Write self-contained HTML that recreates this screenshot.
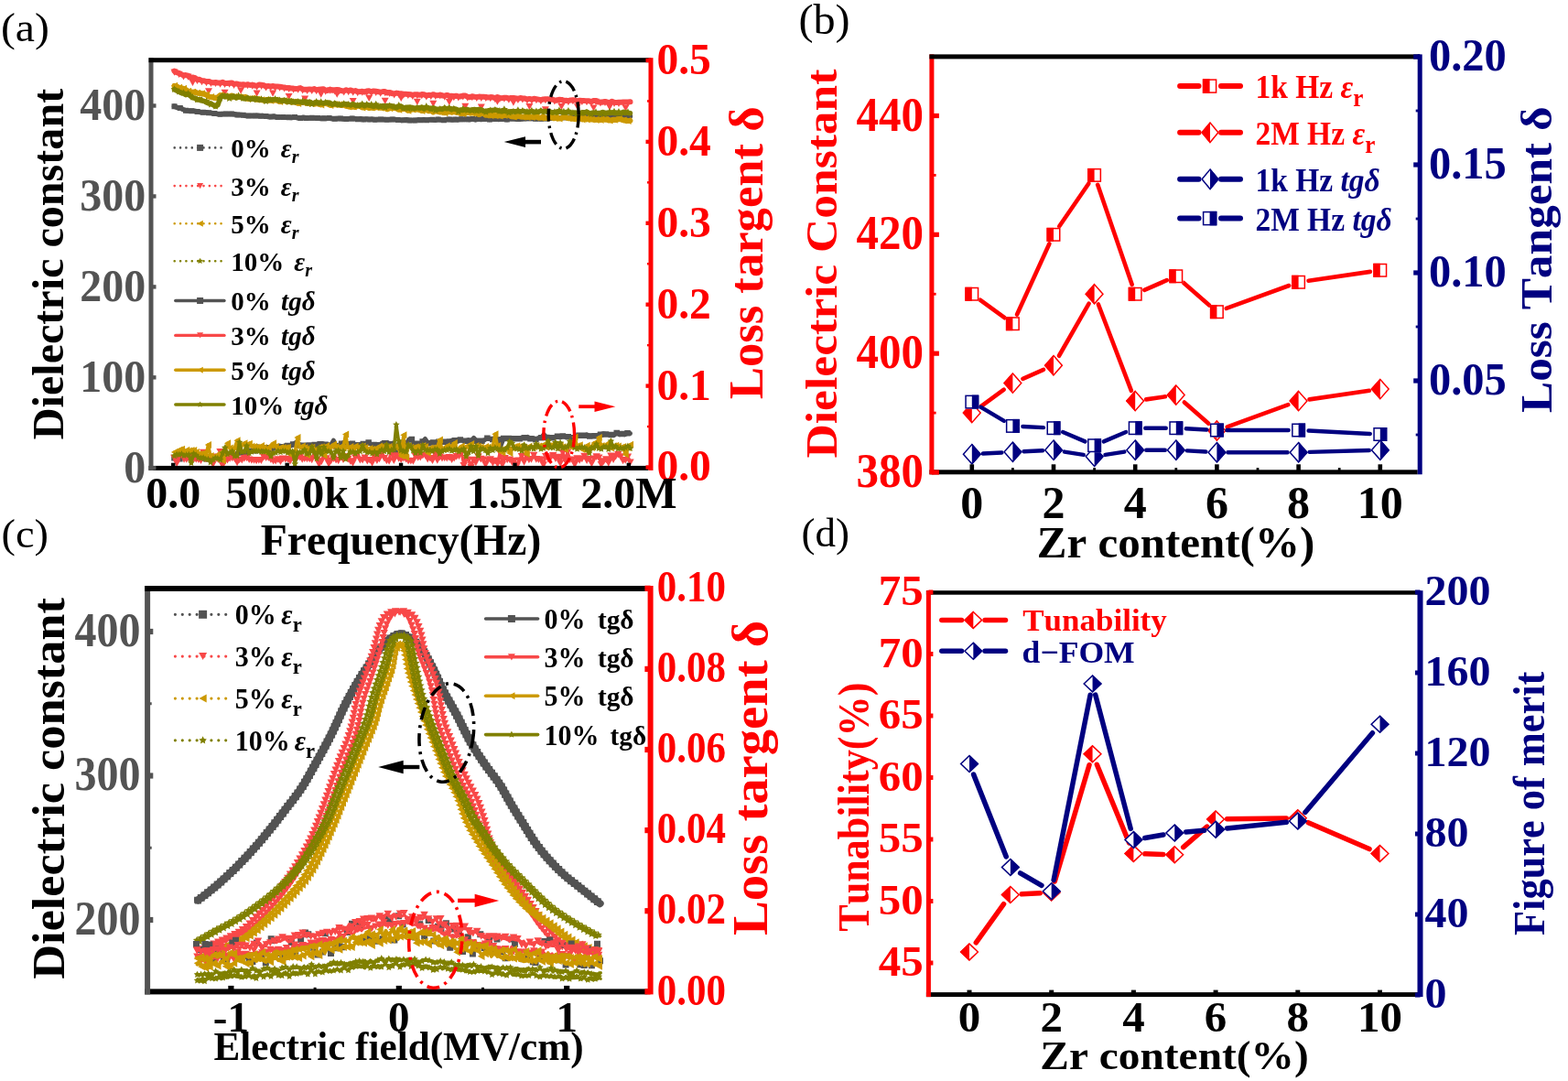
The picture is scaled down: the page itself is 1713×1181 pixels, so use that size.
<!DOCTYPE html>
<html><head><meta charset="utf-8"><title>Figure</title>
<style>html,body{margin:0;padding:0;background:#fff;}svg{display:block;}text{font-kerning:none;}</style></head>
<body><svg width="1713" height="1181" viewBox="0 0 1713 1181" font-family='"Liberation Serif", "Times New Roman", serif' font-weight="bold">
<rect width="1713" height="1181" fill="#fff"/>
<g id="pa">
<polyline points="190.5,116.2 193.6,117.6 196.8,118.1 199.9,119.5 203.0,120.7 206.2,121.0 209.3,121.3 212.4,121.3 215.6,122.0 218.7,122.4 221.8,122.7 225.0,122.7 228.1,123.3 231.2,123.5 234.3,124.0 237.5,124.5 240.6,124.7 243.7,124.5 246.9,124.6 250.0,124.6 253.1,124.6 256.3,124.8 259.4,125.5 262.5,125.5 265.7,125.8 268.8,126.5 271.9,126.4 275.1,126.6 278.2,126.4 281.3,126.3 284.5,126.7 287.6,126.6 290.7,127.1 293.9,127.7 297.0,127.5 300.1,127.1 303.3,128.0 306.4,128.0 309.5,128.0 312.7,128.3 315.8,128.3 318.9,128.4 322.0,128.1 325.2,128.8 328.3,128.9 331.4,128.3 334.6,129.0 337.7,129.0 340.8,128.8 344.0,129.0 347.1,129.0 350.2,129.5 353.4,129.2 356.5,129.6 359.6,129.1 362.8,129.7 365.9,129.8 369.0,129.5 372.2,129.6 375.3,130.0 378.4,129.9 381.6,129.7 384.7,129.6 387.8,129.7 391.0,130.2 394.1,129.7 397.2,130.5 400.3,129.9 403.5,130.6 406.6,130.1 409.7,130.8 412.9,130.6 416.0,130.5 419.1,130.6 422.3,130.8 425.4,130.8 428.5,130.6 431.7,130.6 434.8,130.9 437.9,131.4 441.1,131.2 444.2,130.7 447.3,131.5 450.5,131.4 453.6,131.6 456.7,130.8 459.9,131.3 463.0,130.6 466.1,131.2 469.3,130.8 472.4,130.7 475.5,131.3 478.7,130.5 481.8,130.9 484.9,131.2 488.0,130.5 491.2,130.5 494.3,131.1 497.4,130.6 500.6,130.9 503.7,130.2 506.8,130.5 510.0,130.2 513.1,130.7 516.2,130.1 519.4,130.9 522.5,130.0 525.6,130.6 528.8,129.9 531.9,130.1 535.0,130.6 538.2,129.9 541.3,129.9 544.4,130.4 547.6,130.1 550.7,129.7 553.8,130.6 557.0,129.7 560.1,129.6 563.2,129.9 566.3,130.1 569.5,130.1 572.6,129.4 575.7,129.6 578.9,129.2 582.0,129.5 585.1,129.7 588.3,129.6 591.4,129.7 594.5,129.4 597.7,129.5 600.8,129.2 603.9,128.9 607.1,128.6 610.2,128.9 613.3,128.5 616.5,128.2 619.6,128.4 622.7,128.8 625.9,127.9 629.0,128.3 632.1,128.0 635.3,128.0 638.4,127.6 641.5,128.3 644.7,127.5 647.8,127.8 650.9,127.5 654.0,127.0 657.2,127.5 660.3,126.9 663.4,126.8 666.6,126.7 669.7,126.7 672.8,126.5 676.0,127.0 679.1,126.8 682.2,127.2 685.4,127.0 688.5,127.0" fill="none" stroke="#535353" stroke-width="5.5" stroke-linejoin="round" stroke-linecap="round"/>
<path d="M187.5 113.2h6.0v6.0h-6.0zM193.8 115.1h6.0v6.0h-6.0zM200.0 117.7h6.0v6.0h-6.0zM206.3 118.3h6.0v6.0h-6.0zM212.6 119.0h6.0v6.0h-6.0zM218.8 119.7h6.0v6.0h-6.0zM225.1 120.3h6.0v6.0h-6.0zM231.3 121.0h6.0v6.0h-6.0zM237.6 121.7h6.0v6.0h-6.0zM243.9 121.6h6.0v6.0h-6.0zM250.1 121.6h6.0v6.0h-6.0zM256.4 122.5h6.0v6.0h-6.0zM262.7 122.8h6.0v6.0h-6.0zM268.9 123.4h6.0v6.0h-6.0zM275.2 123.4h6.0v6.0h-6.0zM281.5 123.7h6.0v6.0h-6.0zM287.7 124.1h6.0v6.0h-6.0zM294.0 124.5h6.0v6.0h-6.0zM300.3 125.0h6.0v6.0h-6.0zM306.5 125.0h6.0v6.0h-6.0zM312.8 125.3h6.0v6.0h-6.0zM319.0 125.1h6.0v6.0h-6.0zM325.3 125.9h6.0v6.0h-6.0zM331.6 126.0h6.0v6.0h-6.0zM337.8 125.8h6.0v6.0h-6.0zM344.1 126.0h6.0v6.0h-6.0zM350.4 126.2h6.0v6.0h-6.0zM356.6 126.1h6.0v6.0h-6.0zM362.9 126.8h6.0v6.0h-6.0zM369.2 126.6h6.0v6.0h-6.0zM375.4 126.9h6.0v6.0h-6.0zM381.7 126.6h6.0v6.0h-6.0zM388.0 127.2h6.0v6.0h-6.0zM394.2 127.5h6.0v6.0h-6.0zM400.5 127.6h6.0v6.0h-6.0zM406.7 127.8h6.0v6.0h-6.0zM413.0 127.5h6.0v6.0h-6.0zM419.3 127.8h6.0v6.0h-6.0zM425.5 127.6h6.0v6.0h-6.0zM431.8 127.9h6.0v6.0h-6.0zM438.1 128.2h6.0v6.0h-6.0zM444.3 128.5h6.0v6.0h-6.0zM450.6 128.6h6.0v6.0h-6.0zM456.9 128.3h6.0v6.0h-6.0zM463.1 128.2h6.0v6.0h-6.0zM469.4 127.7h6.0v6.0h-6.0zM475.7 127.5h6.0v6.0h-6.0zM481.9 128.2h6.0v6.0h-6.0zM488.2 127.5h6.0v6.0h-6.0zM494.4 127.6h6.0v6.0h-6.0zM500.7 127.2h6.0v6.0h-6.0zM507.0 127.2h6.0v6.0h-6.0zM513.2 127.1h6.0v6.0h-6.0zM519.5 127.0h6.0v6.0h-6.0zM525.8 126.9h6.0v6.0h-6.0zM532.0 127.6h6.0v6.0h-6.0zM538.3 126.9h6.0v6.0h-6.0zM544.6 127.1h6.0v6.0h-6.0zM550.8 127.6h6.0v6.0h-6.0zM557.1 126.6h6.0v6.0h-6.0zM563.3 127.1h6.0v6.0h-6.0zM569.6 126.4h6.0v6.0h-6.0zM575.9 126.2h6.0v6.0h-6.0zM582.1 126.7h6.0v6.0h-6.0zM588.4 126.7h6.0v6.0h-6.0zM594.7 126.5h6.0v6.0h-6.0zM600.9 125.9h6.0v6.0h-6.0zM607.2 125.9h6.0v6.0h-6.0zM613.5 125.2h6.0v6.0h-6.0zM619.7 125.8h6.0v6.0h-6.0zM626.0 125.3h6.0v6.0h-6.0zM632.3 125.0h6.0v6.0h-6.0zM638.5 125.3h6.0v6.0h-6.0zM644.8 124.8h6.0v6.0h-6.0zM651.0 124.0h6.0v6.0h-6.0zM657.3 123.9h6.0v6.0h-6.0zM663.6 123.7h6.0v6.0h-6.0zM669.8 123.5h6.0v6.0h-6.0zM676.1 123.8h6.0v6.0h-6.0zM682.4 124.0h6.0v6.0h-6.0z" fill="#535353"/>
<polyline points="190.5,77.6 193.0,79.1 195.5,79.9 198.0,81.3 200.5,82.3 203.0,82.1 205.5,82.7 208.0,84.7 210.5,84.5 213.0,85.1 215.5,87.0 218.0,86.8 220.5,88.1 223.0,88.2 225.5,89.1 228.0,88.9 230.5,89.8 233.0,90.4 235.5,90.0 238.0,90.5 240.6,90.6 243.1,89.8 245.6,91.0 248.1,91.0 250.6,90.7 253.1,90.4 255.6,91.9 258.1,91.4 260.6,92.0 263.1,92.4 265.6,92.3 268.1,92.8 270.6,92.2 273.1,93.0 275.6,92.6 278.1,93.6 280.6,93.7 283.1,92.6 285.6,92.8 288.1,93.2 290.6,94.5 293.1,93.9 295.6,94.4 298.1,94.0 300.6,94.6 303.1,94.5 305.6,94.7 308.1,95.2 310.6,95.4 313.1,96.1 315.6,96.0 318.1,96.5 320.6,96.6 323.1,97.0 325.6,96.7 328.1,96.1 330.6,97.4 333.1,97.7 335.6,97.8 338.1,97.4 340.7,97.8 343.2,97.1 345.7,98.2 348.2,97.8 350.7,97.5 353.2,97.2 355.7,98.6 358.2,98.9 360.7,97.6 363.2,98.8 365.7,98.3 368.2,98.0 370.7,98.3 373.2,99.2 375.7,99.4 378.2,98.2 380.7,99.2 383.2,98.4 385.7,99.6 388.2,99.1 390.7,100.1 393.2,100.3 395.7,99.7 398.2,100.6 400.7,99.6 403.2,99.3 405.7,100.2 408.2,99.4 410.7,99.8 413.2,100.2 415.7,100.6 418.2,100.1 420.7,100.1 423.2,101.6 425.7,100.9 428.2,102.2 430.7,102.3 433.2,101.6 435.7,102.0 438.2,102.3 440.8,102.7 443.3,102.8 445.8,102.9 448.3,103.2 450.8,103.8 453.3,103.2 455.8,103.2 458.3,103.8 460.8,103.1 463.3,103.3 465.8,104.5 468.3,103.8 470.8,104.0 473.3,103.2 475.8,103.9 478.3,104.3 480.8,103.5 483.3,104.6 485.8,104.7 488.3,103.9 490.8,104.9 493.3,104.7 495.8,105.2 498.3,104.7 500.8,105.4 503.3,105.5 505.8,104.5 508.3,104.6 510.8,105.7 513.3,106.3 515.8,105.2 518.3,105.7 520.8,106.0 523.3,105.6 525.8,105.8 528.3,105.8 530.8,106.0 533.3,106.5 535.8,106.1 538.3,106.3 540.9,107.1 543.4,106.0 545.9,106.9 548.4,107.3 550.9,106.7 553.4,106.7 555.9,107.7 558.4,106.9 560.9,106.9 563.4,107.4 565.9,107.9 568.4,107.0 570.9,107.5 573.4,107.6 575.9,108.5 578.4,107.9 580.9,108.7 583.4,107.7 585.9,108.1 588.4,108.6 590.9,109.1 593.4,108.5 595.9,108.2 598.4,108.2 600.9,108.9 603.4,108.4 605.9,109.5 608.4,109.7 610.9,108.7 613.4,108.9 615.9,109.9 618.4,109.7 620.9,110.1 623.4,109.4 625.9,109.2 628.4,109.5 630.9,110.4 633.4,109.7 635.9,109.9 638.4,110.1 641.0,110.2 643.5,110.2 646.0,111.1 648.5,110.0 651.0,109.9 653.5,111.5 656.0,111.4 658.5,111.7 661.0,110.9 663.5,111.8 666.0,111.9 668.5,110.8 671.0,111.8 673.5,112.0 676.0,111.8 678.5,111.7 681.0,111.4 683.5,111.6 686.0,111.5 688.5,111.3" fill="none" stroke="#F84848" stroke-width="6" stroke-linejoin="round" stroke-linecap="round"/>
<path d="M186.5 75.5h8.0l-4.0 7.2zM191.5 77.8h8.0l-4.0 7.2zM196.5 80.2h8.0l-4.0 7.2zM201.5 80.6h8.0l-4.0 7.2zM206.5 82.4h8.0l-4.0 7.2zM211.5 84.9h8.0l-4.0 7.2zM216.5 86.0h8.0l-4.0 7.2zM221.5 87.0h8.0l-4.0 7.2zM226.5 87.7h8.0l-4.0 7.2zM231.5 87.9h8.0l-4.0 7.2zM236.6 88.5h8.0l-4.0 7.2zM241.6 88.9h8.0l-4.0 7.2zM246.6 88.6h8.0l-4.0 7.2zM251.6 89.8h8.0l-4.0 7.2zM256.6 89.9h8.0l-4.0 7.2zM261.6 90.2h8.0l-4.0 7.2zM266.6 90.1h8.0l-4.0 7.2zM271.6 90.5h8.0l-4.0 7.2zM276.6 91.6h8.0l-4.0 7.2zM281.6 90.7h8.0l-4.0 7.2zM286.6 92.4h8.0l-4.0 7.2zM291.6 92.3h8.0l-4.0 7.2zM296.6 92.5h8.0l-4.0 7.2zM301.6 92.6h8.0l-4.0 7.2zM306.6 93.3h8.0l-4.0 7.2zM311.6 93.9h8.0l-4.0 7.2zM316.6 94.5h8.0l-4.0 7.2zM321.6 94.6h8.0l-4.0 7.2zM326.6 95.3h8.0l-4.0 7.2zM331.6 95.7h8.0l-4.0 7.2zM336.7 95.7h8.0l-4.0 7.2zM341.7 96.1h8.0l-4.0 7.2zM346.7 95.4h8.0l-4.0 7.2zM351.7 96.5h8.0l-4.0 7.2zM356.7 95.5h8.0l-4.0 7.2zM361.7 96.2h8.0l-4.0 7.2zM366.7 96.2h8.0l-4.0 7.2zM371.7 97.3h8.0l-4.0 7.2zM376.7 97.1h8.0l-4.0 7.2zM381.7 97.5h8.0l-4.0 7.2zM386.7 98.0h8.0l-4.0 7.2zM391.7 97.6h8.0l-4.0 7.2zM396.7 97.5h8.0l-4.0 7.2zM401.7 98.1h8.0l-4.0 7.2zM406.7 97.7h8.0l-4.0 7.2zM411.7 98.5h8.0l-4.0 7.2zM416.7 98.0h8.0l-4.0 7.2zM421.7 98.8h8.0l-4.0 7.2zM426.7 100.2h8.0l-4.0 7.2zM431.7 99.9h8.0l-4.0 7.2zM436.8 100.6h8.0l-4.0 7.2zM441.8 100.8h8.0l-4.0 7.2zM446.8 101.7h8.0l-4.0 7.2zM451.8 101.1h8.0l-4.0 7.2zM456.8 101.0h8.0l-4.0 7.2zM461.8 102.4h8.0l-4.0 7.2zM466.8 101.9h8.0l-4.0 7.2zM471.8 101.8h8.0l-4.0 7.2zM476.8 101.4h8.0l-4.0 7.2zM481.8 102.6h8.0l-4.0 7.2zM486.8 102.8h8.0l-4.0 7.2zM491.8 103.1h8.0l-4.0 7.2zM496.8 103.3h8.0l-4.0 7.2zM501.8 102.4h8.0l-4.0 7.2zM506.8 103.6h8.0l-4.0 7.2zM511.8 103.1h8.0l-4.0 7.2zM516.8 103.9h8.0l-4.0 7.2zM521.8 103.7h8.0l-4.0 7.2zM526.8 103.9h8.0l-4.0 7.2zM531.8 104.0h8.0l-4.0 7.2zM536.9 105.0h8.0l-4.0 7.2zM541.9 104.8h8.0l-4.0 7.2zM546.9 104.6h8.0l-4.0 7.2zM551.9 105.6h8.0l-4.0 7.2zM556.9 104.8h8.0l-4.0 7.2zM561.9 105.8h8.0l-4.0 7.2zM566.9 105.4h8.0l-4.0 7.2zM571.9 106.4h8.0l-4.0 7.2zM576.9 106.6h8.0l-4.0 7.2zM581.9 106.0h8.0l-4.0 7.2zM586.9 107.0h8.0l-4.0 7.2zM591.9 106.1h8.0l-4.0 7.2zM596.9 106.8h8.0l-4.0 7.2zM601.9 107.4h8.0l-4.0 7.2zM606.9 106.6h8.0l-4.0 7.2zM611.9 107.8h8.0l-4.0 7.2zM616.9 108.0h8.0l-4.0 7.2zM621.9 107.1h8.0l-4.0 7.2zM626.9 108.3h8.0l-4.0 7.2zM631.9 107.8h8.0l-4.0 7.2zM637.0 108.1h8.0l-4.0 7.2zM642.0 109.0h8.0l-4.0 7.2zM647.0 107.8h8.0l-4.0 7.2zM652.0 109.3h8.0l-4.0 7.2zM657.0 108.8h8.0l-4.0 7.2zM662.0 109.8h8.0l-4.0 7.2zM667.0 109.7h8.0l-4.0 7.2zM672.0 109.7h8.0l-4.0 7.2zM677.0 109.3h8.0l-4.0 7.2zM682.0 109.4h8.0l-4.0 7.2z" fill="#F84848"/>
<path d="M206.5 86.8h8.0l-4.0 7.2zM224.0 96.2h8.0l-4.0 7.2zM241.6 97.8h8.0l-4.0 7.2zM259.1 95.6h8.0l-4.0 7.2zM276.6 98.5h8.0l-4.0 7.2zM294.1 98.6h8.0l-4.0 7.2zM311.6 101.9h8.0l-4.0 7.2zM329.1 104.6h8.0l-4.0 7.2zM346.7 99.5h8.0l-4.0 7.2zM364.2 99.6h8.0l-4.0 7.2zM381.7 106.9h8.0l-4.0 7.2zM399.2 103.7h8.0l-4.0 7.2zM416.7 106.8h8.0l-4.0 7.2zM434.2 103.7h8.0l-4.0 7.2zM451.8 107.7h8.0l-4.0 7.2zM469.3 109.7h8.0l-4.0 7.2zM486.8 107.9h8.0l-4.0 7.2zM504.3 112.7h8.0l-4.0 7.2zM521.8 113.5h8.0l-4.0 7.2zM539.4 107.6h8.0l-4.0 7.2zM556.9 108.5h8.0l-4.0 7.2zM574.4 113.1h8.0l-4.0 7.2zM591.9 116.2h8.0l-4.0 7.2zM609.4 113.0h8.0l-4.0 7.2zM626.9 113.3h8.0l-4.0 7.2zM644.5 114.4h8.0l-4.0 7.2zM662.0 113.5h8.0l-4.0 7.2zM679.5 114.5h8.0l-4.0 7.2z" fill="#F84848"/>
<polyline points="190.5,93.8 193.0,94.4 195.5,95.8 198.0,96.1 200.5,96.8 203.0,98.1 205.5,99.8 208.0,100.2 210.5,100.8 213.0,100.4 215.5,101.7 218.0,101.8 220.5,102.2 223.0,102.7 225.5,103.6 228.0,105.6 230.5,106.0 233.0,106.5 235.5,107.0 238.0,106.3 240.6,104.1 243.1,104.5 245.6,104.9 248.1,105.4 250.6,105.7 253.1,104.4 255.6,105.7 258.1,106.1 260.6,106.0 263.1,105.6 265.6,106.4 268.1,105.9 270.6,107.9 273.1,108.0 275.6,107.6 278.1,107.4 280.6,108.8 283.1,108.4 285.6,109.3 288.1,109.5 290.6,109.1 293.1,109.1 295.6,109.8 298.1,109.7 300.6,109.4 303.1,109.8 305.6,111.1 308.1,109.7 310.6,109.9 313.1,111.2 315.6,110.7 318.1,111.4 320.6,111.5 323.1,111.4 325.6,112.9 328.1,111.5 330.6,112.1 333.1,111.9 335.6,113.0 338.1,112.4 340.7,112.7 343.2,113.7 345.7,113.0 348.2,113.6 350.7,114.5 353.2,113.1 355.7,113.1 358.2,113.6 360.7,114.9 363.2,114.7 365.7,114.1 368.2,114.5 370.7,114.3 373.2,115.1 375.7,114.4 378.2,115.9 380.7,116.4 383.2,116.7 385.7,116.4 388.2,117.0 390.7,115.3 393.2,116.0 395.7,117.5 398.2,117.3 400.7,116.8 403.2,118.0 405.7,117.5 408.2,118.1 410.7,117.2 413.2,117.1 415.7,117.8 418.2,117.3 420.7,118.0 423.2,119.3 425.7,118.2 428.2,117.7 430.7,118.0 433.2,118.4 435.7,119.8 438.2,119.1 440.8,119.1 443.3,118.9 445.8,120.8 448.3,119.9 450.8,119.6 453.3,119.4 455.8,119.6 458.3,119.9 460.8,121.1 463.3,120.2 465.8,120.1 468.3,121.2 470.8,120.8 473.3,122.5 475.8,120.9 478.3,121.9 480.8,122.5 483.3,121.9 485.8,123.2 488.3,122.3 490.8,122.0 493.3,122.5 495.8,121.9 498.3,122.8 500.8,122.6 503.3,124.1 505.8,124.1 508.3,123.6 510.8,122.8 513.3,123.4 515.8,123.5 518.3,123.6 520.8,123.8 523.3,125.2 525.8,123.9 528.3,123.9 530.8,125.8 533.3,125.2 535.8,126.2 538.3,125.2 540.9,126.3 543.4,126.0 545.9,126.4 548.4,126.4 550.9,126.1 553.4,125.4 555.9,125.8 558.4,127.3 560.9,127.5 563.4,127.7 565.9,126.7 568.4,127.4 570.9,127.8 573.4,127.6 575.9,128.0 578.4,127.5 580.9,127.9 583.4,128.0 585.9,127.3 588.4,128.7 590.9,128.8 593.4,127.2 595.9,129.0 598.4,129.1 600.9,128.6 603.4,127.5 605.9,129.3 608.4,127.8 610.9,129.6 613.4,129.1 615.9,128.0 618.4,128.3 620.9,129.3 623.4,129.2 625.9,129.7 628.4,130.1 630.9,128.8 633.4,128.5 635.9,130.4 638.4,128.7 641.0,130.5 643.5,129.1 646.0,130.6 648.5,130.6 651.0,130.9 653.5,130.3 656.0,131.1 658.5,129.8 661.0,130.8 663.5,130.2 666.0,131.5 668.5,131.3 671.0,130.8 673.5,131.0 676.0,130.1 678.5,130.2 681.0,131.4 683.5,131.3 686.0,132.1 688.5,131.7" fill="none" stroke="#CC9900" stroke-width="6" stroke-linejoin="round" stroke-linecap="round"/>
<path d="M186.9 93.8l7.2 -4.0v8.0zM191.9 95.8l7.2 -4.0v8.0zM196.9 96.8l7.2 -4.0v8.0zM201.9 99.8l7.2 -4.0v8.0zM206.9 100.8l7.2 -4.0v8.0zM211.9 101.7l7.2 -4.0v8.0zM216.9 102.2l7.2 -4.0v8.0zM221.9 103.6l7.2 -4.0v8.0zM226.9 106.0l7.2 -4.0v8.0zM231.9 107.0l7.2 -4.0v8.0zM237.0 104.1l7.2 -4.0v8.0zM242.0 104.9l7.2 -4.0v8.0zM247.0 105.7l7.2 -4.0v8.0zM252.0 105.7l7.2 -4.0v8.0zM257.0 106.0l7.2 -4.0v8.0zM262.0 106.4l7.2 -4.0v8.0zM267.0 107.9l7.2 -4.0v8.0zM272.0 107.6l7.2 -4.0v8.0zM277.0 108.8l7.2 -4.0v8.0zM282.0 109.3l7.2 -4.0v8.0zM287.0 109.1l7.2 -4.0v8.0zM292.0 109.8l7.2 -4.0v8.0zM297.0 109.4l7.2 -4.0v8.0zM302.0 111.1l7.2 -4.0v8.0zM307.0 109.9l7.2 -4.0v8.0zM312.0 110.7l7.2 -4.0v8.0zM317.0 111.5l7.2 -4.0v8.0zM322.0 112.9l7.2 -4.0v8.0zM327.0 112.1l7.2 -4.0v8.0zM332.0 113.0l7.2 -4.0v8.0zM337.1 112.7l7.2 -4.0v8.0zM342.1 113.0l7.2 -4.0v8.0zM347.1 114.5l7.2 -4.0v8.0zM352.1 113.1l7.2 -4.0v8.0zM357.1 114.9l7.2 -4.0v8.0zM362.1 114.1l7.2 -4.0v8.0zM367.1 114.3l7.2 -4.0v8.0zM372.1 114.4l7.2 -4.0v8.0zM377.1 116.4l7.2 -4.0v8.0zM382.1 116.4l7.2 -4.0v8.0zM387.1 115.3l7.2 -4.0v8.0zM392.1 117.5l7.2 -4.0v8.0zM397.1 116.8l7.2 -4.0v8.0zM402.1 117.5l7.2 -4.0v8.0zM407.1 117.2l7.2 -4.0v8.0zM412.1 117.8l7.2 -4.0v8.0zM417.1 118.0l7.2 -4.0v8.0zM422.1 118.2l7.2 -4.0v8.0zM427.1 118.0l7.2 -4.0v8.0zM432.1 119.8l7.2 -4.0v8.0zM437.2 119.1l7.2 -4.0v8.0zM442.2 120.8l7.2 -4.0v8.0zM447.2 119.6l7.2 -4.0v8.0zM452.2 119.6l7.2 -4.0v8.0zM457.2 121.1l7.2 -4.0v8.0zM462.2 120.1l7.2 -4.0v8.0zM467.2 120.8l7.2 -4.0v8.0zM472.2 120.9l7.2 -4.0v8.0zM477.2 122.5l7.2 -4.0v8.0zM482.2 123.2l7.2 -4.0v8.0zM487.2 122.0l7.2 -4.0v8.0zM492.2 121.9l7.2 -4.0v8.0zM497.2 122.6l7.2 -4.0v8.0zM502.2 124.1l7.2 -4.0v8.0zM507.2 122.8l7.2 -4.0v8.0zM512.2 123.5l7.2 -4.0v8.0zM517.2 123.8l7.2 -4.0v8.0zM522.2 123.9l7.2 -4.0v8.0zM527.2 125.8l7.2 -4.0v8.0zM532.2 126.2l7.2 -4.0v8.0zM537.3 126.3l7.2 -4.0v8.0zM542.3 126.4l7.2 -4.0v8.0zM547.3 126.1l7.2 -4.0v8.0zM552.3 125.8l7.2 -4.0v8.0zM557.3 127.5l7.2 -4.0v8.0zM562.3 126.7l7.2 -4.0v8.0zM567.3 127.8l7.2 -4.0v8.0zM572.3 128.0l7.2 -4.0v8.0zM577.3 127.9l7.2 -4.0v8.0zM582.3 127.3l7.2 -4.0v8.0zM587.3 128.8l7.2 -4.0v8.0zM592.3 129.0l7.2 -4.0v8.0zM597.3 128.6l7.2 -4.0v8.0zM602.3 129.3l7.2 -4.0v8.0zM607.3 129.6l7.2 -4.0v8.0zM612.3 128.0l7.2 -4.0v8.0zM617.3 129.3l7.2 -4.0v8.0zM622.3 129.7l7.2 -4.0v8.0zM627.3 128.8l7.2 -4.0v8.0zM632.3 130.4l7.2 -4.0v8.0zM637.4 130.5l7.2 -4.0v8.0zM642.4 130.6l7.2 -4.0v8.0zM647.4 130.9l7.2 -4.0v8.0zM652.4 131.1l7.2 -4.0v8.0zM657.4 130.8l7.2 -4.0v8.0zM662.4 131.5l7.2 -4.0v8.0zM667.4 130.8l7.2 -4.0v8.0zM672.4 130.1l7.2 -4.0v8.0zM677.4 131.4l7.2 -4.0v8.0zM682.4 132.1l7.2 -4.0v8.0z" fill="#CC9900"/>
<polyline points="190.5,97.7 193.0,99.0 195.5,100.2 198.0,101.5 200.5,102.2 203.0,103.7 205.5,102.9 208.0,104.9 210.5,106.9 213.0,107.4 215.5,109.0 218.0,108.4 220.5,110.0 223.0,110.5 225.5,112.0 228.0,113.1 230.5,113.1 233.0,114.7 235.5,115.9 238.0,114.7 240.6,106.9 243.1,104.5 245.6,105.9 248.1,104.8 250.6,106.0 253.1,105.2 255.6,105.1 258.1,107.0 260.6,105.9 263.1,106.1 265.6,107.8 268.1,107.8 270.6,106.8 273.1,108.4 275.6,107.7 278.1,108.2 280.6,107.4 283.1,109.1 285.6,108.8 288.1,109.5 290.6,109.6 293.1,108.6 295.6,108.9 298.1,108.7 300.6,108.8 303.1,108.8 305.6,109.5 308.1,110.3 310.6,109.2 313.1,110.7 315.6,110.2 318.1,110.3 320.6,111.5 323.1,111.0 325.6,110.9 328.1,111.4 330.6,112.0 333.1,110.9 335.6,112.9 338.1,111.1 340.7,112.7 343.2,113.0 345.7,111.5 348.2,113.1 350.7,112.4 353.2,113.0 355.7,111.9 358.2,112.1 360.7,112.5 363.2,114.2 365.7,112.8 368.2,114.1 370.7,114.5 373.2,114.7 375.7,113.6 378.2,113.8 380.7,114.2 383.2,114.8 385.7,113.6 388.2,115.0 390.7,115.3 393.2,115.5 395.7,114.0 398.2,115.9 400.7,114.3 403.2,115.0 405.7,115.6 408.2,116.4 410.7,115.3 413.2,116.6 415.7,116.0 418.2,115.6 420.7,115.8 423.2,115.6 425.7,115.6 428.2,115.8 430.7,117.0 433.2,117.8 435.7,116.2 438.2,116.1 440.8,118.1 443.3,117.3 445.8,117.2 448.3,117.0 450.8,117.8 453.3,118.3 455.8,117.7 458.3,117.7 460.8,117.1 463.3,118.9 465.8,117.2 468.3,118.2 470.8,119.0 473.3,117.7 475.8,119.0 478.3,119.5 480.8,118.9 483.3,119.3 485.8,118.1 488.3,118.8 490.8,118.3 493.3,119.8 495.8,118.8 498.3,119.2 500.8,120.4 503.3,120.2 505.8,120.5 508.3,119.6 510.8,119.7 513.3,120.3 515.8,119.9 518.3,119.6 520.8,119.9 523.3,119.5 525.8,120.0 528.3,121.3 530.8,121.4 533.3,120.8 535.8,120.6 538.3,120.4 540.9,120.0 543.4,120.4 545.9,121.5 548.4,121.8 550.9,120.9 553.4,121.8 555.9,121.9 558.4,121.8 560.9,121.8 563.4,122.1 565.9,121.4 568.4,122.1 570.9,121.3 573.4,121.8 575.9,122.4 578.4,122.3 580.9,121.5 583.4,122.8 585.9,122.3 588.4,122.2 590.9,121.1 593.4,122.2 595.9,121.6 598.4,122.5 600.9,122.1 603.4,122.9 605.9,122.6 608.4,122.9 610.9,122.1 613.4,122.7 615.9,122.9 618.4,123.1 620.9,122.2 623.4,123.2 625.9,123.3 628.4,123.0 630.9,123.6 633.4,123.6 635.9,122.8 638.4,122.8 641.0,122.1 643.5,123.5 646.0,123.7 648.5,122.9 651.0,123.3 653.5,123.4 656.0,123.5 658.5,122.4 661.0,123.7 663.5,123.3 666.0,123.5 668.5,123.0 671.0,123.5 673.5,123.8 676.0,123.6 678.5,123.8 681.0,122.4 683.5,122.7 686.0,123.3 688.5,123.8" fill="none" stroke="#808000" stroke-width="5.5" stroke-linejoin="round" stroke-linecap="round"/>
<path d="M190.5 93.2L191.7 95.8L194.5 96.2L192.5 98.1L193.0 100.9L190.5 99.6L188.0 100.9L188.5 98.1L186.5 96.2L189.3 95.8zM195.5 95.9L196.8 98.4L199.5 98.8L197.5 100.8L198.0 103.6L195.5 102.3L193.0 103.6L193.5 100.8L191.5 98.8L194.3 98.4zM200.5 97.2L201.8 99.7L204.6 100.1L202.5 102.1L203.0 104.8L200.5 103.5L198.0 104.8L198.5 102.1L196.5 100.1L199.3 99.7zM205.5 97.9L206.8 100.4L209.6 100.8L207.5 102.8L208.0 105.6L205.5 104.3L203.0 105.6L203.5 102.8L201.5 100.8L204.3 100.4zM210.5 101.9L211.8 104.4L214.6 104.8L212.5 106.8L213.0 109.5L210.5 108.2L208.0 109.5L208.5 106.8L206.5 104.8L209.3 104.4zM215.5 104.6L216.8 107.2L219.6 107.6L217.5 109.5L218.0 112.3L215.5 111.0L213.0 112.3L213.5 109.5L211.5 107.6L214.3 107.2zM220.5 105.1L221.8 107.7L224.6 108.1L222.6 110.0L223.0 112.8L220.5 111.5L218.0 112.8L218.5 110.0L216.5 108.1L219.3 107.7zM225.5 106.4L226.8 108.9L229.6 109.3L227.6 111.3L228.0 114.0L225.5 112.7L223.0 114.0L223.5 111.3L221.5 109.3L224.3 108.9zM230.5 109.9L231.8 112.4L234.6 112.8L232.6 114.8L233.0 117.6L230.5 116.3L228.0 117.6L228.5 114.8L226.5 112.8L229.3 112.4zM235.5 111.8L236.8 114.4L239.6 114.8L237.6 116.7L238.0 119.5L235.5 118.2L233.0 119.5L233.5 116.7L231.5 114.8L234.3 114.4zM240.6 103.1L241.8 105.6L244.6 106.0L242.6 108.0L243.0 110.7L240.6 109.4L238.1 110.7L238.5 108.0L236.5 106.0L239.3 105.6zM245.6 100.7L246.8 103.3L249.6 103.7L247.6 105.7L248.1 108.4L245.6 107.1L243.1 108.4L243.5 105.7L241.5 103.7L244.3 103.3zM250.6 103.2L251.8 105.7L254.6 106.1L252.6 108.1L253.1 110.9L250.6 109.6L248.1 110.9L248.5 108.1L246.5 106.1L249.3 105.7zM255.6 101.9L256.8 104.5L259.6 104.9L257.6 106.9L258.1 109.6L255.6 108.3L253.1 109.6L253.5 106.9L251.5 104.9L254.3 104.5zM260.6 100.5L261.8 103.1L264.6 103.5L262.6 105.4L263.1 108.2L260.6 106.9L258.1 108.2L258.5 105.4L256.5 103.5L259.3 103.1zM265.6 103.1L266.8 105.6L269.6 106.0L267.6 108.0L268.1 110.8L265.6 109.5L263.1 110.8L263.6 108.0L261.5 106.0L264.3 105.6zM270.6 103.2L271.8 105.8L274.6 106.2L272.6 108.2L273.1 110.9L270.6 109.6L268.1 110.9L268.6 108.2L266.5 106.2L269.3 105.8zM275.6 104.1L276.8 106.6L279.6 107.0L277.6 109.0L278.1 111.8L275.6 110.5L273.1 111.8L273.6 109.0L271.5 107.0L274.3 106.6zM280.6 104.5L281.8 107.0L284.6 107.4L282.6 109.4L283.1 112.2L280.6 110.9L278.1 112.2L278.6 109.4L276.5 107.4L279.3 107.0zM285.6 104.3L286.8 106.8L289.6 107.2L287.6 109.2L288.1 112.0L285.6 110.7L283.1 112.0L283.6 109.2L281.6 107.2L284.3 106.8zM290.6 106.3L291.8 108.8L294.6 109.2L292.6 111.2L293.1 114.0L290.6 112.7L288.1 114.0L288.6 111.2L286.6 109.2L289.4 108.8zM295.6 105.1L296.9 107.7L299.6 108.1L297.6 110.1L298.1 112.8L295.6 111.5L293.1 112.8L293.6 110.1L291.6 108.1L294.4 107.7zM300.6 104.0L301.9 106.5L304.7 106.9L302.6 108.9L303.1 111.7L300.6 110.4L298.1 111.7L298.6 108.9L296.6 106.9L299.4 106.5zM305.6 105.5L306.9 108.0L309.7 108.4L307.6 110.4L308.1 113.2L305.6 111.9L303.1 113.2L303.6 110.4L301.6 108.4L304.4 108.0zM310.6 106.1L311.9 108.7L314.7 109.1L312.6 111.0L313.1 113.8L310.6 112.5L308.1 113.8L308.6 111.0L306.6 109.1L309.4 108.7zM315.6 107.0L316.9 109.6L319.7 110.0L317.6 111.9L318.1 114.7L315.6 113.4L313.1 114.7L313.6 111.9L311.6 110.0L314.4 109.6zM320.6 107.3L321.9 109.8L324.7 110.2L322.7 112.2L323.1 115.0L320.6 113.7L318.1 115.0L318.6 112.2L316.6 110.2L319.4 109.8zM325.6 106.9L326.9 109.4L329.7 109.8L327.7 111.8L328.1 114.6L325.6 113.3L323.1 114.6L323.6 111.8L321.6 109.8L324.4 109.4zM330.6 106.3L331.9 108.9L334.7 109.3L332.7 111.2L333.1 114.0L330.6 112.7L328.1 114.0L328.6 111.2L326.6 109.3L329.4 108.9zM335.6 107.8L336.9 110.4L339.7 110.8L337.7 112.7L338.1 115.5L335.6 114.2L333.1 115.5L333.6 112.7L331.6 110.8L334.4 110.4zM340.7 109.3L341.9 111.9L344.7 112.3L342.7 114.2L343.1 117.0L340.7 115.7L338.2 117.0L338.6 114.2L336.6 112.3L339.4 111.9zM345.7 107.0L346.9 109.5L349.7 109.9L347.7 111.9L348.2 114.6L345.7 113.3L343.2 114.6L343.6 111.9L341.6 109.9L344.4 109.5zM350.7 107.2L351.9 109.7L354.7 110.1L352.7 112.1L353.2 114.9L350.7 113.6L348.2 114.9L348.6 112.1L346.6 110.1L349.4 109.7zM355.7 107.8L356.9 110.4L359.7 110.8L357.7 112.7L358.2 115.5L355.7 114.2L353.2 115.5L353.6 112.7L351.6 110.8L354.4 110.4zM360.7 108.9L361.9 111.4L364.7 111.8L362.7 113.8L363.2 116.6L360.7 115.3L358.2 116.6L358.6 113.8L356.6 111.8L359.4 111.4zM365.7 109.1L366.9 111.6L369.7 112.0L367.7 114.0L368.2 116.8L365.7 115.5L363.2 116.8L363.7 114.0L361.6 112.0L364.4 111.6zM370.7 109.9L371.9 112.4L374.7 112.8L372.7 114.8L373.2 117.6L370.7 116.3L368.2 117.6L368.7 114.8L366.6 112.8L369.4 112.4zM375.7 109.2L376.9 111.7L379.7 112.1L377.7 114.1L378.2 116.9L375.7 115.5L373.2 116.9L373.7 114.1L371.6 112.1L374.4 111.7zM380.7 110.0L381.9 112.5L384.7 112.9L382.7 114.9L383.2 117.7L380.7 116.4L378.2 117.7L378.7 114.9L376.6 112.9L379.4 112.5zM385.7 110.2L386.9 112.7L389.7 113.2L387.7 115.1L388.2 117.9L385.7 116.6L383.2 117.9L383.7 115.1L381.7 113.2L384.4 112.7zM390.7 111.1L392.0 113.6L394.7 114.0L392.7 116.0L393.2 118.8L390.7 117.4L388.2 118.8L388.7 116.0L386.7 114.0L389.5 113.6zM395.7 109.4L397.0 111.9L399.7 112.3L397.7 114.3L398.2 117.1L395.7 115.8L393.2 117.1L393.7 114.3L391.7 112.3L394.5 111.9zM400.7 110.1L402.0 112.6L404.8 113.0L402.7 115.0L403.2 117.7L400.7 116.4L398.2 117.7L398.7 115.0L396.7 113.0L399.5 112.6zM405.7 110.0L407.0 112.5L409.8 112.9L407.7 114.9L408.2 117.7L405.7 116.3L403.2 117.7L403.7 114.9L401.7 112.9L404.5 112.5zM410.7 109.7L412.0 112.2L414.8 112.6L412.7 114.6L413.2 117.4L410.7 116.1L408.2 117.4L408.7 114.6L406.7 112.6L409.5 112.2zM415.7 112.4L417.0 114.9L419.8 115.3L417.7 117.3L418.2 120.0L415.7 118.7L413.2 120.0L413.7 117.3L411.7 115.3L414.5 114.9zM420.7 113.0L422.0 115.5L424.8 115.9L422.8 117.9L423.2 120.7L420.7 119.4L418.2 120.7L418.7 117.9L416.7 115.9L419.5 115.5zM425.7 111.6L427.0 114.1L429.8 114.5L427.8 116.5L428.2 119.3L425.7 118.0L423.2 119.3L423.7 116.5L421.7 114.5L424.5 114.1zM430.7 112.5L432.0 115.0L434.8 115.4L432.8 117.4L433.2 120.1L430.7 118.8L428.2 120.1L428.7 117.4L426.7 115.4L429.5 115.0zM435.7 111.0L437.0 113.5L439.8 113.9L437.8 115.9L438.2 118.7L435.7 117.4L433.2 118.7L433.7 115.9L431.7 113.9L434.5 113.5zM440.8 113.9L442.0 116.4L444.8 116.8L442.8 118.8L443.2 121.6L440.8 120.2L438.3 121.6L438.7 118.8L436.7 116.8L439.5 116.4zM445.8 114.4L447.0 116.9L449.8 117.3L447.8 119.3L448.3 122.1L445.8 120.8L443.3 122.1L443.7 119.3L441.7 117.3L444.5 116.9zM450.8 114.3L452.0 116.9L454.8 117.3L452.8 119.3L453.3 122.0L450.8 120.7L448.3 122.0L448.7 119.3L446.7 117.3L449.5 116.9zM455.8 113.6L457.0 116.1L459.8 116.5L457.8 118.5L458.3 121.2L455.8 119.9L453.3 121.2L453.7 118.5L451.7 116.5L454.5 116.1zM460.8 113.9L462.0 116.4L464.8 116.8L462.8 118.8L463.3 121.6L460.8 120.3L458.3 121.6L458.8 118.8L456.7 116.8L459.5 116.4zM465.8 112.1L467.0 114.7L469.8 115.1L467.8 117.1L468.3 119.8L465.8 118.5L463.3 119.8L463.8 117.1L461.7 115.1L464.5 114.7zM470.8 114.8L472.0 117.3L474.8 117.7L472.8 119.7L473.3 122.5L470.8 121.2L468.3 122.5L468.8 119.7L466.7 117.7L469.5 117.3zM475.8 116.1L477.0 118.6L479.8 119.0L477.8 121.0L478.3 123.7L475.8 122.4L473.3 123.7L473.8 121.0L471.7 119.0L474.5 118.6zM480.8 114.9L482.0 117.4L484.8 117.8L482.8 119.8L483.3 122.6L480.8 121.3L478.3 122.6L478.8 119.8L476.7 117.8L479.5 117.4zM485.8 113.7L487.0 116.2L489.8 116.6L487.8 118.6L488.3 121.4L485.8 120.1L483.3 121.4L483.8 118.6L481.8 116.6L484.5 116.2zM490.8 113.4L492.1 115.9L494.8 116.3L492.8 118.3L493.3 121.1L490.8 119.8L488.3 121.1L488.8 118.3L486.8 116.3L489.6 115.9zM495.8 114.7L497.1 117.2L499.8 117.6L497.8 119.6L498.3 122.4L495.8 121.1L493.3 122.4L493.8 119.6L491.8 117.6L494.6 117.2zM500.8 117.5L502.1 120.0L504.9 120.4L502.8 122.4L503.3 125.2L500.8 123.9L498.3 125.2L498.8 122.4L496.8 120.4L499.6 120.0zM505.8 114.8L507.1 117.3L509.9 117.7L507.8 119.7L508.3 122.5L505.8 121.2L503.3 122.5L503.8 119.7L501.8 117.7L504.6 117.3zM510.8 116.3L512.1 118.8L514.9 119.2L512.8 121.2L513.3 124.0L510.8 122.7L508.3 124.0L508.8 121.2L506.8 119.2L509.6 118.8zM515.8 116.6L517.1 119.1L519.9 119.5L517.8 121.5L518.3 124.3L515.8 123.0L513.3 124.3L513.8 121.5L511.8 119.5L514.6 119.1zM520.8 116.8L522.1 119.3L524.9 119.7L522.9 121.7L523.3 124.5L520.8 123.2L518.3 124.5L518.8 121.7L516.8 119.7L519.6 119.3zM525.8 116.5L527.1 119.0L529.9 119.4L527.9 121.4L528.3 124.2L525.8 122.9L523.3 124.2L523.8 121.4L521.8 119.4L524.6 119.0zM530.8 118.0L532.1 120.6L534.9 121.0L532.9 123.0L533.3 125.7L530.8 124.4L528.3 125.7L528.8 123.0L526.8 121.0L529.6 120.6zM535.8 116.4L537.1 119.0L539.9 119.4L537.9 121.3L538.3 124.1L535.8 122.8L533.3 124.1L533.8 121.3L531.8 119.4L534.6 119.0zM540.9 115.9L542.1 118.4L544.9 118.9L542.9 120.8L543.3 123.6L540.9 122.3L538.4 123.6L538.8 120.8L536.8 118.9L539.6 118.4zM545.9 117.1L547.1 119.6L549.9 120.0L547.9 122.0L548.4 124.8L545.9 123.5L543.4 124.8L543.8 122.0L541.8 120.0L544.6 119.6zM550.9 115.3L552.1 117.8L554.9 118.2L552.9 120.2L553.4 123.0L550.9 121.7L548.4 123.0L548.8 120.2L546.8 118.2L549.6 117.8zM555.9 118.7L557.1 121.3L559.9 121.7L557.9 123.7L558.4 126.4L555.9 125.1L553.4 126.4L553.8 123.7L551.8 121.7L554.6 121.3zM560.9 117.8L562.1 120.3L564.9 120.7L562.9 122.7L563.4 125.5L560.9 124.2L558.4 125.5L558.9 122.7L556.8 120.7L559.6 120.3zM565.9 116.3L567.1 118.8L569.9 119.2L567.9 121.2L568.4 124.0L565.9 122.6L563.4 124.0L563.9 121.2L561.8 119.2L564.6 118.8zM570.9 117.1L572.1 119.6L574.9 120.0L572.9 122.0L573.4 124.8L570.9 123.5L568.4 124.8L568.9 122.0L566.8 120.0L569.6 119.6zM575.9 118.1L577.1 120.6L579.9 121.0L577.9 123.0L578.4 125.8L575.9 124.5L573.4 125.8L573.9 123.0L571.8 121.0L574.6 120.6zM580.9 116.8L582.1 119.4L584.9 119.8L582.9 121.7L583.4 124.5L580.9 123.2L578.4 124.5L578.9 121.7L576.8 119.8L579.6 119.4zM585.9 117.6L587.1 120.1L589.9 120.5L587.9 122.5L588.4 125.3L585.9 124.0L583.4 125.3L583.9 122.5L581.9 120.5L584.6 120.1zM590.9 117.0L592.2 119.5L594.9 119.9L592.9 121.9L593.4 124.6L590.9 123.3L588.4 124.6L588.9 121.9L586.9 119.9L589.7 119.5zM595.9 117.8L597.2 120.3L599.9 120.7L597.9 122.7L598.4 125.4L595.9 124.1L593.4 125.4L593.9 122.7L591.9 120.7L594.7 120.3zM600.9 118.2L602.2 120.8L605.0 121.2L602.9 123.1L603.4 125.9L600.9 124.6L598.4 125.9L598.9 123.1L596.9 121.2L599.7 120.8zM605.9 118.2L607.2 120.7L610.0 121.1L607.9 123.1L608.4 125.9L605.9 124.6L603.4 125.9L603.9 123.1L601.9 121.1L604.7 120.7zM610.9 116.4L612.2 118.9L615.0 119.3L612.9 121.3L613.4 124.1L610.9 122.8L608.4 124.1L608.9 121.3L606.9 119.3L609.7 118.9zM615.9 117.8L617.2 120.4L620.0 120.8L617.9 122.8L618.4 125.5L615.9 124.2L613.4 125.5L613.9 122.8L611.9 120.8L614.7 120.4zM620.9 117.0L622.2 119.5L625.0 119.9L623.0 121.9L623.4 124.7L620.9 123.4L618.4 124.7L618.9 121.9L616.9 119.9L619.7 119.5zM625.9 119.3L627.2 121.9L630.0 122.3L628.0 124.2L628.4 127.0L625.9 125.7L623.4 127.0L623.9 124.2L621.9 122.3L624.7 121.9zM630.9 120.4L632.2 123.0L635.0 123.4L633.0 125.3L633.4 128.1L630.9 126.8L628.4 128.1L628.9 125.3L626.9 123.4L629.7 123.0zM635.9 119.4L637.2 121.9L640.0 122.3L638.0 124.3L638.4 127.1L635.9 125.8L633.4 127.1L633.9 124.3L631.9 122.3L634.7 121.9zM641.0 118.8L642.2 121.3L645.0 121.7L643.0 123.7L643.5 126.5L641.0 125.1L638.5 126.5L638.9 123.7L636.9 121.7L639.7 121.3zM646.0 120.4L647.2 123.0L650.0 123.4L648.0 125.4L648.5 128.1L646.0 126.8L643.5 128.1L643.9 125.4L641.9 123.4L644.7 123.0zM651.0 118.3L652.2 120.9L655.0 121.3L653.0 123.3L653.5 126.0L651.0 124.7L648.5 126.0L648.9 123.3L646.9 121.3L649.7 120.9zM656.0 120.3L657.2 122.8L660.0 123.2L658.0 125.2L658.5 127.9L656.0 126.6L653.5 127.9L653.9 125.2L651.9 123.2L654.7 122.8zM661.0 119.9L662.2 122.5L665.0 122.9L663.0 124.8L663.5 127.6L661.0 126.3L658.5 127.6L659.0 124.8L656.9 122.9L659.7 122.5zM666.0 118.0L667.2 120.5L670.0 120.9L668.0 122.9L668.5 125.7L666.0 124.4L663.5 125.7L664.0 122.9L661.9 120.9L664.7 120.5zM671.0 117.8L672.2 120.3L675.0 120.7L673.0 122.7L673.5 125.5L671.0 124.2L668.5 125.5L669.0 122.7L666.9 120.7L669.7 120.3zM676.0 117.9L677.2 120.4L680.0 120.8L678.0 122.8L678.5 125.6L676.0 124.3L673.5 125.6L674.0 122.8L671.9 120.8L674.7 120.4zM681.0 119.0L682.2 121.5L685.0 121.9L683.0 123.9L683.5 126.7L681.0 125.3L678.5 126.7L679.0 123.9L677.0 121.9L679.7 121.5zM686.0 118.3L687.2 120.9L690.0 121.3L688.0 123.3L688.5 126.0L686.0 124.7L683.5 126.0L684.0 123.3L682.0 121.3L684.7 120.9z" fill="#808000"/>
<polyline points="190.5,500.4 193.4,498.6 196.4,501.2 199.3,500.0 202.3,499.0 205.2,501.0 208.2,499.9 211.1,499.2 214.1,500.4 217.0,501.0 220.0,500.4 222.9,498.9 225.9,501.2 228.8,500.8 231.8,500.1 234.7,499.5 237.6,499.7 240.6,497.9 243.5,496.6 246.5,498.7 249.4,496.0 252.4,495.3 255.3,496.5 258.3,495.4 261.2,494.5 264.2,494.2 267.1,494.9 270.1,494.4 273.0,492.7 276.0,492.8 278.9,492.3 281.8,487.9 284.8,491.0 287.7,490.6 290.7,489.2 293.6,492.6 296.6,490.4 299.5,489.3 302.5,488.1 305.4,487.0 308.4,488.4 311.3,486.7 314.3,487.0 317.2,487.2 320.2,485.5 323.1,483.4 326.1,486.4 329.0,487.2 331.9,486.7 334.9,487.5 337.8,486.5 340.8,487.4 343.7,486.0 346.7,486.9 349.6,485.2 352.6,484.5 355.5,485.7 358.5,485.8 361.4,486.7 364.4,481.2 367.3,487.4 370.3,486.3 373.2,484.7 376.1,483.3 379.1,485.1 382.0,485.1 385.0,484.7 387.9,485.6 390.9,486.2 393.8,486.3 396.8,485.1 399.7,485.0 402.7,483.5 405.6,485.5 408.6,486.1 411.5,486.0 414.5,486.3 417.4,483.9 420.3,484.2 423.3,483.3 426.2,485.3 429.2,484.0 432.1,492.1 435.1,485.6 438.0,484.6 441.0,484.1 443.9,484.9 446.9,480.0 449.8,479.9 452.8,489.9 455.7,484.9 458.7,486.7 461.6,482.6 464.5,479.5 467.5,484.1 470.4,483.2 473.4,483.5 476.3,483.6 479.3,482.9 482.2,483.6 485.2,482.8 488.1,482.9 491.1,482.4 494.0,481.0 497.0,481.3 499.9,482.4 502.9,480.6 505.8,481.2 508.7,481.7 511.7,480.6 514.6,481.8 517.6,478.3 520.5,481.9 523.5,481.6 526.4,481.7 529.4,480.8 532.3,478.8 535.3,479.6 538.2,479.9 541.2,478.5 544.1,480.2 547.1,486.8 550.0,479.1 552.9,478.4 555.9,478.9 558.8,479.5 561.8,479.3 564.7,478.5 567.7,479.3 570.6,477.6 573.6,478.2 576.5,477.3 579.5,479.3 582.4,478.6 585.4,480.1 588.3,478.5 591.3,478.2 594.2,474.7 597.2,478.0 600.1,477.5 603.0,478.2 606.0,478.2 608.9,476.6 611.9,478.0 614.8,476.6 617.8,477.2 620.7,477.3 623.7,477.7 626.6,478.2 629.6,476.2 632.5,475.8 635.5,476.0 638.4,475.8 641.4,474.9 644.3,476.5 647.2,475.8 650.2,476.4 653.1,475.2 656.1,474.6 659.0,473.7 662.0,474.5 664.9,474.4 667.9,475.0 670.8,475.4 673.8,473.1 676.7,474.7 679.7,474.1 682.6,474.8 685.6,473.3 688.5,473.6" fill="none" stroke="#535353" stroke-width="5" stroke-linejoin="round" stroke-linecap="round"/>
<path d="M187.2 497.1h6.5v6.5h-6.5zM193.1 497.9h6.5v6.5h-6.5zM199.0 495.8h6.5v6.5h-6.5zM204.9 496.6h6.5v6.5h-6.5zM210.8 497.1h6.5v6.5h-6.5zM216.7 497.2h6.5v6.5h-6.5zM222.6 497.9h6.5v6.5h-6.5zM228.5 496.9h6.5v6.5h-6.5zM234.4 496.5h6.5v6.5h-6.5zM240.3 493.3h6.5v6.5h-6.5zM246.2 492.7h6.5v6.5h-6.5zM252.1 493.3h6.5v6.5h-6.5zM258.0 491.3h6.5v6.5h-6.5zM263.9 491.6h6.5v6.5h-6.5zM269.8 489.5h6.5v6.5h-6.5zM275.7 489.0h6.5v6.5h-6.5zM281.5 487.7h6.5v6.5h-6.5zM287.4 486.0h6.5v6.5h-6.5zM293.3 487.1h6.5v6.5h-6.5zM299.2 484.9h6.5v6.5h-6.5zM305.1 485.1h6.5v6.5h-6.5zM311.0 483.7h6.5v6.5h-6.5zM316.9 482.3h6.5v6.5h-6.5zM322.8 483.2h6.5v6.5h-6.5zM328.7 483.4h6.5v6.5h-6.5zM334.6 483.2h6.5v6.5h-6.5zM340.5 482.7h6.5v6.5h-6.5zM346.4 482.0h6.5v6.5h-6.5zM352.3 482.5h6.5v6.5h-6.5zM358.2 483.4h6.5v6.5h-6.5zM364.1 484.2h6.5v6.5h-6.5zM369.9 481.4h6.5v6.5h-6.5zM375.8 481.9h6.5v6.5h-6.5zM381.7 481.5h6.5v6.5h-6.5zM387.6 482.9h6.5v6.5h-6.5zM393.5 481.8h6.5v6.5h-6.5zM399.4 480.2h6.5v6.5h-6.5zM405.3 482.8h6.5v6.5h-6.5zM411.2 483.1h6.5v6.5h-6.5zM417.1 481.0h6.5v6.5h-6.5zM423.0 482.0h6.5v6.5h-6.5zM428.9 488.8h6.5v6.5h-6.5zM434.8 481.3h6.5v6.5h-6.5zM440.7 481.7h6.5v6.5h-6.5zM446.6 476.7h6.5v6.5h-6.5zM452.5 481.6h6.5v6.5h-6.5zM458.4 479.3h6.5v6.5h-6.5zM464.2 480.9h6.5v6.5h-6.5zM470.1 480.3h6.5v6.5h-6.5zM476.0 479.6h6.5v6.5h-6.5zM481.9 479.5h6.5v6.5h-6.5zM487.8 479.2h6.5v6.5h-6.5zM493.7 478.0h6.5v6.5h-6.5zM499.6 477.3h6.5v6.5h-6.5zM505.5 478.4h6.5v6.5h-6.5zM511.4 478.5h6.5v6.5h-6.5zM517.3 478.6h6.5v6.5h-6.5zM523.2 478.4h6.5v6.5h-6.5zM529.1 475.5h6.5v6.5h-6.5zM535.0 476.7h6.5v6.5h-6.5zM540.9 477.0h6.5v6.5h-6.5zM546.8 475.8h6.5v6.5h-6.5zM552.6 475.7h6.5v6.5h-6.5zM558.5 476.1h6.5v6.5h-6.5zM564.4 476.0h6.5v6.5h-6.5zM570.3 474.9h6.5v6.5h-6.5zM576.2 476.0h6.5v6.5h-6.5zM582.1 476.8h6.5v6.5h-6.5zM588.0 475.0h6.5v6.5h-6.5zM593.9 474.8h6.5v6.5h-6.5zM599.8 475.0h6.5v6.5h-6.5zM605.7 473.4h6.5v6.5h-6.5zM611.6 473.3h6.5v6.5h-6.5zM617.5 474.1h6.5v6.5h-6.5zM623.4 474.9h6.5v6.5h-6.5zM629.3 472.6h6.5v6.5h-6.5zM635.2 472.6h6.5v6.5h-6.5zM641.0 473.3h6.5v6.5h-6.5zM646.9 473.1h6.5v6.5h-6.5zM652.8 471.4h6.5v6.5h-6.5zM658.7 471.3h6.5v6.5h-6.5zM664.6 471.7h6.5v6.5h-6.5zM670.5 469.8h6.5v6.5h-6.5zM676.4 470.8h6.5v6.5h-6.5zM682.3 470.0h6.5v6.5h-6.5z" fill="#535353"/>
<polyline points="190.5,499.6 193.1,505.3 195.8,498.4 198.4,493.6 201.0,500.9 203.7,500.9 206.3,498.9 208.9,503.7 211.6,500.8 214.2,500.9 216.8,501.2 219.5,502.2 222.1,493.5 224.8,500.3 227.4,499.8 230.0,502.4 232.7,506.3 235.3,498.4 237.9,500.5 240.6,492.7 243.2,507.8 245.8,502.2 248.5,501.8 251.1,500.0 253.7,499.5 256.4,500.2 259.0,504.4 261.6,501.4 264.3,501.5 266.9,499.9 269.5,499.4 272.2,501.2 274.8,501.8 277.5,501.8 280.1,502.4 282.7,501.8 285.4,502.3 288.0,498.3 290.6,499.0 293.3,499.3 295.9,501.2 298.5,502.7 301.2,502.6 303.8,501.0 306.4,503.2 309.1,500.3 311.7,500.7 314.3,500.5 317.0,502.8 319.6,499.0 322.2,498.6 324.9,498.9 327.5,498.6 330.2,500.9 332.8,500.2 335.4,500.3 338.1,500.4 340.7,501.4 343.3,494.5 346.0,501.2 348.6,506.4 351.2,503.2 353.9,496.7 356.5,500.1 359.1,505.8 361.8,502.2 364.4,500.3 367.0,501.7 369.7,502.4 372.3,498.6 374.9,501.0 377.6,498.1 380.2,500.6 382.8,503.0 385.5,504.8 388.1,499.0 390.8,494.8 393.4,501.7 396.0,501.6 398.7,499.2 401.3,502.6 403.9,501.8 406.6,505.0 409.2,498.9 411.8,502.1 414.5,500.3 417.1,492.9 419.7,499.7 422.4,502.3 425.0,502.8 427.6,491.6 430.3,502.1 432.9,497.1 435.5,500.0 438.2,501.0 440.8,499.6 443.5,500.6 446.1,502.5 448.7,502.7 451.4,502.9 454.0,497.7 456.6,498.9 459.3,498.7 461.9,496.6 464.5,496.6 467.2,500.6 469.8,499.8 472.4,502.2 475.1,495.3 477.7,501.8 480.3,498.3 483.0,499.7 485.6,499.3 488.2,499.5 490.9,498.9 493.5,501.2 496.2,499.7 498.8,497.8 501.4,497.4 504.1,494.2 506.7,507.9 509.3,501.2 512.0,502.1 514.6,509.6 517.2,501.5 519.9,504.4 522.5,498.1 525.1,500.6 527.8,501.3 530.4,506.8 533.0,502.2 535.7,501.0 538.3,504.9 540.9,502.6 543.6,505.9 546.2,494.1 548.8,506.7 551.5,499.9 554.1,501.4 556.8,501.2 559.4,504.2 562.0,502.5 564.7,508.4 567.3,502.5 569.9,497.7 572.6,503.8 575.2,497.1 577.8,501.5 580.5,501.0 583.1,496.5 585.7,500.8 588.4,501.1 591.0,501.4 593.6,507.1 596.3,497.9 598.9,500.8 601.5,499.1 604.2,496.7 606.8,500.1 609.5,498.6 612.1,505.4 614.7,493.7 617.4,502.1 620.0,493.6 622.6,501.4 625.3,501.9 627.9,506.6 630.5,500.2 633.2,501.9 635.8,500.4 638.4,497.5 641.1,502.1 643.7,500.7 646.3,505.5 649.0,500.3 651.6,498.1 654.2,499.3 656.9,506.7 659.5,503.0 662.2,501.0 664.8,504.9 667.4,497.4 670.1,501.1 672.7,497.5 675.3,495.5 678.0,498.0 680.6,502.3 683.2,501.8 685.9,498.4 688.5,504.4" fill="none" stroke="#F84848" stroke-width="3.2" stroke-linejoin="round" stroke-linecap="round"/>
<path d="M186.2 496.8h8.5l-4.2 7.7zM188.9 502.4h8.5l-4.2 7.7zM191.5 495.6h8.5l-4.2 7.7zM194.2 490.8h8.5l-4.2 7.7zM196.8 498.1h8.5l-4.2 7.7zM199.4 498.1h8.5l-4.2 7.7zM202.1 496.1h8.5l-4.2 7.7zM204.7 500.9h8.5l-4.2 7.7zM207.3 497.9h8.5l-4.2 7.7zM210.0 498.1h8.5l-4.2 7.7zM212.6 498.4h8.5l-4.2 7.7zM215.2 499.4h8.5l-4.2 7.7zM217.9 490.7h8.5l-4.2 7.7zM220.5 497.5h8.5l-4.2 7.7zM223.1 496.9h8.5l-4.2 7.7zM225.8 499.6h8.5l-4.2 7.7zM228.4 503.5h8.5l-4.2 7.7zM231.0 495.6h8.5l-4.2 7.7zM233.7 497.7h8.5l-4.2 7.7zM236.3 489.9h8.5l-4.2 7.7zM238.9 505.0h8.5l-4.2 7.7zM241.6 499.4h8.5l-4.2 7.7zM244.2 498.9h8.5l-4.2 7.7zM246.9 497.1h8.5l-4.2 7.7zM249.5 496.6h8.5l-4.2 7.7zM252.1 497.3h8.5l-4.2 7.7zM254.8 501.6h8.5l-4.2 7.7zM257.4 498.5h8.5l-4.2 7.7zM260.0 498.7h8.5l-4.2 7.7zM262.7 497.1h8.5l-4.2 7.7zM265.3 496.5h8.5l-4.2 7.7zM267.9 498.4h8.5l-4.2 7.7zM270.6 499.0h8.5l-4.2 7.7zM273.2 499.0h8.5l-4.2 7.7zM275.8 499.6h8.5l-4.2 7.7zM278.5 499.0h8.5l-4.2 7.7zM281.1 499.4h8.5l-4.2 7.7zM283.7 495.5h8.5l-4.2 7.7zM286.4 496.2h8.5l-4.2 7.7zM289.0 496.4h8.5l-4.2 7.7zM291.6 498.4h8.5l-4.2 7.7zM294.3 499.9h8.5l-4.2 7.7zM296.9 499.7h8.5l-4.2 7.7zM299.6 498.2h8.5l-4.2 7.7zM302.2 500.4h8.5l-4.2 7.7zM304.8 497.5h8.5l-4.2 7.7zM307.5 497.9h8.5l-4.2 7.7zM310.1 497.7h8.5l-4.2 7.7zM312.7 500.0h8.5l-4.2 7.7zM315.4 496.2h8.5l-4.2 7.7zM318.0 495.7h8.5l-4.2 7.7zM320.6 496.1h8.5l-4.2 7.7zM323.3 495.8h8.5l-4.2 7.7zM325.9 498.1h8.5l-4.2 7.7zM328.5 497.4h8.5l-4.2 7.7zM331.2 497.5h8.5l-4.2 7.7zM333.8 497.5h8.5l-4.2 7.7zM336.4 498.6h8.5l-4.2 7.7zM339.1 491.6h8.5l-4.2 7.7zM341.7 498.4h8.5l-4.2 7.7zM344.3 503.5h8.5l-4.2 7.7zM347.0 500.3h8.5l-4.2 7.7zM349.6 493.9h8.5l-4.2 7.7zM352.2 497.3h8.5l-4.2 7.7zM354.9 503.0h8.5l-4.2 7.7zM357.5 499.4h8.5l-4.2 7.7zM360.2 497.4h8.5l-4.2 7.7zM362.8 498.9h8.5l-4.2 7.7zM365.4 499.6h8.5l-4.2 7.7zM368.1 495.8h8.5l-4.2 7.7zM370.7 498.2h8.5l-4.2 7.7zM373.3 495.3h8.5l-4.2 7.7zM376.0 497.8h8.5l-4.2 7.7zM378.6 500.2h8.5l-4.2 7.7zM381.2 502.0h8.5l-4.2 7.7zM383.9 496.2h8.5l-4.2 7.7zM386.5 491.9h8.5l-4.2 7.7zM389.1 498.9h8.5l-4.2 7.7zM391.8 498.8h8.5l-4.2 7.7zM394.4 496.4h8.5l-4.2 7.7zM397.0 499.7h8.5l-4.2 7.7zM399.7 498.9h8.5l-4.2 7.7zM402.3 502.1h8.5l-4.2 7.7zM404.9 496.1h8.5l-4.2 7.7zM407.6 499.3h8.5l-4.2 7.7zM410.2 497.5h8.5l-4.2 7.7zM412.9 490.1h8.5l-4.2 7.7zM415.5 496.9h8.5l-4.2 7.7zM418.1 499.5h8.5l-4.2 7.7zM420.8 500.0h8.5l-4.2 7.7zM423.4 488.8h8.5l-4.2 7.7zM426.0 499.3h8.5l-4.2 7.7zM428.7 494.3h8.5l-4.2 7.7zM431.3 497.1h8.5l-4.2 7.7zM433.9 498.2h8.5l-4.2 7.7zM436.6 496.8h8.5l-4.2 7.7zM439.2 497.8h8.5l-4.2 7.7zM441.8 499.7h8.5l-4.2 7.7zM444.5 499.9h8.5l-4.2 7.7zM447.1 500.1h8.5l-4.2 7.7zM449.7 494.9h8.5l-4.2 7.7zM452.4 496.1h8.5l-4.2 7.7zM455.0 495.9h8.5l-4.2 7.7zM457.6 493.8h8.5l-4.2 7.7zM460.3 493.8h8.5l-4.2 7.7zM462.9 497.8h8.5l-4.2 7.7zM465.6 496.9h8.5l-4.2 7.7zM468.2 499.4h8.5l-4.2 7.7zM470.8 492.4h8.5l-4.2 7.7zM473.5 499.0h8.5l-4.2 7.7zM476.1 495.5h8.5l-4.2 7.7zM478.7 496.9h8.5l-4.2 7.7zM481.4 496.5h8.5l-4.2 7.7zM484.0 496.7h8.5l-4.2 7.7zM486.6 496.1h8.5l-4.2 7.7zM489.3 498.4h8.5l-4.2 7.7zM491.9 496.9h8.5l-4.2 7.7zM494.5 495.0h8.5l-4.2 7.7zM497.2 494.6h8.5l-4.2 7.7zM499.8 491.4h8.5l-4.2 7.7zM502.4 505.1h8.5l-4.2 7.7zM505.1 498.4h8.5l-4.2 7.7zM507.7 499.3h8.5l-4.2 7.7zM510.3 506.8h8.5l-4.2 7.7zM513.0 498.7h8.5l-4.2 7.7zM515.6 501.6h8.5l-4.2 7.7zM518.2 495.2h8.5l-4.2 7.7zM520.9 497.8h8.5l-4.2 7.7zM523.5 498.5h8.5l-4.2 7.7zM526.2 504.0h8.5l-4.2 7.7zM528.8 499.4h8.5l-4.2 7.7zM531.4 498.2h8.5l-4.2 7.7zM534.1 502.1h8.5l-4.2 7.7zM536.7 499.8h8.5l-4.2 7.7zM539.3 503.1h8.5l-4.2 7.7zM542.0 491.3h8.5l-4.2 7.7zM544.6 503.9h8.5l-4.2 7.7zM547.2 497.1h8.5l-4.2 7.7zM549.9 498.6h8.5l-4.2 7.7zM552.5 498.4h8.5l-4.2 7.7zM555.1 501.3h8.5l-4.2 7.7zM557.8 499.7h8.5l-4.2 7.7zM560.4 505.5h8.5l-4.2 7.7zM563.0 499.6h8.5l-4.2 7.7zM565.7 494.9h8.5l-4.2 7.7zM568.3 501.0h8.5l-4.2 7.7zM570.9 494.2h8.5l-4.2 7.7zM573.6 498.6h8.5l-4.2 7.7zM576.2 498.1h8.5l-4.2 7.7zM578.9 493.7h8.5l-4.2 7.7zM581.5 498.0h8.5l-4.2 7.7zM584.1 498.3h8.5l-4.2 7.7zM586.8 498.6h8.5l-4.2 7.7zM589.4 504.3h8.5l-4.2 7.7zM592.0 495.1h8.5l-4.2 7.7zM594.7 498.0h8.5l-4.2 7.7zM597.3 496.3h8.5l-4.2 7.7zM599.9 493.9h8.5l-4.2 7.7zM602.6 497.3h8.5l-4.2 7.7zM605.2 495.8h8.5l-4.2 7.7zM607.8 502.6h8.5l-4.2 7.7zM610.5 490.8h8.5l-4.2 7.7zM613.1 499.3h8.5l-4.2 7.7zM615.7 490.8h8.5l-4.2 7.7zM618.4 498.6h8.5l-4.2 7.7zM621.0 499.1h8.5l-4.2 7.7zM623.6 503.8h8.5l-4.2 7.7zM626.3 497.3h8.5l-4.2 7.7zM628.9 499.1h8.5l-4.2 7.7zM631.6 497.6h8.5l-4.2 7.7zM634.2 494.7h8.5l-4.2 7.7zM636.8 499.3h8.5l-4.2 7.7zM639.5 497.9h8.5l-4.2 7.7zM642.1 502.7h8.5l-4.2 7.7zM644.7 497.5h8.5l-4.2 7.7zM647.4 495.3h8.5l-4.2 7.7zM650.0 496.4h8.5l-4.2 7.7zM652.6 503.9h8.5l-4.2 7.7zM655.3 500.2h8.5l-4.2 7.7zM657.9 498.2h8.5l-4.2 7.7zM660.5 502.1h8.5l-4.2 7.7zM663.2 494.6h8.5l-4.2 7.7zM665.8 498.3h8.5l-4.2 7.7zM668.4 494.7h8.5l-4.2 7.7zM671.1 492.7h8.5l-4.2 7.7zM673.7 495.2h8.5l-4.2 7.7zM676.3 499.5h8.5l-4.2 7.7zM679.0 499.0h8.5l-4.2 7.7zM681.6 495.6h8.5l-4.2 7.7zM684.2 501.6h8.5l-4.2 7.7z" fill="#F84848"/>
<polyline points="190.5,494.0 193.1,493.6 195.8,491.5 198.4,490.8 201.0,493.2 203.7,491.8 206.3,492.6 208.9,492.0 211.6,492.1 214.2,493.9 216.8,496.1 219.5,496.0 222.1,495.2 224.8,498.9 227.4,486.1 230.0,498.0 232.7,499.2 235.3,500.2 237.9,497.1 240.6,494.8 243.2,503.3 245.8,495.2 248.5,484.2 251.1,489.4 253.7,491.8 256.4,489.1 259.0,481.3 261.6,488.1 264.3,485.5 266.9,484.3 269.5,485.7 272.2,484.7 274.8,487.7 277.5,488.1 280.1,488.7 282.7,489.4 285.4,487.0 288.0,488.9 290.6,494.2 293.3,489.0 295.9,486.8 298.5,484.3 301.2,487.7 303.8,490.1 306.4,489.1 309.1,489.0 311.7,489.2 314.3,488.8 317.0,496.4 319.6,494.9 322.2,494.0 324.9,478.1 327.5,488.7 330.2,487.6 332.8,489.1 335.4,497.1 338.1,488.8 340.7,488.8 343.3,491.8 346.0,490.9 348.6,488.8 351.2,488.2 353.9,497.4 356.5,487.1 359.1,492.3 361.8,487.4 364.4,485.6 367.0,488.0 369.7,489.9 372.3,487.7 374.9,489.2 377.6,474.4 380.2,489.6 382.8,488.1 385.5,490.1 388.1,487.4 390.8,489.8 393.4,487.4 396.0,487.4 398.7,489.1 401.3,490.9 403.9,489.9 406.6,490.8 409.2,490.6 411.8,489.5 414.5,487.5 417.1,488.0 419.7,489.6 422.4,489.0 425.0,488.0 427.6,489.6 430.3,487.9 432.9,487.6 435.5,490.2 438.2,498.1 440.8,475.3 443.5,499.6 446.1,487.3 448.7,488.8 451.4,489.3 454.0,488.2 456.6,487.9 459.3,488.6 461.9,487.1 464.5,488.1 467.2,494.8 469.8,489.4 472.4,489.6 475.1,488.9 477.7,488.2 480.3,480.6 483.0,490.6 485.6,489.4 488.2,487.2 490.9,488.5 493.5,487.1 496.2,484.1 498.8,491.9 501.4,489.9 504.1,487.4 506.7,490.1 509.3,487.8 512.0,487.1 514.6,485.0 517.2,489.3 519.9,487.1 522.5,487.7 525.1,488.4 527.8,489.9 530.4,488.0 533.0,488.6 535.7,489.8 538.3,487.8 540.9,474.3 543.6,487.0 546.2,493.3 548.8,494.4 551.5,489.7 554.1,488.7 556.8,494.9 559.4,489.3 562.0,487.9 564.7,487.2 567.3,488.1 569.9,487.3 572.6,489.0 575.2,496.1 577.8,487.7 580.5,488.9 583.1,488.1 585.7,486.9 588.4,487.5 591.0,488.3 593.6,485.8 596.3,488.5 598.9,487.0 601.5,486.8 604.2,486.7 606.8,486.0 609.5,486.8 612.1,486.4 614.7,488.2 617.4,491.1 620.0,487.0 622.6,487.8 625.3,486.8 627.9,477.5 630.5,487.2 633.2,486.3 635.8,491.0 638.4,491.0 641.1,486.8 643.7,488.8 646.3,489.1 649.0,483.9 651.6,488.1 654.2,478.0 656.9,486.9 659.5,487.0 662.2,486.6 664.8,483.9 667.4,489.6 670.1,487.3 672.7,486.7 675.3,487.4 678.0,489.1 680.6,488.0 683.2,496.4 685.9,489.0 688.5,485.8" fill="none" stroke="#CC9900" stroke-width="3.5" stroke-linejoin="round" stroke-linecap="round"/>
<path d="M186.9 494.0l7.2 -4.0v8.0zM189.5 493.6l7.2 -4.0v8.0zM192.2 491.5l7.2 -4.0v8.0zM194.8 490.8l7.2 -4.0v8.0zM197.4 493.2l7.2 -4.0v8.0zM200.1 491.8l7.2 -4.0v8.0zM202.7 492.6l7.2 -4.0v8.0zM205.3 492.0l7.2 -4.0v8.0zM208.0 492.1l7.2 -4.0v8.0zM210.6 493.9l7.2 -4.0v8.0zM213.2 496.1l7.2 -4.0v8.0zM215.9 496.0l7.2 -4.0v8.0zM218.5 495.2l7.2 -4.0v8.0zM221.2 498.9l7.2 -4.0v8.0zM223.8 486.1l7.2 -4.0v8.0zM226.4 498.0l7.2 -4.0v8.0zM229.1 499.2l7.2 -4.0v8.0zM231.7 500.2l7.2 -4.0v8.0zM234.3 497.1l7.2 -4.0v8.0zM237.0 494.8l7.2 -4.0v8.0zM239.6 503.3l7.2 -4.0v8.0zM242.2 495.2l7.2 -4.0v8.0zM244.9 484.2l7.2 -4.0v8.0zM247.5 489.4l7.2 -4.0v8.0zM250.1 491.8l7.2 -4.0v8.0zM252.8 489.1l7.2 -4.0v8.0zM255.4 481.3l7.2 -4.0v8.0zM258.0 488.1l7.2 -4.0v8.0zM260.7 485.5l7.2 -4.0v8.0zM263.3 484.3l7.2 -4.0v8.0zM265.9 485.7l7.2 -4.0v8.0zM268.6 484.7l7.2 -4.0v8.0zM271.2 487.7l7.2 -4.0v8.0zM273.9 488.1l7.2 -4.0v8.0zM276.5 488.7l7.2 -4.0v8.0zM279.1 489.4l7.2 -4.0v8.0zM281.8 487.0l7.2 -4.0v8.0zM284.4 488.9l7.2 -4.0v8.0zM287.0 494.2l7.2 -4.0v8.0zM289.7 489.0l7.2 -4.0v8.0zM292.3 486.8l7.2 -4.0v8.0zM294.9 484.3l7.2 -4.0v8.0zM297.6 487.7l7.2 -4.0v8.0zM300.2 490.1l7.2 -4.0v8.0zM302.8 489.1l7.2 -4.0v8.0zM305.5 489.0l7.2 -4.0v8.0zM308.1 489.2l7.2 -4.0v8.0zM310.7 488.8l7.2 -4.0v8.0zM313.4 496.4l7.2 -4.0v8.0zM316.0 494.9l7.2 -4.0v8.0zM318.6 494.0l7.2 -4.0v8.0zM321.3 478.1l7.2 -4.0v8.0zM323.9 488.7l7.2 -4.0v8.0zM326.6 487.6l7.2 -4.0v8.0zM329.2 489.1l7.2 -4.0v8.0zM331.8 497.1l7.2 -4.0v8.0zM334.5 488.8l7.2 -4.0v8.0zM337.1 488.8l7.2 -4.0v8.0zM339.7 491.8l7.2 -4.0v8.0zM342.4 490.9l7.2 -4.0v8.0zM345.0 488.8l7.2 -4.0v8.0zM347.6 488.2l7.2 -4.0v8.0zM350.3 497.4l7.2 -4.0v8.0zM352.9 487.1l7.2 -4.0v8.0zM355.5 492.3l7.2 -4.0v8.0zM358.2 487.4l7.2 -4.0v8.0zM360.8 485.6l7.2 -4.0v8.0zM363.4 488.0l7.2 -4.0v8.0zM366.1 489.9l7.2 -4.0v8.0zM368.7 487.7l7.2 -4.0v8.0zM371.3 489.2l7.2 -4.0v8.0zM374.0 474.4l7.2 -4.0v8.0zM376.6 489.6l7.2 -4.0v8.0zM379.2 488.1l7.2 -4.0v8.0zM381.9 490.1l7.2 -4.0v8.0zM384.5 487.4l7.2 -4.0v8.0zM387.2 489.8l7.2 -4.0v8.0zM389.8 487.4l7.2 -4.0v8.0zM392.4 487.4l7.2 -4.0v8.0zM395.1 489.1l7.2 -4.0v8.0zM397.7 490.9l7.2 -4.0v8.0zM400.3 489.9l7.2 -4.0v8.0zM403.0 490.8l7.2 -4.0v8.0zM405.6 490.6l7.2 -4.0v8.0zM408.2 489.5l7.2 -4.0v8.0zM410.9 487.5l7.2 -4.0v8.0zM413.5 488.0l7.2 -4.0v8.0zM416.1 489.6l7.2 -4.0v8.0zM418.8 489.0l7.2 -4.0v8.0zM421.4 488.0l7.2 -4.0v8.0zM424.0 489.6l7.2 -4.0v8.0zM426.7 487.9l7.2 -4.0v8.0zM429.3 487.6l7.2 -4.0v8.0zM431.9 490.2l7.2 -4.0v8.0zM434.6 498.1l7.2 -4.0v8.0zM437.2 475.3l7.2 -4.0v8.0zM439.9 499.6l7.2 -4.0v8.0zM442.5 487.3l7.2 -4.0v8.0zM445.1 488.8l7.2 -4.0v8.0zM447.8 489.3l7.2 -4.0v8.0zM450.4 488.2l7.2 -4.0v8.0zM453.0 487.9l7.2 -4.0v8.0zM455.7 488.6l7.2 -4.0v8.0zM458.3 487.1l7.2 -4.0v8.0zM460.9 488.1l7.2 -4.0v8.0zM463.6 494.8l7.2 -4.0v8.0zM466.2 489.4l7.2 -4.0v8.0zM468.8 489.6l7.2 -4.0v8.0zM471.5 488.9l7.2 -4.0v8.0zM474.1 488.2l7.2 -4.0v8.0zM476.7 480.6l7.2 -4.0v8.0zM479.4 490.6l7.2 -4.0v8.0zM482.0 489.4l7.2 -4.0v8.0zM484.6 487.2l7.2 -4.0v8.0zM487.3 488.5l7.2 -4.0v8.0zM489.9 487.1l7.2 -4.0v8.0zM492.6 484.1l7.2 -4.0v8.0zM495.2 491.9l7.2 -4.0v8.0zM497.8 489.9l7.2 -4.0v8.0zM500.5 487.4l7.2 -4.0v8.0zM503.1 490.1l7.2 -4.0v8.0zM505.7 487.8l7.2 -4.0v8.0zM508.4 487.1l7.2 -4.0v8.0zM511.0 485.0l7.2 -4.0v8.0zM513.6 489.3l7.2 -4.0v8.0zM516.3 487.1l7.2 -4.0v8.0zM518.9 487.7l7.2 -4.0v8.0zM521.5 488.4l7.2 -4.0v8.0zM524.2 489.9l7.2 -4.0v8.0zM526.8 488.0l7.2 -4.0v8.0zM529.4 488.6l7.2 -4.0v8.0zM532.1 489.8l7.2 -4.0v8.0zM534.7 487.8l7.2 -4.0v8.0zM537.3 474.3l7.2 -4.0v8.0zM540.0 487.0l7.2 -4.0v8.0zM542.6 493.3l7.2 -4.0v8.0zM545.2 494.4l7.2 -4.0v8.0zM547.9 489.7l7.2 -4.0v8.0zM550.5 488.7l7.2 -4.0v8.0zM553.2 494.9l7.2 -4.0v8.0zM555.8 489.3l7.2 -4.0v8.0zM558.4 487.9l7.2 -4.0v8.0zM561.1 487.2l7.2 -4.0v8.0zM563.7 488.1l7.2 -4.0v8.0zM566.3 487.3l7.2 -4.0v8.0zM569.0 489.0l7.2 -4.0v8.0zM571.6 496.1l7.2 -4.0v8.0zM574.2 487.7l7.2 -4.0v8.0zM576.9 488.9l7.2 -4.0v8.0zM579.5 488.1l7.2 -4.0v8.0zM582.1 486.9l7.2 -4.0v8.0zM584.8 487.5l7.2 -4.0v8.0zM587.4 488.3l7.2 -4.0v8.0zM590.0 485.8l7.2 -4.0v8.0zM592.7 488.5l7.2 -4.0v8.0zM595.3 487.0l7.2 -4.0v8.0zM597.9 486.8l7.2 -4.0v8.0zM600.6 486.7l7.2 -4.0v8.0zM603.2 486.0l7.2 -4.0v8.0zM605.9 486.8l7.2 -4.0v8.0zM608.5 486.4l7.2 -4.0v8.0zM611.1 488.2l7.2 -4.0v8.0zM613.8 491.1l7.2 -4.0v8.0zM616.4 487.0l7.2 -4.0v8.0zM619.0 487.8l7.2 -4.0v8.0zM621.7 486.8l7.2 -4.0v8.0zM624.3 477.5l7.2 -4.0v8.0zM626.9 487.2l7.2 -4.0v8.0zM629.6 486.3l7.2 -4.0v8.0zM632.2 491.0l7.2 -4.0v8.0zM634.8 491.0l7.2 -4.0v8.0zM637.5 486.8l7.2 -4.0v8.0zM640.1 488.8l7.2 -4.0v8.0zM642.7 489.1l7.2 -4.0v8.0zM645.4 483.9l7.2 -4.0v8.0zM648.0 488.1l7.2 -4.0v8.0zM650.6 478.0l7.2 -4.0v8.0zM653.3 486.9l7.2 -4.0v8.0zM655.9 487.0l7.2 -4.0v8.0zM658.6 486.6l7.2 -4.0v8.0zM661.2 483.9l7.2 -4.0v8.0zM663.8 489.6l7.2 -4.0v8.0zM666.5 487.3l7.2 -4.0v8.0zM669.1 486.7l7.2 -4.0v8.0zM671.7 487.4l7.2 -4.0v8.0zM674.4 489.1l7.2 -4.0v8.0zM677.0 488.0l7.2 -4.0v8.0zM679.6 496.4l7.2 -4.0v8.0zM682.3 489.0l7.2 -4.0v8.0zM684.9 485.8l7.2 -4.0v8.0z" fill="#CC9900"/>
<polyline points="190.5,497.9 193.1,496.4 195.8,496.7 198.4,496.1 201.0,497.7 203.7,497.0 206.3,496.7 208.9,505.7 211.6,495.7 214.2,497.2 216.8,499.9 219.5,500.4 222.1,500.2 224.8,501.7 227.4,501.8 230.0,505.1 232.7,502.1 235.3,500.4 237.9,500.8 240.6,502.4 243.2,495.0 245.8,489.2 248.5,495.9 251.1,494.8 253.7,493.0 256.4,498.2 259.0,497.9 261.6,483.2 264.3,493.8 266.9,493.2 269.5,487.0 272.2,495.0 274.8,493.5 277.5,493.0 280.1,492.4 282.7,492.9 285.4,493.4 288.0,493.6 290.6,493.0 293.3,494.2 295.9,498.5 298.5,494.9 301.2,494.5 303.8,492.7 306.4,493.9 309.1,492.7 311.7,493.0 314.3,494.6 317.0,493.5 319.6,493.2 322.2,506.9 324.9,494.9 327.5,494.2 330.2,493.8 332.8,491.4 335.4,495.7 338.1,495.1 340.7,488.0 343.3,493.8 346.0,500.9 348.6,489.1 351.2,496.3 353.9,488.5 356.5,492.8 359.1,493.0 361.8,494.1 364.4,500.0 367.0,492.9 369.7,492.1 372.3,500.1 374.9,492.9 377.6,501.5 380.2,497.4 382.8,493.5 385.5,493.7 388.1,495.6 390.8,493.6 393.4,493.1 396.0,486.8 398.7,492.2 401.3,494.3 403.9,493.7 406.6,495.3 409.2,493.6 411.8,496.2 414.5,493.4 417.1,491.3 419.7,493.0 422.4,485.8 425.0,493.9 427.6,491.7 430.3,491.0 432.9,464.0 435.5,481.7 438.2,492.0 440.8,493.0 443.5,493.6 446.1,485.8 448.7,487.8 451.4,492.4 454.0,494.9 456.6,492.5 459.3,494.6 461.9,486.5 464.5,491.5 467.2,491.7 469.8,491.8 472.4,492.9 475.1,491.1 477.7,491.2 480.3,495.6 483.0,492.7 485.6,491.7 488.2,491.4 490.9,490.4 493.5,492.4 496.2,491.7 498.8,490.9 501.4,493.2 504.1,491.8 506.7,490.5 509.3,498.5 512.0,494.2 514.6,487.7 517.2,493.0 519.9,487.7 522.5,497.7 525.1,490.1 527.8,490.5 530.4,492.0 533.0,495.0 535.7,489.6 538.3,491.9 540.9,489.3 543.6,490.5 546.2,491.2 548.8,490.6 551.5,491.4 554.1,489.1 556.8,482.4 559.4,484.2 562.0,489.6 564.7,490.2 567.3,490.8 569.9,492.5 572.6,486.3 575.2,489.5 577.8,489.9 580.5,488.2 583.1,490.2 585.7,485.0 588.4,488.2 591.0,490.5 593.6,489.5 596.3,487.9 598.9,481.9 601.5,488.9 604.2,489.1 606.8,483.3 609.5,490.2 612.1,483.9 614.7,489.3 617.4,488.6 620.0,488.1 622.6,482.2 625.3,486.6 627.9,488.9 630.5,490.6 633.2,488.8 635.8,488.7 638.4,489.1 641.1,490.7 643.7,495.0 646.3,489.1 649.0,489.0 651.6,485.0 654.2,489.7 656.9,490.4 659.5,488.2 662.2,488.0 664.8,490.7 667.4,481.9 670.1,488.4 672.7,487.6 675.3,490.3 678.0,489.5 680.6,490.1 683.2,489.1 685.9,487.4 688.5,489.8" fill="none" stroke="#808000" stroke-width="3.5" stroke-linejoin="round" stroke-linecap="round"/>
<path d="M190.5 493.9L191.7 496.3L194.3 496.7L192.4 498.6L192.9 501.2L190.5 499.9L188.1 501.2L188.6 498.6L186.7 496.7L189.3 496.3zM193.1 492.4L194.3 494.8L196.9 495.2L195.0 497.0L195.5 499.7L193.1 498.4L190.8 499.7L191.2 497.0L189.3 495.2L192.0 494.8zM195.8 492.7L196.9 495.1L199.6 495.4L197.7 497.3L198.1 499.9L195.8 498.7L193.4 499.9L193.9 497.3L192.0 495.4L194.6 495.1zM198.4 492.1L199.6 494.5L202.2 494.9L200.3 496.7L200.8 499.4L198.4 498.1L196.1 499.4L196.5 496.7L194.6 494.9L197.2 494.5zM201.0 493.7L202.2 496.1L204.8 496.4L202.9 498.3L203.4 500.9L201.0 499.7L198.7 500.9L199.1 498.3L197.2 496.4L199.9 496.1zM203.7 493.0L204.9 495.4L207.5 495.7L205.6 497.6L206.0 500.2L203.7 499.0L201.3 500.2L201.8 497.6L199.9 495.7L202.5 495.4zM206.3 492.7L207.5 495.1L210.1 495.5L208.2 497.3L208.7 499.9L206.3 498.7L204.0 499.9L204.4 497.3L202.5 495.5L205.1 495.1zM208.9 501.7L210.1 504.1L212.7 504.5L210.8 506.3L211.3 509.0L208.9 507.7L206.6 509.0L207.0 506.3L205.1 504.5L207.8 504.1zM211.6 491.7L212.8 494.1L215.4 494.5L213.5 496.3L213.9 499.0L211.6 497.7L209.2 499.0L209.7 496.3L207.8 494.5L210.4 494.1zM214.2 493.2L215.4 495.5L218.0 495.9L216.1 497.8L216.6 500.4L214.2 499.2L211.9 500.4L212.3 497.8L210.4 495.9L213.0 495.5zM216.8 495.9L218.0 498.2L220.7 498.6L218.8 500.5L219.2 503.1L216.8 501.9L214.5 503.1L214.9 500.5L213.0 498.6L215.7 498.2zM219.5 496.4L220.7 498.8L223.3 499.2L221.4 501.1L221.8 503.7L219.5 502.4L217.1 503.7L217.6 501.1L215.7 499.2L218.3 498.8zM222.1 496.2L223.3 498.6L225.9 498.9L224.0 500.8L224.5 503.4L222.1 502.2L219.8 503.4L220.2 500.8L218.3 498.9L220.9 498.6zM224.8 497.7L225.9 500.1L228.6 500.4L226.7 502.3L227.1 504.9L224.8 503.7L222.4 504.9L222.9 502.3L220.9 500.4L223.6 500.1zM227.4 497.8L228.6 500.2L231.2 500.6L229.3 502.4L229.7 505.0L227.4 503.8L225.0 505.0L225.5 502.4L223.6 500.6L226.2 500.2zM230.0 501.1L231.2 503.5L233.8 503.9L231.9 505.8L232.4 508.4L230.0 507.1L227.7 508.4L228.1 505.8L226.2 503.9L228.8 503.5zM232.7 498.1L233.8 500.5L236.5 500.9L234.6 502.7L235.0 505.4L232.7 504.1L230.3 505.4L230.8 502.7L228.9 500.9L231.5 500.5zM235.3 496.4L236.5 498.8L239.1 499.2L237.2 501.0L237.6 503.6L235.3 502.4L232.9 503.6L233.4 501.0L231.5 499.2L234.1 498.8zM237.9 496.8L239.1 499.2L241.7 499.5L239.8 501.4L240.3 504.0L237.9 502.8L235.6 504.0L236.0 501.4L234.1 499.5L236.8 499.2zM240.6 498.4L241.7 500.8L244.4 501.2L242.5 503.0L242.9 505.6L240.6 504.4L238.2 505.6L238.7 503.0L236.8 501.2L239.4 500.8zM243.2 491.0L244.4 493.4L247.0 493.7L245.1 495.6L245.5 498.2L243.2 497.0L240.8 498.2L241.3 495.6L239.4 493.7L242.0 493.4zM245.8 485.2L247.0 487.5L249.6 487.9L247.7 489.8L248.2 492.4L245.8 491.2L243.5 492.4L243.9 489.8L242.0 487.9L244.7 487.5zM248.5 491.9L249.6 494.3L252.3 494.6L250.4 496.5L250.8 499.1L248.5 497.9L246.1 499.1L246.6 496.5L244.7 494.6L247.3 494.3zM251.1 490.8L252.3 493.2L254.9 493.5L253.0 495.4L253.5 498.0L251.1 496.8L248.8 498.0L249.2 495.4L247.3 493.5L249.9 493.2zM253.7 489.0L254.9 491.4L257.5 491.8L255.6 493.6L256.1 496.2L253.7 495.0L251.4 496.2L251.8 493.6L249.9 491.8L252.6 491.4zM256.4 494.2L257.5 496.6L260.2 497.0L258.3 498.8L258.7 501.4L256.4 500.2L254.0 501.4L254.5 498.8L252.6 497.0L255.2 496.6zM259.0 493.9L260.2 496.3L262.8 496.7L260.9 498.5L261.4 501.2L259.0 499.9L256.7 501.2L257.1 498.5L255.2 496.7L257.8 496.3zM261.6 479.2L262.8 481.6L265.4 482.0L263.5 483.8L264.0 486.4L261.6 485.2L259.3 486.4L259.7 483.8L257.8 482.0L260.5 481.6zM264.3 489.8L265.5 492.1L268.1 492.5L266.2 494.4L266.6 497.0L264.3 495.8L261.9 497.0L262.4 494.4L260.5 492.5L263.1 492.1zM266.9 489.2L268.1 491.6L270.7 492.0L268.8 493.8L269.3 496.4L266.9 495.2L264.6 496.4L265.0 493.8L263.1 492.0L265.7 491.6zM269.5 483.0L270.7 485.4L273.4 485.8L271.4 487.7L271.9 490.3L269.5 489.0L267.2 490.3L267.6 487.7L265.7 485.8L268.4 485.4zM272.2 491.0L273.4 493.4L276.0 493.7L274.1 495.6L274.5 498.2L272.2 497.0L269.8 498.2L270.3 495.6L268.4 493.7L271.0 493.4zM274.8 489.5L276.0 491.9L278.6 492.2L276.7 494.1L277.2 496.7L274.8 495.5L272.5 496.7L272.9 494.1L271.0 492.2L273.6 491.9zM277.5 489.0L278.6 491.3L281.3 491.7L279.4 493.6L279.8 496.2L277.5 495.0L275.1 496.2L275.6 493.6L273.6 491.7L276.3 491.3zM280.1 488.4L281.3 490.8L283.9 491.2L282.0 493.0L282.4 495.6L280.1 494.4L277.7 495.6L278.2 493.0L276.3 491.2L278.9 490.8zM282.7 488.9L283.9 491.3L286.5 491.7L284.6 493.5L285.1 496.2L282.7 494.9L280.4 496.2L280.8 493.5L278.9 491.7L281.5 491.3zM285.4 489.4L286.5 491.8L289.2 492.2L287.3 494.1L287.7 496.7L285.4 495.4L283.0 496.7L283.5 494.1L281.6 492.2L284.2 491.8zM288.0 489.6L289.2 492.0L291.8 492.4L289.9 494.2L290.3 496.8L288.0 495.6L285.6 496.8L286.1 494.2L284.2 492.4L286.8 492.0zM290.6 489.0L291.8 491.4L294.4 491.8L292.5 493.6L293.0 496.3L290.6 495.0L288.3 496.3L288.7 493.6L286.8 491.8L289.5 491.4zM293.3 490.2L294.4 492.6L297.1 492.9L295.2 494.8L295.6 497.4L293.3 496.2L290.9 497.4L291.4 494.8L289.5 492.9L292.1 492.6zM295.9 494.5L297.1 496.9L299.7 497.3L297.8 499.1L298.2 501.8L295.9 500.5L293.5 501.8L294.0 499.1L292.1 497.3L294.7 496.9zM298.5 490.9L299.7 493.2L302.3 493.6L300.4 495.5L300.9 498.1L298.5 496.9L296.2 498.1L296.6 495.5L294.7 493.6L297.4 493.2zM301.2 490.5L302.3 492.9L305.0 493.3L303.1 495.1L303.5 497.7L301.2 496.5L298.8 497.7L299.3 495.1L297.4 493.3L300.0 492.9zM303.8 488.7L305.0 491.0L307.6 491.4L305.7 493.3L306.2 495.9L303.8 494.7L301.5 495.9L301.9 493.3L300.0 491.4L302.6 491.0zM306.4 489.9L307.6 492.2L310.2 492.6L308.3 494.5L308.8 497.1L306.4 495.9L304.1 497.1L304.5 494.5L302.6 492.6L305.3 492.2zM309.1 488.7L310.2 491.1L312.9 491.4L311.0 493.3L311.4 495.9L309.1 494.7L306.7 495.9L307.2 493.3L305.3 491.4L307.9 491.1zM311.7 489.0L312.9 491.4L315.5 491.7L313.6 493.6L314.1 496.2L311.7 495.0L309.4 496.2L309.8 493.6L307.9 491.7L310.5 491.4zM314.3 490.6L315.5 493.0L318.1 493.3L316.2 495.2L316.7 497.8L314.3 496.6L312.0 497.8L312.4 495.2L310.5 493.3L313.2 493.0zM317.0 489.5L318.2 491.9L320.8 492.3L318.9 494.1L319.3 496.8L317.0 495.5L314.6 496.8L315.1 494.1L313.2 492.3L315.8 491.9zM319.6 489.2L320.8 491.6L323.4 492.0L321.5 493.8L322.0 496.5L319.6 495.2L317.3 496.5L317.7 493.8L315.8 492.0L318.4 491.6zM322.2 502.9L323.4 505.2L326.1 505.6L324.1 507.5L324.6 510.1L322.2 508.9L319.9 510.1L320.3 507.5L318.4 505.6L321.1 505.2zM324.9 490.9L326.1 493.2L328.7 493.6L326.8 495.5L327.2 498.1L324.9 496.9L322.5 498.1L323.0 495.5L321.1 493.6L323.7 493.2zM327.5 490.2L328.7 492.6L331.3 493.0L329.4 494.9L329.9 497.5L327.5 496.2L325.2 497.5L325.6 494.9L323.7 493.0L326.3 492.6zM330.2 489.8L331.3 492.2L334.0 492.6L332.1 494.4L332.5 497.1L330.2 495.8L327.8 497.1L328.2 494.4L326.3 492.6L329.0 492.2zM332.8 487.4L334.0 489.8L336.6 490.2L334.7 492.0L335.1 494.6L332.8 493.4L330.4 494.6L330.9 492.0L329.0 490.2L331.6 489.8zM335.4 491.7L336.6 494.1L339.2 494.5L337.3 496.3L337.8 498.9L335.4 497.7L333.1 498.9L333.5 496.3L331.6 494.5L334.2 494.1zM338.1 491.1L339.2 493.4L341.9 493.8L340.0 495.7L340.4 498.3L338.1 497.1L335.7 498.3L336.2 495.7L334.3 493.8L336.9 493.4zM340.7 484.0L341.9 486.4L344.5 486.8L342.6 488.6L343.0 491.2L340.7 490.0L338.3 491.2L338.8 488.6L336.9 486.8L339.5 486.4zM343.3 489.8L344.5 492.2L347.1 492.6L345.2 494.4L345.7 497.0L343.3 495.8L341.0 497.0L341.4 494.4L339.5 492.6L342.1 492.2zM346.0 496.9L347.1 499.3L349.8 499.7L347.9 501.5L348.3 504.2L346.0 502.9L343.6 504.2L344.1 501.5L342.2 499.7L344.8 499.3zM348.6 485.1L349.8 487.4L352.4 487.8L350.5 489.7L350.9 492.3L348.6 491.1L346.2 492.3L346.7 489.7L344.8 487.8L347.4 487.4zM351.2 492.3L352.4 494.7L355.0 495.0L353.1 496.9L353.6 499.5L351.2 498.3L348.9 499.5L349.3 496.9L347.4 495.0L350.1 494.7zM353.9 484.5L355.0 486.9L357.7 487.3L355.8 489.1L356.2 491.7L353.9 490.5L351.5 491.7L352.0 489.1L350.1 487.3L352.7 486.9zM356.5 488.8L357.7 491.2L360.3 491.5L358.4 493.4L358.9 496.0L356.5 494.8L354.1 496.0L354.6 493.4L352.7 491.5L355.3 491.2zM359.1 489.0L360.3 491.4L362.9 491.8L361.0 493.7L361.5 496.3L359.1 495.0L356.8 496.3L357.2 493.7L355.3 491.8L358.0 491.4zM361.8 490.1L362.9 492.4L365.6 492.8L363.7 494.7L364.1 497.3L361.8 496.1L359.4 497.3L359.9 494.7L358.0 492.8L360.6 492.4zM364.4 496.0L365.6 498.4L368.2 498.8L366.3 500.6L366.8 503.2L364.4 502.0L362.1 503.2L362.5 500.6L360.6 498.8L363.2 498.4zM367.0 488.9L368.2 491.3L370.8 491.7L368.9 493.5L369.4 496.2L367.0 494.9L364.7 496.2L365.1 493.5L363.2 491.7L365.9 491.3zM369.7 488.1L370.9 490.4L373.5 490.8L371.6 492.7L372.0 495.3L369.7 494.1L367.3 495.3L367.8 492.7L365.9 490.8L368.5 490.4zM372.3 496.1L373.5 498.5L376.1 498.9L374.2 500.7L374.7 503.3L372.3 502.1L370.0 503.3L370.4 500.7L368.5 498.9L371.1 498.5zM374.9 488.9L376.1 491.3L378.7 491.7L376.8 493.5L377.3 496.1L374.9 494.9L372.6 496.1L373.0 493.5L371.1 491.7L373.8 491.3zM377.6 497.5L378.8 499.9L381.4 500.2L379.5 502.1L379.9 504.7L377.6 503.5L375.2 504.7L375.7 502.1L373.8 500.2L376.4 499.9zM380.2 493.4L381.4 495.7L384.0 496.1L382.1 498.0L382.6 500.6L380.2 499.4L377.9 500.6L378.3 498.0L376.4 496.1L379.0 495.7zM382.8 489.5L384.0 491.9L386.7 492.3L384.8 494.2L385.2 496.8L382.8 495.5L380.5 496.8L380.9 494.2L379.0 492.3L381.7 491.9zM385.5 489.7L386.7 492.1L389.3 492.5L387.4 494.3L387.8 496.9L385.5 495.7L383.1 496.9L383.6 494.3L381.7 492.5L384.3 492.1zM388.1 491.6L389.3 494.0L391.9 494.4L390.0 496.2L390.5 498.9L388.1 497.6L385.8 498.9L386.2 496.2L384.3 494.4L386.9 494.0zM390.8 489.6L391.9 492.0L394.6 492.4L392.7 494.2L393.1 496.9L390.8 495.6L388.4 496.9L388.9 494.2L386.9 492.4L389.6 492.0zM393.4 489.1L394.6 491.5L397.2 491.9L395.3 493.8L395.7 496.4L393.4 495.1L391.0 496.4L391.5 493.8L389.6 491.9L392.2 491.5zM396.0 482.8L397.2 485.2L399.8 485.5L397.9 487.4L398.4 490.0L396.0 488.8L393.7 490.0L394.1 487.4L392.2 485.5L394.8 485.2zM398.7 488.2L399.8 490.6L402.5 491.0L400.6 492.8L401.0 495.5L398.7 494.2L396.3 495.5L396.8 492.8L394.9 491.0L397.5 490.6zM401.3 490.3L402.5 492.7L405.1 493.1L403.2 495.0L403.6 497.6L401.3 496.3L398.9 497.6L399.4 495.0L397.5 493.1L400.1 492.7zM403.9 489.7L405.1 492.1L407.7 492.5L405.8 494.4L406.3 497.0L403.9 495.7L401.6 497.0L402.0 494.4L400.1 492.5L402.8 492.1zM406.6 491.3L407.7 493.7L410.4 494.1L408.5 495.9L408.9 498.6L406.6 497.3L404.2 498.6L404.7 495.9L402.8 494.1L405.4 493.7zM409.2 489.6L410.4 492.0L413.0 492.4L411.1 494.2L411.5 496.8L409.2 495.6L406.8 496.8L407.3 494.2L405.4 492.4L408.0 492.0zM411.8 492.2L413.0 494.6L415.6 495.0L413.7 496.8L414.2 499.5L411.8 498.2L409.5 499.5L409.9 496.8L408.0 495.0L410.7 494.6zM414.5 489.4L415.6 491.8L418.3 492.2L416.4 494.0L416.8 496.6L414.5 495.4L412.1 496.6L412.6 494.0L410.7 492.2L413.3 491.8zM417.1 487.3L418.3 489.7L420.9 490.1L419.0 491.9L419.5 494.5L417.1 493.3L414.8 494.5L415.2 491.9L413.3 490.1L415.9 489.7zM419.7 489.0L420.9 491.4L423.5 491.8L421.6 493.6L422.1 496.2L419.7 495.0L417.4 496.2L417.8 493.6L415.9 491.8L418.6 491.4zM422.4 481.8L423.5 484.2L426.2 484.5L424.3 486.4L424.7 489.0L422.4 487.8L420.0 489.0L420.5 486.4L418.6 484.5L421.2 484.2zM425.0 489.9L426.2 492.3L428.8 492.7L426.9 494.6L427.4 497.2L425.0 495.9L422.7 497.2L423.1 494.6L421.2 492.7L423.8 492.3zM427.6 487.7L428.8 490.1L431.4 490.5L429.5 492.4L430.0 495.0L427.6 493.7L425.3 495.0L425.7 492.4L423.8 490.5L426.5 490.1zM430.3 487.0L431.5 489.4L434.1 489.8L432.2 491.6L432.6 494.3L430.3 493.0L427.9 494.3L428.4 491.6L426.5 489.8L429.1 489.4zM432.9 460.0L434.1 462.4L436.7 462.8L434.8 464.6L435.3 467.2L432.9 466.0L430.6 467.2L431.0 464.6L429.1 462.8L431.7 462.4zM435.5 477.7L436.7 480.1L439.4 480.5L437.4 482.3L437.9 484.9L435.5 483.7L433.2 484.9L433.6 482.3L431.7 480.5L434.4 480.1zM438.2 488.0L439.4 490.3L442.0 490.7L440.1 492.6L440.5 495.2L438.2 494.0L435.8 495.2L436.3 492.6L434.4 490.7L437.0 490.3zM440.8 489.0L442.0 491.3L444.6 491.7L442.7 493.6L443.2 496.2L440.8 495.0L438.5 496.2L438.9 493.6L437.0 491.7L439.6 491.3zM443.5 489.6L444.6 492.0L447.3 492.3L445.4 494.2L445.8 496.8L443.5 495.6L441.1 496.8L441.6 494.2L439.6 492.3L442.3 492.0zM446.1 481.8L447.3 484.2L449.9 484.6L448.0 486.5L448.4 489.1L446.1 487.8L443.7 489.1L444.2 486.5L442.3 484.6L444.9 484.2zM448.7 483.8L449.9 486.2L452.5 486.6L450.6 488.4L451.1 491.0L448.7 489.8L446.4 491.0L446.8 488.4L444.9 486.6L447.5 486.2zM451.4 488.4L452.5 490.8L455.2 491.2L453.3 493.0L453.7 495.6L451.4 494.4L449.0 495.6L449.5 493.0L447.6 491.2L450.2 490.8zM454.0 490.9L455.2 493.3L457.8 493.7L455.9 495.5L456.3 498.2L454.0 496.9L451.6 498.2L452.1 495.5L450.2 493.7L452.8 493.3zM456.6 488.5L457.8 490.8L460.4 491.2L458.5 493.1L459.0 495.7L456.6 494.5L454.3 495.7L454.7 493.1L452.8 491.2L455.5 490.8zM459.3 490.6L460.4 493.0L463.1 493.4L461.2 495.3L461.6 497.9L459.3 496.6L456.9 497.9L457.4 495.3L455.5 493.4L458.1 493.0zM461.9 482.5L463.1 484.9L465.7 485.3L463.8 487.1L464.2 489.8L461.9 488.5L459.5 489.8L460.0 487.1L458.1 485.3L460.7 484.9zM464.5 487.5L465.7 489.9L468.3 490.2L466.4 492.1L466.9 494.7L464.5 493.5L462.2 494.7L462.6 492.1L460.7 490.2L463.4 489.9zM467.2 487.7L468.3 490.0L471.0 490.4L469.1 492.3L469.5 494.9L467.2 493.7L464.8 494.9L465.3 492.3L463.4 490.4L466.0 490.0zM469.8 487.8L471.0 490.2L473.6 490.5L471.7 492.4L472.2 495.0L469.8 493.8L467.5 495.0L467.9 492.4L466.0 490.5L468.6 490.2zM472.4 488.9L473.6 491.2L476.2 491.6L474.3 493.5L474.8 496.1L472.4 494.9L470.1 496.1L470.5 493.5L468.6 491.6L471.3 491.2zM475.1 487.1L476.2 489.5L478.9 489.9L477.0 491.7L477.4 494.4L475.1 493.1L472.7 494.4L473.2 491.7L471.3 489.9L473.9 489.5zM477.7 487.2L478.9 489.6L481.5 490.0L479.6 491.9L480.1 494.5L477.7 493.2L475.4 494.5L475.8 491.9L473.9 490.0L476.5 489.6zM480.3 491.6L481.5 494.0L484.1 494.4L482.2 496.2L482.7 498.9L480.3 497.6L478.0 498.9L478.4 496.2L476.5 494.4L479.2 494.0zM483.0 488.7L484.2 491.1L486.8 491.5L484.9 493.3L485.3 496.0L483.0 494.7L480.6 496.0L481.1 493.3L479.2 491.5L481.8 491.1zM485.6 487.7L486.8 490.1L489.4 490.5L487.5 492.3L488.0 494.9L485.6 493.7L483.3 494.9L483.7 492.3L481.8 490.5L484.4 490.1zM488.2 487.4L489.4 489.8L492.1 490.2L490.1 492.0L490.6 494.7L488.2 493.4L485.9 494.7L486.3 492.0L484.4 490.2L487.1 489.8zM490.9 486.4L492.1 488.7L494.7 489.1L492.8 491.0L493.2 493.6L490.9 492.4L488.5 493.6L489.0 491.0L487.1 489.1L489.7 488.7zM493.5 488.4L494.7 490.8L497.3 491.1L495.4 493.0L495.9 495.6L493.5 494.4L491.2 495.6L491.6 493.0L489.7 491.1L492.3 490.8zM496.2 487.7L497.3 490.1L500.0 490.5L498.1 492.3L498.5 494.9L496.2 493.7L493.8 494.9L494.2 492.3L492.3 490.5L495.0 490.1zM498.8 486.9L500.0 489.3L502.6 489.7L500.7 491.5L501.1 494.1L498.8 492.9L496.4 494.1L496.9 491.5L495.0 489.7L497.6 489.3zM501.4 489.2L502.6 491.5L505.2 491.9L503.3 493.8L503.8 496.4L501.4 495.2L499.1 496.4L499.5 493.8L497.6 491.9L500.2 491.5zM504.1 487.8L505.2 490.1L507.9 490.5L506.0 492.4L506.4 495.0L504.1 493.8L501.7 495.0L502.2 492.4L500.3 490.5L502.9 490.1zM506.7 486.5L507.9 488.9L510.5 489.3L508.6 491.1L509.0 493.7L506.7 492.5L504.3 493.7L504.8 491.1L502.9 489.3L505.5 488.9zM509.3 494.5L510.5 496.8L513.1 497.2L511.2 499.1L511.7 501.7L509.3 500.5L507.0 501.7L507.4 499.1L505.5 497.2L508.1 496.8zM512.0 490.2L513.1 492.6L515.8 493.0L513.9 494.8L514.3 497.5L512.0 496.2L509.6 497.5L510.1 494.8L508.2 493.0L510.8 492.6zM514.6 483.7L515.8 486.1L518.4 486.5L516.5 488.3L516.9 491.0L514.6 489.7L512.2 491.0L512.7 488.3L510.8 486.5L513.4 486.1zM517.2 489.0L518.4 491.4L521.0 491.8L519.1 493.6L519.6 496.2L517.2 495.0L514.9 496.2L515.3 493.6L513.4 491.8L516.1 491.4zM519.9 483.7L521.0 486.0L523.7 486.4L521.8 488.3L522.2 490.9L519.9 489.7L517.5 490.9L518.0 488.3L516.1 486.4L518.7 486.0zM522.5 493.7L523.7 496.1L526.3 496.5L524.4 498.3L524.9 500.9L522.5 499.7L520.1 500.9L520.6 498.3L518.7 496.5L521.3 496.1zM525.1 486.1L526.3 488.5L528.9 488.9L527.0 490.7L527.5 493.4L525.1 492.1L522.8 493.4L523.2 490.7L521.3 488.9L524.0 488.5zM527.8 486.5L528.9 488.8L531.6 489.2L529.7 491.1L530.1 493.7L527.8 492.5L525.4 493.7L525.9 491.1L524.0 489.2L526.6 488.8zM530.4 488.0L531.6 490.4L534.2 490.7L532.3 492.6L532.8 495.2L530.4 494.0L528.1 495.2L528.5 492.6L526.6 490.7L529.2 490.4zM533.0 491.0L534.2 493.4L536.8 493.8L534.9 495.7L535.4 498.3L533.0 497.0L530.7 498.3L531.1 495.7L529.2 493.8L531.9 493.4zM535.7 485.6L536.9 488.0L539.5 488.4L537.6 490.2L538.0 492.9L535.7 491.6L533.3 492.9L533.8 490.2L531.9 488.4L534.5 488.0zM538.3 487.9L539.5 490.3L542.1 490.7L540.2 492.5L540.7 495.1L538.3 493.9L536.0 495.1L536.4 492.5L534.5 490.7L537.1 490.3zM540.9 485.3L542.1 487.7L544.7 488.1L542.8 489.9L543.3 492.5L540.9 491.3L538.6 492.5L539.0 489.9L537.1 488.1L539.8 487.7zM543.6 486.5L544.8 488.9L547.4 489.2L545.5 491.1L545.9 493.7L543.6 492.5L541.2 493.7L541.7 491.1L539.8 489.2L542.4 488.9zM546.2 487.2L547.4 489.5L550.0 489.9L548.1 491.8L548.6 494.4L546.2 493.2L543.9 494.4L544.3 491.8L542.4 489.9L545.0 489.5zM548.8 486.6L550.0 488.9L552.7 489.3L550.8 491.2L551.2 493.8L548.8 492.6L546.5 493.8L546.9 491.2L545.0 489.3L547.7 488.9zM551.5 487.4L552.7 489.8L555.3 490.2L553.4 492.1L553.8 494.7L551.5 493.4L549.1 494.7L549.6 492.1L547.7 490.2L550.3 489.8zM554.1 485.1L555.3 487.5L557.9 487.9L556.0 489.7L556.5 492.3L554.1 491.1L551.8 492.3L552.2 489.7L550.3 487.9L552.9 487.5zM556.8 478.4L557.9 480.8L560.6 481.2L558.7 483.1L559.1 485.7L556.8 484.4L554.4 485.7L554.9 483.1L552.9 481.2L555.6 480.8zM559.4 480.2L560.6 482.6L563.2 483.0L561.3 484.8L561.7 487.4L559.4 486.2L557.0 487.4L557.5 484.8L555.6 483.0L558.2 482.6zM562.0 485.6L563.2 488.0L565.8 488.4L563.9 490.2L564.4 492.9L562.0 491.6L559.7 492.9L560.1 490.2L558.2 488.4L560.8 488.0zM564.7 486.2L565.8 488.6L568.5 489.0L566.6 490.8L567.0 493.4L564.7 492.2L562.3 493.4L562.8 490.8L560.9 489.0L563.5 488.6zM567.3 486.8L568.5 489.2L571.1 489.5L569.2 491.4L569.6 494.0L567.3 492.8L564.9 494.0L565.4 491.4L563.5 489.5L566.1 489.2zM569.9 488.5L571.1 490.9L573.7 491.3L571.8 493.1L572.3 495.7L569.9 494.5L567.6 495.7L568.0 493.1L566.1 491.3L568.8 490.9zM572.6 482.3L573.7 484.6L576.4 485.0L574.5 486.9L574.9 489.5L572.6 488.3L570.2 489.5L570.7 486.9L568.8 485.0L571.4 484.6zM575.2 485.5L576.4 487.8L579.0 488.2L577.1 490.1L577.5 492.7L575.2 491.5L572.8 492.7L573.3 490.1L571.4 488.2L574.0 487.8zM577.8 485.9L579.0 488.2L581.6 488.6L579.7 490.5L580.2 493.1L577.8 491.9L575.5 493.1L575.9 490.5L574.0 488.6L576.7 488.2zM580.5 484.2L581.6 486.6L584.3 486.9L582.4 488.8L582.8 491.4L580.5 490.2L578.1 491.4L578.6 488.8L576.7 486.9L579.3 486.6zM583.1 486.2L584.3 488.6L586.9 488.9L585.0 490.8L585.5 493.4L583.1 492.2L580.8 493.4L581.2 490.8L579.3 488.9L581.9 488.6zM585.7 481.0L586.9 483.4L589.5 483.8L587.6 485.6L588.1 488.2L585.7 487.0L583.4 488.2L583.8 485.6L581.9 483.8L584.6 483.4zM588.4 484.2L589.5 486.6L592.2 487.0L590.3 488.8L590.7 491.4L588.4 490.2L586.0 491.4L586.5 488.8L584.6 487.0L587.2 486.6zM591.0 486.5L592.2 488.8L594.8 489.2L592.9 491.1L593.4 493.7L591.0 492.5L588.7 493.7L589.1 491.1L587.2 489.2L589.8 488.8zM593.6 485.5L594.8 487.9L597.4 488.3L595.5 490.1L596.0 492.8L593.6 491.5L591.3 492.8L591.7 490.1L589.8 488.3L592.5 487.9zM596.3 483.9L597.5 486.3L600.1 486.7L598.2 488.5L598.6 491.1L596.3 489.9L593.9 491.1L594.4 488.5L592.5 486.7L595.1 486.3zM598.9 477.9L600.1 480.3L602.7 480.7L600.8 482.5L601.3 485.1L598.9 483.9L596.6 485.1L597.0 482.5L595.1 480.7L597.7 480.3zM601.5 484.9L602.7 487.2L605.4 487.6L603.4 489.5L603.9 492.1L601.5 490.9L599.2 492.1L599.6 489.5L597.7 487.6L600.4 487.2zM604.2 485.1L605.4 487.5L608.0 487.9L606.1 489.8L606.5 492.4L604.2 491.1L601.8 492.4L602.3 489.8L600.4 487.9L603.0 487.5zM606.8 479.3L608.0 481.7L610.6 482.1L608.7 483.9L609.2 486.5L606.8 485.3L604.5 486.5L604.9 483.9L603.0 482.1L605.6 481.7zM609.5 486.2L610.6 488.6L613.3 489.0L611.4 490.8L611.8 493.4L609.5 492.2L607.1 493.4L607.6 490.8L605.6 489.0L608.3 488.6zM612.1 479.9L613.3 482.3L615.9 482.7L614.0 484.5L614.4 487.1L612.1 485.9L609.7 487.1L610.2 484.5L608.3 482.7L610.9 482.3zM614.7 485.3L615.9 487.7L618.5 488.1L616.6 489.9L617.1 492.6L614.7 491.3L612.4 492.6L612.8 489.9L610.9 488.1L613.5 487.7zM617.4 484.6L618.5 487.0L621.2 487.4L619.3 489.3L619.7 491.9L617.4 490.6L615.0 491.9L615.5 489.3L613.6 487.4L616.2 487.0zM620.0 484.1L621.2 486.5L623.8 486.8L621.9 488.7L622.3 491.3L620.0 490.1L617.6 491.3L618.1 488.7L616.2 486.8L618.8 486.5zM622.6 478.2L623.8 480.6L626.4 480.9L624.5 482.8L625.0 485.4L622.6 484.2L620.3 485.4L620.7 482.8L618.8 480.9L621.5 480.6zM625.3 482.6L626.4 485.0L629.1 485.4L627.2 487.3L627.6 489.9L625.3 488.6L622.9 489.9L623.4 487.3L621.5 485.4L624.1 485.0zM627.9 484.9L629.1 487.3L631.7 487.7L629.8 489.6L630.2 492.2L627.9 490.9L625.5 492.2L626.0 489.6L624.1 487.7L626.7 487.3zM630.5 486.6L631.7 488.9L634.3 489.3L632.4 491.2L632.9 493.8L630.5 492.6L628.2 493.8L628.6 491.2L626.7 489.3L629.4 488.9zM633.2 484.8L634.3 487.2L637.0 487.6L635.1 489.4L635.5 492.1L633.2 490.8L630.8 492.1L631.3 489.4L629.4 487.6L632.0 487.2zM635.8 484.7L637.0 487.1L639.6 487.5L637.7 489.4L638.2 492.0L635.8 490.7L633.5 492.0L633.9 489.4L632.0 487.5L634.6 487.1zM638.4 485.1L639.6 487.5L642.2 487.8L640.3 489.7L640.8 492.3L638.4 491.1L636.1 492.3L636.5 489.7L634.6 487.8L637.3 487.5zM641.1 486.7L642.2 489.1L644.9 489.5L643.0 491.4L643.4 494.0L641.1 492.7L638.7 494.0L639.2 491.4L637.3 489.5L639.9 489.1zM643.7 491.0L644.9 493.4L647.5 493.8L645.6 495.6L646.1 498.3L643.7 497.0L641.4 498.3L641.8 495.6L639.9 493.8L642.5 493.4zM646.3 485.1L647.5 487.5L650.1 487.9L648.2 489.7L648.7 492.3L646.3 491.1L644.0 492.3L644.4 489.7L642.5 487.9L645.2 487.5zM649.0 485.0L650.2 487.4L652.8 487.8L650.9 489.7L651.3 492.3L649.0 491.0L646.6 492.3L647.1 489.7L645.2 487.8L647.8 487.4zM651.6 481.0L652.8 483.4L655.4 483.8L653.5 485.6L654.0 488.3L651.6 487.0L649.3 488.3L649.7 485.6L647.8 483.8L650.4 483.4zM654.2 485.7L655.4 488.0L658.1 488.4L656.1 490.3L656.6 492.9L654.2 491.7L651.9 492.9L652.3 490.3L650.4 488.4L653.1 488.0zM656.9 486.4L658.1 488.8L660.7 489.2L658.8 491.0L659.2 493.7L656.9 492.4L654.5 493.7L655.0 491.0L653.1 489.2L655.7 488.8zM659.5 484.2L660.7 486.6L663.3 486.9L661.4 488.8L661.9 491.4L659.5 490.2L657.2 491.4L657.6 488.8L655.7 486.9L658.3 486.6zM662.2 484.0L663.3 486.4L666.0 486.8L664.1 488.6L664.5 491.3L662.2 490.0L659.8 491.3L660.2 488.6L658.3 486.8L661.0 486.4zM664.8 486.7L666.0 489.1L668.6 489.5L666.7 491.4L667.1 494.0L664.8 492.7L662.4 494.0L662.9 491.4L661.0 489.5L663.6 489.1zM667.4 477.9L668.6 480.3L671.2 480.7L669.3 482.5L669.8 485.2L667.4 483.9L665.1 485.2L665.5 482.5L663.6 480.7L666.2 480.3zM670.1 484.4L671.2 486.8L673.9 487.2L672.0 489.1L672.4 491.7L670.1 490.4L667.7 491.7L668.2 489.1L666.3 487.2L668.9 486.8zM672.7 483.6L673.9 486.0L676.5 486.4L674.6 488.2L675.0 490.8L672.7 489.6L670.3 490.8L670.8 488.2L668.9 486.4L671.5 486.0zM675.3 486.3L676.5 488.7L679.1 489.1L677.2 491.0L677.7 493.6L675.3 492.3L673.0 493.6L673.4 491.0L671.5 489.1L674.1 488.7zM678.0 485.5L679.1 487.9L681.8 488.3L679.9 490.1L680.3 492.7L678.0 491.5L675.6 492.7L676.1 490.1L674.2 488.3L676.8 487.9zM680.6 486.1L681.8 488.4L684.4 488.8L682.5 490.7L682.9 493.3L680.6 492.1L678.2 493.3L678.7 490.7L676.8 488.8L679.4 488.4zM683.2 485.1L684.4 487.5L687.0 487.9L685.1 489.8L685.6 492.4L683.2 491.1L680.9 492.4L681.3 489.8L679.4 487.9L682.1 487.5zM685.9 483.4L687.0 485.8L689.7 486.1L687.8 488.0L688.2 490.6L685.9 489.4L683.5 490.6L684.0 488.0L682.1 486.1L684.7 485.8zM688.5 485.8L689.7 488.2L692.3 488.6L690.4 490.5L690.9 493.1L688.5 491.8L686.1 493.1L686.6 490.5L684.7 488.6L687.3 488.2z" fill="#808000"/>
<rect x="162.50" y="508.90" width="546.00" height="5.00" fill="#000000"/>
<rect x="162.50" y="63.20" width="5.00" height="450.70" fill="#535353"/>
<rect x="162.50" y="63.20" width="548.50" height="5.00" fill="#000000"/>
<rect x="708.50" y="63.20" width="5.00" height="450.70" fill="#FF0000"/>
<rect x="165.00" y="509.10" width="5.50" height="4.40" fill="#535353"/>
<rect x="165.00" y="410.15" width="5.50" height="4.40" fill="#535353"/>
<rect x="165.00" y="311.20" width="5.50" height="4.40" fill="#535353"/>
<rect x="165.00" y="212.25" width="5.50" height="4.40" fill="#535353"/>
<rect x="165.00" y="113.30" width="5.50" height="4.40" fill="#535353"/>
<rect x="705.50" y="508.30" width="5.50" height="4.40" fill="#FF0000"/>
<rect x="705.50" y="419.40" width="5.50" height="4.40" fill="#FF0000"/>
<rect x="705.50" y="330.50" width="5.50" height="4.40" fill="#FF0000"/>
<rect x="705.50" y="241.60" width="5.50" height="4.40" fill="#FF0000"/>
<rect x="705.50" y="152.70" width="5.50" height="4.40" fill="#FF0000"/>
<rect x="705.50" y="63.80" width="5.50" height="4.40" fill="#FF0000"/>
<rect x="707.00" y="464.85" width="4.00" height="2.40" fill="#FF0000"/>
<rect x="707.00" y="375.95" width="4.00" height="2.40" fill="#FF0000"/>
<rect x="707.00" y="287.05" width="4.00" height="2.40" fill="#FF0000"/>
<rect x="707.00" y="198.15" width="4.00" height="2.40" fill="#FF0000"/>
<rect x="707.00" y="109.25" width="4.00" height="2.40" fill="#FF0000"/>
<rect x="187.05" y="505.70" width="4.40" height="5.70" fill="#000000"/>
<rect x="311.45" y="505.70" width="4.40" height="5.70" fill="#000000"/>
<rect x="435.85" y="505.70" width="4.40" height="5.70" fill="#000000"/>
<rect x="560.25" y="505.70" width="4.40" height="5.70" fill="#000000"/>
<rect x="684.65" y="505.70" width="4.40" height="5.70" fill="#000000"/>
<text transform="translate(159.20,526.60) scale(1.000,1.040)" font-size="48" fill="#535353" text-anchor="end">0</text>
<text transform="translate(159.20,427.65) scale(1.000,1.040)" font-size="48" fill="#535353" text-anchor="end">100</text>
<text transform="translate(159.20,328.70) scale(1.000,1.040)" font-size="48" fill="#535353" text-anchor="end">200</text>
<text transform="translate(159.20,229.75) scale(1.000,1.040)" font-size="48" fill="#535353" text-anchor="end">300</text>
<text transform="translate(159.20,130.80) scale(1.000,1.040)" font-size="48" fill="#535353" text-anchor="end">400</text>
<text transform="translate(717.50,525.40) scale(1.000,1.040)" font-size="47.5" fill="#FF0000">0.0</text>
<text transform="translate(717.50,436.50) scale(1.000,1.040)" font-size="47.5" fill="#FF0000">0.1</text>
<text transform="translate(717.50,347.60) scale(1.000,1.040)" font-size="47.5" fill="#FF0000">0.2</text>
<text transform="translate(717.50,258.70) scale(1.000,1.040)" font-size="47.5" fill="#FF0000">0.3</text>
<text transform="translate(717.50,169.80) scale(1.000,1.040)" font-size="47.5" fill="#FF0000">0.4</text>
<text transform="translate(717.50,80.90) scale(1.000,1.040)" font-size="47.5" fill="#FF0000">0.5</text>
<text transform="translate(189.25,554.60) scale(1.000,1.000)" font-size="48" fill="#000000" text-anchor="middle">0.0</text>
<text transform="translate(313.65,554.60) scale(1.000,1.000)" font-size="48" fill="#000000" text-anchor="middle">500.0k</text>
<text transform="translate(438.05,554.60) scale(1.000,1.000)" font-size="48" fill="#000000" text-anchor="middle">1.0M</text>
<text transform="translate(562.45,554.60) scale(1.000,1.000)" font-size="48" fill="#000000" text-anchor="middle">1.5M</text>
<text transform="translate(686.85,554.60) scale(1.000,1.000)" font-size="48" fill="#000000" text-anchor="middle">2.0M</text>
<text transform="translate(438.00,606.00) scale(1.000,1.020)" font-size="47.6" fill="#000000" text-anchor="middle">Frequency(Hz)</text>
<text transform="translate(68.90,288.50) scale(1.000,0.992) rotate(-90)" font-size="48.5" fill="#000000" text-anchor="middle">Dielectric constant</text>
<text transform="translate(833.00,276.30) scale(1.000,0.994) rotate(-90)" font-size="53" fill="#FF0000" text-anchor="middle">Loss targent δ</text>
<text transform="translate(0.90,45.20) scale(1.060,1.000)" font-size="45" fill="#000000" font-weight="normal">(a)</text>
<ellipse cx="615.7" cy="125.5" rx="16.5" ry="36.8" fill="none" stroke="#000" stroke-width="3.4" stroke-dasharray="14,5,2.5,5"/>
<rect x="572.00" y="152.80" width="19.00" height="4.60" fill="#000000"/>
<path d="M550.7,155.1 L574,149.3 L574,161.1Z" fill="#000"/>
<ellipse cx="610.7" cy="474.5" rx="16.8" ry="36.3" fill="none" stroke="#FF0000" stroke-width="3.4" stroke-dasharray="14,5,2.5,5"/>
<rect x="632.30" y="442.30" width="18.00" height="3.80" fill="#FF0000"/>
<path d="M672.3,444.2 L649.5,438.5 L649.5,450Z" fill="#FF0000"/>
<line x1="190.7" y1="161.4" x2="241.6" y2="161.4" stroke="#535353" stroke-width="2.6" stroke-linecap="round" stroke-dasharray="0,6.36"/>
<rect x="215.1" y="157.9" width="7.0" height="7.0" fill="#535353"/>
<text transform="translate(252.30,172.10) scale(1.000,1.000)" font-size="29" fill="#000000">0%</text>
<text transform="translate(306.80,172.10) scale(1.000,1.000)" font-size="29" fill="#000000" font-style="italic">ε<tspan font-size="20" dy="6">r</tspan></text>
<line x1="190.7" y1="203.1" x2="241.6" y2="203.1" stroke="#F84848" stroke-width="2.6" stroke-linecap="round" stroke-dasharray="0,6.36"/>
<path d="M215.1,199.9L222.1,199.9L218.6,206.2Z" fill="#F84848"/>
<text transform="translate(252.30,213.80) scale(1.000,1.000)" font-size="29" fill="#000000">3%</text>
<text transform="translate(306.80,213.80) scale(1.000,1.000)" font-size="29" fill="#000000" font-style="italic">ε<tspan font-size="20" dy="6">r</tspan></text>
<line x1="190.7" y1="244.3" x2="241.6" y2="244.3" stroke="#CC9900" stroke-width="2.6" stroke-linecap="round" stroke-dasharray="0,6.36"/>
<path d="M215.4,244.3L221.8,240.8L221.8,247.8Z" fill="#CC9900"/>
<text transform="translate(252.30,255.00) scale(1.000,1.000)" font-size="29" fill="#000000">5%</text>
<text transform="translate(306.80,255.00) scale(1.000,1.000)" font-size="29" fill="#000000" font-style="italic">ε<tspan font-size="20" dy="6">r</tspan></text>
<line x1="190.7" y1="285.2" x2="241.6" y2="285.2" stroke="#808000" stroke-width="2.6" stroke-linecap="round" stroke-dasharray="0,6.36"/>
<polygon points="218.6,281.7 219.6,283.8 221.9,284.1 220.3,285.7 220.7,288.0 218.6,286.9 216.5,288.0 216.9,285.7 215.3,284.1 217.6,283.8" fill="#808000"/>
<text transform="translate(252.30,295.90) scale(1.000,1.000)" font-size="29" fill="#000000">10%</text>
<text transform="translate(321.30,295.90) scale(1.000,1.000)" font-size="29" fill="#000000" font-style="italic">ε<tspan font-size="20" dy="6">r</tspan></text>
<line x1="191.80" y1="328.50" x2="245.00" y2="328.50" stroke="#535353" stroke-width="3.4" stroke-linecap="round"/>
<rect x="215.1" y="325.0" width="7.0" height="7.0" fill="#535353"/>
<text transform="translate(252.30,339.00) scale(1.000,1.000)" font-size="29" fill="#000000">0%</text>
<text transform="translate(307.10,339.00) scale(1.000,1.000)" font-size="29" fill="#000000" font-style="italic">tgδ</text>
<line x1="191.80" y1="366.40" x2="245.00" y2="366.40" stroke="#F84848" stroke-width="3.4" stroke-linecap="round"/>
<path d="M215.1,363.2L222.1,363.2L218.6,369.5Z" fill="#F84848"/>
<text transform="translate(252.30,376.90) scale(1.000,1.000)" font-size="29" fill="#000000">3%</text>
<text transform="translate(307.10,376.90) scale(1.000,1.000)" font-size="29" fill="#000000" font-style="italic">tgδ</text>
<line x1="191.80" y1="404.30" x2="245.00" y2="404.30" stroke="#CC9900" stroke-width="3.4" stroke-linecap="round"/>
<path d="M215.4,404.3L221.8,400.8L221.8,407.8Z" fill="#CC9900"/>
<text transform="translate(252.30,414.80) scale(1.000,1.000)" font-size="29" fill="#000000">5%</text>
<text transform="translate(307.10,414.80) scale(1.000,1.000)" font-size="29" fill="#000000" font-style="italic">tgδ</text>
<line x1="191.80" y1="442.00" x2="245.00" y2="442.00" stroke="#808000" stroke-width="3.4" stroke-linecap="round"/>
<polygon points="218.6,438.5 219.6,440.6 221.9,440.9 220.3,442.5 220.7,444.8 218.6,443.8 216.5,444.8 216.9,442.5 215.3,440.9 217.6,440.6" fill="#808000"/>
<text transform="translate(252.30,452.50) scale(1.000,1.000)" font-size="29" fill="#000000">10%</text>
<text transform="translate(321.00,452.50) scale(1.000,1.000)" font-size="29" fill="#000000" font-style="italic">tgδ</text>
</g>
<g id="pb">
<line x1="1070.69" y1="327.72" x2="1097.51" y2="347.23" stroke="#FF0000" stroke-width="4.6" stroke-linecap="round"/><line x1="1110.98" y1="343.71" x2="1146.42" y2="266.33" stroke="#FF0000" stroke-width="4.6" stroke-linecap="round"/><line x1="1157.23" y1="247.27" x2="1189.37" y2="200.48" stroke="#FF0000" stroke-width="4.6" stroke-linecap="round"/><line x1="1199.17" y1="201.82" x2="1236.63" y2="310.85" stroke="#FF0000" stroke-width="4.6" stroke-linecap="round"/><line x1="1250.28" y1="316.85" x2="1274.72" y2="306.18" stroke="#FF0000" stroke-width="4.6" stroke-linecap="round"/><line x1="1293.09" y1="309.01" x2="1321.11" y2="333.49" stroke="#FF0000" stroke-width="4.6" stroke-linecap="round"/><line x1="1339.74" y1="336.96" x2="1408.26" y2="312.03" stroke="#FF0000" stroke-width="4.6" stroke-linecap="round"/><line x1="1429.49" y1="306.68" x2="1496.91" y2="296.87" stroke="#FF0000" stroke-width="4.6" stroke-linecap="round"/>
<rect x="1054.30" y="313.75" width="15.00" height="15.00" fill="#fff"/><rect x="1054.30" y="313.75" width="7.50" height="15.00" fill="#FF0000"/><rect x="1055.05" y="314.50" width="13.50" height="13.50" fill="none" stroke="#FF0000" stroke-width="1.5"/><rect x="1098.90" y="346.21" width="15.00" height="15.00" fill="#fff"/><rect x="1098.90" y="346.21" width="7.50" height="15.00" fill="#FF0000"/><rect x="1099.65" y="346.96" width="13.50" height="13.50" fill="none" stroke="#FF0000" stroke-width="1.5"/><rect x="1143.50" y="248.83" width="15.00" height="15.00" fill="#fff"/><rect x="1143.50" y="248.83" width="7.50" height="15.00" fill="#FF0000"/><rect x="1144.25" y="249.58" width="13.50" height="13.50" fill="none" stroke="#FF0000" stroke-width="1.5"/><rect x="1188.10" y="183.92" width="15.00" height="15.00" fill="#fff"/><rect x="1188.10" y="183.92" width="7.50" height="15.00" fill="#FF0000"/><rect x="1188.85" y="184.67" width="13.50" height="13.50" fill="none" stroke="#FF0000" stroke-width="1.5"/><rect x="1232.70" y="313.75" width="15.00" height="15.00" fill="#fff"/><rect x="1232.70" y="313.75" width="7.50" height="15.00" fill="#FF0000"/><rect x="1233.45" y="314.50" width="13.50" height="13.50" fill="none" stroke="#FF0000" stroke-width="1.5"/><rect x="1277.30" y="294.27" width="15.00" height="15.00" fill="#fff"/><rect x="1277.30" y="294.27" width="7.50" height="15.00" fill="#FF0000"/><rect x="1278.05" y="295.02" width="13.50" height="13.50" fill="none" stroke="#FF0000" stroke-width="1.5"/><rect x="1321.90" y="333.22" width="15.00" height="15.00" fill="#fff"/><rect x="1321.90" y="333.22" width="7.50" height="15.00" fill="#FF0000"/><rect x="1322.65" y="333.97" width="13.50" height="13.50" fill="none" stroke="#FF0000" stroke-width="1.5"/><rect x="1411.10" y="300.77" width="15.00" height="15.00" fill="#fff"/><rect x="1411.10" y="300.77" width="7.50" height="15.00" fill="#FF0000"/><rect x="1411.85" y="301.52" width="13.50" height="13.50" fill="none" stroke="#FF0000" stroke-width="1.5"/><rect x="1500.30" y="287.78" width="15.00" height="15.00" fill="#fff"/><rect x="1500.30" y="287.78" width="7.50" height="15.00" fill="#FF0000"/><rect x="1501.05" y="288.53" width="13.50" height="13.50" fill="none" stroke="#FF0000" stroke-width="1.5"/>
<line x1="1071.50" y1="444.02" x2="1096.70" y2="425.69" stroke="#FF0000" stroke-width="4.6" stroke-linecap="round"/><line x1="1117.40" y1="413.82" x2="1140.00" y2="403.95" stroke="#FF0000" stroke-width="4.6" stroke-linecap="round"/><line x1="1156.96" y1="388.74" x2="1189.64" y2="331.66" stroke="#FF0000" stroke-width="4.6" stroke-linecap="round"/><line x1="1199.88" y1="332.46" x2="1235.92" y2="426.89" stroke="#FF0000" stroke-width="4.6" stroke-linecap="round"/><line x1="1252.07" y1="436.37" x2="1272.93" y2="433.34" stroke="#FF0000" stroke-width="4.6" stroke-linecap="round"/><line x1="1293.84" y1="439.50" x2="1320.36" y2="462.66" stroke="#FF0000" stroke-width="4.6" stroke-linecap="round"/><line x1="1340.68" y1="466.45" x2="1407.32" y2="442.20" stroke="#FF0000" stroke-width="4.6" stroke-linecap="round"/><line x1="1430.47" y1="436.37" x2="1495.93" y2="426.84" stroke="#FF0000" stroke-width="4.6" stroke-linecap="round"/>
<path d="M1061.80,439.58L1072.05,451.08L1061.80,462.58L1051.55,451.08Z" fill="#fff"/><path d="M1061.80,439.58L1051.55,451.08L1061.80,462.58Z" fill="#FF0000"/><path d="M1061.80,440.48L1071.15,451.08L1061.80,461.68L1052.45,451.08Z" fill="none" stroke="#FF0000" stroke-width="1.5" stroke-linejoin="miter"/><path d="M1106.40,407.12L1116.65,418.62L1106.40,430.12L1096.15,418.62Z" fill="#fff"/><path d="M1106.40,407.12L1096.15,418.62L1106.40,430.12Z" fill="#FF0000"/><path d="M1106.40,408.02L1115.75,418.62L1106.40,429.22L1097.05,418.62Z" fill="none" stroke="#FF0000" stroke-width="1.5" stroke-linejoin="miter"/><path d="M1151.00,387.65L1161.25,399.15L1151.00,410.65L1140.75,399.15Z" fill="#fff"/><path d="M1151.00,387.65L1140.75,399.15L1151.00,410.65Z" fill="#FF0000"/><path d="M1151.00,388.55L1160.35,399.15L1151.00,409.75L1141.65,399.15Z" fill="none" stroke="#FF0000" stroke-width="1.5" stroke-linejoin="miter"/><path d="M1195.60,309.75L1205.85,321.25L1195.60,332.75L1185.35,321.25Z" fill="#fff"/><path d="M1195.60,309.75L1185.35,321.25L1195.60,332.75Z" fill="#FF0000"/><path d="M1195.60,310.65L1204.95,321.25L1195.60,331.85L1186.25,321.25Z" fill="none" stroke="#FF0000" stroke-width="1.5" stroke-linejoin="miter"/><path d="M1240.20,426.60L1250.45,438.10L1240.20,449.60L1229.95,438.10Z" fill="#fff"/><path d="M1240.20,426.60L1229.95,438.10L1240.20,449.60Z" fill="#FF0000"/><path d="M1240.20,427.50L1249.55,438.10L1240.20,448.70L1230.85,438.10Z" fill="none" stroke="#FF0000" stroke-width="1.5" stroke-linejoin="miter"/><path d="M1284.80,420.11L1295.05,431.61L1284.80,443.11L1274.55,431.61Z" fill="#fff"/><path d="M1284.80,420.11L1274.55,431.61L1284.80,443.11Z" fill="#FF0000"/><path d="M1284.80,421.01L1294.15,431.61L1284.80,442.21L1275.45,431.61Z" fill="none" stroke="#FF0000" stroke-width="1.5" stroke-linejoin="miter"/><path d="M1329.40,459.06L1339.65,470.56L1329.40,482.06L1319.15,470.56Z" fill="#fff"/><path d="M1329.40,459.06L1319.15,470.56L1329.40,482.06Z" fill="#FF0000"/><path d="M1329.40,459.96L1338.75,470.56L1329.40,481.16L1320.05,470.56Z" fill="none" stroke="#FF0000" stroke-width="1.5" stroke-linejoin="miter"/><path d="M1418.60,426.60L1428.85,438.10L1418.60,449.60L1408.35,438.10Z" fill="#fff"/><path d="M1418.60,426.60L1408.35,438.10L1418.60,449.60Z" fill="#FF0000"/><path d="M1418.60,427.50L1427.95,438.10L1418.60,448.70L1409.25,438.10Z" fill="none" stroke="#FF0000" stroke-width="1.5" stroke-linejoin="miter"/><path d="M1507.80,413.62L1518.05,425.12L1507.80,436.62L1497.55,425.12Z" fill="#fff"/><path d="M1507.80,413.62L1497.55,425.12L1507.80,436.62Z" fill="#FF0000"/><path d="M1507.80,414.52L1517.15,425.12L1507.80,435.72L1498.45,425.12Z" fill="none" stroke="#FF0000" stroke-width="1.5" stroke-linejoin="miter"/>
<line x1="1073.78" y1="495.56" x2="1094.42" y2="494.44" stroke="#000080" stroke-width="4.4" stroke-linecap="round"/><line x1="1118.39" y1="493.24" x2="1139.01" y2="492.26" stroke="#000080" stroke-width="4.4" stroke-linecap="round"/><line x1="1162.85" y1="493.59" x2="1183.75" y2="496.91" stroke="#000080" stroke-width="4.4" stroke-linecap="round"/><line x1="1207.45" y1="496.91" x2="1228.35" y2="493.59" stroke="#000080" stroke-width="4.4" stroke-linecap="round"/><line x1="1252.20" y1="491.70" x2="1272.80" y2="491.70" stroke="#000080" stroke-width="4.4" stroke-linecap="round"/><line x1="1296.78" y1="492.37" x2="1317.42" y2="493.53" stroke="#000080" stroke-width="4.4" stroke-linecap="round"/><line x1="1341.40" y1="494.20" x2="1406.60" y2="494.20" stroke="#000080" stroke-width="4.4" stroke-linecap="round"/><line x1="1430.60" y1="493.86" x2="1495.80" y2="492.04" stroke="#000080" stroke-width="4.4" stroke-linecap="round"/>
<path d="M1061.80,484.70L1072.05,496.20L1061.80,507.70L1051.55,496.20Z" fill="#fff"/><path d="M1061.80,484.70L1072.05,496.20L1061.80,507.70Z" fill="#000080"/><path d="M1061.80,485.60L1071.15,496.20L1061.80,506.80L1052.45,496.20Z" fill="none" stroke="#000080" stroke-width="1.5" stroke-linejoin="miter"/><path d="M1106.40,482.30L1116.65,493.80L1106.40,505.30L1096.15,493.80Z" fill="#fff"/><path d="M1106.40,482.30L1116.65,493.80L1106.40,505.30Z" fill="#000080"/><path d="M1106.40,483.20L1115.75,493.80L1106.40,504.40L1097.05,493.80Z" fill="none" stroke="#000080" stroke-width="1.5" stroke-linejoin="miter"/><path d="M1151.00,480.20L1161.25,491.70L1151.00,503.20L1140.75,491.70Z" fill="#fff"/><path d="M1151.00,480.20L1161.25,491.70L1151.00,503.20Z" fill="#000080"/><path d="M1151.00,481.10L1160.35,491.70L1151.00,502.30L1141.65,491.70Z" fill="none" stroke="#000080" stroke-width="1.5" stroke-linejoin="miter"/><path d="M1195.60,487.30L1205.85,498.80L1195.60,510.30L1185.35,498.80Z" fill="#fff"/><path d="M1195.60,487.30L1205.85,498.80L1195.60,510.30Z" fill="#000080"/><path d="M1195.60,488.20L1204.95,498.80L1195.60,509.40L1186.25,498.80Z" fill="none" stroke="#000080" stroke-width="1.5" stroke-linejoin="miter"/><path d="M1240.20,480.20L1250.45,491.70L1240.20,503.20L1229.95,491.70Z" fill="#fff"/><path d="M1240.20,480.20L1250.45,491.70L1240.20,503.20Z" fill="#000080"/><path d="M1240.20,481.10L1249.55,491.70L1240.20,502.30L1230.85,491.70Z" fill="none" stroke="#000080" stroke-width="1.5" stroke-linejoin="miter"/><path d="M1284.80,480.20L1295.05,491.70L1284.80,503.20L1274.55,491.70Z" fill="#fff"/><path d="M1284.80,480.20L1295.05,491.70L1284.80,503.20Z" fill="#000080"/><path d="M1284.80,481.10L1294.15,491.70L1284.80,502.30L1275.45,491.70Z" fill="none" stroke="#000080" stroke-width="1.5" stroke-linejoin="miter"/><path d="M1329.40,482.70L1339.65,494.20L1329.40,505.70L1319.15,494.20Z" fill="#fff"/><path d="M1329.40,482.70L1339.65,494.20L1329.40,505.70Z" fill="#000080"/><path d="M1329.40,483.60L1338.75,494.20L1329.40,504.80L1320.05,494.20Z" fill="none" stroke="#000080" stroke-width="1.5" stroke-linejoin="miter"/><path d="M1418.60,482.70L1428.85,494.20L1418.60,505.70L1408.35,494.20Z" fill="#fff"/><path d="M1418.60,482.70L1428.85,494.20L1418.60,505.70Z" fill="#000080"/><path d="M1418.60,483.60L1427.95,494.20L1418.60,504.80L1409.25,494.20Z" fill="none" stroke="#000080" stroke-width="1.5" stroke-linejoin="miter"/><path d="M1507.80,480.20L1518.05,491.70L1507.80,503.20L1497.55,491.70Z" fill="#fff"/><path d="M1507.80,480.20L1518.05,491.70L1507.80,503.20Z" fill="#000080"/><path d="M1507.80,481.10L1517.15,491.70L1507.80,502.30L1498.45,491.70Z" fill="none" stroke="#000080" stroke-width="1.5" stroke-linejoin="miter"/>
<line x1="1071.28" y1="444.69" x2="1096.92" y2="459.81" stroke="#000080" stroke-width="4.4" stroke-linecap="round"/><line x1="1117.39" y1="465.97" x2="1140.01" y2="467.13" stroke="#000080" stroke-width="4.4" stroke-linecap="round"/><line x1="1161.12" y1="472.01" x2="1185.48" y2="482.39" stroke="#000080" stroke-width="4.4" stroke-linecap="round"/><line x1="1205.72" y1="482.39" x2="1230.08" y2="472.01" stroke="#000080" stroke-width="4.4" stroke-linecap="round"/><line x1="1251.20" y1="467.70" x2="1273.80" y2="467.70" stroke="#000080" stroke-width="4.4" stroke-linecap="round"/><line x1="1295.79" y1="468.27" x2="1318.41" y2="469.43" stroke="#000080" stroke-width="4.4" stroke-linecap="round"/><line x1="1340.40" y1="470.00" x2="1407.60" y2="470.00" stroke="#000080" stroke-width="4.4" stroke-linecap="round"/><line x1="1429.59" y1="470.55" x2="1496.81" y2="473.95" stroke="#000080" stroke-width="4.4" stroke-linecap="round"/>
<rect x="1054.30" y="431.60" width="15.00" height="15.00" fill="#fff"/><rect x="1061.80" y="431.60" width="7.50" height="15.00" fill="#000080"/><rect x="1055.05" y="432.35" width="13.50" height="13.50" fill="none" stroke="#000080" stroke-width="1.5"/><rect x="1098.90" y="457.90" width="15.00" height="15.00" fill="#fff"/><rect x="1106.40" y="457.90" width="7.50" height="15.00" fill="#000080"/><rect x="1099.65" y="458.65" width="13.50" height="13.50" fill="none" stroke="#000080" stroke-width="1.5"/><rect x="1143.50" y="460.20" width="15.00" height="15.00" fill="#fff"/><rect x="1151.00" y="460.20" width="7.50" height="15.00" fill="#000080"/><rect x="1144.25" y="460.95" width="13.50" height="13.50" fill="none" stroke="#000080" stroke-width="1.5"/><rect x="1188.10" y="479.20" width="15.00" height="15.00" fill="#fff"/><rect x="1195.60" y="479.20" width="7.50" height="15.00" fill="#000080"/><rect x="1188.85" y="479.95" width="13.50" height="13.50" fill="none" stroke="#000080" stroke-width="1.5"/><rect x="1232.70" y="460.20" width="15.00" height="15.00" fill="#fff"/><rect x="1240.20" y="460.20" width="7.50" height="15.00" fill="#000080"/><rect x="1233.45" y="460.95" width="13.50" height="13.50" fill="none" stroke="#000080" stroke-width="1.5"/><rect x="1277.30" y="460.20" width="15.00" height="15.00" fill="#fff"/><rect x="1284.80" y="460.20" width="7.50" height="15.00" fill="#000080"/><rect x="1278.05" y="460.95" width="13.50" height="13.50" fill="none" stroke="#000080" stroke-width="1.5"/><rect x="1321.90" y="462.50" width="15.00" height="15.00" fill="#fff"/><rect x="1329.40" y="462.50" width="7.50" height="15.00" fill="#000080"/><rect x="1322.65" y="463.25" width="13.50" height="13.50" fill="none" stroke="#000080" stroke-width="1.5"/><rect x="1411.10" y="462.50" width="15.00" height="15.00" fill="#fff"/><rect x="1418.60" y="462.50" width="7.50" height="15.00" fill="#000080"/><rect x="1411.85" y="463.25" width="13.50" height="13.50" fill="none" stroke="#000080" stroke-width="1.5"/><rect x="1500.30" y="467.00" width="15.00" height="15.00" fill="#fff"/><rect x="1507.80" y="467.00" width="7.50" height="15.00" fill="#000080"/><rect x="1501.05" y="467.75" width="13.50" height="13.50" fill="none" stroke="#000080" stroke-width="1.5"/>
<rect x="1015.40" y="513.30" width="533.30" height="5.00" fill="#000000"/>
<rect x="1015.40" y="59.40" width="5.00" height="458.90" fill="#FF0000"/>
<rect x="1015.40" y="59.40" width="535.80" height="5.00" fill="#000000"/>
<rect x="1548.70" y="59.40" width="5.00" height="458.90" fill="#000080"/>
<rect x="1017.90" y="513.40" width="8.00" height="5.20" fill="#FF0000"/>
<rect x="1017.90" y="383.57" width="8.00" height="5.20" fill="#FF0000"/>
<rect x="1017.90" y="253.73" width="8.00" height="5.20" fill="#FF0000"/>
<rect x="1017.90" y="123.90" width="8.00" height="5.20" fill="#FF0000"/>
<rect x="1017.90" y="449.68" width="4.70" height="2.80" fill="#FF0000"/>
<rect x="1017.90" y="319.85" width="4.70" height="2.80" fill="#FF0000"/>
<rect x="1017.90" y="190.02" width="4.70" height="2.80" fill="#FF0000"/>
<rect x="1544.20" y="413.40" width="7.00" height="5.20" fill="#000080"/>
<rect x="1544.20" y="295.40" width="7.00" height="5.20" fill="#000080"/>
<rect x="1544.20" y="177.40" width="7.00" height="5.20" fill="#000080"/>
<rect x="1544.20" y="59.40" width="7.00" height="5.20" fill="#000080"/>
<rect x="1546.70" y="473.60" width="4.50" height="2.80" fill="#000080"/>
<rect x="1546.70" y="355.60" width="4.50" height="2.80" fill="#000080"/>
<rect x="1546.70" y="237.60" width="4.50" height="2.80" fill="#000080"/>
<rect x="1546.70" y="119.60" width="4.50" height="2.80" fill="#000080"/>
<rect x="1059.50" y="507.30" width="4.60" height="8.50" fill="#000000"/>
<rect x="1148.70" y="507.30" width="4.60" height="8.50" fill="#000000"/>
<rect x="1237.90" y="507.30" width="4.60" height="8.50" fill="#000000"/>
<rect x="1327.10" y="507.30" width="4.60" height="8.50" fill="#000000"/>
<rect x="1416.30" y="507.30" width="4.60" height="8.50" fill="#000000"/>
<rect x="1505.50" y="507.30" width="4.60" height="8.50" fill="#000000"/>
<rect x="1105.00" y="511.10" width="2.80" height="4.70" fill="#000000"/>
<rect x="1194.20" y="511.10" width="2.80" height="4.70" fill="#000000"/>
<rect x="1283.40" y="511.10" width="2.80" height="4.70" fill="#000000"/>
<rect x="1372.60" y="511.10" width="2.80" height="4.70" fill="#000000"/>
<rect x="1461.80" y="511.10" width="2.80" height="4.70" fill="#000000"/>
<text transform="translate(1009.10,532.00) scale(1.000,1.060)" font-size="49" fill="#FF0000" text-anchor="end">380</text>
<text transform="translate(1009.10,402.17) scale(1.000,1.060)" font-size="49" fill="#FF0000" text-anchor="end">400</text>
<text transform="translate(1009.10,272.33) scale(1.000,1.060)" font-size="49" fill="#FF0000" text-anchor="end">420</text>
<text transform="translate(1009.10,142.50) scale(1.000,1.060)" font-size="49" fill="#FF0000" text-anchor="end">440</text>
<text transform="translate(1560.90,430.50) scale(1.000,1.030)" font-size="48.5" fill="#000080">0.05</text>
<text transform="translate(1560.90,312.50) scale(1.000,1.030)" font-size="48.5" fill="#000080">0.10</text>
<text transform="translate(1560.90,194.50) scale(1.000,1.030)" font-size="48.5" fill="#000080">0.15</text>
<text transform="translate(1560.90,76.50) scale(1.000,1.030)" font-size="48.5" fill="#000080">0.20</text>
<text transform="translate(1061.80,565.80) scale(1.000,1.000)" font-size="50" fill="#000000" text-anchor="middle">0</text>
<text transform="translate(1151.00,565.80) scale(1.000,1.000)" font-size="50" fill="#000000" text-anchor="middle">2</text>
<text transform="translate(1240.20,565.80) scale(1.000,1.000)" font-size="50" fill="#000000" text-anchor="middle">4</text>
<text transform="translate(1329.40,565.80) scale(1.000,1.000)" font-size="50" fill="#000000" text-anchor="middle">6</text>
<text transform="translate(1418.60,565.80) scale(1.000,1.000)" font-size="50" fill="#000000" text-anchor="middle">8</text>
<text transform="translate(1507.80,565.80) scale(1.000,1.000)" font-size="50" fill="#000000" text-anchor="middle">10</text>
<text transform="translate(1284.50,609.20) scale(1.000,1.000)" font-size="49" fill="#000000" text-anchor="middle">Zr content(%)</text>
<text transform="translate(914.30,288.00) scale(1.000,1.047) rotate(-90)" font-size="49.2" fill="#FF0000" text-anchor="middle">Dielectric Constant</text>
<text transform="translate(1694.60,283.70) scale(1.000,1.035) rotate(-90)" font-size="49.6" fill="#000080" text-anchor="middle">Loss Tangent δ</text>
<text transform="translate(872.40,36.60) scale(1.060,1.000)" font-size="45.5" fill="#000000" font-weight="normal">(b)</text>
<line x1="1289.10" y1="94.10" x2="1309.50" y2="94.10" stroke="#FF0000" stroke-width="6.0" stroke-linecap="round"/>
<line x1="1334.00" y1="94.10" x2="1355.00" y2="94.10" stroke="#FF0000" stroke-width="6.0" stroke-linecap="round"/>
<line x1="1289.10" y1="144.80" x2="1309.50" y2="144.80" stroke="#FF0000" stroke-width="6.0" stroke-linecap="round"/>
<line x1="1334.00" y1="144.80" x2="1355.00" y2="144.80" stroke="#FF0000" stroke-width="6.0" stroke-linecap="round"/>
<line x1="1289.10" y1="195.80" x2="1309.50" y2="195.80" stroke="#000080" stroke-width="6.0" stroke-linecap="round"/>
<line x1="1334.00" y1="195.80" x2="1355.00" y2="195.80" stroke="#000080" stroke-width="6.0" stroke-linecap="round"/>
<line x1="1289.10" y1="238.60" x2="1309.50" y2="238.60" stroke="#000080" stroke-width="6.0" stroke-linecap="round"/>
<line x1="1334.00" y1="238.60" x2="1355.00" y2="238.60" stroke="#000080" stroke-width="6.0" stroke-linecap="round"/>
<rect x="1313.85" y="86.35" width="15.50" height="15.50" fill="#fff"/><rect x="1313.85" y="86.35" width="7.75" height="15.50" fill="#FF0000"/><rect x="1314.60" y="87.10" width="14.00" height="14.00" fill="none" stroke="#FF0000" stroke-width="1.5"/>
<path d="M1322.00,133.20L1331.80,144.80L1322.00,156.40L1312.20,144.80Z" fill="#fff"/><path d="M1322.00,133.20L1312.20,144.80L1322.00,156.40Z" fill="#FF0000"/><path d="M1322.00,134.10L1330.90,144.80L1322.00,155.50L1313.10,144.80Z" fill="none" stroke="#FF0000" stroke-width="1.5" stroke-linejoin="miter"/>
<path d="M1322.00,184.20L1331.80,195.80L1322.00,207.40L1312.20,195.80Z" fill="#fff"/><path d="M1322.00,184.20L1331.80,195.80L1322.00,207.40Z" fill="#000080"/><path d="M1322.00,185.10L1330.90,195.80L1322.00,206.50L1313.10,195.80Z" fill="none" stroke="#000080" stroke-width="1.5" stroke-linejoin="miter"/>
<rect x="1313.85" y="230.85" width="15.50" height="15.50" fill="#fff"/><rect x="1321.60" y="230.85" width="7.75" height="15.50" fill="#000080"/><rect x="1314.60" y="231.60" width="14.00" height="14.00" fill="none" stroke="#000080" stroke-width="1.5"/>
<text transform="translate(1371.40,107.00) scale(1.000,1.050)" font-size="33.5" fill="#FF0000">1k Hz <tspan font-style="italic">ε</tspan><tspan font-size="25" dy="8.8">r</tspan></text>
<text transform="translate(1371.40,157.70) scale(1.000,1.050)" font-size="33.5" fill="#FF0000">2M Hz <tspan font-style="italic">ε</tspan><tspan font-size="25" dy="8.8">r</tspan></text>
<text transform="translate(1371.40,208.70) scale(1.000,1.050)" font-size="33.5" fill="#000080">1k Hz <tspan font-style="italic">tgδ</tspan></text>
<text transform="translate(1371.40,251.50) scale(1.000,1.050)" font-size="33.5" fill="#000080">2M Hz <tspan font-style="italic">tgδ</tspan></text>
</g>
<g id="pc">
<polyline points="215.6,983.2 216.7,982.4 217.8,981.6 218.9,980.8 220.0,979.9 221.1,979.1 222.2,978.3 223.3,977.4 224.4,976.6 225.5,975.7 226.7,974.8 227.8,973.9 228.9,973.0 230.0,972.1 231.1,971.2 232.2,970.3 233.3,969.4 234.4,968.5 235.5,967.6 236.6,966.6 237.7,965.7 238.8,964.7 239.9,963.7 241.0,962.7 242.1,961.7 243.2,960.7 244.3,959.7 245.4,958.7 246.5,957.7 247.6,956.6 248.7,955.6 249.9,954.6 251.0,953.5 252.1,952.4 253.2,951.4 254.3,950.3 255.4,949.2 256.5,948.1 257.6,947.0 258.7,945.9 259.8,944.8 260.9,943.6 262.0,942.5 263.1,941.4 264.2,940.2 265.3,939.1 266.4,937.9 267.5,936.7 268.6,935.5 269.7,934.4 270.8,933.2 271.9,932.0 273.1,930.7 274.2,929.5 275.3,928.3 276.4,927.1 277.5,925.8 278.6,924.6 279.7,923.3 280.8,922.0 281.9,920.7 283.0,919.5 284.1,918.2 285.2,916.8 286.3,915.5 287.4,914.2 288.5,912.9 289.6,911.5 290.7,910.2 291.8,908.8 292.9,907.5 294.0,906.1 295.1,904.7 296.3,903.3 297.4,901.9 298.5,900.5 299.6,899.1 300.7,897.7 301.8,896.3 302.9,894.9 304.0,893.4 305.1,892.0 306.2,890.5 307.3,889.1 308.4,887.6 309.5,886.2 310.6,884.7 311.7,883.3 312.8,881.8 313.9,880.4 315.0,879.0 316.1,877.6 317.2,876.2 318.3,874.7 319.5,873.3 320.6,871.8 321.7,870.4 322.8,868.9 323.9,867.4 325.0,865.8 326.1,864.3 327.2,862.7 328.3,861.0 329.4,859.3 330.5,857.6 331.6,855.8 332.7,853.9 333.8,852.1 334.9,850.1 336.0,848.2 337.1,846.3 338.2,844.3 339.3,842.3 340.4,840.3 341.5,838.3 342.7,836.3 343.8,834.3 344.9,832.3 346.0,830.3 347.1,828.3 348.2,826.3 349.3,824.3 350.4,822.3 351.5,820.3 352.6,818.3 353.7,816.2 354.8,814.2 355.9,812.1 357.0,810.0 358.1,807.9 359.2,805.7 360.3,803.5 361.4,801.3 362.5,799.1 363.6,796.7 364.7,794.4 365.9,792.0 367.0,789.5 368.1,787.1 369.2,784.6 370.3,782.2 371.4,779.8 372.5,777.4 373.6,775.1 374.7,772.8 375.8,770.6 376.9,768.4 378.0,766.3 379.1,764.1 380.2,762.0 381.3,759.9 382.4,757.9 383.5,755.9 384.6,753.9 385.7,751.9 386.8,750.0 387.9,748.1 389.1,746.2 390.2,744.3 391.3,742.5 392.4,740.7 393.5,738.9 394.6,737.2 395.7,735.5 396.8,733.8 397.9,732.2 399.0,730.6 400.1,728.9 401.2,727.3 402.3,725.6 403.4,723.9 404.5,722.2 405.6,720.4 406.7,718.7 407.8,717.0 408.9,715.3 410.0,713.7 411.1,712.2 412.3,710.8 413.4,709.5 414.5,708.2 415.6,706.9 416.7,705.6 417.8,704.4 418.9,703.2 420.0,702.0 421.1,700.9 422.2,699.9 423.3,699.0 424.4,698.1 425.5,697.3 426.6,696.6 427.7,695.9 428.8,695.2 429.9,694.5 431.0,693.8 432.1,693.2 433.2,692.7 434.3,692.3 435.5,692.1 436.6,692.0 437.7,692.1 438.8,692.3 439.9,692.7 441.0,693.3 442.1,693.9 443.2,694.5 444.3,695.3 445.4,696.0 446.5,696.7 447.6,697.4 448.7,698.1 449.8,698.9 450.9,699.7 452.0,700.6 453.1,701.5 454.2,702.5 455.3,703.6 456.4,704.7 457.5,706.0 458.7,707.3 459.8,708.9 460.9,710.5 462.0,712.2 463.1,714.1 464.2,716.0 465.3,717.9 466.4,719.9 467.5,722.0 468.6,724.0 469.7,726.1 470.8,728.2 471.9,730.3 473.0,732.6 474.1,734.9 475.2,737.3 476.3,739.8 477.4,742.3 478.5,744.7 479.6,747.1 480.7,749.5 481.9,751.8 483.0,754.0 484.1,756.1 485.2,758.2 486.3,760.2 487.4,762.2 488.5,764.2 489.6,766.1 490.7,768.0 491.8,770.0 492.9,771.9 494.0,773.8 495.1,775.8 496.2,777.8 497.3,779.8 498.4,781.9 499.5,784.0 500.6,786.2 501.7,788.4 502.8,790.6 503.9,792.9 505.1,795.1 506.2,797.4 507.3,799.6 508.4,801.8 509.5,804.0 510.6,806.1 511.7,808.2 512.8,810.1 513.9,812.1 515.0,813.9 516.1,815.8 517.2,817.6 518.3,819.4 519.4,821.1 520.5,822.8 521.6,824.5 522.7,826.2 523.8,827.8 524.9,829.5 526.0,831.1 527.1,832.7 528.3,834.3 529.4,835.9 530.5,837.4 531.6,839.0 532.7,840.5 533.8,841.9 534.9,843.3 536.0,844.8 537.1,846.2 538.2,847.6 539.3,849.1 540.4,850.5 541.5,852.0 542.6,853.6 543.7,855.2 544.8,856.8 545.9,858.6 547.0,860.4 548.1,862.2 549.2,864.2 550.3,866.2 551.5,868.2 552.6,870.2 553.7,872.2 554.8,874.1 555.9,876.1 557.0,878.0 558.1,879.8 559.2,881.6 560.3,883.4 561.4,885.2 562.5,887.0 563.6,888.8 564.7,890.6 565.8,892.3 566.9,894.1 568.0,895.9 569.1,897.6 570.2,899.4 571.3,901.1 572.4,902.9 573.5,904.7 574.7,906.5 575.8,908.3 576.9,910.1 578.0,911.9 579.1,913.6 580.2,915.3 581.3,917.0 582.4,918.7 583.5,920.3 584.6,921.9 585.7,923.4 586.8,924.8 587.9,926.3 589.0,927.7 590.1,929.1 591.2,930.5 592.3,931.8 593.4,933.1 594.5,934.4 595.6,935.7 596.7,936.9 597.9,938.2 599.0,939.4 600.1,940.6 601.2,941.8 602.3,943.0 603.4,944.2 604.5,945.3 605.6,946.5 606.7,947.6 607.8,948.7 608.9,949.8 610.0,950.9 611.1,952.0 612.2,953.0 613.3,954.0 614.4,955.1 615.5,956.0 616.6,957.0 617.7,958.0 618.8,958.9 619.9,959.8 621.1,960.7 622.2,961.6 623.3,962.4 624.4,963.3 625.5,964.2 626.6,965.0 627.7,965.9 628.8,966.7 629.9,967.6 631.0,968.5 632.1,969.4 633.2,970.2 634.3,971.1 635.4,972.0 636.5,972.9 637.6,973.8 638.7,974.7 639.8,975.5 640.9,976.4 642.0,977.3 643.1,978.2 644.3,979.1 645.4,980.0 646.5,980.8 647.6,981.7 648.7,982.6 649.8,983.5 650.9,984.4 652.0,985.3 653.1,986.1 654.2,987.0 655.3,987.9" fill="none" stroke="#535353" stroke-width="7.0" stroke-linejoin="round" stroke-linecap="round"/>
<path d="M212.1 979.7h7.0v7.0h-7.0zM215.8 977.0h7.0v7.0h-7.0zM219.5 974.2h7.0v7.0h-7.0zM223.1 971.3h7.0v7.0h-7.0zM226.7 968.5h7.0v7.0h-7.0zM230.2 965.5h7.0v7.0h-7.0zM233.7 962.6h7.0v7.0h-7.0zM237.2 959.5h7.0v7.0h-7.0zM240.6 956.4h7.0v7.0h-7.0zM244.0 953.3h7.0v7.0h-7.0zM247.3 950.1h7.0v7.0h-7.0zM250.6 946.9h7.0v7.0h-7.0zM253.9 943.7h7.0v7.0h-7.0zM257.1 940.4h7.0v7.0h-7.0zM260.3 937.1h7.0v7.0h-7.0zM263.5 933.8h7.0v7.0h-7.0zM266.6 930.4h7.0v7.0h-7.0zM269.7 927.0h7.0v7.0h-7.0zM272.8 923.6h7.0v7.0h-7.0zM275.9 920.2h7.0v7.0h-7.0zM278.9 916.7h7.0v7.0h-7.0zM281.8 913.2h7.0v7.0h-7.0zM284.8 909.6h7.0v7.0h-7.0zM287.7 906.1h7.0v7.0h-7.0zM290.6 902.5h7.0v7.0h-7.0zM293.5 898.9h7.0v7.0h-7.0zM296.3 895.3h7.0v7.0h-7.0zM299.1 891.7h7.0v7.0h-7.0zM301.9 888.0h7.0v7.0h-7.0zM304.7 884.4h7.0v7.0h-7.0zM307.5 880.7h7.0v7.0h-7.0zM310.3 877.1h7.0v7.0h-7.0zM313.1 873.4h7.0v7.0h-7.0zM316.0 869.8h7.0v7.0h-7.0zM318.7 866.1h7.0v7.0h-7.0zM321.4 862.4h7.0v7.0h-7.0zM324.1 858.6h7.0v7.0h-7.0zM326.6 854.8h7.0v7.0h-7.0zM329.0 850.8h7.0v7.0h-7.0zM331.3 846.9h7.0v7.0h-7.0zM333.6 842.9h7.0v7.0h-7.0zM335.8 838.8h7.0v7.0h-7.0zM338.0 834.8h7.0v7.0h-7.0zM340.2 830.8h7.0v7.0h-7.0zM342.5 826.8h7.0v7.0h-7.0zM344.7 822.8h7.0v7.0h-7.0zM346.9 818.7h7.0v7.0h-7.0zM349.1 814.7h7.0v7.0h-7.0zM351.3 810.6h7.0v7.0h-7.0zM353.5 806.6h7.0v7.0h-7.0zM355.6 802.5h7.0v7.0h-7.0zM357.7 798.4h7.0v7.0h-7.0zM359.7 794.2h7.0v7.0h-7.0zM361.6 790.1h7.0v7.0h-7.0zM363.5 785.9h7.0v7.0h-7.0zM365.4 781.7h7.0v7.0h-7.0zM367.3 777.5h7.0v7.0h-7.0zM369.2 773.3h7.0v7.0h-7.0zM371.3 769.2h7.0v7.0h-7.0zM373.3 765.1h7.0v7.0h-7.0zM375.4 761.0h7.0v7.0h-7.0zM377.6 756.9h7.0v7.0h-7.0zM379.8 752.9h7.0v7.0h-7.0zM382.0 748.9h7.0v7.0h-7.0zM384.3 744.9h7.0v7.0h-7.0zM386.6 740.9h7.0v7.0h-7.0zM389.0 737.0h7.0v7.0h-7.0zM391.5 733.1h7.0v7.0h-7.0zM394.0 729.3h7.0v7.0h-7.0zM396.6 725.4h7.0v7.0h-7.0zM399.1 721.6h7.0v7.0h-7.0zM401.6 717.7h7.0v7.0h-7.0zM404.1 713.9h7.0v7.0h-7.0zM406.7 710.1h7.0v7.0h-7.0zM409.5 706.4h7.0v7.0h-7.0zM412.5 702.9h7.0v7.0h-7.0zM415.5 699.5h7.0v7.0h-7.0zM418.8 696.3h7.0v7.0h-7.0zM422.5 693.5h7.0v7.0h-7.0zM426.4 691.0h7.0v7.0h-7.0zM430.5 689.0h7.0v7.0h-7.0zM435.0 688.8h7.0v7.0h-7.0zM439.1 690.7h7.0v7.0h-7.0zM443.0 693.2h7.0v7.0h-7.0zM446.8 695.8h7.0v7.0h-7.0zM450.4 698.7h7.0v7.0h-7.0zM453.6 702.0h7.0v7.0h-7.0zM456.4 705.6h7.0v7.0h-7.0zM458.9 709.5h7.0v7.0h-7.0zM461.2 713.4h7.0v7.0h-7.0zM463.4 717.5h7.0v7.0h-7.0zM465.6 721.5h7.0v7.0h-7.0zM467.8 725.6h7.0v7.0h-7.0zM469.8 729.7h7.0v7.0h-7.0zM471.7 733.9h7.0v7.0h-7.0zM473.6 738.1h7.0v7.0h-7.0zM475.5 742.3h7.0v7.0h-7.0zM477.5 746.5h7.0v7.0h-7.0zM479.5 750.6h7.0v7.0h-7.0zM481.6 754.6h7.0v7.0h-7.0zM483.9 758.7h7.0v7.0h-7.0zM486.1 762.7h7.0v7.0h-7.0zM488.4 766.7h7.0v7.0h-7.0zM490.7 770.7h7.0v7.0h-7.0zM492.9 774.7h7.0v7.0h-7.0zM495.1 778.7h7.0v7.0h-7.0zM497.2 782.8h7.0v7.0h-7.0zM499.3 786.9h7.0v7.0h-7.0zM501.3 791.1h7.0v7.0h-7.0zM503.3 795.2h7.0v7.0h-7.0zM505.4 799.3h7.0v7.0h-7.0zM507.5 803.4h7.0v7.0h-7.0zM509.7 807.4h7.0v7.0h-7.0zM512.1 811.4h7.0v7.0h-7.0zM514.5 815.3h7.0v7.0h-7.0zM516.9 819.2h7.0v7.0h-7.0zM519.5 823.0h7.0v7.0h-7.0zM522.0 826.8h7.0v7.0h-7.0zM524.6 830.6h7.0v7.0h-7.0zM527.3 834.4h7.0v7.0h-7.0zM530.0 838.1h7.0v7.0h-7.0zM532.8 841.7h7.0v7.0h-7.0zM535.6 845.4h7.0v7.0h-7.0zM538.4 849.1h7.0v7.0h-7.0zM541.0 852.9h7.0v7.0h-7.0zM543.5 856.7h7.0v7.0h-7.0zM545.8 860.7h7.0v7.0h-7.0zM548.0 864.7h7.0v7.0h-7.0zM550.2 868.8h7.0v7.0h-7.0zM552.5 872.8h7.0v7.0h-7.0zM554.8 876.7h7.0v7.0h-7.0zM557.2 880.7h7.0v7.0h-7.0zM559.6 884.6h7.0v7.0h-7.0zM562.1 888.5h7.0v7.0h-7.0zM564.5 892.4h7.0v7.0h-7.0zM567.0 896.3h7.0v7.0h-7.0zM569.4 900.2h7.0v7.0h-7.0zM571.8 904.1h7.0v7.0h-7.0zM574.2 908.0h7.0v7.0h-7.0zM576.7 911.9h7.0v7.0h-7.0zM579.2 915.7h7.0v7.0h-7.0zM581.9 919.5h7.0v7.0h-7.0zM584.7 923.1h7.0v7.0h-7.0zM587.5 926.7h7.0v7.0h-7.0zM590.5 930.3h7.0v7.0h-7.0zM593.5 933.7h7.0v7.0h-7.0zM596.6 937.2h7.0v7.0h-7.0zM599.7 940.5h7.0v7.0h-7.0zM602.9 943.8h7.0v7.0h-7.0zM606.2 947.1h7.0v7.0h-7.0zM609.5 950.3h7.0v7.0h-7.0zM612.9 953.3h7.0v7.0h-7.0zM616.4 956.3h7.0v7.0h-7.0zM620.0 959.2h7.0v7.0h-7.0zM623.7 962.0h7.0v7.0h-7.0zM627.3 964.8h7.0v7.0h-7.0zM630.9 967.7h7.0v7.0h-7.0zM634.5 970.6h7.0v7.0h-7.0zM638.1 973.4h7.0v7.0h-7.0zM641.7 976.3h7.0v7.0h-7.0zM645.3 979.2h7.0v7.0h-7.0zM648.9 982.0h7.0v7.0h-7.0z" fill="#535353"/>
<polyline points="216.5,984.0 217.6,983.2 218.7,982.4 219.8,981.6 220.9,980.8 222.0,979.9 223.1,979.1 224.2,978.3 225.3,977.4 226.4,976.6 227.5,975.7 228.7,974.8 229.8,973.9 230.9,973.0 232.0,972.1 233.1,971.2 234.2,970.3 235.3,969.4 236.4,968.5 237.5,967.6 238.6,966.6 239.7,965.7 240.8,964.7 241.9,963.7 243.0,962.7 244.1,961.7 245.2,960.7 246.3,959.7 247.4,958.7 248.5,957.7 249.6,956.6 250.7,955.6 251.9,954.6 253.0,953.5 254.1,952.4 255.2,951.4 256.3,950.3 257.4,949.2 258.5,948.1 259.6,947.0 260.7,945.9 261.8,944.8 262.9,943.6 264.0,942.5 265.1,941.4 266.2,940.2 267.3,939.1 268.4,937.9 269.5,936.7 270.6,935.5 271.7,934.4 272.8,933.2 273.9,932.0 275.1,930.7 276.2,929.5 277.3,928.3 278.4,927.1 279.5,925.8 280.6,924.6 281.7,923.3 282.8,922.0 283.9,920.7 285.0,919.5 286.1,918.2 287.2,916.8 288.3,915.5 289.4,914.2 290.5,912.9 291.6,911.5 292.7,910.2 293.8,908.8 294.9,907.5 296.0,906.1 297.1,904.7 298.3,903.3 299.4,901.9 300.5,900.5 301.6,899.1 302.7,897.7 303.8,896.3 304.9,894.9 306.0,893.4 307.1,892.0 308.2,890.5 309.3,889.1 310.4,887.6 311.5,886.2 312.6,884.7 313.7,883.3 314.8,881.8 315.9,880.4 317.0,879.0 318.1,877.6 319.2,876.2 320.3,874.7 321.5,873.3 322.6,871.8 323.7,870.4 324.8,868.9 325.9,867.4 327.0,865.8 328.1,864.3 329.2,862.7 330.3,861.0 331.4,859.3 332.5,857.6 333.6,855.8 334.7,853.9 335.8,852.1 336.9,850.1 338.0,848.2 339.1,846.3 340.2,844.3 341.3,842.3 342.4,840.3 343.5,838.3 344.7,836.3 345.8,834.3 346.9,832.3 348.0,830.3 349.1,828.3 350.2,826.3 351.3,824.3 352.4,822.3 353.5,820.3 354.6,818.3 355.7,816.2 356.8,814.2 357.9,812.1 359.0,810.0 360.1,807.9 361.2,805.7 362.3,803.5 363.4,801.3 364.5,799.1 365.6,796.7 366.7,794.4 367.9,792.0 369.0,789.5 370.1,787.1 371.2,784.6 372.3,782.2 373.4,779.8 374.5,777.4 375.6,775.1 376.7,772.8 377.8,770.6 378.9,768.4 380.0,766.3 381.1,764.1 382.2,762.0 383.3,759.9 384.4,757.9 385.5,755.9 386.6,753.9 387.7,751.9 388.8,750.0 389.9,748.1 391.1,746.2 392.2,744.3 393.3,742.5 394.4,740.7 395.5,738.9 396.6,737.2 397.7,735.5 398.8,733.8 399.9,732.2 401.0,730.6 402.1,728.9 403.2,727.3 404.3,725.6 405.4,723.9 406.5,722.2 407.6,720.4 408.7,718.7 409.8,717.0 410.9,715.3 412.0,713.7 413.1,712.2 414.3,710.8 415.4,709.5 416.5,708.2 417.6,706.9 418.7,705.6 419.8,704.4 420.9,703.2 422.0,702.0 423.1,700.9 424.2,699.9 425.3,699.0 426.4,698.1 427.5,697.3 428.6,696.6 429.7,695.9 430.8,695.2 431.9,694.5 433.0,693.8 434.1,693.2 435.2,692.7 436.3,692.3 437.5,692.1 438.6,692.0 439.7,692.1 440.8,692.3 441.9,692.7 443.0,693.3 444.1,693.9 445.2,694.5 446.3,695.3 447.4,696.0 448.5,696.7 449.6,697.4 450.7,698.1 451.8,698.9 452.9,699.7 454.0,700.6 455.1,701.5 456.2,702.5 457.3,703.6 458.4,704.7 459.5,706.0 460.7,707.3 461.8,708.9 462.9,710.5 464.0,712.2 465.1,714.1 466.2,716.0 467.3,717.9 468.4,719.9 469.5,722.0 470.6,724.0 471.7,726.1 472.8,728.2 473.9,730.3 475.0,732.6 476.1,734.9 477.2,737.3 478.3,739.8 479.4,742.3 480.5,744.7 481.6,747.1 482.7,749.5 483.9,751.8 485.0,754.0 486.1,756.1 487.2,758.2 488.3,760.2 489.4,762.2 490.5,764.2 491.6,766.1 492.7,768.0 493.8,770.0 494.9,771.9 496.0,773.8 497.1,775.8 498.2,777.8 499.3,779.8 500.4,781.9 501.5,784.0 502.6,786.2 503.7,788.4 504.8,790.6 505.9,792.9 507.1,795.1 508.2,797.4 509.3,799.6 510.4,801.8 511.5,804.0 512.6,806.1 513.7,808.2 514.8,810.1 515.9,812.1 517.0,813.9 518.1,815.8 519.2,817.6 520.3,819.4 521.4,821.1 522.5,822.8 523.6,824.5 524.7,826.2 525.8,827.8 526.9,829.5 528.0,831.1 529.1,832.7 530.3,834.3 531.4,835.9 532.5,837.4 533.6,839.0 534.7,840.5 535.8,841.9 536.9,843.3 538.0,844.8 539.1,846.2 540.2,847.6 541.3,849.1 542.4,850.5 543.5,852.0 544.6,853.6 545.7,855.2 546.8,856.8 547.9,858.6 549.0,860.4 550.1,862.2 551.2,864.2 552.3,866.2 553.5,868.2 554.6,870.2 555.7,872.2 556.8,874.1 557.9,876.1 559.0,878.0 560.1,879.8 561.2,881.6 562.3,883.4 563.4,885.2 564.5,887.0 565.6,888.8 566.7,890.6 567.8,892.3 568.9,894.1 570.0,895.9 571.1,897.6 572.2,899.4 573.3,901.1 574.4,902.9 575.5,904.7 576.7,906.5 577.8,908.3 578.9,910.1 580.0,911.9 581.1,913.6 582.2,915.3 583.3,917.0 584.4,918.7 585.5,920.3 586.6,921.9 587.7,923.4 588.8,924.8 589.9,926.3 591.0,927.7 592.1,929.1 593.2,930.5 594.3,931.8 595.4,933.1 596.5,934.4 597.6,935.7 598.7,936.9 599.9,938.2 601.0,939.4 602.1,940.6 603.2,941.8 604.3,943.0 605.4,944.2 606.5,945.3 607.6,946.5 608.7,947.6 609.8,948.7 610.9,949.8 612.0,950.9 613.1,952.0 614.2,953.0 615.3,954.0 616.4,955.1 617.5,956.0 618.6,957.0 619.7,958.0 620.8,958.9 621.9,959.8 623.1,960.7 624.2,961.6 625.3,962.4 626.4,963.3 627.5,964.2 628.6,965.0 629.7,965.9 630.8,966.7 631.9,967.6 633.0,968.5 634.1,969.4 635.2,970.2 636.3,971.1 637.4,972.0 638.5,972.9 639.6,973.8 640.7,974.7 641.8,975.5 642.9,976.4 644.0,977.3 645.1,978.2 646.3,979.1 647.4,980.0 648.5,980.8 649.6,981.7 650.7,982.6 651.8,983.5 652.9,984.4 654.0,985.3 655.1,986.1 656.2,987.0" fill="none" stroke="#535353" stroke-width="7.0" stroke-linejoin="round" stroke-linecap="round"/>
<path d="M213.0 980.5h7.0v7.0h-7.0zM216.7 977.8h7.0v7.0h-7.0zM220.4 975.0h7.0v7.0h-7.0zM224.0 972.2h7.0v7.0h-7.0zM227.6 969.3h7.0v7.0h-7.0zM231.2 966.4h7.0v7.0h-7.0zM234.7 963.4h7.0v7.0h-7.0zM238.2 960.4h7.0v7.0h-7.0zM241.6 957.3h7.0v7.0h-7.0zM245.0 954.2h7.0v7.0h-7.0zM248.3 951.1h7.0v7.0h-7.0zM251.7 947.9h7.0v7.0h-7.0zM254.9 944.7h7.0v7.0h-7.0zM258.2 941.4h7.0v7.0h-7.0zM261.4 938.1h7.0v7.0h-7.0zM264.6 934.8h7.0v7.0h-7.0zM267.7 931.4h7.0v7.0h-7.0zM270.8 928.0h7.0v7.0h-7.0zM273.9 924.6h7.0v7.0h-7.0zM277.0 921.2h7.0v7.0h-7.0zM280.0 917.7h7.0v7.0h-7.0zM283.0 914.2h7.0v7.0h-7.0zM285.9 910.7h7.0v7.0h-7.0zM288.9 907.1h7.0v7.0h-7.0zM291.8 903.6h7.0v7.0h-7.0zM294.6 900.0h7.0v7.0h-7.0zM297.5 896.4h7.0v7.0h-7.0zM300.3 892.7h7.0v7.0h-7.0zM303.1 889.1h7.0v7.0h-7.0zM305.9 885.4h7.0v7.0h-7.0zM308.7 881.8h7.0v7.0h-7.0zM311.5 878.1h7.0v7.0h-7.0zM314.3 874.5h7.0v7.0h-7.0zM317.1 870.9h7.0v7.0h-7.0zM319.9 867.2h7.0v7.0h-7.0zM322.7 863.5h7.0v7.0h-7.0zM325.3 859.7h7.0v7.0h-7.0zM327.8 855.9h7.0v7.0h-7.0zM330.3 852.0h7.0v7.0h-7.0zM332.6 848.0h7.0v7.0h-7.0zM334.9 844.0h7.0v7.0h-7.0zM337.1 840.0h7.0v7.0h-7.0zM339.4 836.0h7.0v7.0h-7.0zM341.6 832.0h7.0v7.0h-7.0zM343.8 828.0h7.0v7.0h-7.0zM346.1 823.9h7.0v7.0h-7.0zM348.3 819.9h7.0v7.0h-7.0zM350.5 815.9h7.0v7.0h-7.0zM352.7 811.8h7.0v7.0h-7.0zM354.8 807.8h7.0v7.0h-7.0zM357.0 803.7h7.0v7.0h-7.0zM359.1 799.6h7.0v7.0h-7.0zM361.1 795.5h7.0v7.0h-7.0zM363.0 791.3h7.0v7.0h-7.0zM365.0 787.1h7.0v7.0h-7.0zM366.9 782.9h7.0v7.0h-7.0zM368.7 778.7h7.0v7.0h-7.0zM370.7 774.6h7.0v7.0h-7.0zM372.7 770.4h7.0v7.0h-7.0zM374.7 766.3h7.0v7.0h-7.0zM376.8 762.2h7.0v7.0h-7.0zM378.9 758.1h7.0v7.0h-7.0zM381.1 754.1h7.0v7.0h-7.0zM383.3 750.0h7.0v7.0h-7.0zM385.6 746.0h7.0v7.0h-7.0zM387.9 742.1h7.0v7.0h-7.0zM390.3 738.1h7.0v7.0h-7.0zM392.7 734.2h7.0v7.0h-7.0zM395.3 730.4h7.0v7.0h-7.0zM397.8 726.6h7.0v7.0h-7.0zM400.4 722.7h7.0v7.0h-7.0zM402.9 718.9h7.0v7.0h-7.0zM405.4 715.0h7.0v7.0h-7.0zM407.9 711.2h7.0v7.0h-7.0zM410.6 707.5h7.0v7.0h-7.0zM413.6 703.9h7.0v7.0h-7.0zM416.6 700.5h7.0v7.0h-7.0zM419.8 697.2h7.0v7.0h-7.0zM423.4 694.3h7.0v7.0h-7.0zM427.2 691.7h7.0v7.0h-7.0zM431.2 689.5h7.0v7.0h-7.0zM435.7 688.5h7.0v7.0h-7.0zM440.0 690.0h7.0v7.0h-7.0zM443.9 692.5h7.0v7.0h-7.0zM447.7 695.0h7.0v7.0h-7.0zM451.4 697.8h7.0v7.0h-7.0zM454.7 701.0h7.0v7.0h-7.0zM457.6 704.5h7.0v7.0h-7.0zM460.2 708.3h7.0v7.0h-7.0zM462.6 712.3h7.0v7.0h-7.0zM464.8 716.3h7.0v7.0h-7.0zM467.0 720.3h7.0v7.0h-7.0zM469.2 724.4h7.0v7.0h-7.0zM471.2 728.5h7.0v7.0h-7.0zM473.2 732.7h7.0v7.0h-7.0zM475.1 736.8h7.0v7.0h-7.0zM477.0 741.0h7.0v7.0h-7.0zM478.9 745.2h7.0v7.0h-7.0zM480.9 749.4h7.0v7.0h-7.0zM483.0 753.4h7.0v7.0h-7.0zM485.2 757.5h7.0v7.0h-7.0zM487.5 761.5h7.0v7.0h-7.0zM489.7 765.5h7.0v7.0h-7.0zM492.0 769.5h7.0v7.0h-7.0zM494.3 773.5h7.0v7.0h-7.0zM496.5 777.5h7.0v7.0h-7.0zM498.6 781.6h7.0v7.0h-7.0zM500.7 785.7h7.0v7.0h-7.0zM502.7 789.9h7.0v7.0h-7.0zM504.7 794.0h7.0v7.0h-7.0zM506.8 798.1h7.0v7.0h-7.0zM508.9 802.2h7.0v7.0h-7.0zM511.1 806.2h7.0v7.0h-7.0zM513.4 810.2h7.0v7.0h-7.0zM515.7 814.2h7.0v7.0h-7.0zM518.2 818.0h7.0v7.0h-7.0zM520.7 821.9h7.0v7.0h-7.0zM523.3 825.7h7.0v7.0h-7.0zM525.9 829.5h7.0v7.0h-7.0zM528.5 833.3h7.0v7.0h-7.0zM531.2 837.0h7.0v7.0h-7.0zM534.0 840.7h7.0v7.0h-7.0zM536.8 844.3h7.0v7.0h-7.0zM539.6 848.0h7.0v7.0h-7.0zM542.2 851.7h7.0v7.0h-7.0zM544.8 855.6h7.0v7.0h-7.0zM547.1 859.5h7.0v7.0h-7.0zM549.3 863.6h7.0v7.0h-7.0zM551.6 867.6h7.0v7.0h-7.0zM553.8 871.6h7.0v7.0h-7.0zM556.1 875.6h7.0v7.0h-7.0zM558.5 879.5h7.0v7.0h-7.0zM560.9 883.4h7.0v7.0h-7.0zM563.4 887.3h7.0v7.0h-7.0zM565.8 891.2h7.0v7.0h-7.0zM568.3 895.1h7.0v7.0h-7.0zM570.7 899.0h7.0v7.0h-7.0zM573.1 902.9h7.0v7.0h-7.0zM575.5 906.8h7.0v7.0h-7.0zM578.0 910.7h7.0v7.0h-7.0zM580.5 914.6h7.0v7.0h-7.0zM583.1 918.4h7.0v7.0h-7.0zM585.9 922.1h7.0v7.0h-7.0zM588.7 925.7h7.0v7.0h-7.0zM591.6 929.2h7.0v7.0h-7.0zM594.6 932.7h7.0v7.0h-7.0zM597.7 936.2h7.0v7.0h-7.0zM600.8 939.5h7.0v7.0h-7.0zM604.0 942.9h7.0v7.0h-7.0zM607.2 946.1h7.0v7.0h-7.0zM610.5 949.3h7.0v7.0h-7.0zM613.9 952.4h7.0v7.0h-7.0zM617.4 955.4h7.0v7.0h-7.0zM621.0 958.3h7.0v7.0h-7.0zM624.6 961.1h7.0v7.0h-7.0zM628.2 964.0h7.0v7.0h-7.0zM631.8 966.8h7.0v7.0h-7.0zM635.4 969.7h7.0v7.0h-7.0zM639.0 972.6h7.0v7.0h-7.0zM642.6 975.5h7.0v7.0h-7.0zM646.2 978.3h7.0v7.0h-7.0zM649.8 981.2h7.0v7.0h-7.0z" fill="#535353"/>
<polyline points="215.2,1038.9 216.3,1038.5 217.4,1038.0 218.5,1037.6 219.6,1037.2 220.7,1036.7 221.8,1036.3 222.9,1035.8 224.1,1035.4 225.2,1034.9 226.3,1034.4 227.4,1034.0 228.5,1033.5 229.6,1033.0 230.7,1032.5 231.8,1032.0 232.9,1031.6 234.0,1031.1 235.1,1030.6 236.2,1030.1 237.3,1029.6 238.4,1029.1 239.5,1028.6 240.6,1028.1 241.7,1027.7 242.8,1027.2 243.9,1026.7 245.0,1026.3 246.1,1025.8 247.3,1025.3 248.4,1024.8 249.5,1024.3 250.6,1023.8 251.7,1023.3 252.8,1022.8 253.9,1022.3 255.0,1021.7 256.1,1021.2 257.2,1020.6 258.3,1020.0 259.4,1019.4 260.5,1018.8 261.6,1018.1 262.7,1017.4 263.8,1016.7 264.9,1016.0 266.0,1015.3 267.1,1014.4 268.2,1013.6 269.3,1012.6 270.5,1011.6 271.6,1010.6 272.7,1009.5 273.8,1008.4 274.9,1007.2 276.0,1006.0 277.1,1004.8 278.2,1003.6 279.3,1002.4 280.4,1001.2 281.5,999.9 282.6,998.7 283.7,997.4 284.8,996.2 285.9,995.0 287.0,993.8 288.1,992.6 289.2,991.4 290.3,990.1 291.4,988.9 292.5,987.6 293.7,986.3 294.8,985.1 295.9,983.8 297.0,982.5 298.1,981.1 299.2,979.8 300.3,978.4 301.4,977.1 302.5,975.7 303.6,974.3 304.7,972.9 305.8,971.4 306.9,970.0 308.0,968.5 309.1,967.0 310.2,965.5 311.3,963.9 312.4,962.3 313.5,960.7 314.6,959.1 315.7,957.4 316.9,955.7 318.0,954.0 319.1,952.3 320.2,950.6 321.3,948.8 322.4,947.0 323.5,945.2 324.6,943.4 325.7,941.6 326.8,939.8 327.9,937.9 329.0,936.0 330.1,934.1 331.2,932.2 332.3,930.3 333.4,928.2 334.5,926.2 335.6,924.1 336.7,921.9 337.8,919.7 338.9,917.4 340.1,914.9 341.2,912.4 342.3,909.8 343.4,907.1 344.5,904.3 345.6,901.5 346.7,898.6 347.8,895.7 348.9,892.7 350.0,889.8 351.1,886.8 352.2,883.8 353.3,880.7 354.4,877.5 355.5,874.3 356.6,871.1 357.7,867.8 358.8,864.5 359.9,861.1 361.0,857.8 362.1,854.5 363.3,851.2 364.4,847.9 365.5,844.6 366.6,841.4 367.7,838.3 368.8,835.2 369.9,832.2 371.0,829.3 372.1,826.6 373.2,823.9 374.3,821.3 375.4,818.7 376.5,816.0 377.6,813.2 378.7,810.3 379.8,807.1 380.9,803.7 382.0,800.0 383.1,796.1 384.2,791.7 385.3,786.9 386.5,781.0 387.6,774.9 388.7,769.8 389.8,765.6 390.9,761.9 392.0,758.4 393.1,755.2 394.2,752.1 395.3,749.2 396.4,746.2 397.5,743.1 398.6,739.8 399.7,736.4 400.8,733.0 401.9,729.7 403.0,726.3 404.1,722.9 405.2,719.5 406.3,715.9 407.4,712.2 408.5,708.4 409.7,704.4 410.8,699.7 411.9,694.6 413.0,689.6 414.1,685.6 415.2,682.8 416.3,680.3 417.4,678.0 418.5,676.0 419.6,674.3 420.7,673.1 421.8,672.2 422.9,671.5 424.0,670.8 425.1,670.2 426.2,669.6 427.3,669.1 428.4,668.7 429.5,668.4 430.6,668.1 431.7,668.0 432.9,668.0 434.0,668.1 435.1,668.3 436.2,668.6 437.3,669.0 438.4,669.5 439.5,670.1 440.6,670.7 441.7,671.4 442.8,672.1 443.9,672.9 445.0,674.1 446.1,675.7 447.2,677.7 448.3,680.1 449.4,682.7 450.5,685.7 451.6,688.9 452.7,692.3 453.8,697.6 454.9,703.9 456.1,709.5 457.2,713.4 458.3,716.7 459.4,719.7 460.5,722.4 461.6,725.0 462.7,727.6 463.8,730.4 464.9,733.3 466.0,736.2 467.1,739.1 468.2,742.1 469.3,745.3 470.4,749.0 471.5,753.4 472.6,759.0 473.7,765.3 474.8,771.9 475.9,778.3 477.0,784.1 478.1,788.8 479.3,792.6 480.4,795.9 481.5,799.0 482.6,801.9 483.7,804.7 484.8,807.4 485.9,810.3 487.0,813.3 488.1,816.3 489.2,819.3 490.3,822.2 491.4,825.2 492.5,828.1 493.6,830.9 494.7,833.6 495.8,836.3 496.9,838.9 498.0,841.4 499.1,843.9 500.2,846.3 501.3,848.7 502.5,851.1 503.6,853.4 504.7,855.6 505.8,857.8 506.9,859.9 508.0,861.8 509.1,863.7 510.2,865.5 511.3,867.5 512.4,869.6 513.5,871.9 514.6,874.4 515.7,877.2 516.8,880.2 517.9,883.4 519.0,886.8 520.1,890.2 521.2,893.7 522.3,897.3 523.4,901.4 524.5,905.8 525.7,910.3 526.8,914.6 527.9,918.5 529.0,921.9 530.1,924.5 531.2,927.0 532.3,929.2 533.4,931.3 534.5,933.3 535.6,935.2 536.7,937.0 537.8,938.7 538.9,940.4 540.0,942.0 541.1,943.6 542.2,945.2 543.3,946.8 544.4,948.5 545.5,950.2 546.6,951.8 547.7,953.4 548.9,955.0 550.0,956.6 551.1,958.1 552.2,959.6 553.3,961.1 554.4,962.6 555.5,964.1 556.6,965.6 557.7,967.1 558.8,968.6 559.9,970.2 561.0,971.7 562.1,973.3 563.2,974.8 564.3,976.4 565.4,977.9 566.5,979.5 567.6,981.0 568.7,982.5 569.8,984.1 570.9,985.6 572.1,987.2 573.2,988.7 574.3,990.3 575.4,991.8 576.5,993.4 577.6,995.0 578.7,996.6 579.8,998.2 580.9,999.8 582.0,1001.4 583.1,1003.0 584.2,1004.6 585.3,1006.1 586.4,1007.7 587.5,1009.2 588.6,1010.6 589.7,1012.0 590.8,1013.4 591.9,1014.8 593.0,1016.1 594.1,1017.5 595.3,1018.9 596.4,1020.3 597.5,1021.6 598.6,1022.9 599.7,1024.1 600.8,1025.3 601.9,1026.4 603.0,1027.4 604.1,1028.3 605.2,1029.2 606.3,1029.9 607.4,1030.7 608.5,1031.4 609.6,1032.0 610.7,1032.7 611.8,1033.3 612.9,1033.9 614.0,1034.4 615.1,1034.9 616.2,1035.4 617.3,1035.8 618.5,1036.3 619.6,1036.6 620.7,1037.0 621.8,1037.3 622.9,1037.6 624.0,1037.9 625.1,1038.2 626.2,1038.4 627.3,1038.7 628.4,1038.9 629.5,1039.1 630.6,1039.4 631.7,1039.6 632.8,1039.8 633.9,1040.0 635.0,1040.2 636.1,1040.3 637.2,1040.5 638.3,1040.7 639.4,1040.9 640.5,1041.1 641.7,1041.3 642.8,1041.5 643.9,1041.6 645.0,1041.8 646.1,1042.0 647.2,1042.2 648.3,1042.4 649.4,1042.5 650.5,1042.7 651.6,1042.9 652.7,1043.0" fill="none" stroke="#F84848" stroke-width="1.5" stroke-linejoin="round" stroke-linecap="round"/>
<path d="M211.0 1035.1h8.5l-4.2 7.7zM215.6 1033.2h8.5l-4.2 7.7zM220.2 1031.3h8.5l-4.2 7.7zM224.8 1029.4h8.5l-4.2 7.7zM229.4 1027.4h8.5l-4.2 7.7zM234.0 1025.4h8.5l-4.2 7.7zM238.6 1023.4h8.5l-4.2 7.7zM243.2 1021.4h8.5l-4.2 7.7zM247.7 1019.3h8.5l-4.2 7.7zM252.2 1017.1h8.5l-4.2 7.7zM256.6 1014.7h8.5l-4.2 7.7zM260.8 1012.1h8.5l-4.2 7.7zM264.8 1009.0h8.5l-4.2 7.7zM268.5 1005.6h8.5l-4.2 7.7zM271.9 1002.0h8.5l-4.2 7.7zM275.3 998.3h8.5l-4.2 7.7zM278.6 994.6h8.5l-4.2 7.7zM282.0 990.9h8.5l-4.2 7.7zM285.3 987.2h8.5l-4.2 7.7zM288.6 983.4h8.5l-4.2 7.7zM291.9 979.6h8.5l-4.2 7.7zM295.1 975.8h8.5l-4.2 7.7zM298.2 971.9h8.5l-4.2 7.7zM301.3 968.0h8.5l-4.2 7.7zM304.3 964.0h8.5l-4.2 7.7zM307.2 959.9h8.5l-4.2 7.7zM310.1 955.8h8.5l-4.2 7.7zM312.8 951.6h8.5l-4.2 7.7zM315.5 947.4h8.5l-4.2 7.7zM318.1 943.2h8.5l-4.2 7.7zM320.8 938.9h8.5l-4.2 7.7zM323.3 934.6h8.5l-4.2 7.7zM325.9 930.3h8.5l-4.2 7.7zM328.3 925.9h8.5l-4.2 7.7zM330.7 921.5h8.5l-4.2 7.7zM333.0 917.1h8.5l-4.2 7.7zM335.1 912.6h8.5l-4.2 7.7zM337.2 908.0h8.5l-4.2 7.7zM339.1 903.4h8.5l-4.2 7.7zM340.9 898.7h8.5l-4.2 7.7zM342.7 894.1h8.5l-4.2 7.7zM344.5 889.4h8.5l-4.2 7.7zM346.2 884.7h8.5l-4.2 7.7zM347.9 880.0h8.5l-4.2 7.7zM349.6 875.3h8.5l-4.2 7.7zM351.2 870.6h8.5l-4.2 7.7zM352.8 865.8h8.5l-4.2 7.7zM354.4 861.1h8.5l-4.2 7.7zM356.0 856.3h8.5l-4.2 7.7zM357.6 851.6h8.5l-4.2 7.7zM359.2 846.9h8.5l-4.2 7.7zM360.8 842.1h8.5l-4.2 7.7zM362.4 837.4h8.5l-4.2 7.7zM364.1 832.7h8.5l-4.2 7.7zM365.8 828.0h8.5l-4.2 7.7zM367.6 823.3h8.5l-4.2 7.7zM369.5 818.7h8.5l-4.2 7.7zM371.5 814.1h8.5l-4.2 7.7zM373.3 809.5h8.5l-4.2 7.7zM375.1 804.8h8.5l-4.2 7.7zM376.6 800.0h8.5l-4.2 7.7zM378.1 795.2h8.5l-4.2 7.7zM379.4 790.4h8.5l-4.2 7.7zM380.5 785.6h8.5l-4.2 7.7zM381.6 780.7h8.5l-4.2 7.7zM382.5 775.7h8.5l-4.2 7.7zM383.4 770.8h8.5l-4.2 7.7zM384.4 765.9h8.5l-4.2 7.7zM385.7 761.1h8.5l-4.2 7.7zM387.2 756.3h8.5l-4.2 7.7zM388.8 751.6h8.5l-4.2 7.7zM390.5 746.9h8.5l-4.2 7.7zM392.2 742.2h8.5l-4.2 7.7zM393.8 737.5h8.5l-4.2 7.7zM395.4 732.7h8.5l-4.2 7.7zM397.0 728.0h8.5l-4.2 7.7zM398.5 723.2h8.5l-4.2 7.7zM400.1 718.5h8.5l-4.2 7.7zM401.6 713.7h8.5l-4.2 7.7zM403.0 708.9h8.5l-4.2 7.7zM404.4 704.1h8.5l-4.2 7.7zM405.7 699.3h8.5l-4.2 7.7zM406.8 694.4h8.5l-4.2 7.7zM407.9 689.5h8.5l-4.2 7.7zM409.0 684.7h8.5l-4.2 7.7zM410.6 679.9h8.5l-4.2 7.7zM412.6 675.3h8.5l-4.2 7.7zM415.0 671.0h8.5l-4.2 7.7zM418.7 667.6h8.5l-4.2 7.7zM423.1 665.3h8.5l-4.2 7.7zM427.9 664.2h8.5l-4.2 7.7zM432.8 665.1h8.5l-4.2 7.7zM437.2 667.4h8.5l-4.2 7.7zM441.0 670.6h8.5l-4.2 7.7zM443.5 675.0h8.5l-4.2 7.7zM445.4 679.6h8.5l-4.2 7.7zM447.1 684.3h8.5l-4.2 7.7zM448.6 689.1h8.5l-4.2 7.7zM449.6 694.0h8.5l-4.2 7.7zM450.5 698.9h8.5l-4.2 7.7zM451.4 703.8h8.5l-4.2 7.7zM452.6 708.6h8.5l-4.2 7.7zM454.2 713.4h8.5l-4.2 7.7zM456.0 718.0h8.5l-4.2 7.7zM458.0 722.6h8.5l-4.2 7.7zM459.8 727.3h8.5l-4.2 7.7zM461.6 732.0h8.5l-4.2 7.7zM463.4 736.6h8.5l-4.2 7.7zM465.0 741.4h8.5l-4.2 7.7zM466.4 746.2h8.5l-4.2 7.7zM467.6 751.0h8.5l-4.2 7.7zM468.5 755.9h8.5l-4.2 7.7zM469.4 760.9h8.5l-4.2 7.7zM470.2 765.8h8.5l-4.2 7.7zM471.0 770.7h8.5l-4.2 7.7zM471.9 775.6h8.5l-4.2 7.7zM472.9 780.5h8.5l-4.2 7.7zM474.0 785.4h8.5l-4.2 7.7zM475.5 790.2h8.5l-4.2 7.7zM477.1 794.9h8.5l-4.2 7.7zM478.9 799.6h8.5l-4.2 7.7zM480.8 804.2h8.5l-4.2 7.7zM482.5 808.9h8.5l-4.2 7.7zM484.3 813.6h8.5l-4.2 7.7zM486.0 818.3h8.5l-4.2 7.7zM487.8 823.0h8.5l-4.2 7.7zM489.6 827.6h8.5l-4.2 7.7zM491.5 832.2h8.5l-4.2 7.7zM493.5 836.8h8.5l-4.2 7.7zM495.5 841.4h8.5l-4.2 7.7zM497.6 845.9h8.5l-4.2 7.7zM499.8 850.5h8.5l-4.2 7.7zM502.0 854.9h8.5l-4.2 7.7zM504.5 859.3h8.5l-4.2 7.7zM507.0 863.6h8.5l-4.2 7.7zM509.3 868.0h8.5l-4.2 7.7zM511.2 872.7h8.5l-4.2 7.7zM512.9 877.4h8.5l-4.2 7.7zM514.5 882.1h8.5l-4.2 7.7zM516.0 886.8h8.5l-4.2 7.7zM517.5 891.6h8.5l-4.2 7.7zM518.9 896.4h8.5l-4.2 7.7zM520.1 901.3h8.5l-4.2 7.7zM521.3 906.1h8.5l-4.2 7.7zM522.6 911.0h8.5l-4.2 7.7zM524.0 915.8h8.5l-4.2 7.7zM525.7 920.4h8.5l-4.2 7.7zM527.8 925.0h8.5l-4.2 7.7zM530.2 929.4h8.5l-4.2 7.7zM532.8 933.7h8.5l-4.2 7.7zM535.5 937.8h8.5l-4.2 7.7zM538.4 942.0h8.5l-4.2 7.7zM541.1 946.1h8.5l-4.2 7.7zM544.0 950.2h8.5l-4.2 7.7zM546.9 954.3h8.5l-4.2 7.7zM549.8 958.4h8.5l-4.2 7.7zM552.8 962.4h8.5l-4.2 7.7zM555.7 966.4h8.5l-4.2 7.7zM558.6 970.5h8.5l-4.2 7.7zM561.5 974.6h8.5l-4.2 7.7zM564.4 978.6h8.5l-4.2 7.7zM567.3 982.7h8.5l-4.2 7.7zM570.2 986.8h8.5l-4.2 7.7zM573.1 990.9h8.5l-4.2 7.7zM576.0 995.0h8.5l-4.2 7.7zM578.8 999.1h8.5l-4.2 7.7zM581.7 1003.2h8.5l-4.2 7.7zM584.7 1007.2h8.5l-4.2 7.7zM587.8 1011.1h8.5l-4.2 7.7zM590.9 1015.0h8.5l-4.2 7.7zM594.1 1018.8h8.5l-4.2 7.7zM597.5 1022.5h8.5l-4.2 7.7zM601.4 1025.7h8.5l-4.2 7.7zM605.6 1028.3h8.5l-4.2 7.7zM610.0 1030.7h8.5l-4.2 7.7zM614.6 1032.6h8.5l-4.2 7.7zM619.4 1034.0h8.5l-4.2 7.7zM624.3 1035.1h8.5l-4.2 7.7zM629.2 1036.1h8.5l-4.2 7.7zM634.2 1036.9h8.5l-4.2 7.7zM639.1 1037.7h8.5l-4.2 7.7zM644.0 1038.5h8.5l-4.2 7.7z" fill="#F84848"/>
<polyline points="219.1,1040.2 220.2,1039.8 221.3,1039.3 222.4,1038.9 223.5,1038.5 224.6,1038.0 225.7,1037.6 226.8,1037.2 227.9,1036.7 229.0,1036.3 230.1,1035.8 231.3,1035.4 232.4,1034.9 233.5,1034.4 234.6,1034.0 235.7,1033.5 236.8,1033.0 237.9,1032.5 239.0,1032.0 240.1,1031.6 241.2,1031.1 242.3,1030.6 243.4,1030.1 244.5,1029.6 245.6,1029.1 246.7,1028.6 247.8,1028.1 248.9,1027.7 250.0,1027.2 251.1,1026.7 252.2,1026.3 253.3,1025.8 254.5,1025.3 255.6,1024.8 256.7,1024.3 257.8,1023.8 258.9,1023.3 260.0,1022.8 261.1,1022.3 262.2,1021.7 263.3,1021.2 264.4,1020.6 265.5,1020.0 266.6,1019.4 267.7,1018.8 268.8,1018.1 269.9,1017.4 271.0,1016.7 272.1,1016.0 273.2,1015.3 274.3,1014.4 275.4,1013.6 276.5,1012.6 277.7,1011.6 278.8,1010.6 279.9,1009.5 281.0,1008.4 282.1,1007.2 283.2,1006.0 284.3,1004.8 285.4,1003.6 286.5,1002.4 287.6,1001.2 288.7,999.9 289.8,998.7 290.9,997.4 292.0,996.2 293.1,995.0 294.2,993.8 295.3,992.6 296.4,991.4 297.5,990.1 298.6,988.9 299.7,987.6 300.9,986.3 302.0,985.1 303.1,983.8 304.2,982.5 305.3,981.1 306.4,979.8 307.5,978.4 308.6,977.1 309.7,975.7 310.8,974.3 311.9,972.9 313.0,971.4 314.1,970.0 315.2,968.5 316.3,967.0 317.4,965.5 318.5,963.9 319.6,962.3 320.7,960.7 321.8,959.1 322.9,957.4 324.1,955.7 325.2,954.0 326.3,952.3 327.4,950.6 328.5,948.8 329.6,947.0 330.7,945.2 331.8,943.4 332.9,941.6 334.0,939.8 335.1,937.9 336.2,936.0 337.3,934.1 338.4,932.2 339.5,930.3 340.6,928.2 341.7,926.2 342.8,924.1 343.9,921.9 345.0,919.7 346.1,917.4 347.3,914.9 348.4,912.4 349.5,909.8 350.6,907.1 351.7,904.3 352.8,901.5 353.9,898.6 355.0,895.7 356.1,892.7 357.2,889.8 358.3,886.8 359.4,883.8 360.5,880.7 361.6,877.5 362.7,874.3 363.8,871.1 364.9,867.8 366.0,864.5 367.1,861.1 368.2,857.8 369.3,854.5 370.5,851.2 371.6,847.9 372.7,844.6 373.8,841.4 374.9,838.3 376.0,835.2 377.1,832.2 378.2,829.3 379.3,826.6 380.4,823.9 381.5,821.3 382.6,818.7 383.7,816.0 384.8,813.2 385.9,810.3 387.0,807.1 388.1,803.7 389.2,800.0 390.3,796.1 391.4,791.7 392.5,786.9 393.7,781.0 394.8,774.9 395.9,769.8 397.0,765.6 398.1,761.9 399.2,758.4 400.3,755.2 401.4,752.1 402.5,749.2 403.6,746.2 404.7,743.1 405.8,739.8 406.9,736.4 408.0,733.0 409.1,729.7 410.2,726.3 411.3,722.9 412.4,719.5 413.5,715.9 414.6,712.2 415.7,708.4 416.9,704.4 418.0,699.7 419.1,694.6 420.2,689.6 421.3,685.6 422.4,682.8 423.5,680.3 424.6,678.0 425.7,676.0 426.8,674.3 427.9,673.1 429.0,672.2 430.1,671.5 431.2,670.8 432.3,670.2 433.4,669.6 434.5,669.1 435.6,668.7 436.7,668.4 437.8,668.1 438.9,668.0 440.1,668.0 441.2,668.1 442.3,668.3 443.4,668.6 444.5,669.0 445.6,669.5 446.7,670.1 447.8,670.7 448.9,671.4 450.0,672.1 451.1,672.9 452.2,674.1 453.3,675.7 454.4,677.7 455.5,680.1 456.6,682.7 457.7,685.7 458.8,688.9 459.9,692.3 461.0,697.6 462.1,703.9 463.3,709.5 464.4,713.4 465.5,716.7 466.6,719.7 467.7,722.4 468.8,725.0 469.9,727.6 471.0,730.4 472.1,733.3 473.2,736.2 474.3,739.1 475.4,742.1 476.5,745.3 477.6,749.0 478.7,753.4 479.8,759.0 480.9,765.3 482.0,771.9 483.1,778.3 484.2,784.1 485.3,788.8 486.5,792.6 487.6,795.9 488.7,799.0 489.8,801.9 490.9,804.7 492.0,807.4 493.1,810.3 494.2,813.3 495.3,816.3 496.4,819.3 497.5,822.2 498.6,825.2 499.7,828.1 500.8,830.9 501.9,833.6 503.0,836.3 504.1,838.9 505.2,841.4 506.3,843.9 507.4,846.3 508.5,848.7 509.7,851.1 510.8,853.4 511.9,855.6 513.0,857.8 514.1,859.9 515.2,861.8 516.3,863.7 517.4,865.5 518.5,867.5 519.6,869.6 520.7,871.9 521.8,874.4 522.9,877.2 524.0,880.2 525.1,883.4 526.2,886.8 527.3,890.2 528.4,893.7 529.5,897.3 530.6,901.4 531.7,905.8 532.9,910.3 534.0,914.6 535.1,918.5 536.2,921.9 537.3,924.5 538.4,927.0 539.5,929.2 540.6,931.3 541.7,933.3 542.8,935.2 543.9,937.0 545.0,938.7 546.1,940.4 547.2,942.0 548.3,943.6 549.4,945.2 550.5,946.8 551.6,948.5 552.7,950.2 553.8,951.8 554.9,953.4 556.1,955.0 557.2,956.6 558.3,958.1 559.4,959.6 560.5,961.1 561.6,962.6 562.7,964.1 563.8,965.6 564.9,967.1 566.0,968.6 567.1,970.2 568.2,971.7 569.3,973.3 570.4,974.8 571.5,976.4 572.6,977.9 573.7,979.5 574.8,981.0 575.9,982.5 577.0,984.1 578.1,985.6 579.3,987.2 580.4,988.7 581.5,990.3 582.6,991.8 583.7,993.4 584.8,995.0 585.9,996.6 587.0,998.2 588.1,999.8 589.2,1001.4 590.3,1003.0 591.4,1004.6 592.5,1006.1 593.6,1007.7 594.7,1009.2 595.8,1010.6 596.9,1012.0 598.0,1013.4 599.1,1014.8 600.2,1016.1 601.3,1017.5 602.5,1018.9 603.6,1020.3 604.7,1021.6 605.8,1022.9 606.9,1024.1 608.0,1025.3 609.1,1026.4 610.2,1027.4 611.3,1028.3 612.4,1029.2 613.5,1029.9 614.6,1030.7 615.7,1031.4 616.8,1032.0 617.9,1032.7 619.0,1033.3 620.1,1033.9 621.2,1034.4 622.3,1034.9 623.4,1035.4 624.5,1035.8 625.7,1036.3 626.8,1036.6 627.9,1037.0 629.0,1037.3 630.1,1037.6 631.2,1037.9 632.3,1038.2 633.4,1038.4 634.5,1038.7 635.6,1038.9 636.7,1039.1 637.8,1039.4 638.9,1039.6 640.0,1039.8 641.1,1040.0 642.2,1040.2 643.3,1040.3 644.4,1040.5 645.5,1040.7 646.6,1040.9 647.7,1041.1 648.9,1041.3 650.0,1041.5 651.1,1041.6 652.2,1041.8 653.3,1042.0 654.4,1042.2 655.5,1042.4 656.6,1042.5" fill="none" stroke="#F84848" stroke-width="1.5" stroke-linejoin="round" stroke-linecap="round"/>
<path d="M214.8 1036.4h8.5l-4.2 7.7zM219.5 1034.6h8.5l-4.2 7.7zM224.2 1032.7h8.5l-4.2 7.7zM228.8 1030.8h8.5l-4.2 7.7zM233.4 1028.8h8.5l-4.2 7.7zM237.9 1026.8h8.5l-4.2 7.7zM242.5 1024.8h8.5l-4.2 7.7zM247.1 1022.8h8.5l-4.2 7.7zM251.7 1020.8h8.5l-4.2 7.7zM256.2 1018.7h8.5l-4.2 7.7zM260.7 1016.5h8.5l-4.2 7.7zM265.0 1014.0h8.5l-4.2 7.7zM269.2 1011.3h8.5l-4.2 7.7zM273.1 1008.1h8.5l-4.2 7.7zM276.7 1004.6h8.5l-4.2 7.7zM280.1 1001.0h8.5l-4.2 7.7zM283.4 997.2h8.5l-4.2 7.7zM286.8 993.5h8.5l-4.2 7.7zM290.1 989.8h8.5l-4.2 7.7zM293.5 986.1h8.5l-4.2 7.7zM296.8 982.3h8.5l-4.2 7.7zM300.0 978.5h8.5l-4.2 7.7zM303.2 974.7h8.5l-4.2 7.7zM306.3 970.8h8.5l-4.2 7.7zM309.4 966.8h8.5l-4.2 7.7zM312.4 962.8h8.5l-4.2 7.7zM315.2 958.7h8.5l-4.2 7.7zM318.1 954.6h8.5l-4.2 7.7zM320.8 950.4h8.5l-4.2 7.7zM323.5 946.2h8.5l-4.2 7.7zM326.1 941.9h8.5l-4.2 7.7zM328.7 937.6h8.5l-4.2 7.7zM331.3 933.4h8.5l-4.2 7.7zM333.8 929.0h8.5l-4.2 7.7zM336.2 924.7h8.5l-4.2 7.7zM338.6 920.3h8.5l-4.2 7.7zM340.8 915.8h8.5l-4.2 7.7zM342.9 911.3h8.5l-4.2 7.7zM344.9 906.7h8.5l-4.2 7.7zM346.8 902.0h8.5l-4.2 7.7zM348.6 897.4h8.5l-4.2 7.7zM350.4 892.7h8.5l-4.2 7.7zM352.2 888.0h8.5l-4.2 7.7zM353.9 883.3h8.5l-4.2 7.7zM355.6 878.6h8.5l-4.2 7.7zM357.3 873.9h8.5l-4.2 7.7zM358.9 869.2h8.5l-4.2 7.7zM360.5 864.5h8.5l-4.2 7.7zM362.1 859.7h8.5l-4.2 7.7zM363.7 855.0h8.5l-4.2 7.7zM365.2 850.2h8.5l-4.2 7.7zM366.8 845.5h8.5l-4.2 7.7zM368.4 840.8h8.5l-4.2 7.7zM370.1 836.0h8.5l-4.2 7.7zM371.7 831.3h8.5l-4.2 7.7zM373.5 826.6h8.5l-4.2 7.7zM375.4 822.0h8.5l-4.2 7.7zM377.3 817.4h8.5l-4.2 7.7zM379.2 812.8h8.5l-4.2 7.7zM381.0 808.1h8.5l-4.2 7.7zM382.7 803.4h8.5l-4.2 7.7zM384.3 798.6h8.5l-4.2 7.7zM385.6 793.8h8.5l-4.2 7.7zM386.9 789.0h8.5l-4.2 7.7zM388.1 784.1h8.5l-4.2 7.7zM389.0 779.2h8.5l-4.2 7.7zM389.9 774.3h8.5l-4.2 7.7zM390.9 769.4h8.5l-4.2 7.7zM392.0 764.5h8.5l-4.2 7.7zM393.3 759.7h8.5l-4.2 7.7zM394.8 754.9h8.5l-4.2 7.7zM396.5 750.2h8.5l-4.2 7.7zM398.2 745.5h8.5l-4.2 7.7zM399.9 740.8h8.5l-4.2 7.7zM401.5 736.1h8.5l-4.2 7.7zM403.1 731.4h8.5l-4.2 7.7zM404.6 726.6h8.5l-4.2 7.7zM406.2 721.8h8.5l-4.2 7.7zM407.7 717.1h8.5l-4.2 7.7zM409.2 712.3h8.5l-4.2 7.7zM410.6 707.5h8.5l-4.2 7.7zM412.0 702.7h8.5l-4.2 7.7zM413.2 697.9h8.5l-4.2 7.7zM414.3 693.0h8.5l-4.2 7.7zM415.4 688.1h8.5l-4.2 7.7zM416.6 683.3h8.5l-4.2 7.7zM418.3 678.6h8.5l-4.2 7.7zM420.4 674.0h8.5l-4.2 7.7zM423.1 669.9h8.5l-4.2 7.7zM427.1 666.9h8.5l-4.2 7.7zM431.6 664.8h8.5l-4.2 7.7zM436.6 664.3h8.5l-4.2 7.7zM441.3 665.7h8.5l-4.2 7.7zM445.7 668.2h8.5l-4.2 7.7zM449.0 671.8h8.5l-4.2 7.7zM451.3 676.3h8.5l-4.2 7.7zM453.1 680.9h8.5l-4.2 7.7zM454.8 685.7h8.5l-4.2 7.7zM456.1 690.5h8.5l-4.2 7.7zM457.1 695.4h8.5l-4.2 7.7zM457.9 700.3h8.5l-4.2 7.7zM458.9 705.2h8.5l-4.2 7.7zM460.3 710.0h8.5l-4.2 7.7zM461.9 714.7h8.5l-4.2 7.7zM463.8 719.4h8.5l-4.2 7.7zM465.7 724.0h8.5l-4.2 7.7zM467.5 728.6h8.5l-4.2 7.7zM469.3 733.3h8.5l-4.2 7.7zM471.1 738.0h8.5l-4.2 7.7zM472.6 742.7h8.5l-4.2 7.7zM474.0 747.6h8.5l-4.2 7.7zM475.0 752.4h8.5l-4.2 7.7zM476.0 757.4h8.5l-4.2 7.7zM476.8 762.3h8.5l-4.2 7.7zM477.6 767.2h8.5l-4.2 7.7zM478.5 772.1h8.5l-4.2 7.7zM479.4 777.1h8.5l-4.2 7.7zM480.4 782.0h8.5l-4.2 7.7zM481.6 786.8h8.5l-4.2 7.7zM483.1 791.6h8.5l-4.2 7.7zM484.8 796.3h8.5l-4.2 7.7zM486.7 800.9h8.5l-4.2 7.7zM488.5 805.6h8.5l-4.2 7.7zM490.2 810.3h8.5l-4.2 7.7zM492.0 815.0h8.5l-4.2 7.7zM493.7 819.6h8.5l-4.2 7.7zM495.5 824.3h8.5l-4.2 7.7zM497.3 829.0h8.5l-4.2 7.7zM499.3 833.6h8.5l-4.2 7.7zM501.2 838.2h8.5l-4.2 7.7zM503.3 842.7h8.5l-4.2 7.7zM505.4 847.3h8.5l-4.2 7.7zM507.6 851.8h8.5l-4.2 7.7zM509.9 856.2h8.5l-4.2 7.7zM512.4 860.5h8.5l-4.2 7.7zM514.9 864.9h8.5l-4.2 7.7zM517.0 869.4h8.5l-4.2 7.7zM518.9 874.0h8.5l-4.2 7.7zM520.6 878.7h8.5l-4.2 7.7zM522.1 883.5h8.5l-4.2 7.7zM523.7 888.2h8.5l-4.2 7.7zM525.1 893.0h8.5l-4.2 7.7zM526.4 897.8h8.5l-4.2 7.7zM527.7 902.7h8.5l-4.2 7.7zM528.9 907.5h8.5l-4.2 7.7zM530.2 912.4h8.5l-4.2 7.7zM531.6 917.1h8.5l-4.2 7.7zM533.5 921.8h8.5l-4.2 7.7zM535.7 926.3h8.5l-4.2 7.7zM538.1 930.6h8.5l-4.2 7.7zM540.8 934.9h8.5l-4.2 7.7zM543.6 939.0h8.5l-4.2 7.7zM546.4 943.2h8.5l-4.2 7.7zM549.1 947.3h8.5l-4.2 7.7zM552.0 951.4h8.5l-4.2 7.7zM554.9 955.5h8.5l-4.2 7.7zM557.9 959.5h8.5l-4.2 7.7zM560.8 963.6h8.5l-4.2 7.7zM563.7 967.6h8.5l-4.2 7.7zM566.7 971.7h8.5l-4.2 7.7zM569.6 975.7h8.5l-4.2 7.7zM572.5 979.8h8.5l-4.2 7.7zM575.4 983.9h8.5l-4.2 7.7zM578.3 987.9h8.5l-4.2 7.7zM581.1 992.0h8.5l-4.2 7.7zM584.0 996.2h8.5l-4.2 7.7zM586.8 1000.3h8.5l-4.2 7.7zM589.7 1004.3h8.5l-4.2 7.7zM592.8 1008.3h8.5l-4.2 7.7zM595.9 1012.2h8.5l-4.2 7.7zM599.0 1016.1h8.5l-4.2 7.7zM602.3 1019.9h8.5l-4.2 7.7zM605.8 1023.5h8.5l-4.2 7.7zM609.8 1026.5h8.5l-4.2 7.7zM614.1 1029.1h8.5l-4.2 7.7zM618.5 1031.3h8.5l-4.2 7.7zM623.2 1033.0h8.5l-4.2 7.7zM628.0 1034.3h8.5l-4.2 7.7zM632.9 1035.4h8.5l-4.2 7.7zM637.8 1036.3h8.5l-4.2 7.7zM642.8 1037.1h8.5l-4.2 7.7zM647.7 1038.0h8.5l-4.2 7.7z" fill="#F84848"/>
<polyline points="215.8,1046.1 216.9,1045.6 218.0,1045.1 219.1,1044.7 220.2,1044.2 221.3,1043.8 222.4,1043.3 223.5,1042.8 224.7,1042.4 225.8,1041.9 226.9,1041.4 228.0,1041.0 229.1,1040.5 230.2,1040.0 231.3,1039.5 232.4,1039.0 233.5,1038.6 234.6,1038.1 235.7,1037.6 236.8,1037.1 237.9,1036.6 239.0,1036.1 240.1,1035.6 241.2,1035.2 242.3,1034.7 243.4,1034.2 244.5,1033.8 245.6,1033.3 246.7,1032.8 247.9,1032.3 249.0,1031.8 250.1,1031.4 251.2,1030.9 252.3,1030.4 253.4,1029.9 254.5,1029.3 255.6,1028.8 256.7,1028.2 257.8,1027.7 258.9,1027.1 260.0,1026.5 261.1,1025.9 262.2,1025.3 263.3,1024.6 264.4,1023.9 265.5,1023.2 266.6,1022.5 267.7,1021.7 268.8,1020.9 269.9,1020.0 271.1,1019.2 272.2,1018.3 273.3,1017.4 274.4,1016.5 275.5,1015.6 276.6,1014.7 277.7,1013.7 278.8,1012.7 279.9,1011.8 281.0,1010.8 282.1,1009.8 283.2,1008.8 284.3,1007.8 285.4,1006.8 286.5,1005.9 287.6,1004.9 288.7,1003.8 289.8,1002.8 290.9,1001.8 292.0,1000.7 293.1,999.7 294.3,998.6 295.4,997.5 296.5,996.4 297.6,995.3 298.7,994.2 299.8,993.1 300.9,991.9 302.0,990.8 303.1,989.6 304.2,988.4 305.3,987.3 306.4,986.1 307.5,984.9 308.6,983.7 309.7,982.5 310.8,981.3 311.9,980.1 313.0,978.9 314.1,977.7 315.2,976.5 316.3,975.3 317.5,974.1 318.6,972.9 319.7,971.6 320.8,970.4 321.9,969.1 323.0,967.7 324.1,966.4 325.2,965.0 326.3,963.6 327.4,962.1 328.5,960.6 329.6,959.1 330.7,957.5 331.8,955.9 332.9,954.2 334.0,952.4 335.1,950.5 336.2,948.6 337.3,946.5 338.4,944.5 339.5,942.4 340.7,940.2 341.8,937.9 342.9,935.7 344.0,933.4 345.1,931.0 346.2,928.6 347.3,926.2 348.4,923.8 349.5,921.4 350.6,918.9 351.7,916.5 352.8,914.0 353.9,911.6 355.0,909.1 356.1,906.6 357.2,904.1 358.3,901.4 359.4,898.8 360.5,896.1 361.6,893.4 362.7,890.6 363.9,887.9 365.0,885.1 366.1,882.3 367.2,879.6 368.3,876.8 369.4,874.0 370.5,871.3 371.6,868.6 372.7,865.8 373.8,863.1 374.9,860.3 376.0,857.5 377.1,854.8 378.2,852.0 379.3,849.2 380.4,846.4 381.5,843.7 382.6,840.9 383.7,838.2 384.8,835.4 385.9,832.7 387.1,829.9 388.2,827.2 389.3,824.5 390.4,821.7 391.5,819.0 392.6,816.2 393.7,813.5 394.8,810.8 395.9,808.0 397.0,805.3 398.1,802.6 399.2,800.1 400.3,797.5 401.4,794.7 402.5,791.8 403.6,788.6 404.7,784.8 405.8,780.5 406.9,776.1 408.0,771.8 409.1,767.9 410.3,764.4 411.4,761.0 412.5,757.8 413.6,754.6 414.7,751.4 415.8,748.2 416.9,745.0 418.0,742.0 419.1,738.9 420.2,735.7 421.3,732.2 422.4,728.1 423.5,722.0 424.6,714.8 425.7,709.6 426.8,707.9 427.9,706.5 429.0,705.4 430.1,704.5 431.2,703.9 432.3,703.6 433.5,703.5 434.6,703.8 435.7,704.3 436.8,705.2 437.9,706.3 439.0,707.6 440.1,709.1 441.2,712.4 442.3,717.7 443.4,724.1 444.5,730.3 445.6,735.3 446.7,739.3 447.8,743.0 448.9,746.5 450.0,749.9 451.1,753.1 452.2,756.4 453.3,759.7 454.4,763.0 455.5,766.2 456.7,769.4 457.8,772.6 458.9,775.7 460.0,778.8 461.1,781.9 462.2,785.0 463.3,788.0 464.4,791.0 465.5,794.0 466.6,796.9 467.7,799.9 468.8,802.8 469.9,805.6 471.0,808.5 472.1,811.4 473.2,814.2 474.3,817.0 475.4,819.9 476.5,822.7 477.6,825.6 478.7,828.5 479.9,831.3 481.0,834.2 482.1,837.0 483.2,839.8 484.3,842.5 485.4,845.1 486.5,847.7 487.6,850.1 488.7,852.4 489.8,854.5 490.9,856.6 492.0,858.5 493.1,860.5 494.2,862.5 495.3,864.5 496.4,866.6 497.5,868.8 498.6,871.2 499.7,873.9 500.8,877.0 501.9,880.3 503.1,883.8 504.2,887.3 505.3,890.6 506.4,893.7 507.5,896.3 508.6,898.7 509.7,901.0 510.8,903.2 511.9,905.3 513.0,907.3 514.1,909.3 515.2,911.2 516.3,913.1 517.4,914.9 518.5,916.7 519.6,918.5 520.7,920.3 521.8,922.1 522.9,923.9 524.0,925.7 525.1,927.4 526.3,929.0 527.4,930.7 528.5,932.3 529.6,933.9 530.7,935.6 531.8,937.1 532.9,938.7 534.0,940.3 535.1,941.9 536.2,943.6 537.3,945.2 538.4,946.9 539.5,948.6 540.6,950.3 541.7,952.0 542.8,953.7 543.9,955.4 545.0,957.2 546.1,958.9 547.2,960.6 548.3,962.2 549.5,963.8 550.6,965.4 551.7,967.0 552.8,968.5 553.9,970.0 555.0,971.4 556.1,972.8 557.2,974.2 558.3,975.6 559.4,977.0 560.5,978.3 561.6,979.6 562.7,980.9 563.8,982.2 564.9,983.4 566.0,984.6 567.1,985.8 568.2,986.9 569.3,988.1 570.4,989.2 571.5,990.2 572.7,991.3 573.8,992.3 574.9,993.3 576.0,994.3 577.1,995.3 578.2,996.3 579.3,997.2 580.4,998.1 581.5,999.0 582.6,999.9 583.7,1000.8 584.8,1001.6 585.9,1002.4 587.0,1003.2 588.1,1004.0 589.2,1004.8 590.3,1005.5 591.4,1006.3 592.5,1007.0 593.6,1007.7 594.7,1008.5 595.9,1009.3 597.0,1010.0 598.1,1010.8 599.2,1011.7 600.3,1012.5 601.4,1013.4 602.5,1014.3 603.6,1015.3 604.7,1016.2 605.8,1017.1 606.9,1018.0 608.0,1018.9 609.1,1019.8 610.2,1020.7 611.3,1021.6 612.4,1022.4 613.5,1023.2 614.6,1023.9 615.7,1024.7 616.8,1025.5 617.9,1026.2 619.1,1027.0 620.2,1027.7 621.3,1028.4 622.4,1029.1 623.5,1029.8 624.6,1030.4 625.7,1031.0 626.8,1031.5 627.9,1032.0 629.0,1032.4 630.1,1032.9 631.2,1033.3 632.3,1033.7 633.4,1034.1 634.5,1034.5 635.6,1034.8 636.7,1035.2 637.8,1035.6 638.9,1035.9 640.0,1036.3 641.1,1036.6 642.3,1036.9 643.4,1037.1 644.5,1037.4 645.6,1037.6 646.7,1037.9 647.8,1038.0 648.9,1038.2 650.0,1038.3 651.1,1038.4 652.2,1038.5 653.3,1038.6" fill="none" stroke="#CC9900" stroke-width="1.5" stroke-linejoin="round" stroke-linecap="round"/>
<path d="M212.0 1046.1l7.7 -4.2v8.5zM216.6 1044.1l7.7 -4.2v8.5zM221.2 1042.2l7.7 -4.2v8.5zM225.8 1040.2l7.7 -4.2v8.5zM230.4 1038.2l7.7 -4.2v8.5zM235.0 1036.2l7.7 -4.2v8.5zM239.6 1034.2l7.7 -4.2v8.5zM244.2 1032.3l7.7 -4.2v8.5zM248.7 1030.2l7.7 -4.2v8.5zM253.2 1028.1l7.7 -4.2v8.5zM257.6 1025.7l7.7 -4.2v8.5zM261.9 1023.1l7.7 -4.2v8.5zM266.0 1020.2l7.7 -4.2v8.5zM269.9 1017.1l7.7 -4.2v8.5zM273.7 1013.8l7.7 -4.2v8.5zM277.5 1010.5l7.7 -4.2v8.5zM281.2 1007.2l7.7 -4.2v8.5zM284.9 1003.9l7.7 -4.2v8.5zM288.5 1000.4l7.7 -4.2v8.5zM292.1 996.9l7.7 -4.2v8.5zM295.6 993.4l7.7 -4.2v8.5zM299.1 989.8l7.7 -4.2v8.5zM302.5 986.1l7.7 -4.2v8.5zM305.9 982.5l7.7 -4.2v8.5zM309.3 978.8l7.7 -4.2v8.5zM312.7 975.1l7.7 -4.2v8.5zM316.0 971.4l7.7 -4.2v8.5zM319.3 967.6l7.7 -4.2v8.5zM322.4 963.7l7.7 -4.2v8.5zM325.4 959.7l7.7 -4.2v8.5zM328.2 955.5l7.7 -4.2v8.5zM330.8 951.3l7.7 -4.2v8.5zM333.3 946.9l7.7 -4.2v8.5zM335.6 942.5l7.7 -4.2v8.5zM337.9 938.1l7.7 -4.2v8.5zM340.1 933.6l7.7 -4.2v8.5zM342.2 929.0l7.7 -4.2v8.5zM344.3 924.5l7.7 -4.2v8.5zM346.3 919.9l7.7 -4.2v8.5zM348.4 915.4l7.7 -4.2v8.5zM350.4 910.8l7.7 -4.2v8.5zM352.5 906.2l7.7 -4.2v8.5zM354.4 901.6l7.7 -4.2v8.5zM356.3 897.0l7.7 -4.2v8.5zM358.2 892.4l7.7 -4.2v8.5zM360.1 887.7l7.7 -4.2v8.5zM361.9 883.1l7.7 -4.2v8.5zM363.8 878.5l7.7 -4.2v8.5zM365.6 873.8l7.7 -4.2v8.5zM367.5 869.2l7.7 -4.2v8.5zM369.4 864.5l7.7 -4.2v8.5zM371.2 859.9l7.7 -4.2v8.5zM373.1 855.3l7.7 -4.2v8.5zM374.9 850.6l7.7 -4.2v8.5zM376.8 846.0l7.7 -4.2v8.5zM378.6 841.3l7.7 -4.2v8.5zM380.5 836.7l7.7 -4.2v8.5zM382.4 832.0l7.7 -4.2v8.5zM384.2 827.4l7.7 -4.2v8.5zM386.1 822.8l7.7 -4.2v8.5zM388.0 818.1l7.7 -4.2v8.5zM389.9 813.5l7.7 -4.2v8.5zM391.7 808.9l7.7 -4.2v8.5zM393.6 804.2l7.7 -4.2v8.5zM395.6 799.6l7.7 -4.2v8.5zM397.5 795.0l7.7 -4.2v8.5zM399.2 790.3l7.7 -4.2v8.5zM400.7 785.5l7.7 -4.2v8.5zM402.0 780.7l7.7 -4.2v8.5zM403.2 775.9l7.7 -4.2v8.5zM404.4 771.0l7.7 -4.2v8.5zM405.8 766.2l7.7 -4.2v8.5zM407.4 761.5l7.7 -4.2v8.5zM409.0 756.7l7.7 -4.2v8.5zM410.6 752.0l7.7 -4.2v8.5zM412.3 747.3l7.7 -4.2v8.5zM413.9 742.6l7.7 -4.2v8.5zM415.6 737.9l7.7 -4.2v8.5zM417.2 733.1l7.7 -4.2v8.5zM418.5 728.3l7.7 -4.2v8.5zM419.4 723.4l7.7 -4.2v8.5zM420.2 718.4l7.7 -4.2v8.5zM421.1 713.5l7.7 -4.2v8.5zM422.4 708.8l7.7 -4.2v8.5zM425.7 705.0l7.7 -4.2v8.5zM430.3 703.7l7.7 -4.2v8.5zM434.3 706.6l7.7 -4.2v8.5zM436.8 710.8l7.7 -4.2v8.5zM438.0 715.6l7.7 -4.2v8.5zM439.0 720.6l7.7 -4.2v8.5zM439.8 725.5l7.7 -4.2v8.5zM440.7 730.4l7.7 -4.2v8.5zM441.8 735.3l7.7 -4.2v8.5zM443.1 740.1l7.7 -4.2v8.5zM444.6 744.9l7.7 -4.2v8.5zM446.1 749.6l7.7 -4.2v8.5zM447.7 754.4l7.7 -4.2v8.5zM449.3 759.1l7.7 -4.2v8.5zM450.9 763.9l7.7 -4.2v8.5zM452.5 768.6l7.7 -4.2v8.5zM454.2 773.3l7.7 -4.2v8.5zM455.8 778.0l7.7 -4.2v8.5zM457.5 782.7l7.7 -4.2v8.5zM459.2 787.4l7.7 -4.2v8.5zM461.0 792.1l7.7 -4.2v8.5zM462.7 796.8l7.7 -4.2v8.5zM464.5 801.5l7.7 -4.2v8.5zM466.3 806.1l7.7 -4.2v8.5zM468.1 810.8l7.7 -4.2v8.5zM469.9 815.5l7.7 -4.2v8.5zM471.7 820.1l7.7 -4.2v8.5zM473.5 824.8l7.7 -4.2v8.5zM475.3 829.5l7.7 -4.2v8.5zM477.1 834.1l7.7 -4.2v8.5zM478.9 838.8l7.7 -4.2v8.5zM480.8 843.4l7.7 -4.2v8.5zM482.8 848.0l7.7 -4.2v8.5zM484.9 852.5l7.7 -4.2v8.5zM487.3 856.9l7.7 -4.2v8.5zM489.7 861.3l7.7 -4.2v8.5zM492.1 865.7l7.7 -4.2v8.5zM494.3 870.2l7.7 -4.2v8.5zM496.2 874.8l7.7 -4.2v8.5zM497.9 879.5l7.7 -4.2v8.5zM499.4 884.3l7.7 -4.2v8.5zM500.9 889.0l7.7 -4.2v8.5zM502.6 893.8l7.7 -4.2v8.5zM504.6 898.3l7.7 -4.2v8.5zM506.8 902.8l7.7 -4.2v8.5zM509.1 907.2l7.7 -4.2v8.5zM511.6 911.6l7.7 -4.2v8.5zM514.2 915.9l7.7 -4.2v8.5zM516.8 920.1l7.7 -4.2v8.5zM519.4 924.4l7.7 -4.2v8.5zM522.1 928.6l7.7 -4.2v8.5zM524.9 932.7l7.7 -4.2v8.5zM527.8 936.9l7.7 -4.2v8.5zM530.6 941.0l7.7 -4.2v8.5zM533.4 945.1l7.7 -4.2v8.5zM536.2 949.3l7.7 -4.2v8.5zM538.9 953.5l7.7 -4.2v8.5zM541.6 957.7l7.7 -4.2v8.5zM544.3 961.9l7.7 -4.2v8.5zM547.1 966.0l7.7 -4.2v8.5zM550.1 970.0l7.7 -4.2v8.5zM553.2 974.0l7.7 -4.2v8.5zM556.3 977.9l7.7 -4.2v8.5zM559.5 981.7l7.7 -4.2v8.5zM562.9 985.4l7.7 -4.2v8.5zM566.4 988.9l7.7 -4.2v8.5zM570.0 992.4l7.7 -4.2v8.5zM573.7 995.7l7.7 -4.2v8.5zM577.6 999.0l7.7 -4.2v8.5zM581.5 1002.0l7.7 -4.2v8.5zM585.6 1004.9l7.7 -4.2v8.5zM589.8 1007.7l7.7 -4.2v8.5zM593.8 1010.6l7.7 -4.2v8.5zM597.8 1013.6l7.7 -4.2v8.5zM601.6 1016.8l7.7 -4.2v8.5zM605.5 1020.0l7.7 -4.2v8.5zM609.5 1023.0l7.7 -4.2v8.5zM613.6 1025.9l7.7 -4.2v8.5zM617.8 1028.6l7.7 -4.2v8.5zM622.1 1031.1l7.7 -4.2v8.5zM626.7 1033.0l7.7 -4.2v8.5zM631.4 1034.7l7.7 -4.2v8.5zM636.2 1036.2l7.7 -4.2v8.5zM641.0 1037.5l7.7 -4.2v8.5zM646.0 1038.3l7.7 -4.2v8.5z" fill="#CC9900"/>
<polyline points="218.5,1047.4 219.6,1047.0 220.7,1046.5 221.8,1046.1 222.9,1045.6 224.0,1045.1 225.1,1044.7 226.2,1044.2 227.3,1043.8 228.4,1043.3 229.5,1042.8 230.7,1042.4 231.8,1041.9 232.9,1041.4 234.0,1041.0 235.1,1040.5 236.2,1040.0 237.3,1039.5 238.4,1039.0 239.5,1038.6 240.6,1038.1 241.7,1037.6 242.8,1037.1 243.9,1036.6 245.0,1036.1 246.1,1035.6 247.2,1035.2 248.3,1034.7 249.4,1034.2 250.5,1033.8 251.6,1033.3 252.7,1032.8 253.9,1032.3 255.0,1031.8 256.1,1031.4 257.2,1030.9 258.3,1030.4 259.4,1029.9 260.5,1029.3 261.6,1028.8 262.7,1028.2 263.8,1027.7 264.9,1027.1 266.0,1026.5 267.1,1025.9 268.2,1025.3 269.3,1024.6 270.4,1023.9 271.5,1023.2 272.6,1022.5 273.7,1021.7 274.8,1020.9 275.9,1020.0 277.1,1019.2 278.2,1018.3 279.3,1017.4 280.4,1016.5 281.5,1015.6 282.6,1014.7 283.7,1013.7 284.8,1012.7 285.9,1011.8 287.0,1010.8 288.1,1009.8 289.2,1008.8 290.3,1007.8 291.4,1006.8 292.5,1005.9 293.6,1004.9 294.7,1003.8 295.8,1002.8 296.9,1001.8 298.0,1000.7 299.1,999.7 300.3,998.6 301.4,997.5 302.5,996.4 303.6,995.3 304.7,994.2 305.8,993.1 306.9,991.9 308.0,990.8 309.1,989.6 310.2,988.4 311.3,987.3 312.4,986.1 313.5,984.9 314.6,983.7 315.7,982.5 316.8,981.3 317.9,980.1 319.0,978.9 320.1,977.7 321.2,976.5 322.3,975.3 323.5,974.1 324.6,972.9 325.7,971.6 326.8,970.4 327.9,969.1 329.0,967.7 330.1,966.4 331.2,965.0 332.3,963.6 333.4,962.1 334.5,960.6 335.6,959.1 336.7,957.5 337.8,955.9 338.9,954.2 340.0,952.4 341.1,950.5 342.2,948.6 343.3,946.5 344.4,944.5 345.5,942.4 346.7,940.2 347.8,937.9 348.9,935.7 350.0,933.4 351.1,931.0 352.2,928.6 353.3,926.2 354.4,923.8 355.5,921.4 356.6,918.9 357.7,916.5 358.8,914.0 359.9,911.6 361.0,909.1 362.1,906.6 363.2,904.1 364.3,901.4 365.4,898.8 366.5,896.1 367.6,893.4 368.7,890.6 369.9,887.9 371.0,885.1 372.1,882.3 373.2,879.6 374.3,876.8 375.4,874.0 376.5,871.3 377.6,868.6 378.7,865.8 379.8,863.1 380.9,860.3 382.0,857.5 383.1,854.8 384.2,852.0 385.3,849.2 386.4,846.4 387.5,843.7 388.6,840.9 389.7,838.2 390.8,835.4 391.9,832.7 393.1,829.9 394.2,827.2 395.3,824.5 396.4,821.7 397.5,819.0 398.6,816.2 399.7,813.5 400.8,810.8 401.9,808.0 403.0,805.3 404.1,802.6 405.2,800.1 406.3,797.5 407.4,794.7 408.5,791.8 409.6,788.6 410.7,784.8 411.8,780.5 412.9,776.1 414.0,771.8 415.1,767.9 416.3,764.4 417.4,761.0 418.5,757.8 419.6,754.6 420.7,751.4 421.8,748.2 422.9,745.0 424.0,742.0 425.1,738.9 426.2,735.7 427.3,732.2 428.4,728.1 429.5,722.0 430.6,714.8 431.7,709.6 432.8,707.9 433.9,706.5 435.0,705.4 436.1,704.5 437.2,703.9 438.3,703.6 439.5,703.5 440.6,703.8 441.7,704.3 442.8,705.2 443.9,706.3 445.0,707.6 446.1,709.1 447.2,712.4 448.3,717.7 449.4,724.1 450.5,730.3 451.6,735.3 452.7,739.3 453.8,743.0 454.9,746.5 456.0,749.9 457.1,753.1 458.2,756.4 459.3,759.7 460.4,763.0 461.5,766.2 462.7,769.4 463.8,772.6 464.9,775.7 466.0,778.8 467.1,781.9 468.2,785.0 469.3,788.0 470.4,791.0 471.5,794.0 472.6,796.9 473.7,799.9 474.8,802.8 475.9,805.6 477.0,808.5 478.1,811.4 479.2,814.2 480.3,817.0 481.4,819.9 482.5,822.7 483.6,825.6 484.7,828.5 485.9,831.3 487.0,834.2 488.1,837.0 489.2,839.8 490.3,842.5 491.4,845.1 492.5,847.7 493.6,850.1 494.7,852.4 495.8,854.5 496.9,856.6 498.0,858.5 499.1,860.5 500.2,862.5 501.3,864.5 502.4,866.6 503.5,868.8 504.6,871.2 505.7,873.9 506.8,877.0 507.9,880.3 509.1,883.8 510.2,887.3 511.3,890.6 512.4,893.7 513.5,896.3 514.6,898.7 515.7,901.0 516.8,903.2 517.9,905.3 519.0,907.3 520.1,909.3 521.2,911.2 522.3,913.1 523.4,914.9 524.5,916.7 525.6,918.5 526.7,920.3 527.8,922.1 528.9,923.9 530.0,925.7 531.1,927.4 532.3,929.0 533.4,930.7 534.5,932.3 535.6,933.9 536.7,935.6 537.8,937.1 538.9,938.7 540.0,940.3 541.1,941.9 542.2,943.6 543.3,945.2 544.4,946.9 545.5,948.6 546.6,950.3 547.7,952.0 548.8,953.7 549.9,955.4 551.0,957.2 552.1,958.9 553.2,960.6 554.3,962.2 555.5,963.8 556.6,965.4 557.7,967.0 558.8,968.5 559.9,970.0 561.0,971.4 562.1,972.8 563.2,974.2 564.3,975.6 565.4,977.0 566.5,978.3 567.6,979.6 568.7,980.9 569.8,982.2 570.9,983.4 572.0,984.6 573.1,985.8 574.2,986.9 575.3,988.1 576.4,989.2 577.5,990.2 578.7,991.3 579.8,992.3 580.9,993.3 582.0,994.3 583.1,995.3 584.2,996.3 585.3,997.2 586.4,998.1 587.5,999.0 588.6,999.9 589.7,1000.8 590.8,1001.6 591.9,1002.4 593.0,1003.2 594.1,1004.0 595.2,1004.8 596.3,1005.5 597.4,1006.3 598.5,1007.0 599.6,1007.7 600.7,1008.5 601.9,1009.3 603.0,1010.0 604.1,1010.8 605.2,1011.7 606.3,1012.5 607.4,1013.4 608.5,1014.3 609.6,1015.3 610.7,1016.2 611.8,1017.1 612.9,1018.0 614.0,1018.9 615.1,1019.8 616.2,1020.7 617.3,1021.6 618.4,1022.4 619.5,1023.2 620.6,1023.9 621.7,1024.7 622.8,1025.5 623.9,1026.2 625.1,1027.0 626.2,1027.7 627.3,1028.4 628.4,1029.1 629.5,1029.8 630.6,1030.4 631.7,1031.0 632.8,1031.5 633.9,1032.0 635.0,1032.4 636.1,1032.9 637.2,1033.3 638.3,1033.7 639.4,1034.1 640.5,1034.5 641.6,1034.8 642.7,1035.2 643.8,1035.6 644.9,1035.9 646.0,1036.3 647.1,1036.6 648.3,1036.9 649.4,1037.1 650.5,1037.4 651.6,1037.6 652.7,1037.9 653.8,1038.0 654.9,1038.2 656.0,1038.3" fill="none" stroke="#CC9900" stroke-width="1.5" stroke-linejoin="round" stroke-linecap="round"/>
<path d="M214.7 1047.4l7.7 -4.2v8.5zM219.3 1045.5l7.7 -4.2v8.5zM223.9 1043.6l7.7 -4.2v8.5zM228.5 1041.6l7.7 -4.2v8.5zM233.1 1039.7l7.7 -4.2v8.5zM237.7 1037.7l7.7 -4.2v8.5zM242.3 1035.6l7.7 -4.2v8.5zM246.9 1033.7l7.7 -4.2v8.5zM251.5 1031.7l7.7 -4.2v8.5zM256.0 1029.6l7.7 -4.2v8.5zM260.5 1027.4l7.7 -4.2v8.5zM264.9 1025.0l7.7 -4.2v8.5zM269.1 1022.3l7.7 -4.2v8.5zM273.1 1019.3l7.7 -4.2v8.5zM277.0 1016.2l7.7 -4.2v8.5zM280.8 1012.9l7.7 -4.2v8.5zM284.5 1009.6l7.7 -4.2v8.5zM288.2 1006.3l7.7 -4.2v8.5zM291.9 1002.9l7.7 -4.2v8.5zM295.6 999.4l7.7 -4.2v8.5zM299.1 995.9l7.7 -4.2v8.5zM302.6 992.4l7.7 -4.2v8.5zM306.1 988.8l7.7 -4.2v8.5zM309.5 985.1l7.7 -4.2v8.5zM312.9 981.4l7.7 -4.2v8.5zM316.3 977.8l7.7 -4.2v8.5zM319.7 974.1l7.7 -4.2v8.5zM323.0 970.3l7.7 -4.2v8.5zM326.2 966.5l7.7 -4.2v8.5zM329.3 962.6l7.7 -4.2v8.5zM332.2 958.5l7.7 -4.2v8.5zM335.0 954.3l7.7 -4.2v8.5zM337.6 950.1l7.7 -4.2v8.5zM340.0 945.7l7.7 -4.2v8.5zM342.3 941.3l7.7 -4.2v8.5zM344.5 936.8l7.7 -4.2v8.5zM346.7 932.3l7.7 -4.2v8.5zM348.8 927.7l7.7 -4.2v8.5zM350.9 923.2l7.7 -4.2v8.5zM352.9 918.6l7.7 -4.2v8.5zM355.0 914.1l7.7 -4.2v8.5zM357.0 909.5l7.7 -4.2v8.5zM359.0 904.9l7.7 -4.2v8.5zM361.0 900.3l7.7 -4.2v8.5zM362.9 895.7l7.7 -4.2v8.5zM364.8 891.1l7.7 -4.2v8.5zM366.6 886.4l7.7 -4.2v8.5zM368.5 881.8l7.7 -4.2v8.5zM370.3 877.1l7.7 -4.2v8.5zM372.2 872.5l7.7 -4.2v8.5zM374.0 867.9l7.7 -4.2v8.5zM375.9 863.2l7.7 -4.2v8.5zM377.8 858.6l7.7 -4.2v8.5zM379.6 853.9l7.7 -4.2v8.5zM381.5 849.3l7.7 -4.2v8.5zM383.3 844.6l7.7 -4.2v8.5zM385.2 840.0l7.7 -4.2v8.5zM387.0 835.4l7.7 -4.2v8.5zM388.9 830.7l7.7 -4.2v8.5zM390.8 826.1l7.7 -4.2v8.5zM392.6 821.5l7.7 -4.2v8.5zM394.5 816.8l7.7 -4.2v8.5zM396.4 812.2l7.7 -4.2v8.5zM398.3 807.5l7.7 -4.2v8.5zM400.2 802.9l7.7 -4.2v8.5zM402.1 798.3l7.7 -4.2v8.5zM404.0 793.7l7.7 -4.2v8.5zM405.7 789.0l7.7 -4.2v8.5zM407.1 784.2l7.7 -4.2v8.5zM408.3 779.3l7.7 -4.2v8.5zM409.5 774.5l7.7 -4.2v8.5zM410.8 769.6l7.7 -4.2v8.5zM412.3 764.9l7.7 -4.2v8.5zM413.8 760.1l7.7 -4.2v8.5zM415.5 755.4l7.7 -4.2v8.5zM417.1 750.7l7.7 -4.2v8.5zM418.7 745.9l7.7 -4.2v8.5zM420.4 741.2l7.7 -4.2v8.5zM422.1 736.5l7.7 -4.2v8.5zM423.6 731.7l7.7 -4.2v8.5zM424.8 726.9l7.7 -4.2v8.5zM425.7 722.0l7.7 -4.2v8.5zM426.4 717.0l7.7 -4.2v8.5zM427.4 712.1l7.7 -4.2v8.5zM429.2 707.6l7.7 -4.2v8.5zM432.9 704.2l7.7 -4.2v8.5zM437.6 704.2l7.7 -4.2v8.5zM441.2 707.7l7.7 -4.2v8.5zM443.3 712.1l7.7 -4.2v8.5zM444.3 717.0l7.7 -4.2v8.5zM445.2 722.0l7.7 -4.2v8.5zM446.1 726.9l7.7 -4.2v8.5zM447.0 731.8l7.7 -4.2v8.5zM448.2 736.7l7.7 -4.2v8.5zM449.5 741.5l7.7 -4.2v8.5zM451.0 746.2l7.7 -4.2v8.5zM452.6 751.0l7.7 -4.2v8.5zM454.2 755.7l7.7 -4.2v8.5zM455.8 760.5l7.7 -4.2v8.5zM457.4 765.2l7.7 -4.2v8.5zM459.0 769.9l7.7 -4.2v8.5zM460.7 774.7l7.7 -4.2v8.5zM462.3 779.4l7.7 -4.2v8.5zM464.0 784.1l7.7 -4.2v8.5zM465.7 788.8l7.7 -4.2v8.5zM467.5 793.5l7.7 -4.2v8.5zM469.2 798.1l7.7 -4.2v8.5zM471.0 802.8l7.7 -4.2v8.5zM472.8 807.5l7.7 -4.2v8.5zM474.6 812.1l7.7 -4.2v8.5zM476.4 816.8l7.7 -4.2v8.5zM478.2 821.5l7.7 -4.2v8.5zM480.0 826.1l7.7 -4.2v8.5zM481.8 830.8l7.7 -4.2v8.5zM483.6 835.5l7.7 -4.2v8.5zM485.5 840.1l7.7 -4.2v8.5zM487.4 844.7l7.7 -4.2v8.5zM489.4 849.3l7.7 -4.2v8.5zM491.6 853.8l7.7 -4.2v8.5zM494.0 858.2l7.7 -4.2v8.5zM496.4 862.5l7.7 -4.2v8.5zM498.8 866.9l7.7 -4.2v8.5zM500.9 871.5l7.7 -4.2v8.5zM502.7 876.1l7.7 -4.2v8.5zM504.3 880.9l7.7 -4.2v8.5zM505.8 885.6l7.7 -4.2v8.5zM507.4 890.4l7.7 -4.2v8.5zM509.1 895.1l7.7 -4.2v8.5zM511.2 899.6l7.7 -4.2v8.5zM513.4 904.1l7.7 -4.2v8.5zM515.8 908.5l7.7 -4.2v8.5zM518.3 912.8l7.7 -4.2v8.5zM520.9 917.1l7.7 -4.2v8.5zM523.5 921.3l7.7 -4.2v8.5zM526.2 925.6l7.7 -4.2v8.5zM528.9 929.8l7.7 -4.2v8.5zM531.7 933.9l7.7 -4.2v8.5zM534.6 938.0l7.7 -4.2v8.5zM537.4 942.1l7.7 -4.2v8.5zM540.2 946.3l7.7 -4.2v8.5zM542.9 950.5l7.7 -4.2v8.5zM545.6 954.7l7.7 -4.2v8.5zM548.3 958.9l7.7 -4.2v8.5zM551.1 963.1l7.7 -4.2v8.5zM554.0 967.2l7.7 -4.2v8.5zM557.0 971.2l7.7 -4.2v8.5zM560.0 975.1l7.7 -4.2v8.5zM563.2 979.0l7.7 -4.2v8.5zM566.5 982.7l7.7 -4.2v8.5zM569.9 986.4l7.7 -4.2v8.5zM573.4 989.9l7.7 -4.2v8.5zM577.1 993.4l7.7 -4.2v8.5zM580.8 996.7l7.7 -4.2v8.5zM584.7 999.8l7.7 -4.2v8.5zM588.7 1002.9l7.7 -4.2v8.5zM592.8 1005.7l7.7 -4.2v8.5zM596.9 1008.5l7.7 -4.2v8.5zM601.0 1011.4l7.7 -4.2v8.5zM604.9 1014.5l7.7 -4.2v8.5zM608.7 1017.7l7.7 -4.2v8.5zM612.6 1020.9l7.7 -4.2v8.5zM616.7 1023.8l7.7 -4.2v8.5zM620.8 1026.7l7.7 -4.2v8.5zM625.0 1029.4l7.7 -4.2v8.5zM629.4 1031.7l7.7 -4.2v8.5zM634.1 1033.5l7.7 -4.2v8.5zM638.8 1035.2l7.7 -4.2v8.5zM643.6 1036.6l7.7 -4.2v8.5zM648.4 1037.8l7.7 -4.2v8.5z" fill="#CC9900"/>
<polyline points="215.1,1027.3 216.2,1026.6 217.3,1026.0 218.4,1025.4 219.5,1024.7 220.6,1024.1 221.7,1023.5 222.8,1022.8 223.9,1022.2 225.1,1021.6 226.2,1021.0 227.3,1020.3 228.4,1019.7 229.5,1019.1 230.6,1018.5 231.7,1017.9 232.8,1017.3 233.9,1016.7 235.0,1016.1 236.1,1015.5 237.2,1014.9 238.3,1014.3 239.4,1013.7 240.5,1013.2 241.6,1012.6 242.7,1012.0 243.8,1011.5 244.9,1010.9 246.0,1010.3 247.1,1009.7 248.3,1009.2 249.4,1008.6 250.5,1008.0 251.6,1007.4 252.7,1006.7 253.8,1006.1 254.9,1005.5 256.0,1004.8 257.1,1004.2 258.2,1003.5 259.3,1002.8 260.4,1002.1 261.5,1001.4 262.6,1000.7 263.7,1000.0 264.8,999.3 265.9,998.5 267.0,997.8 268.1,997.1 269.2,996.3 270.3,995.6 271.5,994.8 272.6,994.0 273.7,993.2 274.8,992.5 275.9,991.7 277.0,990.9 278.1,990.1 279.2,989.3 280.3,988.5 281.4,987.7 282.5,986.8 283.6,986.0 284.7,985.2 285.8,984.4 286.9,983.5 288.0,982.7 289.1,981.8 290.2,980.9 291.3,980.1 292.4,979.2 293.5,978.3 294.7,977.4 295.8,976.4 296.9,975.5 298.0,974.5 299.1,973.6 300.2,972.6 301.3,971.6 302.4,970.6 303.5,969.6 304.6,968.5 305.7,967.5 306.8,966.4 307.9,965.3 309.0,964.3 310.1,963.2 311.2,962.0 312.3,960.9 313.4,959.7 314.5,958.5 315.6,957.3 316.7,956.1 317.9,954.9 319.0,953.6 320.1,952.3 321.2,951.0 322.3,949.6 323.4,948.3 324.5,946.9 325.6,945.4 326.7,943.9 327.8,942.4 328.9,940.8 330.0,939.2 331.1,937.6 332.2,935.9 333.3,934.2 334.4,932.5 335.5,930.7 336.6,928.9 337.7,927.0 338.8,925.2 339.9,923.3 341.1,921.4 342.2,919.5 343.3,917.5 344.4,915.6 345.5,913.6 346.6,911.6 347.7,909.6 348.8,907.6 349.9,905.5 351.0,903.4 352.1,901.2 353.2,898.9 354.3,896.6 355.4,894.2 356.5,891.7 357.6,889.0 358.7,886.2 359.8,883.2 360.9,880.2 362.0,877.2 363.1,874.2 364.3,871.4 365.4,868.6 366.5,865.8 367.6,863.1 368.7,860.4 369.8,857.7 370.9,855.0 372.0,852.4 373.1,849.7 374.2,847.0 375.3,844.3 376.4,841.7 377.5,839.0 378.6,836.3 379.7,833.6 380.8,830.9 381.9,828.2 383.0,825.5 384.1,822.9 385.2,820.2 386.3,817.5 387.5,814.8 388.6,812.1 389.7,809.3 390.8,806.6 391.9,803.9 393.0,801.2 394.1,798.6 395.2,796.0 396.3,793.3 397.4,790.5 398.5,787.5 399.6,784.4 400.7,781.0 401.8,777.0 402.9,772.7 404.0,768.2 405.1,764.0 406.2,760.2 407.3,756.8 408.4,753.4 409.5,750.2 410.7,747.0 411.8,743.8 412.9,740.5 414.0,737.2 415.1,734.0 416.2,730.7 417.3,727.4 418.4,724.1 419.5,720.7 420.6,716.9 421.7,712.7 422.8,708.5 423.9,704.6 425.0,701.5 426.1,699.3 427.2,698.2 428.3,697.2 429.4,696.3 430.5,695.5 431.6,694.9 432.7,694.4 433.9,694.1 435.0,694.0 436.1,694.1 437.2,694.4 438.3,694.8 439.4,695.4 440.5,696.2 441.6,697.1 442.7,698.2 443.8,699.6 444.9,703.2 446.0,708.6 447.1,714.7 448.2,720.4 449.3,725.6 450.4,731.0 451.5,736.5 452.6,742.0 453.7,747.3 454.8,752.3 455.9,756.8 457.1,760.7 458.2,764.4 459.3,767.8 460.4,771.1 461.5,774.2 462.6,777.2 463.7,780.1 464.8,783.0 465.9,785.9 467.0,788.9 468.1,791.8 469.2,794.7 470.3,797.6 471.4,800.4 472.5,803.2 473.6,806.0 474.7,808.7 475.8,811.5 476.9,814.2 478.0,816.9 479.1,819.6 480.3,822.3 481.4,825.1 482.5,827.8 483.6,830.6 484.7,833.3 485.8,836.0 486.9,838.6 488.0,841.2 489.1,843.8 490.2,846.3 491.3,848.7 492.4,851.0 493.5,853.2 494.6,855.3 495.7,857.3 496.8,859.4 497.9,861.3 499.0,863.3 500.1,865.3 501.2,867.3 502.3,869.3 503.5,871.4 504.6,873.6 505.7,875.9 506.8,878.2 507.9,880.6 509.0,883.0 510.1,885.4 511.2,887.8 512.3,890.0 513.4,892.2 514.5,894.2 515.6,896.0 516.7,897.7 517.8,899.3 518.9,900.8 520.0,902.3 521.1,903.8 522.2,905.4 523.3,907.0 524.4,908.6 525.5,910.3 526.7,912.0 527.8,913.7 528.9,915.4 530.0,917.1 531.1,918.9 532.2,920.5 533.3,922.2 534.4,923.9 535.5,925.5 536.6,927.0 537.7,928.5 538.8,930.0 539.9,931.4 541.0,932.9 542.1,934.3 543.2,935.6 544.3,937.0 545.4,938.3 546.5,939.7 547.6,941.0 548.7,942.2 549.9,943.5 551.0,944.7 552.1,946.0 553.2,947.2 554.3,948.4 555.4,949.5 556.5,950.7 557.6,951.8 558.7,952.9 559.8,953.9 560.9,955.0 562.0,956.1 563.1,957.2 564.2,958.2 565.3,959.3 566.4,960.4 567.5,961.4 568.6,962.5 569.7,963.6 570.8,964.8 571.9,965.9 573.1,967.0 574.2,968.1 575.3,969.2 576.4,970.4 577.5,971.5 578.6,972.6 579.7,973.7 580.8,974.8 581.9,975.9 583.0,976.9 584.1,978.0 585.2,979.0 586.3,980.1 587.4,981.1 588.5,982.2 589.6,983.2 590.7,984.3 591.8,985.3 592.9,986.3 594.0,987.3 595.1,988.3 596.3,989.2 597.4,990.1 598.5,991.0 599.6,991.9 600.7,992.7 601.8,993.6 602.9,994.4 604.0,995.2 605.1,995.9 606.2,996.7 607.3,997.4 608.4,998.2 609.5,998.9 610.6,999.6 611.7,1000.4 612.8,1001.1 613.9,1001.8 615.0,1002.5 616.1,1003.2 617.2,1003.9 618.3,1004.6 619.5,1005.3 620.6,1006.0 621.7,1006.6 622.8,1007.3 623.9,1007.9 625.0,1008.6 626.1,1009.2 627.2,1009.9 628.3,1010.5 629.4,1011.2 630.5,1011.8 631.6,1012.4 632.7,1013.0 633.8,1013.6 634.9,1014.3 636.0,1014.9 637.1,1015.5 638.2,1016.1 639.3,1016.7 640.4,1017.3 641.5,1017.9 642.7,1018.4 643.8,1019.0 644.9,1019.6 646.0,1020.2 647.1,1020.7 648.2,1021.3 649.3,1021.9 650.4,1022.4 651.5,1023.0 652.6,1023.5 653.7,1024.0" fill="none" stroke="#808000" stroke-width="1.5" stroke-linejoin="round" stroke-linecap="round"/>
<path d="M215.1 1022.9L216.4 1025.5L219.3 1025.9L217.2 1028.0L217.7 1030.9L215.1 1029.5L212.5 1030.9L213.0 1028.0L210.9 1025.9L213.8 1025.5zM219.4 1020.4L220.7 1023.0L223.6 1023.4L221.5 1025.5L222.0 1028.3L219.4 1027.0L216.9 1028.3L217.3 1025.5L215.3 1023.4L218.1 1023.0zM223.8 1017.9L225.1 1020.5L228.0 1020.9L225.9 1023.0L226.4 1025.9L223.8 1024.5L221.2 1025.9L221.7 1023.0L219.6 1020.9L222.5 1020.5zM228.1 1015.5L229.4 1018.1L232.3 1018.5L230.2 1020.5L230.7 1023.4L228.1 1022.1L225.5 1023.4L226.0 1020.5L223.9 1018.5L226.8 1018.1zM232.5 1013.0L233.8 1015.6L236.7 1016.1L234.6 1018.1L235.1 1021.0L232.5 1019.6L229.9 1021.0L230.4 1018.1L228.3 1016.1L231.2 1015.6zM236.9 1010.6L238.2 1013.3L241.1 1013.7L239.0 1015.7L239.5 1018.6L236.9 1017.2L234.3 1018.6L234.8 1015.7L232.7 1013.7L235.6 1013.3zM241.3 1008.3L242.6 1011.0L245.5 1011.4L243.4 1013.4L243.9 1016.3L241.3 1014.9L238.8 1016.3L239.2 1013.4L237.2 1011.4L240.0 1011.0zM245.8 1006.1L247.1 1008.7L250.0 1009.1L247.9 1011.1L248.4 1014.0L245.8 1012.7L243.2 1014.0L243.7 1011.1L241.6 1009.1L244.5 1008.7zM250.2 1003.7L251.5 1006.3L254.4 1006.8L252.3 1008.8L252.8 1011.7L250.2 1010.3L247.6 1011.7L248.1 1008.8L246.0 1006.8L248.9 1006.3zM254.6 1001.3L255.9 1003.9L258.7 1004.3L256.7 1006.3L257.2 1009.2L254.6 1007.9L252.0 1009.2L252.5 1006.3L250.4 1004.3L253.3 1003.9zM258.9 998.7L260.1 1001.3L263.0 1001.7L260.9 1003.8L261.4 1006.6L258.9 1005.3L256.3 1006.6L256.8 1003.8L254.7 1001.7L257.6 1001.3zM263.1 996.0L264.4 998.6L267.3 999.1L265.2 1001.1L265.7 1004.0L263.1 1002.6L260.5 1004.0L261.0 1001.1L258.9 999.1L261.8 998.6zM267.3 993.3L268.5 995.9L271.4 996.3L269.3 998.3L269.8 1001.2L267.3 999.9L264.7 1001.2L265.2 998.3L263.1 996.3L266.0 995.9zM271.4 990.4L272.7 993.1L275.6 993.5L273.5 995.5L274.0 998.4L271.4 997.0L268.8 998.4L269.3 995.5L267.2 993.5L270.1 993.1zM275.5 987.6L276.8 990.2L279.6 990.6L277.6 992.6L278.1 995.5L275.5 994.2L272.9 995.5L273.4 992.6L271.3 990.6L274.2 990.2zM279.5 984.6L280.8 987.3L283.7 987.7L281.6 989.7L282.1 992.6L279.5 991.2L276.9 992.6L277.4 989.7L275.3 987.7L278.2 987.3zM283.5 981.7L284.8 984.3L287.7 984.7L285.6 986.7L286.1 989.6L283.5 988.3L281.0 989.6L281.4 986.7L279.4 984.7L282.2 984.3zM287.5 978.6L288.8 981.3L291.7 981.7L289.6 983.7L290.1 986.6L287.5 985.2L284.9 986.6L285.4 983.7L283.3 981.7L286.2 981.3zM291.5 975.6L292.8 978.2L295.6 978.6L293.6 980.6L294.0 983.5L291.5 982.2L288.9 983.5L289.4 980.6L287.3 978.6L290.2 978.2zM295.3 972.4L296.6 975.0L299.5 975.4L297.4 977.5L297.9 980.4L295.3 979.0L292.7 980.4L293.2 977.5L291.1 975.4L294.0 975.0zM299.1 969.1L300.4 971.8L303.3 972.2L301.2 974.2L301.7 977.1L299.1 975.7L296.5 977.1L297.0 974.2L294.9 972.2L297.8 971.8zM302.8 965.8L304.1 968.4L307.0 968.8L304.9 970.9L305.4 973.7L302.8 972.4L300.2 973.7L300.7 970.9L298.6 968.8L301.5 968.4zM306.5 962.3L307.8 965.0L310.7 965.4L308.6 967.4L309.1 970.3L306.5 968.9L303.9 970.3L304.4 967.4L302.3 965.4L305.2 965.0zM310.0 958.8L311.3 961.5L314.2 961.9L312.1 963.9L312.6 966.8L310.0 965.4L307.4 966.8L307.9 963.9L305.8 961.9L308.7 961.5zM313.5 955.2L314.8 957.9L317.7 958.3L315.6 960.3L316.1 963.2L313.5 961.8L310.9 963.2L311.4 960.3L309.3 958.3L312.2 957.9zM316.9 951.6L318.2 954.2L321.1 954.6L319.0 956.6L319.5 959.5L316.9 958.2L314.3 959.5L314.8 956.6L312.7 954.6L315.6 954.2zM320.2 947.8L321.5 950.4L324.3 950.8L322.3 952.9L322.8 955.7L320.2 954.4L317.6 955.7L318.1 952.9L316.0 950.8L318.9 950.4zM323.3 943.9L324.6 946.5L327.5 947.0L325.4 949.0L325.9 951.9L323.3 950.5L320.7 951.9L321.2 949.0L319.1 947.0L322.0 946.5zM326.4 940.0L327.7 942.6L330.6 943.0L328.5 945.0L329.0 947.9L326.4 946.6L323.8 947.9L324.3 945.0L322.2 943.0L325.1 942.6zM329.3 935.9L330.6 938.5L333.5 938.9L331.4 941.0L331.9 943.8L329.3 942.5L326.7 943.8L327.2 941.0L325.1 938.9L328.0 938.5zM332.1 931.7L333.4 934.4L336.3 934.8L334.2 936.8L334.7 939.7L332.1 938.3L329.5 939.7L330.0 936.8L327.9 934.8L330.8 934.4zM334.8 927.5L336.1 930.1L338.9 930.6L336.9 932.6L337.3 935.5L334.8 934.1L332.2 935.5L332.7 932.6L330.6 930.6L333.5 930.1zM337.4 923.3L338.7 925.9L341.6 926.3L339.5 928.3L340.0 931.2L337.4 929.9L334.8 931.2L335.3 928.3L333.2 926.3L336.1 925.9zM339.9 919.0L341.2 921.6L344.1 922.0L342.0 924.0L342.5 926.9L339.9 925.6L337.3 926.9L337.8 924.0L335.7 922.0L338.6 921.6zM342.4 914.6L343.7 917.2L346.6 917.7L344.5 919.7L345.0 922.6L342.4 921.2L339.8 922.6L340.3 919.7L338.2 917.7L341.1 917.2zM344.9 910.3L346.2 912.9L349.1 913.3L347.0 915.4L347.5 918.2L344.9 916.9L342.3 918.2L342.8 915.4L340.7 913.3L343.6 912.9zM347.3 905.9L348.6 908.5L351.5 908.9L349.4 911.0L349.9 913.9L347.3 912.5L344.7 913.9L345.2 911.0L343.1 908.9L346.0 908.5zM349.7 901.5L351.0 904.1L353.9 904.5L351.8 906.6L352.3 909.5L349.7 908.1L347.1 909.5L347.6 906.6L345.5 904.5L348.4 904.1zM352.0 897.1L353.3 899.7L356.2 900.1L354.1 902.1L354.6 905.0L352.0 903.7L349.4 905.0L349.9 902.1L347.8 900.1L350.7 899.7zM354.1 892.6L355.4 895.2L358.3 895.6L356.2 897.6L356.7 900.5L354.1 899.2L351.6 900.5L352.1 897.6L350.0 895.6L352.9 895.2zM356.2 888.0L357.5 890.6L360.4 891.0L358.3 893.1L358.8 896.0L356.2 894.6L353.6 896.0L354.1 893.1L352.0 891.0L354.9 890.6zM358.1 883.4L359.4 886.0L362.3 886.4L360.2 888.5L360.7 891.3L358.1 890.0L355.5 891.3L356.0 888.5L353.9 886.4L356.8 886.0zM359.9 878.7L361.2 881.3L364.1 881.7L362.0 883.8L362.5 886.7L359.9 885.3L357.3 886.7L357.8 883.8L355.7 881.7L358.6 881.3zM361.6 874.0L362.9 876.6L365.8 877.0L363.7 879.1L364.2 882.0L361.6 880.6L359.0 882.0L359.5 879.1L357.4 877.0L360.3 876.6zM363.3 869.3L364.6 871.9L367.5 872.4L365.4 874.4L365.9 877.3L363.3 875.9L360.8 877.3L361.2 874.4L359.2 872.4L362.0 871.9zM365.2 864.7L366.5 867.3L369.3 867.7L367.3 869.7L367.8 872.6L365.2 871.3L362.6 872.6L363.1 869.7L361.0 867.7L363.9 867.3zM367.0 860.0L368.3 862.6L371.2 863.1L369.1 865.1L369.6 868.0L367.0 866.6L364.4 868.0L364.9 865.1L362.8 863.1L365.7 862.6zM368.9 855.4L370.2 858.0L373.1 858.4L371.0 860.5L371.5 863.4L368.9 862.0L366.3 863.4L366.8 860.5L364.7 858.4L367.6 858.0zM370.8 850.8L372.1 853.4L375.0 853.8L372.9 855.8L373.4 858.7L370.8 857.4L368.2 858.7L368.7 855.8L366.6 853.8L369.5 853.4zM372.7 846.2L374.0 848.8L376.9 849.2L374.8 851.2L375.3 854.1L372.7 852.8L370.1 854.1L370.6 851.2L368.5 849.2L371.4 848.8zM374.6 841.5L375.9 844.2L378.8 844.6L376.7 846.6L377.2 849.5L374.6 848.1L372.1 849.5L372.6 846.6L370.5 844.6L373.4 844.2zM376.6 836.9L377.8 839.5L380.7 839.9L378.6 842.0L379.1 844.9L376.6 843.5L374.0 844.9L374.5 842.0L372.4 839.9L375.3 839.5zM378.4 832.3L379.7 834.9L382.6 835.3L380.5 837.4L381.0 840.2L378.4 838.9L375.9 840.2L376.4 837.4L374.3 835.3L377.2 834.9zM380.4 827.7L381.6 830.3L384.5 830.7L382.4 832.7L382.9 835.6L380.4 834.3L377.8 835.6L378.3 832.7L376.2 830.7L379.1 830.3zM382.3 823.0L383.5 825.7L386.4 826.1L384.3 828.1L384.8 831.0L382.3 829.6L379.7 831.0L380.2 828.1L378.1 826.1L381.0 825.7zM384.2 818.4L385.5 821.0L388.3 821.5L386.3 823.5L386.7 826.4L384.2 825.0L381.6 826.4L382.1 823.5L380.0 821.5L382.9 821.0zM386.1 813.8L387.4 816.4L390.2 816.8L388.2 818.9L388.6 821.7L386.1 820.4L383.5 821.7L384.0 818.9L381.9 816.8L384.8 816.4zM387.9 809.2L389.2 811.8L392.1 812.2L390.0 814.2L390.5 817.1L387.9 815.8L385.4 817.1L385.9 814.2L383.8 812.2L386.7 811.8zM389.8 804.5L391.1 807.1L394.0 807.6L391.9 809.6L392.4 812.5L389.8 811.1L387.2 812.5L387.7 809.6L385.6 807.6L388.5 807.1zM391.7 799.9L393.0 802.5L395.9 802.9L393.8 805.0L394.3 807.8L391.7 806.5L389.1 807.8L389.6 805.0L387.5 802.9L390.4 802.5zM393.6 795.3L394.9 797.9L397.8 798.3L395.7 800.4L396.2 803.2L393.6 801.9L391.0 803.2L391.5 800.4L389.4 798.3L392.3 797.9zM395.6 790.7L396.8 793.3L399.7 793.7L397.6 795.7L398.1 798.6L395.6 797.3L393.0 798.6L393.5 795.7L391.4 793.7L394.3 793.3zM397.4 786.0L398.7 788.6L401.6 789.1L399.5 791.1L400.0 794.0L397.4 792.6L394.8 794.0L395.3 791.1L393.2 789.1L396.1 788.6zM399.1 781.3L400.4 783.9L403.3 784.4L401.2 786.4L401.7 789.3L399.1 787.9L396.6 789.3L397.0 786.4L395.0 784.4L397.8 783.9zM400.7 776.6L402.0 779.2L404.9 779.6L402.8 781.7L403.3 784.5L400.7 783.2L398.1 784.5L398.6 781.7L396.5 779.6L399.4 779.2zM402.0 771.8L403.3 774.4L406.2 774.8L404.1 776.8L404.6 779.7L402.0 778.4L399.4 779.7L399.9 776.8L397.8 774.8L400.7 774.4zM403.3 766.9L404.5 769.5L407.4 769.9L405.3 772.0L405.8 774.9L403.3 773.5L400.7 774.9L401.2 772.0L399.1 769.9L402.0 769.5zM404.5 762.1L405.8 764.7L408.7 765.1L406.6 767.1L407.1 770.0L404.5 768.7L401.9 770.0L402.4 767.1L400.3 765.1L403.2 764.7zM405.8 757.2L407.1 759.9L410.0 760.3L407.9 762.3L408.4 765.2L405.8 763.8L403.2 765.2L403.7 762.3L401.6 760.3L404.5 759.9zM407.3 752.5L408.6 755.1L411.5 755.5L409.4 757.6L409.9 760.4L407.3 759.1L404.7 760.4L405.2 757.6L403.1 755.5L406.0 755.1zM408.9 747.7L410.2 750.3L413.1 750.8L411.0 752.8L411.5 755.7L408.9 754.3L406.3 755.7L406.8 752.8L404.7 750.8L407.6 750.3zM410.5 743.0L411.8 745.6L414.7 746.0L412.6 748.1L413.1 751.0L410.5 749.6L407.9 751.0L408.4 748.1L406.3 746.0L409.2 745.6zM412.1 738.3L413.4 740.9L416.3 741.3L414.2 743.4L414.7 746.2L412.1 744.9L409.6 746.2L410.0 743.4L408.0 741.3L410.8 740.9zM413.7 733.5L415.0 736.2L417.9 736.6L415.8 738.6L416.3 741.5L413.7 740.1L411.1 741.5L411.6 738.6L409.5 736.6L412.4 736.2zM415.3 728.8L416.6 731.4L419.5 731.8L417.4 733.9L417.9 736.8L415.3 735.4L412.7 736.8L413.2 733.9L411.1 731.8L414.0 731.4zM416.9 724.1L418.2 726.7L421.1 727.1L419.0 729.1L419.5 732.0L416.9 730.7L414.3 732.0L414.8 729.1L412.7 727.1L415.6 726.7zM418.5 719.3L419.8 721.9L422.7 722.4L420.6 724.4L421.1 727.3L418.5 725.9L415.9 727.3L416.4 724.4L414.3 722.4L417.2 721.9zM420.0 714.5L421.3 717.2L424.2 717.6L422.1 719.6L422.6 722.5L420.0 721.1L417.4 722.5L417.9 719.6L415.8 717.6L418.7 717.2zM421.3 709.7L422.6 712.3L425.5 712.8L423.4 714.8L423.9 717.7L421.3 716.3L418.7 717.7L419.2 714.8L417.1 712.8L420.0 712.3zM422.6 704.9L423.9 707.5L426.8 707.9L424.7 710.0L425.2 712.8L422.6 711.5L420.0 712.8L420.5 710.0L418.4 707.9L421.3 707.5zM424.0 700.1L425.3 702.7L428.1 703.1L426.1 705.2L426.5 708.0L424.0 706.7L421.4 708.0L421.9 705.2L419.8 703.1L422.7 702.7zM425.8 695.5L427.1 698.1L430.0 698.5L427.9 700.5L428.4 703.4L425.8 702.1L423.3 703.4L423.8 700.5L421.7 698.5L424.6 698.1zM429.4 692.0L430.7 694.6L433.5 695.0L431.5 697.0L431.9 699.9L429.4 698.6L426.8 699.9L427.3 697.0L425.2 695.0L428.1 694.6zM433.8 689.7L435.1 692.3L438.0 692.8L435.9 694.8L436.4 697.7L433.8 696.3L431.2 697.7L431.7 694.8L429.6 692.8L432.5 692.3zM438.6 690.6L439.9 693.2L442.8 693.6L440.7 695.7L441.2 698.6L438.6 697.2L436.0 698.6L436.5 695.7L434.4 693.6L437.3 693.2zM442.5 693.7L443.8 696.3L446.7 696.7L444.6 698.8L445.1 701.6L442.5 700.3L439.9 701.6L440.4 698.8L438.3 696.7L441.2 696.3zM444.7 698.1L446.0 700.7L448.9 701.1L446.8 703.2L447.3 706.0L444.7 704.7L442.1 706.0L442.6 703.2L440.5 701.1L443.4 700.7zM445.8 703.0L447.1 705.6L449.9 706.0L447.9 708.0L448.3 710.9L445.8 709.6L443.2 710.9L443.7 708.0L441.6 706.0L444.5 705.6zM446.7 707.9L448.0 710.5L450.9 710.9L448.8 713.0L449.3 715.8L446.7 714.5L444.1 715.8L444.6 713.0L442.5 710.9L445.4 710.5zM447.6 712.8L448.9 715.4L451.8 715.8L449.7 717.9L450.2 720.8L447.6 719.4L445.0 720.8L445.5 717.9L443.4 715.8L446.3 715.4zM448.6 717.7L449.9 720.3L452.8 720.7L450.7 722.8L451.2 725.7L448.6 724.3L446.0 725.7L446.5 722.8L444.4 720.7L447.3 720.3zM449.6 722.6L450.9 725.2L453.8 725.6L451.7 727.7L452.2 730.6L449.6 729.2L447.0 730.6L447.5 727.7L445.4 725.6L448.3 725.2zM450.6 727.5L451.9 730.1L454.8 730.5L452.7 732.6L453.2 735.5L450.6 734.1L448.0 735.5L448.5 732.6L446.4 730.5L449.3 730.1zM451.6 732.4L452.9 735.0L455.8 735.4L453.7 737.5L454.2 740.4L451.6 739.0L449.0 740.4L449.5 737.5L447.4 735.4L450.3 735.0zM452.6 737.3L453.9 739.9L456.7 740.3L454.7 742.4L455.2 745.3L452.6 743.9L450.0 745.3L450.5 742.4L448.4 740.3L451.3 739.9zM453.6 742.2L454.9 744.8L457.8 745.2L455.7 747.3L456.2 750.2L453.6 748.8L451.0 750.2L451.5 747.3L449.4 745.2L452.3 744.8zM454.7 747.1L455.9 749.7L458.8 750.1L456.7 752.2L457.2 755.0L454.7 753.7L452.1 755.0L452.6 752.2L450.5 750.1L453.4 749.7zM455.8 751.9L457.1 754.6L460.0 755.0L457.9 757.0L458.4 759.9L455.8 758.5L453.2 759.9L453.7 757.0L451.6 755.0L454.5 754.6zM457.2 756.8L458.5 759.4L461.4 759.8L459.3 761.8L459.8 764.7L457.2 763.4L454.6 764.7L455.1 761.8L453.0 759.8L455.9 759.4zM458.6 761.5L459.9 764.1L462.8 764.6L460.7 766.6L461.2 769.5L458.6 768.1L456.1 769.5L456.6 766.6L454.5 764.6L457.4 764.1zM460.2 766.3L461.5 768.9L464.4 769.3L462.3 771.4L462.8 774.2L460.2 772.9L457.6 774.2L458.1 771.4L456.0 769.3L458.9 768.9zM461.9 771.0L463.2 773.6L466.1 774.0L464.0 776.1L464.5 778.9L461.9 777.6L459.3 778.9L459.8 776.1L457.7 774.0L460.6 773.6zM463.7 775.7L465.0 778.3L467.8 778.7L465.8 780.7L466.3 783.6L463.7 782.3L461.1 783.6L461.6 780.7L459.5 778.7L462.4 778.3zM465.4 780.3L466.7 783.0L469.6 783.4L467.5 785.4L468.0 788.3L465.4 786.9L462.9 788.3L463.4 785.4L461.3 783.4L464.2 783.0zM467.2 785.0L468.5 787.6L471.4 788.1L469.3 790.1L469.8 793.0L467.2 791.6L464.6 793.0L465.1 790.1L463.0 788.1L465.9 787.6zM469.0 789.7L470.3 792.3L473.2 792.7L471.1 794.8L471.6 797.7L469.0 796.3L466.4 797.7L466.9 794.8L464.8 792.7L467.7 792.3zM470.8 794.4L472.1 797.0L475.0 797.4L472.9 799.4L473.4 802.3L470.8 801.0L468.2 802.3L468.7 799.4L466.6 797.4L469.5 797.0zM472.6 799.0L473.9 801.6L476.8 802.1L474.7 804.1L475.2 807.0L472.6 805.6L470.0 807.0L470.5 804.1L468.4 802.1L471.3 801.6zM474.5 803.7L475.8 806.3L478.6 806.7L476.6 808.7L477.0 811.6L474.5 810.3L471.9 811.6L472.4 808.7L470.3 806.7L473.2 806.3zM476.3 808.3L477.6 810.9L480.5 811.3L478.4 813.4L478.9 816.2L476.3 814.9L473.7 816.2L474.2 813.4L472.1 811.3L475.0 810.9zM478.2 812.9L479.5 815.5L482.4 816.0L480.3 818.0L480.8 820.9L478.2 819.5L475.6 820.9L476.1 818.0L474.0 816.0L476.9 815.5zM480.1 817.6L481.4 820.2L484.3 820.6L482.2 822.6L482.7 825.5L480.1 824.2L477.5 825.5L478.0 822.6L475.9 820.6L478.8 820.2zM482.0 822.2L483.3 824.8L486.1 825.2L484.1 827.3L484.5 830.2L482.0 828.8L479.4 830.2L479.9 827.3L477.8 825.2L480.7 824.8zM483.8 826.8L485.1 829.4L488.0 829.9L485.9 831.9L486.4 834.8L483.8 833.4L481.2 834.8L481.7 831.9L479.6 829.9L482.5 829.4zM485.7 831.5L487.0 834.1L489.9 834.5L487.8 836.5L488.3 839.4L485.7 838.1L483.1 839.4L483.6 836.5L481.5 834.5L484.4 834.1zM487.7 836.1L488.9 838.7L491.8 839.1L489.7 841.1L490.2 844.0L487.7 842.7L485.1 844.0L485.6 841.1L483.5 839.1L486.4 838.7zM489.7 840.7L490.9 843.3L493.8 843.7L491.7 845.7L492.2 848.6L489.7 847.3L487.1 848.6L487.6 845.7L485.5 843.7L488.4 843.3zM491.7 845.2L493.0 847.8L495.9 848.2L493.8 850.3L494.3 853.2L491.7 851.8L489.2 853.2L489.7 850.3L487.6 848.2L490.5 847.8zM494.0 849.7L495.3 852.3L498.2 852.7L496.1 854.7L496.6 857.6L494.0 856.3L491.4 857.6L491.9 854.7L489.8 852.7L492.7 852.3zM496.3 854.1L497.6 856.7L500.5 857.1L498.4 859.2L498.9 862.0L496.3 860.7L493.8 862.0L494.2 859.2L492.2 857.1L495.0 856.7zM498.8 858.4L500.1 861.1L503.0 861.5L500.9 863.5L501.4 866.4L498.8 865.0L496.2 866.4L496.7 863.5L494.6 861.5L497.5 861.1zM501.2 862.8L502.5 865.4L505.4 865.9L503.3 867.9L503.8 870.8L501.2 869.4L498.6 870.8L499.1 867.9L497.0 865.9L499.9 865.4zM503.6 867.2L504.8 869.8L507.7 870.3L505.6 872.3L506.1 875.2L503.6 873.8L501.0 875.2L501.5 872.3L499.4 870.3L502.3 869.8zM505.8 871.7L507.1 874.3L510.0 874.7L507.9 876.8L508.4 879.7L505.8 878.3L503.2 879.7L503.7 876.8L501.6 874.7L504.5 874.3zM507.9 876.2L509.2 878.9L512.1 879.3L510.0 881.3L510.5 884.2L507.9 882.8L505.3 884.2L505.8 881.3L503.7 879.3L506.6 878.9zM510.0 880.8L511.3 883.4L514.2 883.8L512.1 885.9L512.6 888.7L510.0 887.4L507.4 888.7L507.9 885.9L505.8 883.8L508.7 883.4zM512.1 885.3L513.4 887.9L516.3 888.3L514.2 890.4L514.7 893.3L512.1 891.9L509.5 893.3L510.0 890.4L507.9 888.3L510.8 887.9zM514.5 889.7L515.8 892.3L518.6 892.8L516.6 894.8L517.1 897.7L514.5 896.3L511.9 897.7L512.4 894.8L510.3 892.8L513.2 892.3zM517.1 893.9L518.4 896.6L521.3 897.0L519.2 899.0L519.7 901.9L517.1 900.5L514.6 901.9L515.0 899.0L513.0 897.0L515.8 896.6zM520.1 898.0L521.4 900.6L524.3 901.0L522.2 903.1L522.7 905.9L520.1 904.6L517.5 905.9L518.0 903.1L515.9 901.0L518.8 900.6zM523.0 902.1L524.3 904.7L527.2 905.1L525.1 907.1L525.6 910.0L523.0 908.7L520.4 910.0L520.9 907.1L518.8 905.1L521.7 904.7zM525.7 906.2L527.0 908.8L529.9 909.3L527.8 911.3L528.3 914.2L525.7 912.8L523.2 914.2L523.7 911.3L521.6 909.3L524.5 908.8zM528.5 910.4L529.8 913.0L532.6 913.5L530.6 915.5L531.1 918.4L528.5 917.0L525.9 918.4L526.4 915.5L524.3 913.5L527.2 913.0zM531.2 914.6L532.5 917.2L535.4 917.7L533.3 919.7L533.8 922.6L531.2 921.2L528.6 922.6L529.1 919.7L527.0 917.7L529.9 917.2zM533.9 918.8L535.2 921.4L538.1 921.8L536.0 923.9L536.5 926.7L533.9 925.4L531.3 926.7L531.8 923.9L529.8 921.8L532.6 921.4zM536.8 922.9L538.1 925.5L541.0 925.9L538.9 928.0L539.4 930.8L536.8 929.5L534.2 930.8L534.7 928.0L532.6 925.9L535.5 925.5zM539.8 926.9L541.1 929.5L544.0 929.9L541.9 932.0L542.4 934.8L539.8 933.5L537.2 934.8L537.7 932.0L535.6 929.9L538.5 929.5zM542.9 930.8L544.2 933.4L547.1 933.9L545.0 935.9L545.5 938.8L542.9 937.4L540.3 938.8L540.8 935.9L538.7 933.9L541.6 933.4zM546.1 934.7L547.3 937.3L550.2 937.7L548.1 939.8L548.6 942.6L546.1 941.3L543.5 942.6L544.0 939.8L541.9 937.7L544.8 937.3zM549.3 938.5L550.6 941.1L553.5 941.5L551.4 943.6L551.9 946.4L549.3 945.1L546.7 946.4L547.2 943.6L545.1 941.5L548.0 941.1zM552.6 942.2L553.9 944.8L556.8 945.2L554.7 947.3L555.2 950.2L552.6 948.8L550.1 950.2L550.6 947.3L548.5 945.2L551.4 944.8zM556.1 945.8L557.4 948.5L560.3 948.9L558.2 950.9L558.7 953.8L556.1 952.4L553.5 953.8L554.0 950.9L551.9 948.9L554.8 948.5zM559.6 949.4L560.9 952.0L563.8 952.4L561.7 954.5L562.2 957.3L559.6 956.0L557.0 957.3L557.5 954.5L555.4 952.4L558.3 952.0zM563.2 952.8L564.5 955.5L567.4 955.9L565.3 957.9L565.8 960.8L563.2 959.4L560.6 960.8L561.1 957.9L559.0 955.9L561.9 955.5zM566.8 956.3L568.1 958.9L571.0 959.4L568.9 961.4L569.4 964.3L566.8 962.9L564.2 964.3L564.7 961.4L562.6 959.4L565.5 958.9zM570.3 959.9L571.6 962.5L574.5 962.9L572.4 964.9L572.9 967.8L570.3 966.5L567.8 967.8L568.3 964.9L566.2 962.9L569.1 962.5zM573.9 963.4L575.2 966.0L578.0 966.5L575.9 968.5L576.4 971.4L573.9 970.0L571.3 971.4L571.8 968.5L569.7 966.5L572.6 966.0zM577.4 967.0L578.7 969.6L581.6 970.0L579.5 972.0L580.0 974.9L577.4 973.6L574.8 974.9L575.3 972.0L573.2 970.0L576.1 969.6zM580.9 970.5L582.2 973.1L585.1 973.5L583.0 975.6L583.5 978.5L580.9 977.1L578.3 978.5L578.8 975.6L576.7 973.5L579.6 973.1zM584.5 974.0L585.8 976.6L588.7 977.0L586.6 979.0L587.1 981.9L584.5 980.6L581.9 981.9L582.4 979.0L580.3 977.0L583.2 976.6zM588.1 977.4L589.4 980.0L592.3 980.5L590.2 982.5L590.7 985.4L588.1 984.0L585.5 985.4L586.0 982.5L583.9 980.5L586.8 980.0zM591.8 980.8L593.1 983.5L596.0 983.9L593.9 985.9L594.4 988.8L591.8 987.4L589.2 988.8L589.7 985.9L587.6 983.9L590.5 983.5zM595.5 984.2L596.8 986.8L599.7 987.2L597.6 989.3L598.1 992.1L595.5 990.8L592.9 992.1L593.4 989.3L591.3 987.2L594.2 986.8zM599.4 987.3L600.7 990.0L603.6 990.4L601.5 992.4L602.0 995.3L599.4 993.9L596.8 995.3L597.3 992.4L595.2 990.4L598.1 990.0zM603.4 990.3L604.7 992.9L607.6 993.4L605.5 995.4L606.0 998.3L603.4 996.9L600.8 998.3L601.3 995.4L599.2 993.4L602.1 992.9zM607.5 993.2L608.8 995.8L611.7 996.2L609.6 998.3L610.1 1001.1L607.5 999.8L604.9 1001.1L605.4 998.3L603.3 996.2L606.2 995.8zM611.7 995.9L613.0 998.5L615.9 999.0L613.8 1001.0L614.3 1003.9L611.7 1002.5L609.1 1003.9L609.6 1001.0L607.5 999.0L610.4 998.5zM615.9 998.6L617.2 1001.3L620.1 1001.7L618.0 1003.7L618.5 1006.6L615.9 1005.2L613.3 1006.6L613.8 1003.7L611.7 1001.7L614.6 1001.3zM620.1 1001.3L621.4 1003.9L624.3 1004.3L622.2 1006.4L622.7 1009.2L620.1 1007.9L617.5 1009.2L618.0 1006.4L615.9 1004.3L618.8 1003.9zM624.4 1003.9L625.7 1006.5L628.6 1006.9L626.5 1008.9L627.0 1011.8L624.4 1010.5L621.8 1011.8L622.3 1008.9L620.2 1006.9L623.1 1006.5zM628.7 1006.4L630.0 1009.0L632.9 1009.4L630.8 1011.4L631.3 1014.3L628.7 1013.0L626.1 1014.3L626.6 1011.4L624.5 1009.4L627.4 1009.0zM633.1 1008.8L634.4 1011.4L637.3 1011.9L635.2 1013.9L635.7 1016.8L633.1 1015.4L630.5 1016.8L631.0 1013.9L628.9 1011.9L631.8 1011.4zM637.4 1011.2L638.7 1013.9L641.6 1014.3L639.5 1016.3L640.0 1019.2L637.4 1017.8L634.9 1019.2L635.4 1016.3L633.3 1014.3L636.2 1013.9zM641.9 1013.6L643.1 1016.2L646.0 1016.7L643.9 1018.7L644.4 1021.6L641.9 1020.2L639.3 1021.6L639.8 1018.7L637.7 1016.7L640.6 1016.2zM646.3 1015.9L647.6 1018.6L650.5 1019.0L648.4 1021.0L648.9 1023.9L646.3 1022.5L643.7 1023.9L644.2 1021.0L642.1 1019.0L645.0 1018.6zM650.7 1018.2L652.0 1020.8L654.9 1021.2L652.8 1023.3L653.3 1026.1L650.7 1024.8L648.2 1026.1L648.7 1023.3L646.6 1021.2L649.5 1020.8z" fill="#808000"/>
<polyline points="218.1,1028.6 219.2,1027.9 220.3,1027.3 221.4,1026.6 222.5,1026.0 223.6,1025.4 224.7,1024.7 225.8,1024.1 226.9,1023.5 228.0,1022.8 229.1,1022.2 230.3,1021.6 231.4,1021.0 232.5,1020.3 233.6,1019.7 234.7,1019.1 235.8,1018.5 236.9,1017.9 238.0,1017.3 239.1,1016.7 240.2,1016.1 241.3,1015.5 242.4,1014.9 243.5,1014.3 244.6,1013.7 245.7,1013.2 246.8,1012.6 247.9,1012.0 249.0,1011.5 250.1,1010.9 251.2,1010.3 252.3,1009.7 253.5,1009.2 254.6,1008.6 255.7,1008.0 256.8,1007.4 257.9,1006.7 259.0,1006.1 260.1,1005.5 261.2,1004.8 262.3,1004.2 263.4,1003.5 264.5,1002.8 265.6,1002.1 266.7,1001.4 267.8,1000.7 268.9,1000.0 270.0,999.3 271.1,998.5 272.2,997.8 273.3,997.1 274.4,996.3 275.5,995.6 276.7,994.8 277.8,994.0 278.9,993.2 280.0,992.5 281.1,991.7 282.2,990.9 283.3,990.1 284.4,989.3 285.5,988.5 286.6,987.7 287.7,986.8 288.8,986.0 289.9,985.2 291.0,984.4 292.1,983.5 293.2,982.7 294.3,981.8 295.4,980.9 296.5,980.1 297.6,979.2 298.7,978.3 299.9,977.4 301.0,976.4 302.1,975.5 303.2,974.5 304.3,973.6 305.4,972.6 306.5,971.6 307.6,970.6 308.7,969.6 309.8,968.5 310.9,967.5 312.0,966.4 313.1,965.3 314.2,964.3 315.3,963.2 316.4,962.0 317.5,960.9 318.6,959.7 319.7,958.5 320.8,957.3 321.9,956.1 323.1,954.9 324.2,953.6 325.3,952.3 326.4,951.0 327.5,949.6 328.6,948.3 329.7,946.9 330.8,945.4 331.9,943.9 333.0,942.4 334.1,940.8 335.2,939.2 336.3,937.6 337.4,935.9 338.5,934.2 339.6,932.5 340.7,930.7 341.8,928.9 342.9,927.0 344.0,925.2 345.1,923.3 346.3,921.4 347.4,919.5 348.5,917.5 349.6,915.6 350.7,913.6 351.8,911.6 352.9,909.6 354.0,907.6 355.1,905.5 356.2,903.4 357.3,901.2 358.4,898.9 359.5,896.6 360.6,894.2 361.7,891.7 362.8,889.0 363.9,886.2 365.0,883.2 366.1,880.2 367.2,877.2 368.3,874.2 369.5,871.4 370.6,868.6 371.7,865.8 372.8,863.1 373.9,860.4 375.0,857.7 376.1,855.0 377.2,852.4 378.3,849.7 379.4,847.0 380.5,844.3 381.6,841.7 382.7,839.0 383.8,836.3 384.9,833.6 386.0,830.9 387.1,828.2 388.2,825.5 389.3,822.9 390.4,820.2 391.5,817.5 392.7,814.8 393.8,812.1 394.9,809.3 396.0,806.6 397.1,803.9 398.2,801.2 399.3,798.6 400.4,796.0 401.5,793.3 402.6,790.5 403.7,787.5 404.8,784.4 405.9,781.0 407.0,777.0 408.1,772.7 409.2,768.2 410.3,764.0 411.4,760.2 412.5,756.8 413.6,753.4 414.7,750.2 415.9,747.0 417.0,743.8 418.1,740.5 419.2,737.2 420.3,734.0 421.4,730.7 422.5,727.4 423.6,724.1 424.7,720.7 425.8,716.9 426.9,712.7 428.0,708.5 429.1,704.6 430.2,701.5 431.3,699.3 432.4,698.2 433.5,697.2 434.6,696.3 435.7,695.5 436.8,694.9 437.9,694.4 439.1,694.1 440.2,694.0 441.3,694.1 442.4,694.4 443.5,694.8 444.6,695.4 445.7,696.2 446.8,697.1 447.9,698.2 449.0,699.6 450.1,703.2 451.2,708.6 452.3,714.7 453.4,720.4 454.5,725.6 455.6,731.0 456.7,736.5 457.8,742.0 458.9,747.3 460.0,752.3 461.1,756.8 462.3,760.7 463.4,764.4 464.5,767.8 465.6,771.1 466.7,774.2 467.8,777.2 468.9,780.1 470.0,783.0 471.1,785.9 472.2,788.9 473.3,791.8 474.4,794.7 475.5,797.6 476.6,800.4 477.7,803.2 478.8,806.0 479.9,808.7 481.0,811.5 482.1,814.2 483.2,816.9 484.3,819.6 485.5,822.3 486.6,825.1 487.7,827.8 488.8,830.6 489.9,833.3 491.0,836.0 492.1,838.6 493.2,841.2 494.3,843.8 495.4,846.3 496.5,848.7 497.6,851.0 498.7,853.2 499.8,855.3 500.9,857.3 502.0,859.4 503.1,861.3 504.2,863.3 505.3,865.3 506.4,867.3 507.5,869.3 508.7,871.4 509.8,873.6 510.9,875.9 512.0,878.2 513.1,880.6 514.2,883.0 515.3,885.4 516.4,887.8 517.5,890.0 518.6,892.2 519.7,894.2 520.8,896.0 521.9,897.7 523.0,899.3 524.1,900.8 525.2,902.3 526.3,903.8 527.4,905.4 528.5,907.0 529.6,908.6 530.7,910.3 531.9,912.0 533.0,913.7 534.1,915.4 535.2,917.1 536.3,918.9 537.4,920.5 538.5,922.2 539.6,923.9 540.7,925.5 541.8,927.0 542.9,928.5 544.0,930.0 545.1,931.4 546.2,932.9 547.3,934.3 548.4,935.6 549.5,937.0 550.6,938.3 551.7,939.7 552.8,941.0 553.9,942.2 555.1,943.5 556.2,944.7 557.3,946.0 558.4,947.2 559.5,948.4 560.6,949.5 561.7,950.7 562.8,951.8 563.9,952.9 565.0,953.9 566.1,955.0 567.2,956.1 568.3,957.2 569.4,958.2 570.5,959.3 571.6,960.4 572.7,961.4 573.8,962.5 574.9,963.6 576.0,964.8 577.1,965.9 578.3,967.0 579.4,968.1 580.5,969.2 581.6,970.4 582.7,971.5 583.8,972.6 584.9,973.7 586.0,974.8 587.1,975.9 588.2,976.9 589.3,978.0 590.4,979.0 591.5,980.1 592.6,981.1 593.7,982.2 594.8,983.2 595.9,984.3 597.0,985.3 598.1,986.3 599.2,987.3 600.3,988.3 601.5,989.2 602.6,990.1 603.7,991.0 604.8,991.9 605.9,992.7 607.0,993.6 608.1,994.4 609.2,995.2 610.3,995.9 611.4,996.7 612.5,997.4 613.6,998.2 614.7,998.9 615.8,999.6 616.9,1000.4 618.0,1001.1 619.1,1001.8 620.2,1002.5 621.3,1003.2 622.4,1003.9 623.5,1004.6 624.7,1005.3 625.8,1006.0 626.9,1006.6 628.0,1007.3 629.1,1007.9 630.2,1008.6 631.3,1009.2 632.4,1009.9 633.5,1010.5 634.6,1011.2 635.7,1011.8 636.8,1012.4 637.9,1013.0 639.0,1013.6 640.1,1014.3 641.2,1014.9 642.3,1015.5 643.4,1016.1 644.5,1016.7 645.6,1017.3 646.7,1017.9 647.9,1018.4 649.0,1019.0 650.1,1019.6 651.2,1020.2 652.3,1020.7 653.4,1021.3 654.5,1021.9 655.6,1022.4 656.7,1023.0" fill="none" stroke="#808000" stroke-width="1.5" stroke-linejoin="round" stroke-linecap="round"/>
<path d="M218.1 1024.2L219.4 1026.8L222.3 1027.2L220.2 1029.3L220.7 1032.1L218.1 1030.8L215.5 1032.1L216.0 1029.3L213.9 1027.2L216.8 1026.8zM222.4 1021.7L223.7 1024.3L226.6 1024.7L224.5 1026.7L225.0 1029.6L222.4 1028.3L219.8 1029.6L220.3 1026.7L218.2 1024.7L221.1 1024.3zM226.8 1019.2L228.1 1021.8L230.9 1022.2L228.8 1024.3L229.3 1027.1L226.8 1025.8L224.2 1027.1L224.7 1024.3L222.6 1022.2L225.5 1021.8zM231.1 1016.7L232.4 1019.3L235.3 1019.7L233.2 1021.8L233.7 1024.7L231.1 1023.3L228.5 1024.7L229.0 1021.8L226.9 1019.7L229.8 1019.3zM235.5 1014.3L236.8 1016.9L239.7 1017.3L237.6 1019.3L238.1 1022.2L235.5 1020.9L232.9 1022.2L233.4 1019.3L231.3 1017.3L234.2 1016.9zM239.8 1011.8L241.1 1014.5L244.0 1014.9L241.9 1016.9L242.4 1019.8L239.8 1018.4L237.3 1019.8L237.8 1016.9L235.7 1014.9L238.6 1014.5zM244.3 1009.5L245.6 1012.1L248.5 1012.6L246.4 1014.6L246.9 1017.5L244.3 1016.1L241.7 1017.5L242.2 1014.6L240.1 1012.6L243.0 1012.1zM248.7 1007.2L250.0 1009.8L252.9 1010.3L250.8 1012.3L251.3 1015.2L248.7 1013.8L246.1 1015.2L246.6 1012.3L244.5 1010.3L247.4 1009.8zM253.1 1004.9L254.4 1007.5L257.3 1008.0L255.2 1010.0L255.7 1012.9L253.1 1011.5L250.6 1012.9L251.1 1010.0L249.0 1008.0L251.9 1007.5zM257.5 1002.5L258.8 1005.2L261.7 1005.6L259.6 1007.6L260.1 1010.5L257.5 1009.1L255.0 1010.5L255.5 1007.6L253.4 1005.6L256.2 1005.2zM261.9 1000.0L263.2 1002.6L266.1 1003.1L264.0 1005.1L264.5 1008.0L261.9 1006.6L259.3 1008.0L259.8 1005.1L257.7 1003.1L260.6 1002.6zM266.1 997.4L267.4 1000.0L270.3 1000.4L268.2 1002.5L268.7 1005.4L266.1 1004.0L263.5 1005.4L264.0 1002.5L261.9 1000.4L264.8 1000.0zM270.3 994.7L271.6 997.3L274.5 997.7L272.4 999.8L272.9 1002.6L270.3 1001.3L267.7 1002.6L268.2 999.8L266.1 997.7L269.0 997.3zM274.5 991.9L275.8 994.5L278.7 994.9L276.6 997.0L277.1 999.9L274.5 998.5L271.9 999.9L272.4 997.0L270.3 994.9L273.2 994.5zM278.6 989.0L279.9 991.7L282.8 992.1L280.7 994.1L281.2 997.0L278.6 995.6L276.0 997.0L276.5 994.1L274.4 992.1L277.3 991.7zM282.6 986.1L283.9 988.8L286.8 989.2L284.7 991.2L285.2 994.1L282.6 992.7L280.1 994.1L280.6 991.2L278.5 989.2L281.4 988.8zM286.7 983.2L288.0 985.8L290.9 986.2L288.8 988.3L289.3 991.1L286.7 989.8L284.1 991.1L284.6 988.3L282.5 986.2L285.4 985.8zM290.7 980.2L292.0 982.8L294.9 983.2L292.8 985.3L293.3 988.2L290.7 986.8L288.1 988.2L288.6 985.3L286.5 983.2L289.4 982.8zM294.7 977.1L295.9 979.8L298.8 980.2L296.7 982.2L297.2 985.1L294.7 983.7L292.1 985.1L292.6 982.2L290.5 980.2L293.4 979.8zM298.6 974.0L299.9 976.6L302.7 977.1L300.7 979.1L301.1 982.0L298.6 980.6L296.0 982.0L296.5 979.1L294.4 977.1L297.3 976.6zM302.4 970.8L303.7 973.4L306.6 973.9L304.5 975.9L305.0 978.8L302.4 977.4L299.8 978.8L300.3 975.9L298.2 973.9L301.1 973.4zM306.1 967.5L307.4 970.1L310.3 970.5L308.2 972.6L308.7 975.5L306.1 974.1L303.6 975.5L304.0 972.6L302.0 970.5L304.8 970.1zM309.8 964.1L311.1 966.7L314.0 967.2L311.9 969.2L312.4 972.1L309.8 970.7L307.2 972.1L307.7 969.2L305.6 967.2L308.5 966.7zM313.4 960.6L314.7 963.3L317.6 963.7L315.5 965.7L316.0 968.6L313.4 967.2L310.8 968.6L311.3 965.7L309.2 963.7L312.1 963.3zM316.9 957.1L318.2 959.7L321.1 960.1L319.0 962.2L319.5 965.1L316.9 963.7L314.4 965.1L314.8 962.2L312.8 960.1L315.6 959.7zM320.4 953.5L321.7 956.1L324.6 956.5L322.5 958.5L323.0 961.4L320.4 960.1L317.8 961.4L318.3 958.5L316.2 956.5L319.1 956.1zM323.7 949.7L325.0 952.4L327.9 952.8L325.8 954.8L326.3 957.7L323.7 956.3L321.1 957.7L321.6 954.8L319.5 952.8L322.4 952.4zM326.9 945.9L328.2 948.5L331.1 949.0L329.0 951.0L329.5 953.9L326.9 952.5L324.3 953.9L324.8 951.0L322.7 949.0L325.6 948.5zM330.0 942.0L331.3 944.6L334.2 945.0L332.1 947.1L332.6 950.0L330.0 948.6L327.5 950.0L327.9 947.1L325.9 945.0L328.7 944.6zM333.0 938.0L334.3 940.6L337.2 941.0L335.1 943.1L335.6 945.9L333.0 944.6L330.4 945.9L330.9 943.1L328.8 941.0L331.7 940.6zM335.9 933.9L337.1 936.5L340.0 936.9L337.9 938.9L338.4 941.8L335.9 940.5L333.3 941.8L333.8 938.9L331.7 936.9L334.6 936.5zM338.6 929.7L339.9 932.3L342.8 932.7L340.7 934.8L341.2 937.6L338.6 936.3L336.0 937.6L336.5 934.8L334.4 932.7L337.3 932.3zM341.2 925.4L342.5 928.1L345.4 928.5L343.3 930.5L343.8 933.4L341.2 932.0L338.7 933.4L339.2 930.5L337.1 928.5L339.9 928.1zM343.8 921.2L345.1 923.8L348.0 924.2L345.9 926.2L346.4 929.1L343.8 927.8L341.2 929.1L341.7 926.2L339.6 924.2L342.5 923.8zM346.3 916.8L347.6 919.5L350.5 919.9L348.4 921.9L348.9 924.8L346.3 923.4L343.8 924.8L344.3 921.9L342.2 919.9L345.1 919.5zM348.8 912.5L350.1 915.1L353.0 915.5L350.9 917.6L351.4 920.5L348.8 919.1L346.2 920.5L346.7 917.6L344.6 915.5L347.5 915.1zM351.3 908.1L352.6 910.8L355.5 911.2L353.4 913.2L353.9 916.1L351.3 914.7L348.7 916.1L349.2 913.2L347.1 911.2L350.0 910.8zM353.7 903.8L355.0 906.4L357.9 906.8L355.8 908.8L356.3 911.7L353.7 910.4L351.1 911.7L351.6 908.8L349.5 906.8L352.4 906.4zM356.0 899.3L357.3 902.0L360.2 902.4L358.1 904.4L358.6 907.3L356.0 905.9L353.4 907.3L353.9 904.4L351.8 902.4L354.7 902.0zM358.2 894.9L359.5 897.5L362.4 897.9L360.3 899.9L360.8 902.8L358.2 901.5L355.7 902.8L356.2 899.9L354.1 897.9L357.0 897.5zM360.4 890.3L361.7 893.0L364.6 893.4L362.5 895.4L363.0 898.3L360.4 896.9L357.8 898.3L358.3 895.4L356.2 893.4L359.1 893.0zM362.4 885.7L363.6 888.4L366.5 888.8L364.4 890.8L364.9 893.7L362.4 892.3L359.8 893.7L360.3 890.8L358.2 888.8L361.1 888.4zM364.2 881.1L365.5 883.7L368.4 884.1L366.3 886.2L366.8 889.1L364.2 887.7L361.6 889.1L362.1 886.2L360.0 884.1L362.9 883.7zM365.9 876.4L367.2 879.0L370.1 879.4L368.0 881.5L368.5 884.4L365.9 883.0L363.3 884.4L363.8 881.5L361.7 879.4L364.6 879.0zM367.6 871.7L368.9 874.3L371.8 874.8L369.7 876.8L370.2 879.7L367.6 878.3L365.1 879.7L365.5 876.8L363.5 874.8L366.3 874.3zM369.4 867.0L370.7 869.7L373.6 870.1L371.5 872.1L372.0 875.0L369.4 873.6L366.8 875.0L367.3 872.1L365.2 870.1L368.1 869.7zM371.3 862.4L372.6 865.0L375.5 865.4L373.4 867.5L373.9 870.4L371.3 869.0L368.7 870.4L369.2 867.5L367.1 865.4L370.0 865.0zM373.1 857.8L374.4 860.4L377.3 860.8L375.2 862.8L375.7 865.7L373.1 864.4L370.6 865.7L371.1 862.8L369.0 860.8L371.9 860.4zM375.0 853.1L376.3 855.8L379.2 856.2L377.1 858.2L377.6 861.1L375.0 859.7L372.5 861.1L373.0 858.2L370.9 856.2L373.8 855.8zM377.0 848.5L378.2 851.1L381.1 851.6L379.0 853.6L379.5 856.5L377.0 855.1L374.4 856.5L374.9 853.6L372.8 851.6L375.7 851.1zM378.9 843.9L380.2 846.5L383.1 846.9L381.0 849.0L381.5 851.9L378.9 850.5L376.3 851.9L376.8 849.0L374.7 846.9L377.6 846.5zM380.8 839.3L382.1 841.9L385.0 842.3L382.9 844.4L383.4 847.2L380.8 845.9L378.2 847.2L378.7 844.4L376.6 842.3L379.5 841.9zM382.7 834.6L384.0 837.3L386.9 837.7L384.8 839.7L385.3 842.6L382.7 841.2L380.1 842.6L380.6 839.7L378.5 837.7L381.4 837.3zM384.6 830.0L385.9 832.6L388.8 833.1L386.7 835.1L387.2 838.0L384.6 836.6L382.0 838.0L382.5 835.1L380.4 833.1L383.3 832.6zM386.5 825.4L387.8 828.0L390.7 828.4L388.6 830.5L389.1 833.4L386.5 832.0L383.9 833.4L384.4 830.5L382.3 828.4L385.2 828.0zM388.4 820.8L389.7 823.4L392.6 823.8L390.5 825.9L391.0 828.7L388.4 827.4L385.8 828.7L386.3 825.9L384.2 823.8L387.1 823.4zM390.3 816.2L391.6 818.8L394.5 819.2L392.4 821.2L392.9 824.1L390.3 822.8L387.7 824.1L388.2 821.2L386.1 819.2L389.0 818.8zM392.2 811.5L393.5 814.1L396.4 814.6L394.3 816.6L394.8 819.5L392.2 818.1L389.6 819.5L390.1 816.6L388.0 814.6L390.9 814.1zM394.1 806.9L395.4 809.5L398.3 809.9L396.2 812.0L396.7 814.9L394.1 813.5L391.5 814.9L392.0 812.0L389.9 809.9L392.8 809.5zM395.9 802.3L397.2 804.9L400.1 805.3L398.0 807.3L398.5 810.2L395.9 808.9L393.4 810.2L393.8 807.3L391.8 805.3L394.6 804.9zM397.8 797.6L399.1 800.3L402.0 800.7L399.9 802.7L400.4 805.6L397.8 804.2L395.2 805.6L395.7 802.7L393.6 800.7L396.5 800.3zM399.8 793.0L401.1 795.6L404.0 796.1L401.9 798.1L402.4 801.0L399.8 799.6L397.2 801.0L397.7 798.1L395.6 796.1L398.5 795.6zM401.7 788.4L403.0 791.0L405.9 791.4L403.8 793.5L404.3 796.4L401.7 795.0L399.1 796.4L399.6 793.5L397.5 791.4L400.4 791.0zM403.5 783.7L404.8 786.4L407.7 786.8L405.6 788.8L406.1 791.7L403.5 790.3L400.9 791.7L401.4 788.8L399.3 786.8L402.2 786.4zM405.1 779.0L406.4 781.6L409.3 782.1L407.2 784.1L407.7 787.0L405.1 785.6L402.5 787.0L403.0 784.1L400.9 782.1L403.8 781.6zM406.6 774.2L407.9 776.8L410.7 777.3L408.7 779.3L409.2 782.2L406.6 780.8L404.0 782.2L404.5 779.3L402.4 777.3L405.3 776.8zM407.8 769.4L409.1 772.0L412.0 772.4L409.9 774.5L410.4 777.4L407.8 776.0L405.2 777.4L405.7 774.5L403.6 772.4L406.5 772.0zM409.0 764.5L410.3 767.2L413.2 767.6L411.1 769.6L411.6 772.5L409.0 771.1L406.5 772.5L407.0 769.6L404.9 767.6L407.8 767.2zM410.3 759.7L411.6 762.3L414.5 762.7L412.4 764.8L412.9 767.7L410.3 766.3L407.7 767.7L408.2 764.8L406.1 762.7L409.0 762.3zM411.7 754.9L413.0 757.5L415.9 757.9L413.8 760.0L414.3 762.9L411.7 761.5L409.1 762.9L409.6 760.0L407.5 757.9L410.4 757.5zM413.3 750.2L414.6 752.8L417.5 753.2L415.4 755.2L415.9 758.1L413.3 756.8L410.7 758.1L411.2 755.2L409.1 753.2L412.0 752.8zM414.9 745.4L416.2 748.0L419.1 748.5L417.0 750.5L417.5 753.4L414.9 752.0L412.3 753.4L412.8 750.5L410.7 748.5L413.6 748.0zM416.5 740.7L417.8 743.3L420.7 743.7L418.6 745.8L419.1 748.7L416.5 747.3L413.9 748.7L414.4 745.8L412.3 743.7L415.2 743.3zM418.1 736.0L419.4 738.6L422.3 739.0L420.2 741.0L420.7 743.9L418.1 742.6L415.5 743.9L416.0 741.0L413.9 739.0L416.8 738.6zM419.7 731.2L421.0 733.8L423.9 734.3L421.8 736.3L422.3 739.2L419.7 737.8L417.1 739.2L417.6 736.3L415.5 734.3L418.4 733.8zM421.3 726.5L422.6 729.1L425.5 729.5L423.4 731.6L423.9 734.4L421.3 733.1L418.7 734.4L419.2 731.6L417.1 729.5L420.0 729.1zM422.9 721.7L424.2 724.4L427.1 724.8L425.0 726.8L425.5 729.7L422.9 728.3L420.3 729.7L420.8 726.8L418.7 724.8L421.6 724.4zM424.5 717.0L425.8 719.6L428.7 720.0L426.6 722.1L427.1 725.0L424.5 723.6L421.9 725.0L422.4 722.1L420.3 720.0L423.2 719.6zM425.9 712.2L427.2 714.8L430.1 715.2L428.0 717.3L428.5 720.2L425.9 718.8L423.3 720.2L423.8 717.3L421.7 715.2L424.6 714.8zM427.1 707.4L428.4 710.0L431.3 710.4L429.2 712.4L429.7 715.3L427.1 714.0L424.6 715.3L425.1 712.4L423.0 710.4L425.9 710.0zM428.5 702.5L429.7 705.2L432.6 705.6L430.5 707.6L431.0 710.5L428.5 709.1L425.9 710.5L426.4 707.6L424.3 705.6L427.2 705.2zM430.0 697.8L431.3 700.4L434.1 700.8L432.1 702.8L432.6 705.7L430.0 704.4L427.4 705.7L427.9 702.8L425.8 700.8L428.7 700.4zM432.6 693.6L433.9 696.2L436.8 696.7L434.7 698.7L435.2 701.6L432.6 700.2L430.0 701.6L430.5 698.7L428.4 696.7L431.3 696.2zM436.6 690.6L437.9 693.2L440.8 693.7L438.7 695.7L439.2 698.6L436.6 697.2L434.0 698.6L434.5 695.7L432.4 693.7L435.3 693.2zM441.4 689.7L442.7 692.3L445.6 692.8L443.5 694.8L444.0 697.7L441.4 696.3L438.8 697.7L439.3 694.8L437.2 692.8L440.1 692.3zM445.8 691.9L447.1 694.6L450.0 695.0L447.9 697.0L448.4 699.9L445.8 698.5L443.3 699.9L443.7 697.0L441.7 695.0L444.5 694.6zM449.1 695.6L450.4 698.3L453.3 698.7L451.2 700.7L451.7 703.6L449.1 702.2L446.5 703.6L447.0 700.7L444.9 698.7L447.8 698.3zM450.4 700.5L451.7 703.1L454.6 703.5L452.5 705.5L453.0 708.4L450.4 707.1L447.9 708.4L448.3 705.5L446.3 703.5L449.1 703.1zM451.4 705.4L452.7 708.0L455.6 708.4L453.5 710.4L454.0 713.3L451.4 712.0L448.8 713.3L449.3 710.4L447.2 708.4L450.1 708.0zM452.3 710.3L453.6 712.9L456.5 713.3L454.4 715.4L454.9 718.2L452.3 716.9L449.7 718.2L450.2 715.4L448.1 713.3L451.0 712.9zM453.3 715.2L454.5 717.8L457.4 718.2L455.3 720.3L455.8 723.2L453.3 721.8L450.7 723.2L451.2 720.3L449.1 718.2L452.0 717.8zM454.3 720.1L455.6 722.7L458.5 723.1L456.4 725.2L456.9 728.0L454.3 726.7L451.7 728.0L452.2 725.2L450.1 723.1L453.0 722.7zM455.3 725.0L456.6 727.6L459.5 728.0L457.4 730.1L457.9 732.9L455.3 731.6L452.7 732.9L453.2 730.1L451.1 728.0L454.0 727.6zM456.3 729.9L457.6 732.5L460.5 732.9L458.4 735.0L458.9 737.8L456.3 736.5L453.7 737.8L454.2 735.0L452.1 732.9L455.0 732.5zM457.3 734.8L458.6 737.4L461.4 737.8L459.4 739.9L459.8 742.7L457.3 741.4L454.7 742.7L455.2 739.9L453.1 737.8L456.0 737.4zM458.3 739.7L459.6 742.3L462.4 742.7L460.4 744.8L460.8 747.6L458.3 746.3L455.7 747.6L456.2 744.8L454.1 742.7L457.0 742.3zM459.3 744.6L460.6 747.2L463.5 747.6L461.4 749.7L461.9 752.5L459.3 751.2L456.7 752.5L457.2 749.7L455.1 747.6L458.0 747.2zM460.4 749.5L461.7 752.1L464.6 752.5L462.5 754.5L463.0 757.4L460.4 756.1L457.8 757.4L458.3 754.5L456.2 752.5L459.1 752.1zM461.7 754.3L463.0 756.9L465.9 757.3L463.8 759.4L464.3 762.3L461.7 760.9L459.1 762.3L459.6 759.4L457.5 757.3L460.4 756.9zM463.1 759.1L464.4 761.7L467.3 762.1L465.2 764.2L465.7 767.0L463.1 765.7L460.5 767.0L461.0 764.2L458.9 762.1L461.8 761.7zM464.6 763.9L465.9 766.5L468.8 766.9L466.7 768.9L467.2 771.8L464.6 770.5L462.0 771.8L462.5 768.9L460.4 766.9L463.3 766.5zM466.2 768.6L467.5 771.2L470.4 771.6L468.3 773.7L468.8 776.5L466.2 775.2L463.7 776.5L464.1 773.7L462.1 771.6L464.9 771.2zM468.0 773.3L469.3 775.9L472.1 776.3L470.1 778.4L470.5 781.2L468.0 779.9L465.4 781.2L465.9 778.4L463.8 776.3L466.7 775.9zM469.7 777.9L471.0 780.6L473.9 781.0L471.8 783.0L472.3 785.9L469.7 784.5L467.1 785.9L467.6 783.0L465.6 781.0L468.4 780.6zM471.5 782.6L472.8 785.2L475.7 785.7L473.6 787.7L474.1 790.6L471.5 789.2L468.9 790.6L469.4 787.7L467.3 785.7L470.2 785.2zM473.3 787.3L474.6 789.9L477.4 790.3L475.4 792.4L475.8 795.3L473.3 793.9L470.7 795.3L471.2 792.4L469.1 790.3L472.0 789.9zM475.0 792.0L476.3 794.6L479.2 795.0L477.1 797.1L477.6 799.9L475.0 798.6L472.5 799.9L473.0 797.1L470.9 795.0L473.8 794.6zM476.9 796.6L478.2 799.3L481.0 799.7L479.0 801.7L479.4 804.6L476.9 803.2L474.3 804.6L474.8 801.7L472.7 799.7L475.6 799.3zM478.7 801.3L480.0 803.9L482.9 804.3L480.8 806.4L481.3 809.2L478.7 807.9L476.1 809.2L476.6 806.4L474.5 804.3L477.4 803.9zM480.6 805.9L481.9 808.5L484.8 809.0L482.7 811.0L483.2 813.9L480.6 812.5L478.0 813.9L478.5 811.0L476.4 809.0L479.3 808.5zM482.5 810.6L483.7 813.2L486.6 813.6L484.5 815.6L485.0 818.5L482.5 817.2L479.9 818.5L480.4 815.6L478.3 813.6L481.2 813.2zM484.3 815.2L485.6 817.8L488.5 818.2L486.4 820.3L486.9 823.1L484.3 821.8L481.8 823.1L482.2 820.3L480.2 818.2L483.0 817.8zM486.2 819.8L487.5 822.4L490.4 822.9L488.3 824.9L488.8 827.8L486.2 826.4L483.6 827.8L484.1 824.9L482.0 822.9L484.9 822.4zM488.1 824.5L489.4 827.1L492.3 827.5L490.2 829.5L490.7 832.4L488.1 831.1L485.5 832.4L486.0 829.5L483.9 827.5L486.8 827.1zM490.0 829.1L491.2 831.7L494.1 832.1L492.0 834.2L492.5 837.1L490.0 835.7L487.4 837.1L487.9 834.2L485.8 832.1L488.7 831.7zM491.9 833.7L493.2 836.3L496.0 836.8L494.0 838.8L494.4 841.7L491.9 840.3L489.3 841.7L489.8 838.8L487.7 836.8L490.6 836.3zM493.8 838.3L495.1 840.9L498.0 841.4L495.9 843.4L496.4 846.3L493.8 844.9L491.2 846.3L491.7 843.4L489.6 841.4L492.5 840.9zM495.9 842.9L497.2 845.5L500.0 845.9L498.0 848.0L498.4 850.8L495.9 849.5L493.3 850.8L493.8 848.0L491.7 845.9L494.6 845.5zM498.0 847.4L499.3 850.0L502.2 850.4L500.1 852.5L500.6 855.3L498.0 854.0L495.4 855.3L495.9 852.5L493.8 850.4L496.7 850.0zM500.3 851.8L501.6 854.4L504.5 854.9L502.4 856.9L502.9 859.8L500.3 858.4L497.7 859.8L498.2 856.9L496.1 854.9L499.0 854.4zM502.7 856.2L504.0 858.8L506.9 859.3L504.8 861.3L505.3 864.2L502.7 862.8L500.1 864.2L500.6 861.3L498.5 859.3L501.4 858.8zM505.2 860.6L506.5 863.2L509.3 863.6L507.3 865.7L507.7 868.5L505.2 867.2L502.6 868.5L503.1 865.7L501.0 863.6L503.9 863.2zM507.6 865.0L508.9 867.6L511.7 868.0L509.7 870.0L510.1 872.9L507.6 871.6L505.0 872.9L505.5 870.0L503.4 868.0L506.3 867.6zM509.9 869.4L511.1 872.0L514.0 872.4L511.9 874.5L512.4 877.4L509.9 876.0L507.3 877.4L507.8 874.5L505.7 872.4L508.6 872.0zM512.0 873.9L513.3 876.5L516.2 877.0L514.1 879.0L514.6 881.9L512.0 880.5L509.4 881.9L509.9 879.0L507.8 877.0L510.7 876.5zM514.1 878.5L515.4 881.1L518.3 881.5L516.2 883.5L516.7 886.4L514.1 885.1L511.5 886.4L512.0 883.5L509.9 881.5L512.8 881.1zM516.2 883.0L517.5 885.6L520.4 886.0L518.3 888.1L518.8 890.9L516.2 889.6L513.6 890.9L514.1 888.1L512.0 886.0L514.9 885.6zM518.4 887.5L519.7 890.1L522.6 890.5L520.5 892.5L521.0 895.4L518.4 894.1L515.9 895.4L516.3 892.5L514.3 890.5L517.1 890.1zM520.9 891.8L522.2 894.4L525.1 894.8L523.0 896.9L523.5 899.8L520.9 898.4L518.3 899.8L518.8 896.9L516.7 894.8L519.6 894.4zM523.8 895.9L525.0 898.5L527.9 899.0L525.8 901.0L526.3 903.9L523.8 902.5L521.2 903.9L521.7 901.0L519.6 899.0L522.5 898.5zM526.7 900.0L528.0 902.6L530.9 903.0L528.8 905.0L529.3 907.9L526.7 906.6L524.1 907.9L524.6 905.0L522.5 903.0L525.4 902.6zM529.5 904.1L530.8 906.7L533.7 907.1L531.6 909.2L532.1 912.0L529.5 910.7L527.0 912.0L527.4 909.2L525.4 907.1L528.2 906.7zM532.3 908.3L533.6 910.9L536.5 911.3L534.4 913.3L534.9 916.2L532.3 914.9L529.7 916.2L530.2 913.3L528.1 911.3L531.0 910.9zM535.0 912.5L536.3 915.1L539.2 915.5L537.1 917.5L537.6 920.4L535.0 919.1L532.4 920.4L532.9 917.5L530.8 915.5L533.7 915.1zM537.7 916.7L539.0 919.3L541.9 919.7L539.8 921.7L540.3 924.6L537.7 923.3L535.1 924.6L535.6 921.7L533.5 919.7L536.4 919.3zM540.5 920.8L541.8 923.4L544.7 923.8L542.6 925.9L543.1 928.8L540.5 927.4L537.9 928.8L538.4 925.9L536.3 923.8L539.2 923.4zM543.4 924.9L544.7 927.5L547.6 927.9L545.5 929.9L546.0 932.8L543.4 931.5L540.9 932.8L541.3 929.9L539.3 927.9L542.1 927.5zM546.5 928.8L547.8 931.4L550.7 931.9L548.6 933.9L549.1 936.8L546.5 935.4L543.9 936.8L544.4 933.9L542.3 931.9L545.2 931.4zM549.6 932.7L550.9 935.3L553.8 935.8L551.7 937.8L552.2 940.7L549.6 939.3L547.0 940.7L547.5 937.8L545.4 935.8L548.3 935.3zM552.8 936.5L554.1 939.2L557.0 939.6L554.9 941.6L555.4 944.5L552.8 943.1L550.2 944.5L550.7 941.6L548.7 939.6L551.5 939.2zM556.1 940.3L557.4 942.9L560.3 943.3L558.2 945.4L558.7 948.3L556.1 946.9L553.5 948.3L554.0 945.4L551.9 943.3L554.8 942.9zM559.5 944.0L560.8 946.6L563.7 947.0L561.6 949.1L562.1 952.0L559.5 950.6L556.9 952.0L557.4 949.1L555.3 947.0L558.2 946.6zM563.0 947.6L564.3 950.2L567.2 950.6L565.1 952.7L565.6 955.5L563.0 954.2L560.4 955.5L560.9 952.7L558.8 950.6L561.7 950.2zM566.6 951.1L567.9 953.7L570.8 954.1L568.7 956.2L569.2 959.0L566.6 957.7L564.0 959.0L564.5 956.2L562.4 954.1L565.3 953.7zM570.2 954.5L571.5 957.2L574.4 957.6L572.3 959.6L572.8 962.5L570.2 961.1L567.6 962.5L568.1 959.6L566.0 957.6L568.9 957.2zM573.7 958.0L575.0 960.7L577.9 961.1L575.8 963.1L576.3 966.0L573.7 964.6L571.2 966.0L571.6 963.1L569.6 961.1L572.4 960.7zM577.3 961.6L578.6 964.2L581.4 964.6L579.4 966.7L579.8 969.5L577.3 968.2L574.7 969.5L575.2 966.7L573.1 964.6L576.0 964.2zM580.8 965.2L582.1 967.8L585.0 968.2L582.9 970.2L583.4 973.1L580.8 971.8L578.2 973.1L578.7 970.2L576.6 968.2L579.5 967.8zM584.3 968.7L585.6 971.3L588.5 971.7L586.4 973.8L586.9 976.7L584.3 975.3L581.7 976.7L582.2 973.8L580.1 971.7L583.0 971.3zM587.9 972.2L589.2 974.8L592.0 975.2L590.0 977.3L590.4 980.2L587.9 978.8L585.3 980.2L585.8 977.3L583.7 975.2L586.6 974.8zM591.5 975.7L592.8 978.3L595.7 978.7L593.6 980.7L594.1 983.6L591.5 982.3L588.9 983.6L589.4 980.7L587.3 978.7L590.2 978.3zM595.1 979.1L596.4 981.7L599.3 982.1L597.2 984.2L597.7 987.1L595.1 985.7L592.5 987.1L593.0 984.2L590.9 982.1L593.8 981.7zM598.8 982.5L600.1 985.1L603.0 985.5L600.9 987.6L601.4 990.4L598.8 989.1L596.2 990.4L596.7 987.6L594.6 985.5L597.5 985.1zM602.6 985.7L603.9 988.4L606.8 988.8L604.7 990.8L605.2 993.7L602.6 992.3L600.0 993.7L600.5 990.8L598.4 988.8L601.3 988.4zM606.5 988.8L607.8 991.4L610.7 991.9L608.6 993.9L609.1 996.8L606.5 995.4L603.9 996.8L604.4 993.9L602.3 991.9L605.2 991.4zM610.6 991.7L611.9 994.4L614.8 994.8L612.7 996.8L613.2 999.7L610.6 998.3L608.0 999.7L608.5 996.8L606.4 994.8L609.3 994.4zM614.7 994.5L616.0 997.1L618.9 997.6L616.8 999.6L617.3 1002.5L614.7 1001.1L612.1 1002.5L612.6 999.6L610.5 997.6L613.4 997.1zM618.9 997.3L620.2 999.9L623.1 1000.3L621.0 1002.3L621.5 1005.2L618.9 1003.9L616.3 1005.2L616.8 1002.3L614.7 1000.3L617.6 999.9zM623.1 999.9L624.4 1002.6L627.3 1003.0L625.2 1005.0L625.7 1007.9L623.1 1006.5L620.5 1007.9L621.0 1005.0L619.0 1003.0L621.8 1002.6zM627.4 1002.5L628.7 1005.2L631.6 1005.6L629.5 1007.6L630.0 1010.5L627.4 1009.1L624.8 1010.5L625.3 1007.6L623.2 1005.6L626.1 1005.2zM631.7 1005.1L633.0 1007.7L635.9 1008.1L633.8 1010.2L634.3 1013.1L631.7 1011.7L629.1 1013.1L629.6 1010.2L627.5 1008.1L630.4 1007.7zM636.0 1007.6L637.3 1010.2L640.2 1010.6L638.1 1012.7L638.6 1015.5L636.0 1014.2L633.5 1015.5L633.9 1012.7L631.9 1010.6L634.7 1010.2zM640.4 1010.0L641.7 1012.6L644.6 1013.1L642.5 1015.1L643.0 1018.0L640.4 1016.6L637.8 1018.0L638.3 1015.1L636.2 1013.1L639.1 1012.6zM644.8 1012.4L646.1 1015.0L649.0 1015.4L646.9 1017.5L647.4 1020.4L644.8 1019.0L642.2 1020.4L642.7 1017.5L640.6 1015.4L643.5 1015.0zM649.2 1014.8L650.5 1017.4L653.4 1017.8L651.3 1019.8L651.8 1022.7L649.2 1021.4L646.6 1022.7L647.1 1019.8L645.0 1017.8L647.9 1017.4zM653.7 1017.0L655.0 1019.7L657.8 1020.1L655.8 1022.1L656.2 1025.0L653.7 1023.6L651.1 1025.0L651.6 1022.1L649.5 1020.1L652.4 1019.7z" fill="#808000"/>
<path d="M211.0 1027.9h7.0v7.0h-7.0zM216.0 1034.0h7.0v7.0h-7.0zM220.6 1028.1h7.0v7.0h-7.0zM225.3 1028.4h7.0v7.0h-7.0zM230.0 1048.1h7.0v7.0h-7.0zM234.9 1033.4h7.0v7.0h-7.0zM240.7 1045.7h7.0v7.0h-7.0zM244.2 1045.6h7.0v7.0h-7.0zM250.4 1026.4h7.0v7.0h-7.0zM254.0 1023.8h7.0v7.0h-7.0zM259.6 1042.3h7.0v7.0h-7.0zM262.9 1040.9h7.0v7.0h-7.0zM268.7 1046.7h7.0v7.0h-7.0zM272.4 1047.1h7.0v7.0h-7.0zM277.0 1026.6h7.0v7.0h-7.0zM281.9 1042.3h7.0v7.0h-7.0zM286.8 1048.2h7.0v7.0h-7.0zM292.7 1022.2h7.0v7.0h-7.0zM296.0 1024.0h7.0v7.0h-7.0zM302.0 1038.0h7.0v7.0h-7.0zM305.2 1043.5h7.0v7.0h-7.0zM309.7 1038.8h7.0v7.0h-7.0zM314.8 1026.1h7.0v7.0h-7.0zM319.3 1039.0h7.0v7.0h-7.0zM325.1 1023.2h7.0v7.0h-7.0zM330.0 1015.5h7.0v7.0h-7.0zM333.3 1017.2h7.0v7.0h-7.0zM339.3 1032.2h7.0v7.0h-7.0zM343.5 1039.4h7.0v7.0h-7.0zM349.0 1036.4h7.0v7.0h-7.0zM351.8 1016.3h7.0v7.0h-7.0zM358.0 1038.1h7.0v7.0h-7.0zM362.6 1032.3h7.0v7.0h-7.0zM367.3 1029.9h7.0v7.0h-7.0zM370.5 1031.2h7.0v7.0h-7.0zM376.0 1014.9h7.0v7.0h-7.0zM381.0 1005.8h7.0v7.0h-7.0zM386.3 1004.5h7.0v7.0h-7.0zM390.9 1007.3h7.0v7.0h-7.0zM395.0 1022.1h7.0v7.0h-7.0zM399.0 1022.0h7.0v7.0h-7.0zM404.9 1019.5h7.0v7.0h-7.0zM408.2 1024.7h7.0v7.0h-7.0zM414.5 1022.2h7.0v7.0h-7.0zM417.7 1000.3h7.0v7.0h-7.0zM422.4 1003.2h7.0v7.0h-7.0zM427.3 1023.5h7.0v7.0h-7.0zM432.0 997.3h7.0v7.0h-7.0zM436.6 1006.4h7.0v7.0h-7.0zM442.0 1017.8h7.0v7.0h-7.0zM445.9 1017.9h7.0v7.0h-7.0zM450.2 1020.4h7.0v7.0h-7.0zM455.2 1006.2h7.0v7.0h-7.0zM460.1 1019.3h7.0v7.0h-7.0zM464.7 1002.1h7.0v7.0h-7.0zM470.3 1024.4h7.0v7.0h-7.0zM474.9 1008.7h7.0v7.0h-7.0zM478.4 1011.0h7.0v7.0h-7.0zM483.9 1005.3h7.0v7.0h-7.0zM488.2 1031.8h7.0v7.0h-7.0zM493.0 1011.6h7.0v7.0h-7.0zM497.9 1016.1h7.0v7.0h-7.0zM502.0 1036.0h7.0v7.0h-7.0zM507.8 1020.2h7.0v7.0h-7.0zM512.9 1038.6h7.0v7.0h-7.0zM517.2 1033.1h7.0v7.0h-7.0zM521.3 1017.3h7.0v7.0h-7.0zM525.6 1032.1h7.0v7.0h-7.0zM531.0 1023.9h7.0v7.0h-7.0zM536.5 1035.9h7.0v7.0h-7.0zM539.5 1022.6h7.0v7.0h-7.0zM545.4 1036.0h7.0v7.0h-7.0zM548.7 1043.3h7.0v7.0h-7.0zM555.2 1022.6h7.0v7.0h-7.0zM558.9 1027.8h7.0v7.0h-7.0zM563.7 1041.5h7.0v7.0h-7.0zM568.4 1044.3h7.0v7.0h-7.0zM572.1 1040.5h7.0v7.0h-7.0zM578.8 1047.2h7.0v7.0h-7.0zM581.6 1048.1h7.0v7.0h-7.0zM586.8 1041.5h7.0v7.0h-7.0zM591.3 1025.0h7.0v7.0h-7.0zM597.2 1023.4h7.0v7.0h-7.0zM601.0 1042.0h7.0v7.0h-7.0zM606.8 1045.3h7.0v7.0h-7.0zM610.7 1028.8h7.0v7.0h-7.0zM614.6 1050.4h7.0v7.0h-7.0zM620.7 1027.6h7.0v7.0h-7.0zM624.6 1045.7h7.0v7.0h-7.0zM630.3 1050.3h7.0v7.0h-7.0zM634.7 1051.0h7.0v7.0h-7.0zM638.6 1033.2h7.0v7.0h-7.0zM642.9 1051.3h7.0v7.0h-7.0zM649.0 1027.8h7.0v7.0h-7.0zM652.0 1046.2h7.0v7.0h-7.0z" fill="#535353"/>
<polyline points="215.5,1038.4 217.7,1038.6 219.9,1039.4 222.1,1036.6 224.4,1038.3 226.6,1039.4 228.8,1039.3 231.0,1035.6 233.2,1037.8 235.4,1037.4 237.7,1036.7 239.9,1038.8 242.1,1036.5 244.3,1035.9 246.5,1038.2 248.7,1036.4 250.9,1034.5 253.2,1034.4 255.4,1035.1 257.6,1032.6 259.8,1035.2 262.0,1035.6 264.2,1033.8 266.4,1035.7 268.7,1035.8 270.9,1033.7 273.1,1034.1 275.3,1031.0 277.5,1030.5 279.7,1034.8 282.0,1031.1 284.2,1030.5 286.4,1033.6 288.6,1032.6 290.8,1029.2 293.0,1029.9 295.2,1029.2 297.5,1029.1 299.7,1027.4 301.9,1029.7 304.1,1028.3 306.3,1028.4 308.5,1027.0 310.7,1026.2 313.0,1025.5 315.2,1029.3 317.4,1028.3 319.6,1026.9 321.8,1024.3 324.0,1024.0 326.3,1023.5 328.5,1024.0 330.7,1022.3 332.9,1022.9 335.1,1022.1 337.3,1021.6 339.5,1023.4 341.8,1022.0 344.0,1021.5 346.2,1020.5 348.4,1020.9 350.6,1021.6 352.8,1018.7 355.0,1017.0 357.3,1018.6 359.5,1017.5 361.7,1019.0 363.9,1015.1 366.1,1018.2 368.3,1013.3 370.6,1015.2 372.8,1014.0 375.0,1012.7 377.2,1014.8 379.4,1013.1 381.6,1009.6 383.8,1010.5 386.1,1010.3 388.3,1006.7 390.5,1006.2 392.7,1008.1 394.9,1008.0 397.1,1006.0 399.4,1005.2 401.6,1005.0 403.8,1003.2 406.0,1005.8 408.2,1005.8 410.4,1003.0 412.6,1000.2 414.9,1001.7 417.1,1003.4 419.3,1000.6 421.5,999.2 423.7,999.2 425.9,1001.5 428.1,1000.7 430.4,998.6 432.6,999.8 434.8,1000.3 437.0,1001.4 439.2,1001.0 441.4,999.4 443.7,1001.6 445.9,1002.5 448.1,1002.6 450.3,1002.4 452.5,1001.9 454.7,1001.9 456.9,1004.0 459.2,1003.3 461.4,1004.2 463.6,1002.2 465.8,1001.9 468.0,1003.3 470.2,1005.4 472.4,1006.0 474.7,1004.8 476.9,1005.4 479.1,1009.9 481.3,1006.2 483.5,1011.2 485.7,1011.2 488.0,1011.0 490.2,1013.8 492.4,1013.0 494.6,1010.4 496.8,1015.8 499.0,1013.9 501.2,1017.2 503.5,1017.3 505.7,1014.6 507.9,1014.8 510.1,1015.2 512.3,1019.6 514.5,1020.2 516.8,1017.9 519.0,1017.8 521.2,1019.6 523.4,1022.2 525.6,1022.4 527.8,1023.6 530.0,1024.5 532.3,1024.0 534.5,1024.8 536.7,1021.2 538.9,1021.6 541.1,1026.3 543.3,1025.6 545.5,1024.5 547.8,1024.0 550.0,1025.4 552.2,1025.8 554.4,1027.0 556.6,1027.2 558.8,1026.3 561.1,1026.1 563.3,1027.1 565.5,1027.1 567.7,1027.3 569.9,1029.2 572.1,1028.1 574.3,1031.7 576.6,1030.8 578.8,1030.6 581.0,1031.8 583.2,1030.0 585.4,1029.3 587.6,1029.8 589.8,1031.4 592.1,1031.8 594.3,1031.5 596.5,1032.0 598.7,1034.9 600.9,1031.0 603.1,1033.5 605.4,1033.4 607.6,1033.1 609.8,1035.6 612.0,1033.3 614.2,1032.6 616.4,1033.4 618.6,1037.7 620.9,1034.8 623.1,1033.8 625.3,1038.3 627.5,1036.9 629.7,1038.6 631.9,1035.7 634.1,1038.2 636.4,1034.6 638.6,1035.7 640.8,1038.6 643.0,1037.4 645.2,1038.9 647.4,1037.0 649.7,1039.6 651.9,1035.7 654.1,1038.5 656.3,1036.5" fill="none" stroke="#F84848" stroke-width="3" stroke-linejoin="round" stroke-linecap="round"/>
<path d="M211.2 1034.2h8.5l-4.2 7.7zM215.7 1035.9h8.5l-4.2 7.7zM220.1 1037.0h8.5l-4.2 7.7zM224.5 1035.3h8.5l-4.2 7.7zM229.0 1034.0h8.5l-4.2 7.7zM233.4 1033.4h8.5l-4.2 7.7zM237.8 1030.7h8.5l-4.2 7.7zM242.3 1034.4h8.5l-4.2 7.7zM246.7 1031.5h8.5l-4.2 7.7zM251.1 1033.0h8.5l-4.2 7.7zM255.6 1028.9h8.5l-4.2 7.7zM260.0 1028.8h8.5l-4.2 7.7zM264.4 1029.6h8.5l-4.2 7.7zM268.8 1032.1h8.5l-4.2 7.7zM273.3 1027.8h8.5l-4.2 7.7zM277.7 1024.5h8.5l-4.2 7.7zM282.1 1032.7h8.5l-4.2 7.7zM286.6 1028.2h8.5l-4.2 7.7zM291.0 1026.3h8.5l-4.2 7.7zM295.4 1024.3h8.5l-4.2 7.7zM299.9 1022.4h8.5l-4.2 7.7zM304.3 1020.2h8.5l-4.2 7.7zM308.7 1021.8h8.5l-4.2 7.7zM313.1 1021.8h8.5l-4.2 7.7zM317.6 1018.6h8.5l-4.2 7.7zM322.0 1018.1h8.5l-4.2 7.7zM326.4 1015.6h8.5l-4.2 7.7zM330.9 1018.1h8.5l-4.2 7.7zM335.3 1019.2h8.5l-4.2 7.7zM339.7 1019.8h8.5l-4.2 7.7zM344.2 1017.2h8.5l-4.2 7.7zM348.6 1015.7h8.5l-4.2 7.7zM353.0 1014.7h8.5l-4.2 7.7zM357.4 1016.1h8.5l-4.2 7.7zM361.9 1014.2h8.5l-4.2 7.7zM366.3 1010.1h8.5l-4.2 7.7zM370.7 1011.8h8.5l-4.2 7.7zM375.2 1012.2h8.5l-4.2 7.7zM379.6 1008.7h8.5l-4.2 7.7zM384.0 1004.1h8.5l-4.2 7.7zM388.5 1003.1h8.5l-4.2 7.7zM392.9 1000.6h8.5l-4.2 7.7zM397.3 999.9h8.5l-4.2 7.7zM401.7 999.4h8.5l-4.2 7.7zM406.2 1000.7h8.5l-4.2 7.7zM410.6 997.3h8.5l-4.2 7.7zM415.0 998.9h8.5l-4.2 7.7zM419.5 994.7h8.5l-4.2 7.7zM423.9 999.6h8.5l-4.2 7.7zM428.3 998.1h8.5l-4.2 7.7zM432.8 994.6h8.5l-4.2 7.7zM437.2 993.9h8.5l-4.2 7.7zM441.6 1001.2h8.5l-4.2 7.7zM446.0 998.3h8.5l-4.2 7.7zM450.5 1001.0h8.5l-4.2 7.7zM454.9 998.8h8.5l-4.2 7.7zM459.3 995.8h8.5l-4.2 7.7zM463.8 1000.3h8.5l-4.2 7.7zM468.2 1003.8h8.5l-4.2 7.7zM472.6 1000.2h8.5l-4.2 7.7zM477.1 999.9h8.5l-4.2 7.7zM481.5 1006.4h8.5l-4.2 7.7zM485.9 1012.8h8.5l-4.2 7.7zM490.3 1008.1h8.5l-4.2 7.7zM494.8 1007.8h8.5l-4.2 7.7zM499.2 1012.0h8.5l-4.2 7.7zM503.6 1008.5h8.5l-4.2 7.7zM508.1 1013.1h8.5l-4.2 7.7zM512.5 1015.8h8.5l-4.2 7.7zM516.9 1013.8h8.5l-4.2 7.7zM521.4 1019.0h8.5l-4.2 7.7zM525.8 1020.4h8.5l-4.2 7.7zM530.2 1019.2h8.5l-4.2 7.7zM534.7 1019.2h8.5l-4.2 7.7zM539.1 1019.5h8.5l-4.2 7.7zM543.5 1021.0h8.5l-4.2 7.7zM547.9 1019.7h8.5l-4.2 7.7zM552.4 1022.9h8.5l-4.2 7.7zM556.8 1020.6h8.5l-4.2 7.7zM561.2 1021.9h8.5l-4.2 7.7zM565.7 1028.2h8.5l-4.2 7.7zM570.1 1029.7h8.5l-4.2 7.7zM574.5 1025.6h8.5l-4.2 7.7zM579.0 1028.5h8.5l-4.2 7.7zM583.4 1024.2h8.5l-4.2 7.7zM587.8 1027.3h8.5l-4.2 7.7zM592.2 1030.3h8.5l-4.2 7.7zM596.7 1028.0h8.5l-4.2 7.7zM601.1 1027.2h8.5l-4.2 7.7zM605.5 1034.7h8.5l-4.2 7.7zM610.0 1027.1h8.5l-4.2 7.7zM614.4 1032.5h8.5l-4.2 7.7zM618.8 1031.7h8.5l-4.2 7.7zM623.3 1032.0h8.5l-4.2 7.7zM627.7 1030.6h8.5l-4.2 7.7zM632.1 1028.2h8.5l-4.2 7.7zM636.5 1032.4h8.5l-4.2 7.7zM641.0 1035.6h8.5l-4.2 7.7zM645.4 1034.2h8.5l-4.2 7.7zM649.8 1035.3h8.5l-4.2 7.7z" fill="#F84848"/>
<polyline points="215.5,1046.1 217.7,1049.3 219.9,1049.1 222.1,1048.8 224.4,1048.0 226.6,1048.3 228.8,1043.8 231.0,1046.8 233.2,1044.7 235.4,1047.0 237.7,1045.3 239.9,1045.8 242.1,1045.5 244.3,1045.5 246.5,1046.6 248.7,1047.1 250.9,1043.8 253.2,1045.9 255.4,1046.1 257.6,1043.3 259.8,1041.8 262.0,1043.4 264.2,1044.5 266.4,1043.1 268.7,1041.1 270.9,1043.5 273.1,1041.3 275.3,1043.9 277.5,1040.0 279.7,1041.9 282.0,1040.6 284.2,1043.3 286.4,1038.8 288.6,1042.2 290.8,1039.7 293.0,1039.2 295.2,1038.0 297.5,1039.2 299.7,1041.0 301.9,1041.1 304.1,1040.4 306.3,1038.4 308.5,1036.2 310.7,1037.2 313.0,1037.5 315.2,1035.4 317.4,1038.5 319.6,1033.5 321.8,1033.9 324.0,1033.3 326.3,1032.7 328.5,1031.7 330.7,1032.2 332.9,1032.4 335.1,1034.8 337.3,1032.3 339.5,1032.3 341.8,1030.4 344.0,1029.0 346.2,1030.5 348.4,1030.8 350.6,1027.1 352.8,1029.4 355.0,1026.7 357.3,1028.6 359.5,1026.4 361.7,1024.8 363.9,1024.2 366.1,1026.8 368.3,1024.9 370.6,1022.0 372.8,1025.3 375.0,1021.5 377.2,1020.7 379.4,1018.6 381.6,1019.3 383.8,1019.8 386.1,1020.8 388.3,1017.0 390.5,1017.3 392.7,1014.5 394.9,1016.8 397.1,1014.2 399.4,1013.9 401.6,1012.8 403.8,1015.0 406.0,1015.3 408.2,1010.7 410.4,1011.8 412.6,1009.7 414.9,1012.5 417.1,1012.9 419.3,1008.6 421.5,1011.1 423.7,1008.8 425.9,1009.2 428.1,1009.4 430.4,1008.1 432.6,1009.0 434.8,1007.1 437.0,1008.1 439.2,1007.7 441.4,1008.4 443.7,1007.3 445.9,1008.7 448.1,1007.8 450.3,1010.7 452.5,1010.0 454.7,1010.4 456.9,1013.2 459.2,1009.9 461.4,1012.2 463.6,1013.1 465.8,1013.6 468.0,1014.8 470.2,1013.3 472.4,1016.8 474.7,1016.1 476.9,1013.8 479.1,1017.2 481.3,1017.4 483.5,1020.3 485.7,1020.0 488.0,1020.5 490.2,1021.3 492.4,1022.2 494.6,1021.6 496.8,1022.6 499.0,1023.5 501.2,1021.7 503.5,1024.8 505.7,1025.0 507.9,1025.7 510.1,1027.0 512.3,1027.9 514.5,1027.1 516.8,1028.6 519.0,1027.4 521.2,1031.6 523.4,1030.6 525.6,1031.2 527.8,1031.9 530.0,1028.8 532.3,1030.1 534.5,1031.5 536.7,1032.3 538.9,1032.6 541.1,1033.6 543.3,1034.6 545.5,1035.6 547.8,1035.8 550.0,1034.8 552.2,1037.4 554.4,1037.6 556.6,1038.8 558.8,1034.4 561.1,1037.6 563.3,1035.9 565.5,1039.7 567.7,1040.5 569.9,1039.4 572.1,1038.0 574.3,1041.1 576.6,1039.6 578.8,1040.8 581.0,1038.5 583.2,1038.4 585.4,1042.3 587.6,1042.7 589.8,1040.6 592.1,1039.4 594.3,1040.7 596.5,1044.0 598.7,1040.8 600.9,1043.7 603.1,1041.8 605.4,1045.2 607.6,1042.4 609.8,1045.7 612.0,1043.7 614.2,1041.4 616.4,1043.6 618.6,1044.0 620.9,1042.8 623.1,1042.7 625.3,1045.3 627.5,1046.3 629.7,1046.5 631.9,1044.6 634.1,1044.1 636.4,1045.6 638.6,1047.1 640.8,1044.7 643.0,1048.2 645.2,1048.8 647.4,1045.8 649.7,1044.9 651.9,1047.1 654.1,1045.2 656.3,1049.0" fill="none" stroke="#F84848" stroke-width="3" stroke-linejoin="round" stroke-linecap="round"/>
<path d="M211.2 1041.5h8.5l-4.2 7.7zM215.7 1045.0h8.5l-4.2 7.7zM220.1 1046.9h8.5l-4.2 7.7zM224.5 1039.9h8.5l-4.2 7.7zM229.0 1041.4h8.5l-4.2 7.7zM233.4 1043.7h8.5l-4.2 7.7zM237.8 1039.8h8.5l-4.2 7.7zM242.3 1040.7h8.5l-4.2 7.7zM246.7 1042.4h8.5l-4.2 7.7zM251.1 1044.1h8.5l-4.2 7.7zM255.6 1036.4h8.5l-4.2 7.7zM260.0 1038.8h8.5l-4.2 7.7zM264.4 1038.7h8.5l-4.2 7.7zM268.8 1040.1h8.5l-4.2 7.7zM273.3 1034.4h8.5l-4.2 7.7zM277.7 1039.5h8.5l-4.2 7.7zM282.1 1037.3h8.5l-4.2 7.7zM286.6 1036.5h8.5l-4.2 7.7zM291.0 1033.7h8.5l-4.2 7.7zM295.4 1034.8h8.5l-4.2 7.7zM299.9 1033.8h8.5l-4.2 7.7zM304.3 1035.2h8.5l-4.2 7.7zM308.7 1032.1h8.5l-4.2 7.7zM313.1 1035.9h8.5l-4.2 7.7zM317.6 1028.6h8.5l-4.2 7.7zM322.0 1030.8h8.5l-4.2 7.7zM326.4 1028.9h8.5l-4.2 7.7zM330.9 1029.7h8.5l-4.2 7.7zM335.3 1026.5h8.5l-4.2 7.7zM339.7 1026.5h8.5l-4.2 7.7zM344.2 1024.4h8.5l-4.2 7.7zM348.6 1024.0h8.5l-4.2 7.7zM353.0 1025.1h8.5l-4.2 7.7zM357.4 1023.1h8.5l-4.2 7.7zM361.9 1023.7h8.5l-4.2 7.7zM366.3 1016.8h8.5l-4.2 7.7zM370.7 1020.1h8.5l-4.2 7.7zM375.2 1013.0h8.5l-4.2 7.7zM379.6 1013.1h8.5l-4.2 7.7zM384.0 1011.8h8.5l-4.2 7.7zM388.5 1010.3h8.5l-4.2 7.7zM392.9 1007.7h8.5l-4.2 7.7zM397.3 1007.1h8.5l-4.2 7.7zM401.7 1010.7h8.5l-4.2 7.7zM406.2 1008.4h8.5l-4.2 7.7zM410.6 1006.5h8.5l-4.2 7.7zM415.0 1004.0h8.5l-4.2 7.7zM419.5 1007.3h8.5l-4.2 7.7zM423.9 1008.5h8.5l-4.2 7.7zM428.3 1006.1h8.5l-4.2 7.7zM432.8 1005.4h8.5l-4.2 7.7zM437.2 1005.1h8.5l-4.2 7.7zM441.6 1002.7h8.5l-4.2 7.7zM446.0 1004.1h8.5l-4.2 7.7zM450.5 1003.7h8.5l-4.2 7.7zM454.9 1008.6h8.5l-4.2 7.7zM459.3 1010.4h8.5l-4.2 7.7zM463.8 1013.7h8.5l-4.2 7.7zM468.2 1010.1h8.5l-4.2 7.7zM472.6 1010.8h8.5l-4.2 7.7zM477.1 1013.5h8.5l-4.2 7.7zM481.5 1017.5h8.5l-4.2 7.7zM485.9 1016.3h8.5l-4.2 7.7zM490.3 1020.8h8.5l-4.2 7.7zM494.8 1017.2h8.5l-4.2 7.7zM499.2 1021.3h8.5l-4.2 7.7zM503.6 1023.3h8.5l-4.2 7.7zM508.1 1026.5h8.5l-4.2 7.7zM512.5 1026.2h8.5l-4.2 7.7zM516.9 1029.0h8.5l-4.2 7.7zM521.4 1029.2h8.5l-4.2 7.7zM525.8 1027.5h8.5l-4.2 7.7zM530.2 1026.8h8.5l-4.2 7.7zM534.7 1029.9h8.5l-4.2 7.7zM539.1 1033.2h8.5l-4.2 7.7zM543.5 1034.2h8.5l-4.2 7.7zM547.9 1033.1h8.5l-4.2 7.7zM552.4 1036.7h8.5l-4.2 7.7zM556.8 1035.9h8.5l-4.2 7.7zM561.2 1036.3h8.5l-4.2 7.7zM565.7 1036.4h8.5l-4.2 7.7zM570.1 1036.6h8.5l-4.2 7.7zM574.5 1037.5h8.5l-4.2 7.7zM579.0 1035.2h8.5l-4.2 7.7zM583.4 1036.4h8.5l-4.2 7.7zM587.8 1036.4h8.5l-4.2 7.7zM592.2 1043.2h8.5l-4.2 7.7zM596.7 1042.2h8.5l-4.2 7.7zM601.1 1042.7h8.5l-4.2 7.7zM605.5 1041.2h8.5l-4.2 7.7zM610.0 1039.0h8.5l-4.2 7.7zM614.4 1040.6h8.5l-4.2 7.7zM618.8 1038.5h8.5l-4.2 7.7zM623.3 1044.5h8.5l-4.2 7.7zM627.7 1038.3h8.5l-4.2 7.7zM632.1 1043.3h8.5l-4.2 7.7zM636.5 1038.1h8.5l-4.2 7.7zM641.0 1045.6h8.5l-4.2 7.7zM645.4 1041.0h8.5l-4.2 7.7zM649.8 1039.7h8.5l-4.2 7.7z" fill="#F84848"/>
<polyline points="215.5,1046.1 217.7,1046.4 219.9,1047.7 222.1,1047.9 224.4,1047.8 226.6,1045.2 228.8,1048.1 231.0,1045.4 233.2,1044.7 235.4,1043.6 237.7,1045.6 239.9,1043.7 242.1,1044.2 244.3,1045.8 246.5,1046.5 248.7,1046.3 250.9,1042.8 253.2,1042.6 255.4,1043.4 257.6,1044.8 259.8,1046.1 262.0,1045.7 264.2,1046.2 266.4,1044.4 268.7,1044.4 270.9,1042.6 273.1,1042.5 275.3,1041.8 277.5,1043.3 279.7,1043.5 282.0,1043.1 284.2,1042.0 286.4,1042.0 288.6,1041.0 290.8,1043.6 293.0,1042.3 295.2,1042.9 297.5,1043.0 299.7,1040.1 301.9,1039.0 304.1,1039.6 306.3,1042.4 308.5,1041.6 310.7,1039.3 313.0,1040.9 315.2,1038.4 317.4,1040.6 319.6,1036.4 321.8,1039.3 324.0,1040.1 326.3,1036.9 328.5,1036.7 330.7,1034.7 332.9,1035.0 335.1,1034.4 337.3,1034.3 339.5,1032.7 341.8,1033.5 344.0,1032.1 346.2,1033.8 348.4,1032.7 350.6,1031.4 352.8,1034.6 355.0,1031.0 357.3,1031.7 359.5,1033.1 361.7,1032.0 363.9,1032.6 366.1,1030.3 368.3,1031.1 370.6,1026.6 372.8,1029.4 375.0,1026.9 377.2,1026.3 379.4,1028.1 381.6,1027.4 383.8,1024.8 386.1,1024.4 388.3,1023.5 390.5,1026.2 392.7,1024.1 394.9,1021.9 397.1,1022.8 399.4,1020.0 401.6,1020.6 403.8,1021.3 406.0,1023.3 408.2,1022.4 410.4,1020.4 412.6,1021.1 414.9,1018.1 417.1,1019.9 419.3,1021.1 421.5,1016.5 423.7,1020.0 425.9,1020.0 428.1,1016.7 430.4,1018.7 432.6,1019.5 434.8,1015.2 437.0,1016.9 439.2,1017.6 441.4,1018.7 443.7,1016.3 445.9,1019.0 448.1,1019.1 450.3,1020.1 452.5,1019.9 454.7,1020.9 456.9,1020.0 459.2,1020.1 461.4,1020.0 463.6,1020.2 465.8,1020.8 468.0,1021.3 470.2,1021.2 472.4,1020.4 474.7,1022.1 476.9,1025.3 479.1,1022.6 481.3,1026.5 483.5,1026.3 485.7,1024.9 488.0,1024.2 490.2,1028.1 492.4,1029.0 494.6,1026.3 496.8,1028.6 499.0,1029.6 501.2,1029.4 503.5,1027.4 505.7,1028.5 507.9,1031.4 510.1,1031.4 512.3,1032.0 514.5,1030.5 516.8,1033.9 519.0,1033.8 521.2,1032.7 523.4,1035.0 525.6,1032.7 527.8,1034.3 530.0,1034.6 532.3,1037.3 534.5,1037.5 536.7,1035.0 538.9,1037.6 541.1,1035.6 543.3,1038.9 545.5,1039.3 547.8,1038.6 550.0,1035.8 552.2,1037.5 554.4,1037.2 556.6,1039.2 558.8,1037.2 561.1,1037.6 563.3,1038.1 565.5,1042.3 567.7,1041.2 569.9,1042.8 572.1,1043.4 574.3,1041.8 576.6,1043.4 578.8,1041.6 581.0,1042.6 583.2,1040.6 585.4,1042.1 587.6,1040.6 589.8,1042.6 592.1,1045.3 594.3,1045.6 596.5,1044.5 598.7,1041.2 600.9,1046.1 603.1,1043.9 605.4,1044.8 607.6,1043.6 609.8,1045.6 612.0,1043.4 614.2,1042.6 616.4,1044.5 618.6,1043.2 620.9,1043.5 623.1,1043.5 625.3,1046.2 627.5,1046.2 629.7,1044.0 631.9,1046.4 634.1,1043.2 636.4,1047.9 638.6,1044.4 640.8,1045.8 643.0,1045.2 645.2,1047.7 647.4,1045.6 649.7,1044.3 651.9,1047.8 654.1,1046.4 656.3,1044.8" fill="none" stroke="#CC9900" stroke-width="3.5" stroke-linejoin="round" stroke-linecap="round"/>
<path d="M211.7 1047.3l7.7 -4.2v8.5zM216.1 1047.7l7.7 -4.2v8.5zM220.5 1048.5l7.7 -4.2v8.5zM225.0 1050.6l7.7 -4.2v8.5zM229.4 1043.3l7.7 -4.2v8.5zM233.8 1042.7l7.7 -4.2v8.5zM238.3 1043.0l7.7 -4.2v8.5zM242.7 1047.6l7.7 -4.2v8.5zM247.1 1041.1l7.7 -4.2v8.5zM251.5 1041.4l7.7 -4.2v8.5zM256.0 1048.5l7.7 -4.2v8.5zM260.4 1047.2l7.7 -4.2v8.5zM264.8 1044.1l7.7 -4.2v8.5zM269.3 1044.8l7.7 -4.2v8.5zM273.7 1042.2l7.7 -4.2v8.5zM278.1 1044.1l7.7 -4.2v8.5zM282.6 1040.2l7.7 -4.2v8.5zM287.0 1043.2l7.7 -4.2v8.5zM291.4 1044.7l7.7 -4.2v8.5zM295.8 1042.6l7.7 -4.2v8.5zM300.3 1041.9l7.7 -4.2v8.5zM304.7 1040.9l7.7 -4.2v8.5zM309.1 1041.4l7.7 -4.2v8.5zM313.6 1039.5l7.7 -4.2v8.5zM318.0 1037.1l7.7 -4.2v8.5zM322.4 1036.9l7.7 -4.2v8.5zM326.9 1036.7l7.7 -4.2v8.5zM331.3 1036.5l7.7 -4.2v8.5zM335.7 1034.0l7.7 -4.2v8.5zM340.1 1034.8l7.7 -4.2v8.5zM344.6 1031.4l7.7 -4.2v8.5zM349.0 1032.6l7.7 -4.2v8.5zM353.4 1031.4l7.7 -4.2v8.5zM357.9 1030.6l7.7 -4.2v8.5zM362.3 1028.6l7.7 -4.2v8.5zM366.7 1026.1l7.7 -4.2v8.5zM371.2 1027.7l7.7 -4.2v8.5zM375.6 1028.0l7.7 -4.2v8.5zM380.0 1023.7l7.7 -4.2v8.5zM384.5 1025.5l7.7 -4.2v8.5zM388.9 1027.0l7.7 -4.2v8.5zM393.3 1022.5l7.7 -4.2v8.5zM397.7 1018.0l7.7 -4.2v8.5zM402.2 1020.5l7.7 -4.2v8.5zM406.6 1022.6l7.7 -4.2v8.5zM411.0 1015.4l7.7 -4.2v8.5zM415.5 1022.3l7.7 -4.2v8.5zM419.9 1020.5l7.7 -4.2v8.5zM424.3 1015.5l7.7 -4.2v8.5zM428.8 1021.2l7.7 -4.2v8.5zM433.2 1014.0l7.7 -4.2v8.5zM437.6 1016.6l7.7 -4.2v8.5zM442.0 1018.7l7.7 -4.2v8.5zM446.5 1017.3l7.7 -4.2v8.5zM450.9 1022.9l7.7 -4.2v8.5zM455.3 1018.5l7.7 -4.2v8.5zM459.8 1018.0l7.7 -4.2v8.5zM464.2 1018.6l7.7 -4.2v8.5zM468.6 1021.2l7.7 -4.2v8.5zM473.1 1025.0l7.7 -4.2v8.5zM477.5 1027.3l7.7 -4.2v8.5zM481.9 1025.8l7.7 -4.2v8.5zM486.3 1029.9l7.7 -4.2v8.5zM490.8 1029.1l7.7 -4.2v8.5zM495.2 1030.7l7.7 -4.2v8.5zM499.6 1025.6l7.7 -4.2v8.5zM504.1 1031.2l7.7 -4.2v8.5zM508.5 1030.1l7.7 -4.2v8.5zM512.9 1030.9l7.7 -4.2v8.5zM517.4 1032.6l7.7 -4.2v8.5zM521.8 1034.0l7.7 -4.2v8.5zM526.2 1032.7l7.7 -4.2v8.5zM530.6 1036.2l7.7 -4.2v8.5zM535.1 1036.6l7.7 -4.2v8.5zM539.5 1040.1l7.7 -4.2v8.5zM543.9 1038.8l7.7 -4.2v8.5zM548.4 1038.2l7.7 -4.2v8.5zM552.8 1040.7l7.7 -4.2v8.5zM557.2 1037.0l7.7 -4.2v8.5zM561.7 1044.0l7.7 -4.2v8.5zM566.1 1045.3l7.7 -4.2v8.5zM570.5 1039.3l7.7 -4.2v8.5zM574.9 1044.2l7.7 -4.2v8.5zM579.4 1041.9l7.7 -4.2v8.5zM583.8 1038.4l7.7 -4.2v8.5zM588.2 1045.0l7.7 -4.2v8.5zM592.7 1045.3l7.7 -4.2v8.5zM597.1 1048.5l7.7 -4.2v8.5zM601.5 1044.1l7.7 -4.2v8.5zM606.0 1046.0l7.7 -4.2v8.5zM610.4 1044.8l7.7 -4.2v8.5zM614.8 1045.0l7.7 -4.2v8.5zM619.2 1046.2l7.7 -4.2v8.5zM623.7 1046.0l7.7 -4.2v8.5zM628.1 1047.3l7.7 -4.2v8.5zM632.5 1046.1l7.7 -4.2v8.5zM637.0 1047.2l7.7 -4.2v8.5zM641.4 1049.6l7.7 -4.2v8.5zM645.8 1045.1l7.7 -4.2v8.5zM650.3 1047.7l7.7 -4.2v8.5z" fill="#CC9900"/>
<polyline points="215.5,1053.9 217.7,1051.0 219.9,1053.6 222.1,1054.7 224.4,1054.6 226.6,1053.0 228.8,1053.5 231.0,1052.1 233.2,1052.8 235.4,1050.7 237.7,1053.5 239.9,1053.0 242.1,1051.3 244.3,1051.6 246.5,1053.3 248.7,1051.7 250.9,1054.2 253.2,1054.1 255.4,1053.3 257.6,1049.5 259.8,1049.2 262.0,1050.2 264.2,1050.4 266.4,1051.9 268.7,1052.4 270.9,1050.9 273.1,1051.1 275.3,1050.6 277.5,1047.8 279.7,1050.1 282.0,1048.3 284.2,1049.2 286.4,1046.9 288.6,1050.0 290.8,1051.1 293.0,1046.7 295.2,1049.1 297.5,1046.1 299.7,1047.5 301.9,1046.3 304.1,1049.5 306.3,1048.5 308.5,1049.1 310.7,1045.4 313.0,1047.6 315.2,1047.1 317.4,1045.9 319.6,1047.5 321.8,1045.7 324.0,1043.6 326.3,1045.4 328.5,1043.8 330.7,1042.1 332.9,1043.7 335.1,1040.5 337.3,1042.1 339.5,1042.2 341.8,1039.0 344.0,1041.8 346.2,1038.6 348.4,1041.0 350.6,1039.0 352.8,1037.0 355.0,1041.4 357.3,1036.3 359.5,1036.4 361.7,1037.7 363.9,1036.0 366.1,1036.9 368.3,1036.2 370.6,1036.2 372.8,1035.5 375.0,1033.7 377.2,1032.8 379.4,1034.7 381.6,1032.8 383.8,1032.7 386.1,1034.2 388.3,1029.1 390.5,1030.0 392.7,1030.9 394.9,1027.9 397.1,1030.9 399.4,1028.7 401.6,1027.8 403.8,1026.8 406.0,1030.3 408.2,1025.3 410.4,1028.8 412.6,1027.8 414.9,1028.3 417.1,1027.0 419.3,1024.8 421.5,1025.5 423.7,1027.0 425.9,1022.3 428.1,1026.1 430.4,1025.0 432.6,1022.5 434.8,1026.3 437.0,1023.0 439.2,1021.6 441.4,1023.1 443.7,1024.6 445.9,1022.4 448.1,1025.5 450.3,1025.1 452.5,1024.9 454.7,1027.4 456.9,1027.1 459.2,1029.2 461.4,1029.1 463.6,1029.4 465.8,1030.1 468.0,1030.1 470.2,1028.7 472.4,1027.0 474.7,1029.4 476.9,1030.7 479.1,1032.9 481.3,1031.9 483.5,1032.0 485.7,1030.1 488.0,1033.4 490.2,1030.9 492.4,1031.9 494.6,1032.0 496.8,1036.0 499.0,1037.5 501.2,1036.3 503.5,1034.3 505.7,1038.0 507.9,1035.6 510.1,1038.8 512.3,1039.0 514.5,1040.8 516.8,1037.3 519.0,1038.1 521.2,1038.9 523.4,1038.1 525.6,1042.9 527.8,1041.7 530.0,1039.5 532.3,1041.8 534.5,1040.3 536.7,1045.1 538.9,1042.5 541.1,1041.1 543.3,1045.2 545.5,1043.5 547.8,1045.5 550.0,1046.5 552.2,1043.4 554.4,1046.1 556.6,1048.4 558.8,1045.1 561.1,1045.6 563.3,1048.0 565.5,1045.2 567.7,1049.3 569.9,1049.5 572.1,1050.5 574.3,1050.1 576.6,1049.1 578.8,1048.7 581.0,1049.2 583.2,1049.9 585.4,1051.8 587.6,1047.9 589.8,1049.7 592.1,1049.7 594.3,1048.8 596.5,1048.6 598.7,1051.9 600.9,1051.0 603.1,1051.7 605.4,1049.7 607.6,1051.0 609.8,1049.5 612.0,1049.6 614.2,1049.7 616.4,1052.4 618.6,1053.5 620.9,1052.3 623.1,1053.4 625.3,1050.0 627.5,1052.4 629.7,1050.6 631.9,1052.6 634.1,1051.3 636.4,1051.4 638.6,1054.8 640.8,1053.0 643.0,1051.5 645.2,1052.8 647.4,1051.8 649.7,1054.4 651.9,1052.5 654.1,1054.7 656.3,1053.5" fill="none" stroke="#CC9900" stroke-width="3.5" stroke-linejoin="round" stroke-linecap="round"/>
<path d="M211.7 1052.2l7.7 -4.2v8.5zM216.1 1056.0l7.7 -4.2v8.5zM220.5 1057.5l7.7 -4.2v8.5zM225.0 1056.3l7.7 -4.2v8.5zM229.4 1053.1l7.7 -4.2v8.5zM233.8 1055.2l7.7 -4.2v8.5zM238.3 1050.2l7.7 -4.2v8.5zM242.7 1055.8l7.7 -4.2v8.5zM247.1 1056.3l7.7 -4.2v8.5zM251.5 1052.4l7.7 -4.2v8.5zM256.0 1046.7l7.7 -4.2v8.5zM260.4 1050.0l7.7 -4.2v8.5zM264.8 1052.7l7.7 -4.2v8.5zM269.3 1052.7l7.7 -4.2v8.5zM273.7 1047.7l7.7 -4.2v8.5zM278.1 1045.5l7.7 -4.2v8.5zM282.6 1048.8l7.7 -4.2v8.5zM287.0 1048.5l7.7 -4.2v8.5zM291.4 1050.9l7.7 -4.2v8.5zM295.8 1045.5l7.7 -4.2v8.5zM300.3 1048.5l7.7 -4.2v8.5zM304.7 1050.8l7.7 -4.2v8.5zM309.1 1045.4l7.7 -4.2v8.5zM313.6 1043.7l7.7 -4.2v8.5zM318.0 1045.8l7.7 -4.2v8.5zM322.4 1046.7l7.7 -4.2v8.5zM326.9 1044.1l7.7 -4.2v8.5zM331.3 1041.6l7.7 -4.2v8.5zM335.7 1044.9l7.7 -4.2v8.5zM340.1 1041.7l7.7 -4.2v8.5zM344.6 1043.6l7.7 -4.2v8.5zM349.0 1034.5l7.7 -4.2v8.5zM353.4 1034.7l7.7 -4.2v8.5zM357.9 1037.9l7.7 -4.2v8.5zM362.3 1035.7l7.7 -4.2v8.5zM366.7 1037.5l7.7 -4.2v8.5zM371.2 1034.6l7.7 -4.2v8.5zM375.6 1034.8l7.7 -4.2v8.5zM380.0 1034.8l7.7 -4.2v8.5zM384.5 1029.5l7.7 -4.2v8.5zM388.9 1029.8l7.7 -4.2v8.5zM393.3 1030.2l7.7 -4.2v8.5zM397.7 1029.9l7.7 -4.2v8.5zM402.2 1032.7l7.7 -4.2v8.5zM406.6 1027.0l7.7 -4.2v8.5zM411.0 1030.4l7.7 -4.2v8.5zM415.5 1027.6l7.7 -4.2v8.5zM419.9 1027.1l7.7 -4.2v8.5zM424.3 1026.5l7.7 -4.2v8.5zM428.8 1020.7l7.7 -4.2v8.5zM433.2 1023.2l7.7 -4.2v8.5zM437.6 1023.1l7.7 -4.2v8.5zM442.0 1023.0l7.7 -4.2v8.5zM446.5 1022.2l7.7 -4.2v8.5zM450.9 1030.2l7.7 -4.2v8.5zM455.3 1029.3l7.7 -4.2v8.5zM459.8 1028.8l7.7 -4.2v8.5zM464.2 1031.9l7.7 -4.2v8.5zM468.6 1027.4l7.7 -4.2v8.5zM473.1 1030.6l7.7 -4.2v8.5zM477.5 1033.0l7.7 -4.2v8.5zM481.9 1027.4l7.7 -4.2v8.5zM486.3 1031.1l7.7 -4.2v8.5zM490.8 1031.5l7.7 -4.2v8.5zM495.2 1040.3l7.7 -4.2v8.5zM499.6 1036.8l7.7 -4.2v8.5zM504.1 1034.3l7.7 -4.2v8.5zM508.5 1038.9l7.7 -4.2v8.5zM512.9 1035.1l7.7 -4.2v8.5zM517.4 1038.5l7.7 -4.2v8.5zM521.8 1044.8l7.7 -4.2v8.5zM526.2 1041.9l7.7 -4.2v8.5zM530.6 1040.2l7.7 -4.2v8.5zM535.1 1041.4l7.7 -4.2v8.5zM539.5 1043.3l7.7 -4.2v8.5zM543.9 1046.2l7.7 -4.2v8.5zM548.4 1045.9l7.7 -4.2v8.5zM552.8 1046.2l7.7 -4.2v8.5zM557.2 1047.3l7.7 -4.2v8.5zM561.7 1042.4l7.7 -4.2v8.5zM566.1 1047.7l7.7 -4.2v8.5zM570.5 1048.5l7.7 -4.2v8.5zM574.9 1049.8l7.7 -4.2v8.5zM579.4 1048.9l7.7 -4.2v8.5zM583.8 1047.0l7.7 -4.2v8.5zM588.2 1050.4l7.7 -4.2v8.5zM592.7 1046.2l7.7 -4.2v8.5zM597.1 1052.4l7.7 -4.2v8.5zM601.5 1047.4l7.7 -4.2v8.5zM606.0 1049.6l7.7 -4.2v8.5zM610.4 1048.2l7.7 -4.2v8.5zM614.8 1051.7l7.7 -4.2v8.5zM619.2 1053.6l7.7 -4.2v8.5zM623.7 1052.0l7.7 -4.2v8.5zM628.1 1051.8l7.7 -4.2v8.5zM632.5 1050.9l7.7 -4.2v8.5zM637.0 1053.2l7.7 -4.2v8.5zM641.4 1050.8l7.7 -4.2v8.5zM645.8 1052.7l7.7 -4.2v8.5zM650.3 1055.5l7.7 -4.2v8.5z" fill="#CC9900"/>
<polyline points="215.5,1064.1 217.5,1064.6 219.5,1064.5 221.5,1064.7 223.6,1062.9 225.6,1064.8 227.6,1063.5 229.6,1063.9 231.6,1063.8 233.6,1064.2 235.6,1062.1 237.6,1062.3 239.7,1063.2 241.7,1062.7 243.7,1063.1 245.7,1061.8 247.7,1063.4 249.7,1060.5 251.7,1062.5 253.7,1061.3 255.8,1060.1 257.8,1062.0 259.8,1060.0 261.8,1060.4 263.8,1060.5 265.8,1059.9 267.8,1059.8 269.8,1059.4 271.9,1061.6 273.9,1059.2 275.9,1059.3 277.9,1058.9 279.9,1061.3 281.9,1060.0 283.9,1060.7 285.9,1061.1 288.0,1059.5 290.0,1059.1 292.0,1058.9 294.0,1058.4 296.0,1059.3 298.0,1060.3 300.0,1058.8 302.0,1059.4 304.1,1059.7 306.1,1059.4 308.1,1058.8 310.1,1058.3 312.1,1056.8 314.1,1057.5 316.1,1058.8 318.2,1057.5 320.2,1058.0 322.2,1056.7 324.2,1057.5 326.2,1056.3 328.2,1057.8 330.2,1057.8 332.2,1055.3 334.3,1057.1 336.3,1055.2 338.3,1057.7 340.3,1055.2 342.3,1054.9 344.3,1057.1 346.3,1056.1 348.3,1054.1 350.4,1055.4 352.4,1056.3 354.4,1054.1 356.4,1055.7 358.4,1054.2 360.4,1054.5 362.4,1054.2 364.4,1053.0 366.5,1053.8 368.5,1054.0 370.5,1054.1 372.5,1053.6 374.5,1052.3 376.5,1053.4 378.5,1052.2 380.5,1053.8 382.6,1051.2 384.6,1053.0 386.6,1050.7 388.6,1051.9 390.6,1051.0 392.6,1051.1 394.6,1051.6 396.7,1051.7 398.7,1049.1 400.7,1051.6 402.7,1050.7 404.7,1048.9 406.7,1050.5 408.7,1050.7 410.7,1049.2 412.8,1050.5 414.8,1048.2 416.8,1048.9 418.8,1048.1 420.8,1049.6 422.8,1047.9 424.8,1047.6 426.8,1049.7 428.9,1047.9 430.9,1048.0 432.9,1048.6 434.9,1047.0 436.9,1048.9 438.9,1048.6 440.9,1048.1 442.9,1049.1 445.0,1049.4 447.0,1047.2 449.0,1050.0 451.0,1048.8 453.0,1049.7 455.0,1049.6 457.0,1050.6 459.0,1050.2 461.1,1048.8 463.1,1048.7 465.1,1049.6 467.1,1049.4 469.1,1049.5 471.1,1050.6 473.1,1050.6 475.1,1050.5 477.2,1051.8 479.2,1050.2 481.2,1051.3 483.2,1051.5 485.2,1052.3 487.2,1053.3 489.2,1052.7 491.3,1051.1 493.3,1053.1 495.3,1052.6 497.3,1053.1 499.3,1053.7 501.3,1052.9 503.3,1054.8 505.3,1053.7 507.4,1053.9 509.4,1054.6 511.4,1053.3 513.4,1054.3 515.4,1056.5 517.4,1054.0 519.4,1055.0 521.4,1056.3 523.5,1055.5 525.5,1056.1 527.5,1057.0 529.5,1057.1 531.5,1056.0 533.5,1055.9 535.5,1055.0 537.5,1057.3 539.6,1055.7 541.6,1056.8 543.6,1055.9 545.6,1057.9 547.6,1057.1 549.6,1056.2 551.6,1057.8 553.6,1056.4 555.7,1057.3 557.7,1057.3 559.7,1058.8 561.7,1058.4 563.7,1057.4 565.7,1057.9 567.7,1058.4 569.8,1059.6 571.8,1058.3 573.8,1059.7 575.8,1057.7 577.8,1058.0 579.8,1060.1 581.8,1059.0 583.8,1058.2 585.9,1058.8 587.9,1059.6 589.9,1058.7 591.9,1059.7 593.9,1061.7 595.9,1059.0 597.9,1060.0 599.9,1060.0 602.0,1059.6 604.0,1062.2 606.0,1060.3 608.0,1060.2 610.0,1061.0 612.0,1060.0 614.0,1061.4 616.0,1060.6 618.1,1061.7 620.1,1060.8 622.1,1063.0 624.1,1062.1 626.1,1062.6 628.1,1061.5 630.1,1061.1 632.1,1061.8 634.2,1062.7 636.2,1061.3 638.2,1062.0 640.2,1064.3 642.2,1062.6 644.2,1062.3 646.2,1064.3 648.2,1062.9 650.3,1063.8 652.3,1063.8 654.3,1063.9 656.3,1062.6" fill="none" stroke="#808000" stroke-width="3" stroke-linejoin="round" stroke-linecap="round"/>
<path d="M215.5 1060.7L216.7 1063.1L219.3 1063.5L217.4 1065.3L217.9 1067.9L215.5 1066.7L213.1 1067.9L213.6 1065.3L211.7 1063.5L214.3 1063.1zM219.5 1060.6L220.7 1063.0L223.3 1063.4L221.4 1065.2L221.9 1067.9L219.5 1066.6L217.2 1067.9L217.6 1065.2L215.7 1063.4L218.4 1063.0zM223.6 1060.3L224.7 1062.7L227.4 1063.0L225.5 1064.9L225.9 1067.5L223.6 1066.3L221.2 1067.5L221.6 1064.9L219.7 1063.0L222.4 1062.7zM227.6 1059.9L228.8 1062.3L231.4 1062.7L229.5 1064.5L229.9 1067.2L227.6 1065.9L225.2 1067.2L225.7 1064.5L223.8 1062.7L226.4 1062.3zM231.6 1061.2L232.8 1063.6L235.4 1064.0L233.5 1065.8L234.0 1068.5L231.6 1067.2L229.3 1068.5L229.7 1065.8L227.8 1064.0L230.4 1063.6zM235.6 1057.0L236.8 1059.4L239.4 1059.8L237.5 1061.7L238.0 1064.3L235.6 1063.0L233.3 1064.3L233.7 1061.7L231.8 1059.8L234.5 1059.4zM239.7 1060.2L240.8 1062.5L243.5 1062.9L241.6 1064.8L242.0 1067.4L239.7 1066.2L237.3 1067.4L237.8 1064.8L235.8 1062.9L238.5 1062.5zM243.7 1060.3L244.9 1062.7L247.5 1063.1L245.6 1064.9L246.0 1067.5L243.7 1066.3L241.3 1067.5L241.8 1064.9L239.9 1063.1L242.5 1062.7zM247.7 1061.0L248.9 1063.4L251.5 1063.8L249.6 1065.6L250.1 1068.3L247.7 1067.0L245.4 1068.3L245.8 1065.6L243.9 1063.8L246.5 1063.4zM251.7 1057.7L252.9 1060.1L255.5 1060.5L253.6 1062.4L254.1 1065.0L251.7 1063.7L249.4 1065.0L249.8 1062.4L247.9 1060.5L250.6 1060.1zM255.8 1055.4L256.9 1057.8L259.6 1058.2L257.7 1060.0L258.1 1062.6L255.8 1061.4L253.4 1062.6L253.9 1060.0L252.0 1058.2L254.6 1057.8zM259.8 1057.7L261.0 1060.0L263.6 1060.4L261.7 1062.3L262.1 1064.9L259.8 1063.7L257.4 1064.9L257.9 1062.3L256.0 1060.4L258.6 1060.0zM263.8 1055.4L265.0 1057.8L267.6 1058.2L265.7 1060.0L266.2 1062.6L263.8 1061.4L261.5 1062.6L261.9 1060.0L260.0 1058.2L262.6 1057.8zM267.8 1057.8L269.0 1060.2L271.6 1060.6L269.7 1062.4L270.2 1065.0L267.8 1063.8L265.5 1065.0L265.9 1062.4L264.0 1060.6L266.7 1060.2zM271.9 1059.1L273.0 1061.5L275.7 1061.9L273.8 1063.8L274.2 1066.4L271.9 1065.1L269.5 1066.4L270.0 1063.8L268.1 1061.9L270.7 1061.5zM275.9 1053.8L277.1 1056.2L279.7 1056.6L277.8 1058.4L278.2 1061.0L275.9 1059.8L273.5 1061.0L274.0 1058.4L272.1 1056.6L274.7 1056.2zM279.9 1056.2L281.1 1058.6L283.7 1059.0L281.8 1060.8L282.3 1063.5L279.9 1062.2L277.6 1063.5L278.0 1060.8L276.1 1059.0L278.7 1058.6zM283.9 1057.7L285.1 1060.0L287.7 1060.4L285.8 1062.3L286.3 1064.9L283.9 1063.7L281.6 1064.9L282.0 1062.3L280.1 1060.4L282.8 1060.0zM288.0 1054.5L289.1 1056.9L291.8 1057.3L289.9 1059.2L290.3 1061.8L288.0 1060.5L285.6 1061.8L286.1 1059.2L284.2 1057.3L286.8 1056.9zM292.0 1053.3L293.2 1055.7L295.8 1056.1L293.9 1057.9L294.3 1060.6L292.0 1059.3L289.6 1060.6L290.1 1057.9L288.2 1056.1L290.8 1055.7zM296.0 1056.6L297.2 1059.0L299.8 1059.4L297.9 1061.2L298.4 1063.9L296.0 1062.6L293.7 1063.9L294.1 1061.2L292.2 1059.4L294.8 1059.0zM300.0 1054.4L301.2 1056.8L303.8 1057.2L301.9 1059.1L302.4 1061.7L300.0 1060.4L297.7 1061.7L298.1 1059.1L296.2 1057.2L298.9 1056.8zM304.1 1056.8L305.2 1059.2L307.9 1059.6L306.0 1061.4L306.4 1064.1L304.1 1062.8L301.7 1064.1L302.2 1061.4L300.3 1059.6L302.9 1059.2zM308.1 1053.3L309.3 1055.7L311.9 1056.0L310.0 1057.9L310.4 1060.5L308.1 1059.3L305.7 1060.5L306.2 1057.9L304.3 1056.0L306.9 1055.7zM312.1 1052.4L313.3 1054.8L315.9 1055.2L314.0 1057.0L314.5 1059.6L312.1 1058.4L309.8 1059.6L310.2 1057.0L308.3 1055.2L310.9 1054.8zM316.1 1055.6L317.3 1057.9L319.9 1058.3L318.0 1060.2L318.5 1062.8L316.1 1061.6L313.8 1062.8L314.2 1060.2L312.3 1058.3L315.0 1057.9zM320.2 1052.1L321.3 1054.5L324.0 1054.9L322.1 1056.7L322.5 1059.4L320.2 1058.1L317.8 1059.4L318.3 1056.7L316.4 1054.9L319.0 1054.5zM324.2 1052.3L325.4 1054.7L328.0 1055.1L326.1 1056.9L326.5 1059.5L324.2 1058.3L321.8 1059.5L322.3 1056.9L320.4 1055.1L323.0 1054.7zM328.2 1054.6L329.4 1057.0L332.0 1057.3L330.1 1059.2L330.6 1061.8L328.2 1060.6L325.9 1061.8L326.3 1059.2L324.4 1057.3L327.0 1057.0zM332.2 1052.9L333.4 1055.3L336.0 1055.7L334.1 1057.5L334.6 1060.2L332.2 1058.9L329.9 1060.2L330.3 1057.5L328.4 1055.7L331.1 1055.3zM336.3 1053.1L337.4 1055.5L340.1 1055.9L338.2 1057.7L338.6 1060.4L336.3 1059.1L333.9 1060.4L334.4 1057.7L332.5 1055.9L335.1 1055.5zM340.3 1049.7L341.5 1052.1L344.1 1052.4L342.2 1054.3L342.6 1056.9L340.3 1055.7L337.9 1056.9L338.4 1054.3L336.5 1052.4L339.1 1052.1zM344.3 1053.1L345.5 1055.5L348.1 1055.9L346.2 1057.7L346.7 1060.3L344.3 1059.1L342.0 1060.3L342.4 1057.7L340.5 1055.9L343.1 1055.5zM348.3 1051.2L349.5 1053.6L352.1 1053.9L350.2 1055.8L350.7 1058.4L348.3 1057.2L346.0 1058.4L346.4 1055.8L344.5 1053.9L347.2 1053.6zM352.4 1052.3L353.5 1054.7L356.2 1055.1L354.3 1056.9L354.7 1059.5L352.4 1058.3L350.0 1059.5L350.5 1056.9L348.6 1055.1L351.2 1054.7zM356.4 1052.5L357.6 1054.9L360.2 1055.3L358.3 1057.1L358.7 1059.7L356.4 1058.5L354.0 1059.7L354.5 1057.1L352.6 1055.3L355.2 1054.9zM360.4 1049.2L361.6 1051.6L364.2 1052.0L362.3 1053.9L362.8 1056.5L360.4 1055.2L358.1 1056.5L358.5 1053.9L356.6 1052.0L359.2 1051.6zM364.4 1047.3L365.6 1049.6L368.3 1050.0L366.3 1051.9L366.8 1054.5L364.4 1053.3L362.1 1054.5L362.5 1051.9L360.6 1050.0L363.3 1049.6zM368.5 1048.4L369.6 1050.8L372.3 1051.2L370.4 1053.0L370.8 1055.6L368.5 1054.4L366.1 1055.6L366.6 1053.0L364.7 1051.2L367.3 1050.8zM372.5 1047.8L373.7 1050.1L376.3 1050.5L374.4 1052.4L374.8 1055.0L372.5 1053.8L370.1 1055.0L370.6 1052.4L368.7 1050.5L371.3 1050.1zM376.5 1049.6L377.7 1052.0L380.3 1052.3L378.4 1054.2L378.9 1056.8L376.5 1055.6L374.2 1056.8L374.6 1054.2L372.7 1052.3L375.3 1052.0zM380.5 1049.9L381.7 1052.2L384.4 1052.6L382.5 1054.5L382.9 1057.1L380.5 1055.9L378.2 1057.1L378.6 1054.5L376.7 1052.6L379.4 1052.2zM384.6 1049.3L385.7 1051.6L388.4 1052.0L386.5 1053.9L386.9 1056.5L384.6 1055.3L382.2 1056.5L382.7 1053.9L380.8 1052.0L383.4 1051.6zM388.6 1046.5L389.8 1048.9L392.4 1049.2L390.5 1051.1L391.0 1053.7L388.6 1052.5L386.2 1053.7L386.7 1051.1L384.8 1049.2L387.4 1048.9zM392.6 1045.9L393.8 1048.3L396.4 1048.6L394.5 1050.5L395.0 1053.1L392.6 1051.9L390.3 1053.1L390.7 1050.5L388.8 1048.6L391.4 1048.3zM396.7 1046.5L397.8 1048.9L400.5 1049.3L398.6 1051.2L399.0 1053.8L396.7 1052.5L394.3 1053.8L394.7 1051.2L392.8 1049.3L395.5 1048.9zM400.7 1049.0L401.9 1051.3L404.5 1051.7L402.6 1053.6L403.0 1056.2L400.7 1055.0L398.3 1056.2L398.8 1053.6L396.9 1051.7L399.5 1051.3zM404.7 1046.9L405.9 1049.2L408.5 1049.6L406.6 1051.5L407.1 1054.1L404.7 1052.9L402.4 1054.1L402.8 1051.5L400.9 1049.6L403.5 1049.2zM408.7 1048.4L409.9 1050.8L412.5 1051.1L410.6 1053.0L411.1 1055.6L408.7 1054.4L406.4 1055.6L406.8 1053.0L404.9 1051.1L407.6 1050.8zM412.8 1044.9L413.9 1047.3L416.6 1047.7L414.7 1049.5L415.1 1052.1L412.8 1050.9L410.4 1052.1L410.9 1049.5L408.9 1047.7L411.6 1047.3zM416.8 1043.1L418.0 1045.5L420.6 1045.9L418.7 1047.7L419.1 1050.4L416.8 1049.1L414.4 1050.4L414.9 1047.7L413.0 1045.9L415.6 1045.5zM420.8 1047.4L422.0 1049.8L424.6 1050.2L422.7 1052.1L423.2 1054.7L420.8 1053.4L418.5 1054.7L418.9 1052.1L417.0 1050.2L419.6 1049.8zM424.8 1043.5L426.0 1045.8L428.6 1046.2L426.7 1048.1L427.2 1050.7L424.8 1049.5L422.5 1050.7L422.9 1048.1L421.0 1046.2L423.7 1045.8zM428.9 1044.9L430.0 1047.3L432.7 1047.7L430.8 1049.6L431.2 1052.2L428.9 1050.9L426.5 1052.2L427.0 1049.6L425.1 1047.7L427.7 1047.3zM432.9 1043.9L434.1 1046.3L436.7 1046.7L434.8 1048.5L435.2 1051.2L432.9 1049.9L430.5 1051.2L431.0 1048.5L429.1 1046.7L431.7 1046.3zM436.9 1044.8L438.1 1047.2L440.7 1047.6L438.8 1049.4L439.3 1052.0L436.9 1050.8L434.6 1052.0L435.0 1049.4L433.1 1047.6L435.7 1047.2zM440.9 1044.2L442.1 1046.5L444.7 1046.9L442.8 1048.8L443.3 1051.4L440.9 1050.2L438.6 1051.4L439.0 1048.8L437.1 1046.9L439.8 1046.5zM445.0 1045.2L446.1 1047.6L448.8 1047.9L446.9 1049.8L447.3 1052.4L445.0 1051.2L442.6 1052.4L443.1 1049.8L441.2 1047.9L443.8 1047.6zM449.0 1046.4L450.2 1048.8L452.8 1049.1L450.9 1051.0L451.3 1053.6L449.0 1052.4L446.6 1053.6L447.1 1051.0L445.2 1049.1L447.8 1048.8zM453.0 1043.8L454.2 1046.2L456.8 1046.6L454.9 1048.4L455.4 1051.0L453.0 1049.8L450.7 1051.0L451.1 1048.4L449.2 1046.6L451.8 1046.2zM457.0 1047.4L458.2 1049.8L460.8 1050.2L458.9 1052.1L459.4 1054.7L457.0 1053.4L454.7 1054.7L455.1 1052.1L453.2 1050.2L455.9 1049.8zM461.1 1046.2L462.2 1048.6L464.9 1049.0L463.0 1050.8L463.4 1053.4L461.1 1052.2L458.7 1053.4L459.2 1050.8L457.3 1049.0L459.9 1048.6zM465.1 1044.4L466.3 1046.7L468.9 1047.1L467.0 1049.0L467.4 1051.6L465.1 1050.4L462.7 1051.6L463.2 1049.0L461.3 1047.1L463.9 1046.7zM469.1 1045.3L470.3 1047.7L472.9 1048.0L471.0 1049.9L471.5 1052.5L469.1 1051.3L466.8 1052.5L467.2 1049.9L465.3 1048.0L467.9 1047.7zM473.1 1047.6L474.3 1050.0L476.9 1050.4L475.0 1052.2L475.5 1054.8L473.1 1053.6L470.8 1054.8L471.2 1052.2L469.3 1050.4L472.0 1050.0zM477.2 1047.4L478.3 1049.8L481.0 1050.2L479.1 1052.1L479.5 1054.7L477.2 1053.4L474.8 1054.7L475.3 1052.1L473.4 1050.2L476.0 1049.8zM481.2 1046.1L482.4 1048.5L485.0 1048.8L483.1 1050.7L483.5 1053.3L481.2 1052.1L478.8 1053.3L479.3 1050.7L477.4 1048.8L480.0 1048.5zM485.2 1046.9L486.4 1049.3L489.0 1049.7L487.1 1051.5L487.6 1054.2L485.2 1052.9L482.9 1054.2L483.3 1051.5L481.4 1049.7L484.0 1049.3zM489.2 1048.7L490.4 1051.1L493.0 1051.5L491.1 1053.3L491.6 1055.9L489.2 1054.7L486.9 1055.9L487.3 1053.3L485.4 1051.5L488.1 1051.1zM493.3 1047.2L494.4 1049.6L497.1 1050.0L495.2 1051.8L495.6 1054.4L493.3 1053.2L490.9 1054.4L491.4 1051.8L489.5 1050.0L492.1 1049.6zM497.3 1050.6L498.5 1053.0L501.1 1053.4L499.2 1055.2L499.6 1057.9L497.3 1056.6L494.9 1057.9L495.4 1055.2L493.5 1053.4L496.1 1053.0zM501.3 1050.1L502.5 1052.5L505.1 1052.9L503.2 1054.7L503.7 1057.3L501.3 1056.1L499.0 1057.3L499.4 1054.7L497.5 1052.9L500.1 1052.5zM505.3 1050.6L506.5 1052.9L509.1 1053.3L507.2 1055.2L507.7 1057.8L505.3 1056.6L503.0 1057.8L503.4 1055.2L501.5 1053.3L504.2 1052.9zM509.4 1052.1L510.5 1054.5L513.2 1054.9L511.3 1056.7L511.7 1059.3L509.4 1058.1L507.0 1059.3L507.5 1056.7L505.6 1054.9L508.2 1054.5zM513.4 1050.8L514.6 1053.2L517.2 1053.6L515.3 1055.5L515.7 1058.1L513.4 1056.8L511.0 1058.1L511.5 1055.5L509.6 1053.6L512.2 1053.2zM517.4 1049.6L518.6 1052.0L521.2 1052.4L519.3 1054.3L519.8 1056.9L517.4 1055.6L515.1 1056.9L515.5 1054.3L513.6 1052.4L516.2 1052.0zM521.4 1052.7L522.6 1055.1L525.2 1055.4L523.3 1057.3L523.8 1059.9L521.4 1058.7L519.1 1059.9L519.5 1057.3L517.6 1055.4L520.3 1055.1zM525.5 1052.1L526.6 1054.5L529.3 1054.9L527.4 1056.8L527.8 1059.4L525.5 1058.1L523.1 1059.4L523.6 1056.8L521.7 1054.9L524.3 1054.5zM529.5 1055.0L530.7 1057.4L533.3 1057.8L531.4 1059.6L531.8 1062.3L529.5 1061.0L527.1 1062.3L527.6 1059.6L525.7 1057.8L528.3 1057.4zM533.5 1053.1L534.7 1055.5L537.3 1055.9L535.4 1057.7L535.9 1060.3L533.5 1059.1L531.2 1060.3L531.6 1057.7L529.7 1055.9L532.3 1055.5zM537.5 1052.4L538.7 1054.8L541.3 1055.1L539.4 1057.0L539.9 1059.6L537.5 1058.4L535.2 1059.6L535.6 1057.0L533.7 1055.1L536.4 1054.8zM541.6 1054.4L542.7 1056.8L545.4 1057.2L543.5 1059.0L543.9 1061.7L541.6 1060.4L539.2 1061.7L539.7 1059.0L537.8 1057.2L540.4 1056.8zM545.6 1054.9L546.8 1057.2L549.4 1057.6L547.5 1059.5L547.9 1062.1L545.6 1060.9L543.2 1062.1L543.7 1059.5L541.8 1057.6L544.4 1057.2zM549.6 1053.3L550.8 1055.7L553.4 1056.1L551.5 1058.0L552.0 1060.6L549.6 1059.3L547.3 1060.6L547.7 1058.0L545.8 1056.1L548.4 1055.7zM553.6 1053.7L554.8 1056.1L557.5 1056.4L555.6 1058.3L556.0 1060.9L553.6 1059.7L551.3 1060.9L551.7 1058.3L549.8 1056.4L552.5 1056.1zM557.7 1052.9L558.8 1055.3L561.5 1055.6L559.6 1057.5L560.0 1060.1L557.7 1058.9L555.3 1060.1L555.8 1057.5L553.9 1055.6L556.5 1055.3zM561.7 1056.0L562.9 1058.4L565.5 1058.8L563.6 1060.6L564.1 1063.3L561.7 1062.0L559.3 1063.3L559.8 1060.6L557.9 1058.8L560.5 1058.4zM565.7 1055.4L566.9 1057.8L569.5 1058.2L567.6 1060.0L568.1 1062.6L565.7 1061.4L563.4 1062.6L563.8 1060.0L561.9 1058.2L564.5 1057.8zM569.8 1056.4L570.9 1058.8L573.6 1059.2L571.7 1061.0L572.1 1063.6L569.8 1062.4L567.4 1063.6L567.8 1061.0L565.9 1059.2L568.6 1058.8zM573.8 1056.7L575.0 1059.1L577.6 1059.5L575.7 1061.3L576.1 1064.0L573.8 1062.7L571.4 1064.0L571.9 1061.3L570.0 1059.5L572.6 1059.1zM577.8 1055.1L579.0 1057.4L581.6 1057.8L579.7 1059.7L580.2 1062.3L577.8 1061.1L575.5 1062.3L575.9 1059.7L574.0 1057.8L576.6 1057.4zM581.8 1054.6L583.0 1057.0L585.6 1057.4L583.7 1059.2L584.2 1061.9L581.8 1060.6L579.5 1061.9L579.9 1059.2L578.0 1057.4L580.7 1057.0zM585.9 1055.7L587.0 1058.0L589.7 1058.4L587.8 1060.3L588.2 1062.9L585.9 1061.7L583.5 1062.9L584.0 1060.3L582.0 1058.4L584.7 1058.0zM589.9 1053.0L591.1 1055.3L593.7 1055.7L591.8 1057.6L592.2 1060.2L589.9 1059.0L587.5 1060.2L588.0 1057.6L586.1 1055.7L588.7 1055.3zM593.9 1057.0L595.1 1059.4L597.7 1059.8L595.8 1061.6L596.3 1064.3L593.9 1063.0L591.6 1064.3L592.0 1061.6L590.1 1059.8L592.7 1059.4zM597.9 1055.9L599.1 1058.3L601.7 1058.6L599.8 1060.5L600.3 1063.1L597.9 1061.9L595.6 1063.1L596.0 1060.5L594.1 1058.6L596.8 1058.3zM602.0 1053.7L603.1 1056.1L605.8 1056.4L603.9 1058.3L604.3 1060.9L602.0 1059.7L599.6 1060.9L600.1 1058.3L598.2 1056.4L600.8 1056.1zM606.0 1055.7L607.2 1058.1L609.8 1058.5L607.9 1060.3L608.3 1062.9L606.0 1061.7L603.6 1062.9L604.1 1060.3L602.2 1058.5L604.8 1058.1zM610.0 1057.6L611.2 1060.0L613.8 1060.3L611.9 1062.2L612.4 1064.8L610.0 1063.6L607.7 1064.8L608.1 1062.2L606.2 1060.3L608.8 1060.0zM614.0 1057.9L615.2 1060.2L617.8 1060.6L615.9 1062.5L616.4 1065.1L614.0 1063.9L611.7 1065.1L612.1 1062.5L610.2 1060.6L612.9 1060.2zM618.1 1056.6L619.2 1059.0L621.9 1059.4L620.0 1061.2L620.4 1063.8L618.1 1062.6L615.7 1063.8L616.2 1061.2L614.3 1059.4L616.9 1059.0zM622.1 1060.8L623.3 1063.2L625.9 1063.6L624.0 1065.4L624.4 1068.1L622.1 1066.8L619.7 1068.1L620.2 1065.4L618.3 1063.6L620.9 1063.2zM626.1 1059.3L627.3 1061.7L629.9 1062.1L628.0 1063.9L628.5 1066.5L626.1 1065.3L623.8 1066.5L624.2 1063.9L622.3 1062.1L624.9 1061.7zM630.1 1056.4L631.3 1058.8L633.9 1059.2L632.0 1061.0L632.5 1063.7L630.1 1062.4L627.8 1063.7L628.2 1061.0L626.3 1059.2L629.0 1058.8zM634.2 1059.3L635.3 1061.7L638.0 1062.1L636.1 1063.9L636.5 1066.6L634.2 1065.3L631.8 1066.6L632.3 1063.9L630.4 1062.1L633.0 1061.7zM638.2 1058.3L639.4 1060.6L642.0 1061.0L640.1 1062.9L640.5 1065.5L638.2 1064.3L635.8 1065.5L636.3 1062.9L634.4 1061.0L637.0 1060.6zM642.2 1058.7L643.4 1061.1L646.0 1061.4L644.1 1063.3L644.6 1065.9L642.2 1064.7L639.9 1065.9L640.3 1063.3L638.4 1061.4L641.0 1061.1zM646.2 1059.9L647.4 1062.3L650.0 1062.7L648.1 1064.5L648.6 1067.1L646.2 1065.9L643.9 1067.1L644.3 1064.5L642.4 1062.7L645.1 1062.3zM650.3 1061.8L651.4 1064.2L654.1 1064.6L652.2 1066.4L652.6 1069.1L650.3 1067.8L647.9 1069.1L648.4 1066.4L646.5 1064.6L649.1 1064.2zM654.3 1060.4L655.5 1062.8L658.1 1063.2L656.2 1065.1L656.6 1067.7L654.3 1066.4L651.9 1067.7L652.4 1065.1L650.5 1063.2L653.1 1062.8z" fill="#808000"/>
<polyline points="215.5,1070.4 217.5,1069.7 219.5,1070.4 221.5,1068.3 223.6,1070.1 225.6,1069.0 227.6,1069.6 229.6,1068.2 231.6,1068.6 233.6,1068.2 235.6,1068.3 237.6,1069.4 239.7,1068.5 241.7,1069.8 243.7,1068.6 245.7,1067.3 247.7,1068.4 249.7,1068.0 251.7,1066.7 253.7,1067.8 255.8,1066.1 257.8,1067.1 259.8,1067.4 261.8,1067.7 263.8,1068.4 265.8,1067.3 267.8,1065.4 269.8,1066.6 271.9,1065.8 273.9,1067.2 275.9,1067.5 277.9,1064.9 279.9,1066.9 281.9,1065.3 283.9,1064.8 285.9,1065.5 288.0,1065.3 290.0,1064.8 292.0,1064.6 294.0,1064.9 296.0,1065.6 298.0,1063.9 300.0,1064.4 302.0,1063.8 304.1,1065.2 306.1,1063.6 308.1,1065.0 310.1,1062.7 312.1,1065.1 314.1,1063.7 316.1,1065.1 318.2,1064.5 320.2,1064.5 322.2,1062.0 324.2,1064.0 326.2,1063.2 328.2,1064.2 330.2,1063.1 332.2,1062.3 334.3,1063.8 336.3,1063.9 338.3,1061.5 340.3,1061.1 342.3,1061.9 344.3,1062.4 346.3,1060.7 348.3,1061.9 350.4,1061.6 352.4,1062.2 354.4,1060.1 356.4,1059.9 358.4,1060.9 360.4,1061.4 362.4,1060.8 364.4,1061.0 366.5,1059.4 368.5,1058.5 370.5,1060.3 372.5,1059.9 374.5,1057.9 376.5,1057.8 378.5,1059.4 380.5,1059.1 382.6,1057.5 384.6,1057.4 386.6,1057.7 388.6,1056.3 390.6,1056.9 392.6,1056.5 394.6,1055.7 396.7,1056.9 398.7,1058.0 400.7,1055.2 402.7,1056.8 404.7,1056.4 406.7,1055.3 408.7,1056.2 410.7,1056.4 412.8,1054.7 414.8,1054.9 416.8,1055.4 418.8,1054.7 420.8,1053.7 422.8,1054.2 424.8,1055.0 426.8,1054.5 428.9,1053.6 430.9,1053.4 432.9,1053.0 434.9,1054.5 436.9,1054.8 438.9,1053.3 440.9,1054.5 442.9,1052.9 445.0,1053.3 447.0,1054.7 449.0,1054.2 451.0,1054.5 453.0,1053.6 455.0,1055.1 457.0,1055.2 459.0,1054.6 461.1,1056.0 463.1,1054.9 465.1,1055.5 467.1,1054.9 469.1,1057.4 471.1,1056.6 473.1,1057.8 475.1,1056.4 477.2,1057.9 479.2,1057.8 481.2,1056.1 483.2,1059.0 485.2,1057.9 487.2,1057.6 489.2,1058.0 491.3,1057.9 493.3,1059.6 495.3,1058.9 497.3,1059.0 499.3,1059.3 501.3,1060.3 503.3,1060.2 505.3,1059.3 507.4,1060.6 509.4,1061.9 511.4,1060.3 513.4,1061.9 515.4,1062.0 517.4,1061.0 519.4,1062.7 521.4,1060.7 523.5,1060.8 525.5,1061.5 527.5,1060.8 529.5,1060.8 531.5,1061.8 533.5,1062.3 535.5,1062.8 537.5,1063.7 539.6,1062.9 541.6,1063.0 543.6,1061.5 545.6,1061.6 547.6,1063.3 549.6,1062.7 551.6,1065.0 553.6,1064.6 555.7,1062.7 557.7,1062.5 559.7,1065.0 561.7,1065.6 563.7,1065.0 565.7,1063.1 567.7,1065.7 569.8,1065.2 571.8,1065.9 573.8,1065.4 575.8,1065.6 577.8,1066.3 579.8,1065.0 581.8,1064.4 583.8,1064.5 585.9,1065.3 587.9,1066.7 589.9,1066.9 591.9,1065.8 593.9,1065.3 595.9,1065.2 597.9,1065.8 599.9,1067.6 602.0,1065.4 604.0,1067.2 606.0,1068.3 608.0,1067.2 610.0,1067.8 612.0,1065.9 614.0,1067.3 616.0,1068.2 618.1,1066.6 620.1,1067.2 622.1,1067.9 624.1,1069.1 626.1,1068.4 628.1,1068.7 630.1,1068.5 632.1,1067.9 634.2,1070.1 636.2,1069.6 638.2,1067.6 640.2,1070.5 642.2,1070.0 644.2,1068.0 646.2,1070.2 648.2,1071.0 650.3,1069.3 652.3,1070.1 654.3,1068.7 656.3,1069.4" fill="none" stroke="#808000" stroke-width="3" stroke-linejoin="round" stroke-linecap="round"/>
<path d="M215.5 1067.2L216.7 1069.6L219.3 1070.0L217.4 1071.8L217.9 1074.5L215.5 1073.2L213.1 1074.5L213.6 1071.8L211.7 1070.0L214.3 1069.6zM219.5 1067.5L220.7 1069.9L223.3 1070.2L221.4 1072.1L221.9 1074.7L219.5 1073.5L217.2 1074.7L217.6 1072.1L215.7 1070.2L218.4 1069.9zM223.6 1068.0L224.7 1070.4L227.4 1070.8L225.5 1072.7L225.9 1075.3L223.6 1074.0L221.2 1075.3L221.6 1072.7L219.7 1070.8L222.4 1070.4zM227.6 1063.7L228.8 1066.1L231.4 1066.5L229.5 1068.3L229.9 1070.9L227.6 1069.7L225.2 1070.9L225.7 1068.3L223.8 1066.5L226.4 1066.1zM231.6 1065.0L232.8 1067.4L235.4 1067.8L233.5 1069.6L234.0 1072.3L231.6 1071.0L229.3 1072.3L229.7 1069.6L227.8 1067.8L230.4 1067.4zM235.6 1065.2L236.8 1067.6L239.4 1068.0L237.5 1069.9L238.0 1072.5L235.6 1071.2L233.3 1072.5L233.7 1069.9L231.8 1068.0L234.5 1067.6zM239.7 1063.5L240.8 1065.9L243.5 1066.3L241.6 1068.1L242.0 1070.7L239.7 1069.5L237.3 1070.7L237.8 1068.1L235.8 1066.3L238.5 1065.9zM243.7 1064.2L244.9 1066.5L247.5 1066.9L245.6 1068.8L246.0 1071.4L243.7 1070.2L241.3 1071.4L241.8 1068.8L239.9 1066.9L242.5 1066.5zM247.7 1062.6L248.9 1065.0L251.5 1065.4L249.6 1067.2L250.1 1069.8L247.7 1068.6L245.4 1069.8L245.8 1067.2L243.9 1065.4L246.5 1065.0zM251.7 1061.5L252.9 1063.9L255.5 1064.3L253.6 1066.1L254.1 1068.7L251.7 1067.5L249.4 1068.7L249.8 1066.1L247.9 1064.3L250.6 1063.9zM255.8 1061.6L256.9 1064.0L259.6 1064.4L257.7 1066.2L258.1 1068.8L255.8 1067.6L253.4 1068.8L253.9 1066.2L252.0 1064.4L254.6 1064.0zM259.8 1061.8L261.0 1064.2L263.6 1064.6L261.7 1066.4L262.1 1069.0L259.8 1067.8L257.4 1069.0L257.9 1066.4L256.0 1064.6L258.6 1064.2zM263.8 1063.4L265.0 1065.8L267.6 1066.2L265.7 1068.1L266.2 1070.7L263.8 1069.4L261.5 1070.7L261.9 1068.1L260.0 1066.2L262.6 1065.8zM267.8 1063.0L269.0 1065.4L271.6 1065.8L269.7 1067.6L270.2 1070.2L267.8 1069.0L265.5 1070.2L265.9 1067.6L264.0 1065.8L266.7 1065.4zM271.9 1062.0L273.0 1064.4L275.7 1064.8L273.8 1066.6L274.2 1069.2L271.9 1068.0L269.5 1069.2L270.0 1066.6L268.1 1064.8L270.7 1064.4zM275.9 1063.5L277.1 1065.9L279.7 1066.3L277.8 1068.1L278.2 1070.7L275.9 1069.5L273.5 1070.7L274.0 1068.1L272.1 1066.3L274.7 1065.9zM279.9 1064.7L281.1 1067.1L283.7 1067.5L281.8 1069.3L282.3 1072.0L279.9 1070.7L277.6 1072.0L278.0 1069.3L276.1 1067.5L278.7 1067.1zM283.9 1061.1L285.1 1063.5L287.7 1063.9L285.8 1065.7L286.3 1068.3L283.9 1067.1L281.6 1068.3L282.0 1065.7L280.1 1063.9L282.8 1063.5zM288.0 1063.3L289.1 1065.6L291.8 1066.0L289.9 1067.9L290.3 1070.5L288.0 1069.3L285.6 1070.5L286.1 1067.9L284.2 1066.0L286.8 1065.6zM292.0 1061.1L293.2 1063.5L295.8 1063.9L293.9 1065.7L294.3 1068.3L292.0 1067.1L289.6 1068.3L290.1 1065.7L288.2 1063.9L290.8 1063.5zM296.0 1062.8L297.2 1065.2L299.8 1065.6L297.9 1067.4L298.4 1070.0L296.0 1068.8L293.7 1070.0L294.1 1067.4L292.2 1065.6L294.8 1065.2zM300.0 1058.7L301.2 1061.1L303.8 1061.4L301.9 1063.3L302.4 1065.9L300.0 1064.7L297.7 1065.9L298.1 1063.3L296.2 1061.4L298.9 1061.1zM304.1 1061.6L305.2 1064.0L307.9 1064.3L306.0 1066.2L306.4 1068.8L304.1 1067.6L301.7 1068.8L302.2 1066.2L300.3 1064.3L302.9 1064.0zM308.1 1062.0L309.3 1064.4L311.9 1064.8L310.0 1066.6L310.4 1069.2L308.1 1068.0L305.7 1069.2L306.2 1066.6L304.3 1064.8L306.9 1064.4zM312.1 1059.3L313.3 1061.6L315.9 1062.0L314.0 1063.9L314.5 1066.5L312.1 1065.3L309.8 1066.5L310.2 1063.9L308.3 1062.0L310.9 1061.6zM316.1 1062.8L317.3 1065.2L319.9 1065.5L318.0 1067.4L318.5 1070.0L316.1 1068.8L313.8 1070.0L314.2 1067.4L312.3 1065.5L315.0 1065.2zM320.2 1059.2L321.3 1061.6L324.0 1061.9L322.1 1063.8L322.5 1066.4L320.2 1065.2L317.8 1066.4L318.3 1063.8L316.4 1061.9L319.0 1061.6zM324.2 1059.9L325.4 1062.3L328.0 1062.6L326.1 1064.5L326.5 1067.1L324.2 1065.9L321.8 1067.1L322.3 1064.5L320.4 1062.6L323.0 1062.3zM328.2 1058.8L329.4 1061.2L332.0 1061.6L330.1 1063.4L330.6 1066.1L328.2 1064.8L325.9 1066.1L326.3 1063.4L324.4 1061.6L327.0 1061.2zM332.2 1058.3L333.4 1060.6L336.0 1061.0L334.1 1062.9L334.6 1065.5L332.2 1064.3L329.9 1065.5L330.3 1062.9L328.4 1061.0L331.1 1060.6zM336.3 1060.4L337.4 1062.8L340.1 1063.2L338.2 1065.0L338.6 1067.6L336.3 1066.4L333.9 1067.6L334.4 1065.0L332.5 1063.2L335.1 1062.8zM340.3 1055.4L341.5 1057.7L344.1 1058.1L342.2 1060.0L342.6 1062.6L340.3 1061.4L337.9 1062.6L338.4 1060.0L336.5 1058.1L339.1 1057.7zM344.3 1060.2L345.5 1062.5L348.1 1062.9L346.2 1064.8L346.7 1067.4L344.3 1066.2L342.0 1067.4L342.4 1064.8L340.5 1062.9L343.1 1062.5zM348.3 1057.5L349.5 1059.9L352.1 1060.3L350.2 1062.2L350.7 1064.8L348.3 1063.5L346.0 1064.8L346.4 1062.2L344.5 1060.3L347.2 1059.9zM352.4 1058.3L353.5 1060.7L356.2 1061.1L354.3 1062.9L354.7 1065.5L352.4 1064.3L350.0 1065.5L350.5 1062.9L348.6 1061.1L351.2 1060.7zM356.4 1056.3L357.6 1058.7L360.2 1059.1L358.3 1060.9L358.7 1063.5L356.4 1062.3L354.0 1063.5L354.5 1060.9L352.6 1059.1L355.2 1058.7zM360.4 1056.9L361.6 1059.3L364.2 1059.6L362.3 1061.5L362.8 1064.1L360.4 1062.9L358.1 1064.1L358.5 1061.5L356.6 1059.6L359.2 1059.3zM364.4 1056.2L365.6 1058.6L368.3 1058.9L366.3 1060.8L366.8 1063.4L364.4 1062.2L362.1 1063.4L362.5 1060.8L360.6 1058.9L363.3 1058.6zM368.5 1055.1L369.6 1057.5L372.3 1057.9L370.4 1059.8L370.8 1062.4L368.5 1061.1L366.1 1062.4L366.6 1059.8L364.7 1057.9L367.3 1057.5zM372.5 1056.2L373.7 1058.6L376.3 1058.9L374.4 1060.8L374.8 1063.4L372.5 1062.2L370.1 1063.4L370.6 1060.8L368.7 1058.9L371.3 1058.6zM376.5 1052.9L377.7 1055.3L380.3 1055.7L378.4 1057.6L378.9 1060.2L376.5 1058.9L374.2 1060.2L374.6 1057.6L372.7 1055.7L375.3 1055.3zM380.5 1056.0L381.7 1058.4L384.4 1058.7L382.5 1060.6L382.9 1063.2L380.5 1062.0L378.2 1063.2L378.6 1060.6L376.7 1058.7L379.4 1058.4zM384.6 1052.6L385.7 1055.0L388.4 1055.4L386.5 1057.2L386.9 1059.9L384.6 1058.6L382.2 1059.9L382.7 1057.2L380.8 1055.4L383.4 1055.0zM388.6 1050.3L389.8 1052.7L392.4 1053.1L390.5 1054.9L391.0 1057.5L388.6 1056.3L386.2 1057.5L386.7 1054.9L384.8 1053.1L387.4 1052.7zM392.6 1051.5L393.8 1053.8L396.4 1054.2L394.5 1056.1L395.0 1058.7L392.6 1057.5L390.3 1058.7L390.7 1056.1L388.8 1054.2L391.4 1053.8zM396.7 1051.1L397.8 1053.5L400.5 1053.8L398.6 1055.7L399.0 1058.3L396.7 1057.1L394.3 1058.3L394.7 1055.7L392.8 1053.8L395.5 1053.5zM400.7 1049.8L401.9 1052.2L404.5 1052.6L402.6 1054.4L403.0 1057.0L400.7 1055.8L398.3 1057.0L398.8 1054.4L396.9 1052.6L399.5 1052.2zM404.7 1053.4L405.9 1055.8L408.5 1056.2L406.6 1058.1L407.1 1060.7L404.7 1059.4L402.4 1060.7L402.8 1058.1L400.9 1056.2L403.5 1055.8zM408.7 1051.7L409.9 1054.1L412.5 1054.5L410.6 1056.4L411.1 1059.0L408.7 1057.7L406.4 1059.0L406.8 1056.4L404.9 1054.5L407.6 1054.1zM412.8 1052.2L413.9 1054.6L416.6 1055.0L414.7 1056.9L415.1 1059.5L412.8 1058.2L410.4 1059.5L410.9 1056.9L408.9 1055.0L411.6 1054.6zM416.8 1052.4L418.0 1054.8L420.6 1055.2L418.7 1057.0L419.1 1059.6L416.8 1058.4L414.4 1059.6L414.9 1057.0L413.0 1055.2L415.6 1054.8zM420.8 1047.9L422.0 1050.3L424.6 1050.7L422.7 1052.5L423.2 1055.2L420.8 1053.9L418.5 1055.2L418.9 1052.5L417.0 1050.7L419.6 1050.3zM424.8 1053.0L426.0 1055.3L428.6 1055.7L426.7 1057.6L427.2 1060.2L424.8 1059.0L422.5 1060.2L422.9 1057.6L421.0 1055.7L423.7 1055.3zM428.9 1051.4L430.0 1053.8L432.7 1054.2L430.8 1056.0L431.2 1058.6L428.9 1057.4L426.5 1058.6L427.0 1056.0L425.1 1054.2L427.7 1053.8zM432.9 1047.3L434.1 1049.7L436.7 1050.1L434.8 1051.9L435.2 1054.6L432.9 1053.3L430.5 1054.6L431.0 1051.9L429.1 1050.1L431.7 1049.7zM436.9 1052.5L438.1 1054.9L440.7 1055.2L438.8 1057.1L439.3 1059.7L436.9 1058.5L434.6 1059.7L435.0 1057.1L433.1 1055.2L435.7 1054.9zM440.9 1050.2L442.1 1052.6L444.7 1053.0L442.8 1054.8L443.3 1057.4L440.9 1056.2L438.6 1057.4L439.0 1054.8L437.1 1053.0L439.8 1052.6zM445.0 1049.3L446.1 1051.6L448.8 1052.0L446.9 1053.9L447.3 1056.5L445.0 1055.3L442.6 1056.5L443.1 1053.9L441.2 1052.0L443.8 1051.6zM449.0 1052.1L450.2 1054.5L452.8 1054.8L450.9 1056.7L451.3 1059.3L449.0 1058.1L446.6 1059.3L447.1 1056.7L445.2 1054.8L447.8 1054.5zM453.0 1048.5L454.2 1050.9L456.8 1051.3L454.9 1053.2L455.4 1055.8L453.0 1054.5L450.7 1055.8L451.1 1053.2L449.2 1051.3L451.8 1050.9zM457.0 1051.3L458.2 1053.6L460.8 1054.0L458.9 1055.9L459.4 1058.5L457.0 1057.3L454.7 1058.5L455.1 1055.9L453.2 1054.0L455.9 1053.6zM461.1 1053.7L462.2 1056.1L464.9 1056.5L463.0 1058.3L463.4 1061.0L461.1 1059.7L458.7 1061.0L459.2 1058.3L457.3 1056.5L459.9 1056.1zM465.1 1052.4L466.3 1054.8L468.9 1055.2L467.0 1057.0L467.4 1059.6L465.1 1058.4L462.7 1059.6L463.2 1057.0L461.3 1055.2L463.9 1054.8zM469.1 1053.2L470.3 1055.6L472.9 1056.0L471.0 1057.9L471.5 1060.5L469.1 1059.2L466.8 1060.5L467.2 1057.9L465.3 1056.0L467.9 1055.6zM473.1 1055.8L474.3 1058.1L476.9 1058.5L475.0 1060.4L475.5 1063.0L473.1 1061.8L470.8 1063.0L471.2 1060.4L469.3 1058.5L472.0 1058.1zM477.2 1055.1L478.3 1057.5L481.0 1057.9L479.1 1059.8L479.5 1062.4L477.2 1061.1L474.8 1062.4L475.3 1059.8L473.4 1057.9L476.0 1057.5zM481.2 1052.5L482.4 1054.9L485.0 1055.3L483.1 1057.1L483.5 1059.8L481.2 1058.5L478.8 1059.8L479.3 1057.1L477.4 1055.3L480.0 1054.9zM485.2 1052.4L486.4 1054.8L489.0 1055.2L487.1 1057.0L487.6 1059.6L485.2 1058.4L482.9 1059.6L483.3 1057.0L481.4 1055.2L484.0 1054.8zM489.2 1054.5L490.4 1056.9L493.0 1057.3L491.1 1059.1L491.6 1061.7L489.2 1060.5L486.9 1061.7L487.3 1059.1L485.4 1057.3L488.1 1056.9zM493.3 1055.5L494.4 1057.8L497.1 1058.2L495.2 1060.1L495.6 1062.7L493.3 1061.5L490.9 1062.7L491.4 1060.1L489.5 1058.2L492.1 1057.8zM497.3 1053.9L498.5 1056.2L501.1 1056.6L499.2 1058.5L499.6 1061.1L497.3 1059.9L494.9 1061.1L495.4 1058.5L493.5 1056.6L496.1 1056.2zM501.3 1054.5L502.5 1056.9L505.1 1057.3L503.2 1059.1L503.7 1061.7L501.3 1060.5L499.0 1061.7L499.4 1059.1L497.5 1057.3L500.1 1056.9zM505.3 1055.5L506.5 1057.8L509.1 1058.2L507.2 1060.1L507.7 1062.7L505.3 1061.5L503.0 1062.7L503.4 1060.1L501.5 1058.2L504.2 1057.8zM509.4 1056.4L510.5 1058.8L513.2 1059.2L511.3 1061.0L511.7 1063.6L509.4 1062.4L507.0 1063.6L507.5 1061.0L505.6 1059.2L508.2 1058.8zM513.4 1057.7L514.6 1060.1L517.2 1060.4L515.3 1062.3L515.7 1064.9L513.4 1063.7L511.0 1064.9L511.5 1062.3L509.6 1060.4L512.2 1060.1zM517.4 1057.7L518.6 1060.1L521.2 1060.5L519.3 1062.3L519.8 1064.9L517.4 1063.7L515.1 1064.9L515.5 1062.3L513.6 1060.5L516.2 1060.1zM521.4 1056.5L522.6 1058.9L525.2 1059.3L523.3 1061.2L523.8 1063.8L521.4 1062.5L519.1 1063.8L519.5 1061.2L517.6 1059.3L520.3 1058.9zM525.5 1056.5L526.6 1058.9L529.3 1059.3L527.4 1061.2L527.8 1063.8L525.5 1062.5L523.1 1063.8L523.6 1061.2L521.7 1059.3L524.3 1058.9zM529.5 1057.1L530.7 1059.5L533.3 1059.9L531.4 1061.7L531.8 1064.4L529.5 1063.1L527.1 1064.4L527.6 1061.7L525.7 1059.9L528.3 1059.5zM533.5 1058.0L534.7 1060.4L537.3 1060.7L535.4 1062.6L535.9 1065.2L533.5 1064.0L531.2 1065.2L531.6 1062.6L529.7 1060.7L532.3 1060.4zM537.5 1060.9L538.7 1063.2L541.3 1063.6L539.4 1065.5L539.9 1068.1L537.5 1066.9L535.2 1068.1L535.6 1065.5L533.7 1063.6L536.4 1063.2zM541.6 1059.1L542.7 1061.5L545.4 1061.9L543.5 1063.7L543.9 1066.3L541.6 1065.1L539.2 1066.3L539.7 1063.7L537.8 1061.9L540.4 1061.5zM545.6 1059.6L546.8 1062.0L549.4 1062.4L547.5 1064.3L547.9 1066.9L545.6 1065.6L543.2 1066.9L543.7 1064.3L541.8 1062.4L544.4 1062.0zM549.6 1060.5L550.8 1062.9L553.4 1063.3L551.5 1065.1L552.0 1067.7L549.6 1066.5L547.3 1067.7L547.7 1065.1L545.8 1063.3L548.4 1062.9zM553.6 1061.6L554.8 1063.9L557.5 1064.3L555.6 1066.2L556.0 1068.8L553.6 1067.6L551.3 1068.8L551.7 1066.2L549.8 1064.3L552.5 1063.9zM557.7 1057.5L558.8 1059.9L561.5 1060.2L559.6 1062.1L560.0 1064.7L557.7 1063.5L555.3 1064.7L555.8 1062.1L553.9 1060.2L556.5 1059.9zM561.7 1060.0L562.9 1062.4L565.5 1062.8L563.6 1064.6L564.1 1067.2L561.7 1066.0L559.3 1067.2L559.8 1064.6L557.9 1062.8L560.5 1062.4zM565.7 1060.7L566.9 1063.0L569.5 1063.4L567.6 1065.3L568.1 1067.9L565.7 1066.7L563.4 1067.9L563.8 1065.3L561.9 1063.4L564.5 1063.0zM569.8 1062.3L570.9 1064.7L573.6 1065.1L571.7 1067.0L572.1 1069.6L569.8 1068.3L567.4 1069.6L567.8 1067.0L565.9 1065.1L568.6 1064.7zM573.8 1061.9L575.0 1064.2L577.6 1064.6L575.7 1066.5L576.1 1069.1L573.8 1067.9L571.4 1069.1L571.9 1066.5L570.0 1064.6L572.6 1064.2zM577.8 1061.8L579.0 1064.2L581.6 1064.5L579.7 1066.4L580.2 1069.0L577.8 1067.8L575.5 1069.0L575.9 1066.4L574.0 1064.5L576.6 1064.2zM581.8 1059.5L583.0 1061.9L585.6 1062.3L583.7 1064.1L584.2 1066.8L581.8 1065.5L579.5 1066.8L579.9 1064.1L578.0 1062.3L580.7 1061.9zM585.9 1062.0L587.0 1064.4L589.7 1064.8L587.8 1066.6L588.2 1069.3L585.9 1068.0L583.5 1069.3L584.0 1066.6L582.0 1064.8L584.7 1064.4zM589.9 1063.2L591.1 1065.6L593.7 1066.0L591.8 1067.8L592.2 1070.4L589.9 1069.2L587.5 1070.4L588.0 1067.8L586.1 1066.0L588.7 1065.6zM593.9 1061.7L595.1 1064.1L597.7 1064.4L595.8 1066.3L596.3 1068.9L593.9 1067.7L591.6 1068.9L592.0 1066.3L590.1 1064.4L592.7 1064.1zM597.9 1062.3L599.1 1064.7L601.7 1065.1L599.8 1067.0L600.3 1069.6L597.9 1068.3L595.6 1069.6L596.0 1067.0L594.1 1065.1L596.8 1064.7zM602.0 1062.4L603.1 1064.8L605.8 1065.1L603.9 1067.0L604.3 1069.6L602.0 1068.4L599.6 1069.6L600.1 1067.0L598.2 1065.1L600.8 1064.8zM606.0 1063.1L607.2 1065.5L609.8 1065.8L607.9 1067.7L608.3 1070.3L606.0 1069.1L603.6 1070.3L604.1 1067.7L602.2 1065.8L604.8 1065.5zM610.0 1062.8L611.2 1065.2L613.8 1065.6L611.9 1067.5L612.4 1070.1L610.0 1068.8L607.7 1070.1L608.1 1067.5L606.2 1065.6L608.8 1065.2zM614.0 1065.2L615.2 1067.6L617.8 1068.0L615.9 1069.9L616.4 1072.5L614.0 1071.2L611.7 1072.5L612.1 1069.9L610.2 1068.0L612.9 1067.6zM618.1 1064.3L619.2 1066.7L621.9 1067.0L620.0 1068.9L620.4 1071.5L618.1 1070.3L615.7 1071.5L616.2 1068.9L614.3 1067.0L616.9 1066.7zM622.1 1065.4L623.3 1067.8L625.9 1068.2L624.0 1070.1L624.4 1072.7L622.1 1071.4L619.7 1072.7L620.2 1070.1L618.3 1068.2L620.9 1067.8zM626.1 1062.6L627.3 1065.0L629.9 1065.4L628.0 1067.2L628.5 1069.8L626.1 1068.6L623.8 1069.8L624.2 1067.2L622.3 1065.4L624.9 1065.0zM630.1 1062.8L631.3 1065.1L633.9 1065.5L632.0 1067.4L632.5 1070.0L630.1 1068.8L627.8 1070.0L628.2 1067.4L626.3 1065.5L629.0 1065.1zM634.2 1065.1L635.3 1067.5L638.0 1067.9L636.1 1069.8L636.5 1072.4L634.2 1071.1L631.8 1072.4L632.3 1069.8L630.4 1067.9L633.0 1067.5zM638.2 1063.3L639.4 1065.7L642.0 1066.1L640.1 1067.9L640.5 1070.5L638.2 1069.3L635.8 1070.5L636.3 1067.9L634.4 1066.1L637.0 1065.7zM642.2 1066.5L643.4 1068.9L646.0 1069.3L644.1 1071.1L644.6 1073.7L642.2 1072.5L639.9 1073.7L640.3 1071.1L638.4 1069.3L641.0 1068.9zM646.2 1064.6L647.4 1067.0L650.0 1067.4L648.1 1069.2L648.6 1071.9L646.2 1070.6L643.9 1071.9L644.3 1069.2L642.4 1067.4L645.1 1067.0zM650.3 1065.5L651.4 1067.8L654.1 1068.2L652.2 1070.1L652.6 1072.7L650.3 1071.5L647.9 1072.7L648.4 1070.1L646.5 1068.2L649.1 1067.8zM654.3 1063.0L655.5 1065.4L658.1 1065.8L656.2 1067.7L656.6 1070.3L654.3 1069.0L651.9 1070.3L652.4 1067.7L650.5 1065.8L653.1 1065.4z" fill="#808000"/>
<rect x="158.10" y="1080.40" width="549.50" height="6.00" fill="#000000"/>
<rect x="158.10" y="640.00" width="6.00" height="446.40" fill="#535353"/>
<rect x="158.10" y="640.00" width="552.50" height="6.00" fill="#000000"/>
<rect x="707.60" y="640.00" width="6.00" height="446.40" fill="#FF0000"/>
<rect x="161.10" y="1001.90" width="6.20" height="6.20" fill="#535353"/>
<rect x="161.10" y="844.40" width="6.20" height="6.20" fill="#535353"/>
<rect x="161.10" y="686.90" width="6.20" height="6.20" fill="#535353"/>
<rect x="161.10" y="924.75" width="4.60" height="3.00" fill="#535353"/>
<rect x="161.10" y="767.25" width="4.60" height="3.00" fill="#535353"/>
<rect x="704.40" y="1080.20" width="6.20" height="6.20" fill="#FF0000"/>
<rect x="704.40" y="992.10" width="6.20" height="6.20" fill="#FF0000"/>
<rect x="704.40" y="904.00" width="6.20" height="6.20" fill="#FF0000"/>
<rect x="704.40" y="815.90" width="6.20" height="6.20" fill="#FF0000"/>
<rect x="704.40" y="727.80" width="6.20" height="6.20" fill="#FF0000"/>
<rect x="704.40" y="639.70" width="6.20" height="6.20" fill="#FF0000"/>
<rect x="249.30" y="1076.90" width="6.20" height="6.50" fill="#000000"/>
<rect x="432.70" y="1076.90" width="6.20" height="6.50" fill="#000000"/>
<rect x="616.10" y="1076.90" width="6.20" height="6.50" fill="#000000"/>
<rect x="342.60" y="1078.80" width="3.00" height="4.60" fill="#000000"/>
<rect x="526.00" y="1078.80" width="3.00" height="4.60" fill="#000000"/>
<text transform="translate(153.50,1020.70) scale(1.000,1.110)" font-size="48" fill="#535353" text-anchor="end">200</text>
<text transform="translate(153.50,863.20) scale(1.000,1.110)" font-size="48" fill="#535353" text-anchor="end">300</text>
<text transform="translate(153.50,705.70) scale(1.000,1.110)" font-size="48" fill="#535353" text-anchor="end">400</text>
<text transform="translate(717.70,1097.50) scale(1.000,1.110)" font-size="43" fill="#FF0000">0.00</text>
<text transform="translate(717.70,1009.40) scale(1.000,1.110)" font-size="43" fill="#FF0000">0.02</text>
<text transform="translate(717.70,921.30) scale(1.000,1.110)" font-size="43" fill="#FF0000">0.04</text>
<text transform="translate(717.70,833.20) scale(1.000,1.110)" font-size="43" fill="#FF0000">0.06</text>
<text transform="translate(717.70,745.10) scale(1.000,1.110)" font-size="43" fill="#FF0000">0.08</text>
<text transform="translate(717.70,657.00) scale(1.000,1.110)" font-size="43" fill="#FF0000">0.10</text>
<text transform="translate(252.40,1126.70) scale(1.000,1.000)" font-size="47" fill="#000000" text-anchor="middle">-1</text>
<text transform="translate(435.80,1126.70) scale(1.000,1.000)" font-size="47" fill="#000000" text-anchor="middle">0</text>
<text transform="translate(619.20,1126.70) scale(1.000,1.000)" font-size="47" fill="#000000" text-anchor="middle">1</text>
<text transform="translate(435.50,1158.30) scale(1.000,1.040)" font-size="43.2" fill="#000000" text-anchor="middle">Electric field(MV/cm)</text>
<text transform="translate(69.60,861.40) scale(1.000,1.054) rotate(-90)" font-size="49.6" fill="#000000" text-anchor="middle">Dielectric constant</text>
<text transform="translate(838.30,849.90) scale(1.000,1.050) rotate(-90)" font-size="54" fill="#FF0000" text-anchor="middle">Loss targent δ</text>
<text transform="translate(1.50,597.50) scale(1.030,1.000)" font-size="45" fill="#000000" font-weight="normal">(c)</text>
<ellipse cx="487.8" cy="800.5" rx="29.5" ry="54" transform="rotate(6 487.8 800.5)" fill="none" stroke="#000" stroke-width="3.6" stroke-dasharray="14,6,3,6"/>
<rect x="438.00" y="835.80" width="20.30" height="4.40" fill="#000000"/>
<path d="M413.2,838.0 L440.7,830.8 L440.7,845.2Z" fill="#000"/>
<ellipse cx="475.8" cy="1026.8" rx="29" ry="52.5" transform="rotate(3 475.8 1026.8)" fill="none" stroke="#FF0000" stroke-width="3.6" stroke-dasharray="14,6,3,6"/>
<rect x="500.10" y="981.70" width="20.00" height="4.40" fill="#FF0000"/>
<path d="M545.2,983.9 L518.6,976.7 L518.6,991.1Z" fill="#FF0000"/>
<line x1="191.4" y1="671.3" x2="247.5" y2="671.3" stroke="#535353" stroke-width="3.2" stroke-linecap="round" stroke-dasharray="0,7.9"/>
<rect x="217.1" y="666.8" width="9.0" height="9.0" fill="#535353"/>
<text transform="translate(256.80,682.20) scale(1.000,1.040)" font-size="30" fill="#000000">0%</text>
<text transform="translate(307.35,682.20) scale(1.000,1.040)" font-size="30" fill="#000000"><tspan font-style="italic">ε</tspan><tspan font-size="22.6" dy="7.9">r</tspan></text>
<line x1="191.4" y1="717.1" x2="247.5" y2="717.1" stroke="#F84848" stroke-width="3.2" stroke-linecap="round" stroke-dasharray="0,7.9"/>
<path d="M217.1,713.1L226.1,713.1L221.6,721.1Z" fill="#F84848"/>
<text transform="translate(256.80,728.00) scale(1.000,1.040)" font-size="30" fill="#000000">3%</text>
<text transform="translate(307.35,728.00) scale(1.000,1.040)" font-size="30" fill="#000000"><tspan font-style="italic">ε</tspan><tspan font-size="22.6" dy="7.9">r</tspan></text>
<line x1="191.4" y1="763.1" x2="247.5" y2="763.1" stroke="#CC9900" stroke-width="3.2" stroke-linecap="round" stroke-dasharray="0,7.9"/>
<path d="M217.5,763.1L225.7,758.6L225.7,767.6Z" fill="#CC9900"/>
<text transform="translate(256.80,774.00) scale(1.000,1.040)" font-size="30" fill="#000000">5%</text>
<text transform="translate(307.35,774.00) scale(1.000,1.040)" font-size="30" fill="#000000"><tspan font-style="italic">ε</tspan><tspan font-size="22.6" dy="7.9">r</tspan></text>
<line x1="191.4" y1="808.8" x2="247.5" y2="808.8" stroke="#808000" stroke-width="3.2" stroke-linecap="round" stroke-dasharray="0,7.9"/>
<polygon points="221.6,804.3 222.9,807.0 225.9,807.4 223.7,809.5 224.2,812.4 221.6,811.0 219.0,812.4 219.5,809.5 217.3,807.4 220.3,807.0" fill="#808000"/>
<text transform="translate(256.80,819.70) scale(1.000,1.040)" font-size="30" fill="#000000">10%</text>
<text transform="translate(321.80,819.70) scale(1.000,1.040)" font-size="30" fill="#000000"><tspan font-style="italic">ε</tspan><tspan font-size="22.6" dy="7.9">r</tspan></text>
<line x1="530.60" y1="676.00" x2="587.60" y2="676.00" stroke="#535353" stroke-width="3.6" stroke-linecap="round"/>
<rect x="554.9" y="672.0" width="8.0" height="8.0" fill="#535353"/>
<text transform="translate(594.40,686.90) scale(1.000,1.040)" font-size="30" fill="#000000">0%</text>
<text transform="translate(652.90,686.90) scale(1.000,1.040)" font-size="29.3" fill="#000000">tgδ</text>
<line x1="530.60" y1="717.80" x2="587.60" y2="717.80" stroke="#F84848" stroke-width="3.6" stroke-linecap="round"/>
<path d="M554.9,714.2L562.9,714.2L558.9,721.4Z" fill="#F84848"/>
<text transform="translate(594.40,728.70) scale(1.000,1.040)" font-size="30" fill="#000000">3%</text>
<text transform="translate(652.90,728.70) scale(1.000,1.040)" font-size="29.3" fill="#000000">tgδ</text>
<line x1="530.60" y1="760.20" x2="587.60" y2="760.20" stroke="#CC9900" stroke-width="3.6" stroke-linecap="round"/>
<path d="M555.3,760.2L562.5,756.2L562.5,764.2Z" fill="#CC9900"/>
<text transform="translate(594.40,771.10) scale(1.000,1.040)" font-size="30" fill="#000000">5%</text>
<text transform="translate(652.90,771.10) scale(1.000,1.040)" font-size="29.3" fill="#000000">tgδ</text>
<line x1="530.60" y1="802.60" x2="587.60" y2="802.60" stroke="#808000" stroke-width="3.6" stroke-linecap="round"/>
<polygon points="558.9,798.6 560.1,801.0 562.7,801.4 560.8,803.2 561.3,805.8 558.9,804.6 556.5,805.8 557.0,803.2 555.1,801.4 557.7,801.0" fill="#808000"/>
<text transform="translate(594.60,813.50) scale(1.000,1.040)" font-size="30" fill="#000000">10%</text>
<text transform="translate(666.60,813.50) scale(1.000,1.040)" font-size="29.3" fill="#000000">tgδ</text>
</g>
<g id="pd">
<line x1="1066.29" y1="1029.84" x2="1096.56" y2="987.66" stroke="#FF0000" stroke-width="5.5" stroke-linecap="round"/><line x1="1116.33" y1="976.80" x2="1136.22" y2="975.70" stroke="#FF0000" stroke-width="5.5" stroke-linecap="round"/><line x1="1152.25" y1="963.02" x2="1190.00" y2="835.73" stroke="#FF0000" stroke-width="5.5" stroke-linecap="round"/><line x1="1198.32" y1="835.31" x2="1233.63" y2="920.94" stroke="#FF0000" stroke-width="5.5" stroke-linecap="round"/><line x1="1250.90" y1="932.85" x2="1270.75" y2="933.40" stroke="#FF0000" stroke-width="5.5" stroke-linecap="round"/><line x1="1292.71" y1="925.58" x2="1318.64" y2="903.17" stroke="#FF0000" stroke-width="5.5" stroke-linecap="round"/><line x1="1340.60" y1="894.83" x2="1405.30" y2="893.92" stroke="#FF0000" stroke-width="5.5" stroke-linecap="round"/><line x1="1429.28" y1="898.71" x2="1496.02" y2="927.54" stroke="#FF0000" stroke-width="5.5" stroke-linecap="round"/>
<path d="M1059.00,1030.25L1069.25,1040.00L1059.00,1049.75L1048.75,1040.00Z" fill="#fff"/><path d="M1059.00,1030.25L1048.75,1040.00L1059.00,1049.75Z" fill="#FF0000"/><path d="M1059.00,1031.15L1068.35,1040.00L1059.00,1048.85L1049.65,1040.00Z" fill="none" stroke="#FF0000" stroke-width="1.5" stroke-linejoin="miter"/><path d="M1103.85,967.75L1114.10,977.50L1103.85,987.25L1093.60,977.50Z" fill="#fff"/><path d="M1103.85,967.75L1093.60,977.50L1103.85,987.25Z" fill="#FF0000"/><path d="M1103.85,968.65L1113.20,977.50L1103.85,986.35L1094.50,977.50Z" fill="none" stroke="#FF0000" stroke-width="1.5" stroke-linejoin="miter"/><path d="M1148.70,965.25L1158.95,975.00L1148.70,984.75L1138.45,975.00Z" fill="#fff"/><path d="M1148.70,965.25L1138.45,975.00L1148.70,984.75Z" fill="#FF0000"/><path d="M1148.70,966.15L1158.05,975.00L1148.70,983.85L1139.35,975.00Z" fill="none" stroke="#FF0000" stroke-width="1.5" stroke-linejoin="miter"/><path d="M1193.55,814.00L1203.80,823.75L1193.55,833.50L1183.30,823.75Z" fill="#fff"/><path d="M1193.55,814.00L1183.30,823.75L1193.55,833.50Z" fill="#FF0000"/><path d="M1193.55,814.90L1202.90,823.75L1193.55,832.60L1184.20,823.75Z" fill="none" stroke="#FF0000" stroke-width="1.5" stroke-linejoin="miter"/><path d="M1238.40,922.75L1248.65,932.50L1238.40,942.25L1228.15,932.50Z" fill="#fff"/><path d="M1238.40,922.75L1228.15,932.50L1238.40,942.25Z" fill="#FF0000"/><path d="M1238.40,923.65L1247.75,932.50L1238.40,941.35L1229.05,932.50Z" fill="none" stroke="#FF0000" stroke-width="1.5" stroke-linejoin="miter"/><path d="M1283.25,924.00L1293.50,933.75L1283.25,943.50L1273.00,933.75Z" fill="#fff"/><path d="M1283.25,924.00L1273.00,933.75L1283.25,943.50Z" fill="#FF0000"/><path d="M1283.25,924.90L1292.60,933.75L1283.25,942.60L1273.90,933.75Z" fill="none" stroke="#FF0000" stroke-width="1.5" stroke-linejoin="miter"/><path d="M1328.10,885.25L1338.35,895.00L1328.10,904.75L1317.85,895.00Z" fill="#fff"/><path d="M1328.10,885.25L1317.85,895.00L1328.10,904.75Z" fill="#FF0000"/><path d="M1328.10,886.15L1337.45,895.00L1328.10,903.85L1318.75,895.00Z" fill="none" stroke="#FF0000" stroke-width="1.5" stroke-linejoin="miter"/><path d="M1417.80,884.00L1428.05,893.75L1417.80,903.50L1407.55,893.75Z" fill="#fff"/><path d="M1417.80,884.00L1407.55,893.75L1417.80,903.50Z" fill="#FF0000"/><path d="M1417.80,884.90L1427.15,893.75L1417.80,902.60L1408.45,893.75Z" fill="none" stroke="#FF0000" stroke-width="1.5" stroke-linejoin="miter"/><path d="M1507.50,922.75L1517.75,932.50L1507.50,942.25L1497.25,932.50Z" fill="#fff"/><path d="M1507.50,922.75L1497.25,932.50L1507.50,942.25Z" fill="#FF0000"/><path d="M1507.50,923.65L1516.85,932.50L1507.50,941.35L1498.15,932.50Z" fill="none" stroke="#FF0000" stroke-width="1.5" stroke-linejoin="miter"/>
<line x1="1063.61" y1="846.12" x2="1099.24" y2="935.88" stroke="#000080" stroke-width="5.5" stroke-linecap="round"/><line x1="1114.64" y1="953.81" x2="1137.91" y2="967.44" stroke="#000080" stroke-width="5.5" stroke-linecap="round"/><line x1="1151.13" y1="961.49" x2="1191.12" y2="759.26" stroke="#000080" stroke-width="5.5" stroke-linecap="round"/><line x1="1196.73" y1="759.09" x2="1235.22" y2="905.41" stroke="#000080" stroke-width="5.5" stroke-linecap="round"/><line x1="1250.73" y1="915.44" x2="1270.92" y2="912.06" stroke="#000080" stroke-width="5.5" stroke-linecap="round"/><line x1="1295.71" y1="908.96" x2="1315.64" y2="907.29" stroke="#000080" stroke-width="5.5" stroke-linecap="round"/><line x1="1340.53" y1="904.97" x2="1405.37" y2="898.28" stroke="#000080" stroke-width="5.5" stroke-linecap="round"/><line x1="1425.89" y1="887.47" x2="1499.41" y2="800.78" stroke="#000080" stroke-width="5.5" stroke-linecap="round"/>
<path d="M1059.00,824.75L1069.25,834.50L1059.00,844.25L1048.75,834.50Z" fill="#fff"/><path d="M1059.00,824.75L1069.25,834.50L1059.00,844.25Z" fill="#000080"/><path d="M1059.00,825.65L1068.35,834.50L1059.00,843.35L1049.65,834.50Z" fill="none" stroke="#000080" stroke-width="1.5" stroke-linejoin="miter"/><path d="M1103.85,937.75L1114.10,947.50L1103.85,957.25L1093.60,947.50Z" fill="#fff"/><path d="M1103.85,937.75L1114.10,947.50L1103.85,957.25Z" fill="#000080"/><path d="M1103.85,938.65L1113.20,947.50L1103.85,956.35L1094.50,947.50Z" fill="none" stroke="#000080" stroke-width="1.5" stroke-linejoin="miter"/><path d="M1148.70,964.00L1158.95,973.75L1148.70,983.50L1138.45,973.75Z" fill="#fff"/><path d="M1148.70,964.00L1158.95,973.75L1148.70,983.50Z" fill="#000080"/><path d="M1148.70,964.90L1158.05,973.75L1148.70,982.60L1139.35,973.75Z" fill="none" stroke="#000080" stroke-width="1.5" stroke-linejoin="miter"/><path d="M1193.55,737.25L1203.80,747.00L1193.55,756.75L1183.30,747.00Z" fill="#fff"/><path d="M1193.55,737.25L1203.80,747.00L1193.55,756.75Z" fill="#000080"/><path d="M1193.55,738.15L1202.90,747.00L1193.55,755.85L1184.20,747.00Z" fill="none" stroke="#000080" stroke-width="1.5" stroke-linejoin="miter"/><path d="M1238.40,907.75L1248.65,917.50L1238.40,927.25L1228.15,917.50Z" fill="#fff"/><path d="M1238.40,907.75L1248.65,917.50L1238.40,927.25Z" fill="#000080"/><path d="M1238.40,908.65L1247.75,917.50L1238.40,926.35L1229.05,917.50Z" fill="none" stroke="#000080" stroke-width="1.5" stroke-linejoin="miter"/><path d="M1283.25,900.25L1293.50,910.00L1283.25,919.75L1273.00,910.00Z" fill="#fff"/><path d="M1283.25,900.25L1293.50,910.00L1283.25,919.75Z" fill="#000080"/><path d="M1283.25,901.15L1292.60,910.00L1283.25,918.85L1273.90,910.00Z" fill="none" stroke="#000080" stroke-width="1.5" stroke-linejoin="miter"/><path d="M1328.10,896.50L1338.35,906.25L1328.10,916.00L1317.85,906.25Z" fill="#fff"/><path d="M1328.10,896.50L1338.35,906.25L1328.10,916.00Z" fill="#000080"/><path d="M1328.10,897.40L1337.45,906.25L1328.10,915.10L1318.75,906.25Z" fill="none" stroke="#000080" stroke-width="1.5" stroke-linejoin="miter"/><path d="M1417.80,887.25L1428.05,897.00L1417.80,906.75L1407.55,897.00Z" fill="#fff"/><path d="M1417.80,887.25L1428.05,897.00L1417.80,906.75Z" fill="#000080"/><path d="M1417.80,888.15L1427.15,897.00L1417.80,905.85L1408.45,897.00Z" fill="none" stroke="#000080" stroke-width="1.5" stroke-linejoin="miter"/><path d="M1507.50,781.50L1517.75,791.25L1507.50,801.00L1497.25,791.25Z" fill="#fff"/><path d="M1507.50,781.50L1517.75,791.25L1507.50,801.00Z" fill="#000080"/><path d="M1507.50,782.40L1516.85,791.25L1507.50,800.10L1498.15,791.25Z" fill="none" stroke="#000080" stroke-width="1.5" stroke-linejoin="miter"/>
<rect x="1011.90" y="1084.10" width="537.10" height="5.00" fill="#000000"/>
<rect x="1011.90" y="645.20" width="539.60" height="4.50" fill="#000000"/>
<rect x="1011.90" y="645.20" width="5.00" height="443.90" fill="#FF0000"/>
<rect x="1548.50" y="645.20" width="6.00" height="443.90" fill="#000080"/>
<rect x="1014.40" y="1049.50" width="5.00" height="5.00" fill="#FF0000"/>
<rect x="1014.40" y="982.00" width="5.00" height="5.00" fill="#FF0000"/>
<rect x="1014.40" y="914.50" width="5.00" height="5.00" fill="#FF0000"/>
<rect x="1014.40" y="847.00" width="5.00" height="5.00" fill="#FF0000"/>
<rect x="1014.40" y="779.50" width="5.00" height="5.00" fill="#FF0000"/>
<rect x="1014.40" y="712.00" width="5.00" height="5.00" fill="#FF0000"/>
<rect x="1014.40" y="644.50" width="5.00" height="5.00" fill="#FF0000"/>
<rect x="1546.00" y="1084.50" width="5.50" height="5.00" fill="#000080"/>
<rect x="1546.00" y="996.50" width="5.50" height="5.00" fill="#000080"/>
<rect x="1546.00" y="908.50" width="5.50" height="5.00" fill="#000080"/>
<rect x="1546.00" y="820.50" width="5.50" height="5.00" fill="#000080"/>
<rect x="1546.00" y="732.50" width="5.50" height="5.00" fill="#000080"/>
<rect x="1546.00" y="644.50" width="5.50" height="5.00" fill="#000080"/>
<rect x="1056.50" y="1081.60" width="5.00" height="5.00" fill="#000000"/>
<rect x="1146.20" y="1081.60" width="5.00" height="5.00" fill="#000000"/>
<rect x="1235.90" y="1081.60" width="5.00" height="5.00" fill="#000000"/>
<rect x="1325.60" y="1081.60" width="5.00" height="5.00" fill="#000000"/>
<rect x="1415.30" y="1081.60" width="5.00" height="5.00" fill="#000000"/>
<rect x="1505.00" y="1081.60" width="5.00" height="5.00" fill="#000000"/>
<text transform="translate(1008.80,1066.10) scale(1.000,0.940)" font-size="49" fill="#FF0000" text-anchor="end">45</text>
<text transform="translate(1008.80,998.60) scale(1.000,0.940)" font-size="49" fill="#FF0000" text-anchor="end">50</text>
<text transform="translate(1008.80,931.10) scale(1.000,0.940)" font-size="49" fill="#FF0000" text-anchor="end">55</text>
<text transform="translate(1008.80,863.60) scale(1.000,0.940)" font-size="49" fill="#FF0000" text-anchor="end">60</text>
<text transform="translate(1008.80,796.10) scale(1.000,0.940)" font-size="49" fill="#FF0000" text-anchor="end">65</text>
<text transform="translate(1008.80,728.60) scale(1.000,0.940)" font-size="49" fill="#FF0000" text-anchor="end">70</text>
<text transform="translate(1008.80,661.10) scale(1.000,0.940)" font-size="49" fill="#FF0000" text-anchor="end">75</text>
<text transform="translate(1556.50,1101.40) scale(1.000,0.954)" font-size="48" fill="#000080">0</text>
<text transform="translate(1556.50,1013.40) scale(1.000,0.954)" font-size="48" fill="#000080">40</text>
<text transform="translate(1556.50,925.40) scale(1.000,0.954)" font-size="48" fill="#000080">80</text>
<text transform="translate(1556.50,837.40) scale(1.000,0.954)" font-size="48" fill="#000080">120</text>
<text transform="translate(1556.50,749.40) scale(1.000,0.954)" font-size="48" fill="#000080">160</text>
<text transform="translate(1556.50,661.40) scale(1.000,0.954)" font-size="48" fill="#000080">200</text>
<text transform="translate(1059.00,1126.70) scale(1.000,0.930)" font-size="49" fill="#000000" text-anchor="middle">0</text>
<text transform="translate(1148.70,1126.70) scale(1.000,0.930)" font-size="49" fill="#000000" text-anchor="middle">2</text>
<text transform="translate(1238.40,1126.70) scale(1.000,0.930)" font-size="49" fill="#000000" text-anchor="middle">4</text>
<text transform="translate(1328.10,1126.70) scale(1.000,0.930)" font-size="49" fill="#000000" text-anchor="middle">6</text>
<text transform="translate(1417.80,1126.70) scale(1.000,0.930)" font-size="49" fill="#000000" text-anchor="middle">8</text>
<text transform="translate(1507.50,1126.70) scale(1.000,0.930)" font-size="49" fill="#000000" text-anchor="middle">10</text>
<text transform="translate(1283.00,1167.60) scale(1.000,0.940)" font-size="47.4" fill="#000000" text-anchor="middle">Zr content(%)</text>
<text transform="translate(948.80,881.70) scale(1.000,0.910) rotate(-90)" font-size="48.5" fill="#FF0000" text-anchor="middle">Tunability(%)</text>
<text transform="translate(1687.00,877.90) scale(1.000,0.917) rotate(-90)" font-size="48.4" fill="#000080" text-anchor="middle">Figure of merit</text>
<text transform="translate(875.40,597.00) scale(1.000,1.000)" font-size="45" fill="#000000" font-weight="normal">(d)</text>
<line x1="1028.80" y1="677.40" x2="1050.50" y2="677.40" stroke="#FF0000" stroke-width="5.5" stroke-linecap="round"/>
<line x1="1076.00" y1="677.40" x2="1098.50" y2="677.40" stroke="#FF0000" stroke-width="5.5" stroke-linecap="round"/>
<path d="M1063.30,667.55L1073.55,677.40L1063.30,687.25L1053.05,677.40Z" fill="#fff"/><path d="M1063.30,667.55L1053.05,677.40L1063.30,687.25Z" fill="#FF0000"/><path d="M1063.30,668.45L1072.65,677.40L1063.30,686.35L1053.95,677.40Z" fill="none" stroke="#FF0000" stroke-width="1.5" stroke-linejoin="miter"/>
<line x1="1028.80" y1="711.30" x2="1050.50" y2="711.30" stroke="#000080" stroke-width="5.5" stroke-linecap="round"/>
<line x1="1076.00" y1="711.30" x2="1098.50" y2="711.30" stroke="#000080" stroke-width="5.5" stroke-linecap="round"/>
<path d="M1063.30,701.45L1073.55,711.30L1063.30,721.15L1053.05,711.30Z" fill="#fff"/><path d="M1063.30,701.45L1073.55,711.30L1063.30,721.15Z" fill="#000080"/><path d="M1063.30,702.35L1072.65,711.30L1063.30,720.25L1053.95,711.30Z" fill="none" stroke="#000080" stroke-width="1.5" stroke-linejoin="miter"/>
<text transform="translate(1117.20,689.40) scale(1.000,0.955)" font-size="35" fill="#FF0000">Tunability</text>
<text transform="translate(1116.60,723.60) scale(1.000,0.950)" font-size="35.6" fill="#000080">d−FOM</text>
</g>
</svg></body></html>
